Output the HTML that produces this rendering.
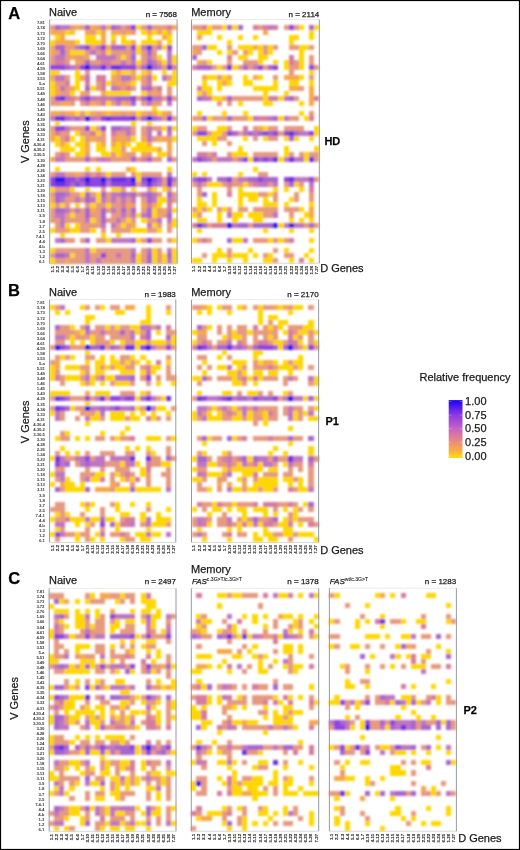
<!DOCTYPE html>
<html><head><meta charset="utf-8"><style>
html,body{margin:0;padding:0;background:#fff;}
body{width:520px;height:850px;overflow:hidden;}
svg{display:block;will-change:transform;}
text{font-family:"Liberation Sans",sans-serif;fill:#1a1a1a;stroke:#1a1a1a;stroke-width:0.25px;}
.vl{stroke-width:0px;}
.dl{stroke-width:0.12px;stroke:#2a2a2a;}
.sup{stroke-width:0.1px;}
.t{font-size:11px;}
.pl{font-size:16.5px;font-weight:bold;fill:#000;}
.bl{font-size:11px;font-weight:bold;fill:#000;}
.n{font-size:8px;}
.lg{font-size:11px;}
.vl{font-size:4.3px;font-weight:bold;text-anchor:end;fill:#3a3a3a;letter-spacing:-0.2px;}
.dl{font-size:4.3px;font-weight:bold;text-anchor:end;fill:#2a2a2a;}
.fas{font-size:8px;font-style:italic;}
.sup{font-size:5.1px;font-style:normal;}
</style></head><body>
<svg width="520" height="850" viewBox="0 0 520 850">
<defs><filter id="bl" x="-5%" y="-5%" width="110%" height="110%"><feGaussianBlur stdDeviation="0.8"/></filter></defs>
<rect x="0.5" y="0.5" width="519" height="849" fill="#fff" stroke="#000" stroke-width="1.2"/>
<g filter="url(#bl)" shape-rendering="crispEdges">
<rect x="49.70" y="24.68" width="5.10" height="5.08" fill="#E69A80"/>
<rect x="54.80" y="24.68" width="5.10" height="5.08" fill="#A666CE"/>
<rect x="59.89" y="24.68" width="5.10" height="5.08" fill="#BE76C2"/>
<rect x="64.99" y="24.68" width="5.10" height="5.08" fill="#BE76C2"/>
<rect x="70.08" y="24.68" width="5.10" height="5.08" fill="#E69A80"/>
<rect x="75.18" y="24.68" width="5.10" height="5.08" fill="#F6A84C"/>
<rect x="80.28" y="24.68" width="5.10" height="5.08" fill="#E69A80"/>
<rect x="85.37" y="24.68" width="5.10" height="5.08" fill="#A666CE"/>
<rect x="90.47" y="24.68" width="5.10" height="5.08" fill="#F6A84C"/>
<rect x="95.56" y="24.68" width="5.10" height="5.08" fill="#E69A80"/>
<rect x="100.66" y="24.68" width="5.10" height="5.08" fill="#BE76C2"/>
<rect x="105.76" y="24.68" width="5.10" height="5.08" fill="#F6A84C"/>
<rect x="110.85" y="24.68" width="5.10" height="5.08" fill="#A666CE"/>
<rect x="115.95" y="24.68" width="5.10" height="5.08" fill="#BE76C2"/>
<rect x="121.04" y="24.68" width="5.10" height="5.08" fill="#E69A80"/>
<rect x="126.14" y="24.68" width="5.10" height="5.08" fill="#D67C9E"/>
<rect x="131.24" y="24.68" width="5.10" height="5.08" fill="#9044DE"/>
<rect x="136.33" y="24.68" width="5.10" height="5.08" fill="#FFD700"/>
<rect x="141.43" y="24.68" width="5.10" height="5.08" fill="#E69A80"/>
<rect x="146.52" y="24.68" width="5.10" height="5.08" fill="#A666CE"/>
<rect x="151.62" y="24.68" width="5.10" height="5.08" fill="#E69A80"/>
<rect x="156.72" y="24.68" width="5.10" height="5.08" fill="#E69A80"/>
<rect x="161.81" y="24.68" width="5.10" height="5.08" fill="#E69A80"/>
<rect x="166.91" y="24.68" width="5.10" height="5.08" fill="#D67C9E"/>
<rect x="172.00" y="24.68" width="5.10" height="5.08" fill="#F6A84C"/>
<rect x="49.70" y="29.76" width="5.10" height="5.08" fill="#F6A84C"/>
<rect x="54.80" y="29.76" width="5.10" height="5.08" fill="#F6A84C"/>
<rect x="59.89" y="29.76" width="5.10" height="5.08" fill="#F6A84C"/>
<rect x="64.99" y="29.76" width="5.10" height="5.08" fill="#FFD700"/>
<rect x="70.08" y="29.76" width="5.10" height="5.08" fill="#FFC21E"/>
<rect x="85.37" y="29.76" width="5.10" height="5.08" fill="#F6A84C"/>
<rect x="90.47" y="29.76" width="5.10" height="5.08" fill="#E69A80"/>
<rect x="95.56" y="29.76" width="5.10" height="5.08" fill="#FFD700"/>
<rect x="100.66" y="29.76" width="5.10" height="5.08" fill="#F6A84C"/>
<rect x="110.85" y="29.76" width="5.10" height="5.08" fill="#F6A84C"/>
<rect x="115.95" y="29.76" width="5.10" height="5.08" fill="#F6A84C"/>
<rect x="121.04" y="29.76" width="5.10" height="5.08" fill="#E69A80"/>
<rect x="126.14" y="29.76" width="5.10" height="5.08" fill="#F6A84C"/>
<rect x="131.24" y="29.76" width="5.10" height="5.08" fill="#E69A80"/>
<rect x="141.43" y="29.76" width="5.10" height="5.08" fill="#FFD700"/>
<rect x="146.52" y="29.76" width="5.10" height="5.08" fill="#F6A84C"/>
<rect x="151.62" y="29.76" width="5.10" height="5.08" fill="#FFD700"/>
<rect x="156.72" y="29.76" width="5.10" height="5.08" fill="#F6A84C"/>
<rect x="161.81" y="29.76" width="5.10" height="5.08" fill="#FFD700"/>
<rect x="166.91" y="29.76" width="5.10" height="5.08" fill="#F6A84C"/>
<rect x="54.80" y="34.84" width="5.10" height="5.08" fill="#FFD700"/>
<rect x="59.89" y="34.84" width="5.10" height="5.08" fill="#F6A84C"/>
<rect x="85.37" y="34.84" width="5.10" height="5.08" fill="#FFD700"/>
<rect x="90.47" y="34.84" width="5.10" height="5.08" fill="#FFD700"/>
<rect x="100.66" y="34.84" width="5.10" height="5.08" fill="#F6A84C"/>
<rect x="110.85" y="34.84" width="5.10" height="5.08" fill="#FFD700"/>
<rect x="121.04" y="34.84" width="5.10" height="5.08" fill="#FFD700"/>
<rect x="146.52" y="34.84" width="5.10" height="5.08" fill="#FFD700"/>
<rect x="161.81" y="34.84" width="5.10" height="5.08" fill="#F6A84C"/>
<rect x="166.91" y="34.84" width="5.10" height="5.08" fill="#FFD700"/>
<rect x="49.70" y="39.92" width="5.10" height="5.08" fill="#FFD700"/>
<rect x="54.80" y="39.92" width="5.10" height="5.08" fill="#F6A84C"/>
<rect x="59.89" y="39.92" width="5.10" height="5.08" fill="#F6A84C"/>
<rect x="64.99" y="39.92" width="5.10" height="5.08" fill="#F6A84C"/>
<rect x="70.08" y="39.92" width="5.10" height="5.08" fill="#F6A84C"/>
<rect x="75.18" y="39.92" width="5.10" height="5.08" fill="#FFD700"/>
<rect x="85.37" y="39.92" width="5.10" height="5.08" fill="#FFD700"/>
<rect x="90.47" y="39.92" width="5.10" height="5.08" fill="#FFD700"/>
<rect x="95.56" y="39.92" width="5.10" height="5.08" fill="#FFD700"/>
<rect x="100.66" y="39.92" width="5.10" height="5.08" fill="#F6A84C"/>
<rect x="110.85" y="39.92" width="5.10" height="5.08" fill="#F6A84C"/>
<rect x="121.04" y="39.92" width="5.10" height="5.08" fill="#FFD700"/>
<rect x="126.14" y="39.92" width="5.10" height="5.08" fill="#FFD700"/>
<rect x="131.24" y="39.92" width="5.10" height="5.08" fill="#F6A84C"/>
<rect x="141.43" y="39.92" width="5.10" height="5.08" fill="#FFD700"/>
<rect x="146.52" y="39.92" width="5.10" height="5.08" fill="#FFD700"/>
<rect x="151.62" y="39.92" width="5.10" height="5.08" fill="#FFD700"/>
<rect x="156.72" y="39.92" width="5.10" height="5.08" fill="#F6A84C"/>
<rect x="166.91" y="39.92" width="5.10" height="5.08" fill="#FFD700"/>
<rect x="49.70" y="45.01" width="5.10" height="5.08" fill="#F6A84C"/>
<rect x="54.80" y="45.01" width="5.10" height="5.08" fill="#A666CE"/>
<rect x="59.89" y="45.01" width="5.10" height="5.08" fill="#A666CE"/>
<rect x="64.99" y="45.01" width="5.10" height="5.08" fill="#E69A80"/>
<rect x="70.08" y="45.01" width="5.10" height="5.08" fill="#E69A80"/>
<rect x="75.18" y="45.01" width="5.10" height="5.08" fill="#BE76C2"/>
<rect x="80.28" y="45.01" width="5.10" height="5.08" fill="#A666CE"/>
<rect x="85.37" y="45.01" width="5.10" height="5.08" fill="#9044DE"/>
<rect x="90.47" y="45.01" width="5.10" height="5.08" fill="#E69A80"/>
<rect x="95.56" y="45.01" width="5.10" height="5.08" fill="#BE76C2"/>
<rect x="100.66" y="45.01" width="5.10" height="5.08" fill="#9044DE"/>
<rect x="105.76" y="45.01" width="5.10" height="5.08" fill="#F6A84C"/>
<rect x="110.85" y="45.01" width="5.10" height="5.08" fill="#A666CE"/>
<rect x="115.95" y="45.01" width="5.10" height="5.08" fill="#A666CE"/>
<rect x="121.04" y="45.01" width="5.10" height="5.08" fill="#A666CE"/>
<rect x="126.14" y="45.01" width="5.10" height="5.08" fill="#E69A80"/>
<rect x="131.24" y="45.01" width="5.10" height="5.08" fill="#9044DE"/>
<rect x="136.33" y="45.01" width="5.10" height="5.08" fill="#FFD700"/>
<rect x="141.43" y="45.01" width="5.10" height="5.08" fill="#BE76C2"/>
<rect x="146.52" y="45.01" width="5.10" height="5.08" fill="#6A30E6"/>
<rect x="151.62" y="45.01" width="5.10" height="5.08" fill="#E69A80"/>
<rect x="156.72" y="45.01" width="5.10" height="5.08" fill="#BE76C2"/>
<rect x="161.81" y="45.01" width="5.10" height="5.08" fill="#FFD700"/>
<rect x="166.91" y="45.01" width="5.10" height="5.08" fill="#9044DE"/>
<rect x="49.70" y="50.09" width="5.10" height="5.08" fill="#F6A84C"/>
<rect x="54.80" y="50.09" width="5.10" height="5.08" fill="#E69A80"/>
<rect x="59.89" y="50.09" width="5.10" height="5.08" fill="#A666CE"/>
<rect x="64.99" y="50.09" width="5.10" height="5.08" fill="#E69A80"/>
<rect x="70.08" y="50.09" width="5.10" height="5.08" fill="#FFD700"/>
<rect x="75.18" y="50.09" width="5.10" height="5.08" fill="#FFD700"/>
<rect x="80.28" y="50.09" width="5.10" height="5.08" fill="#FFD700"/>
<rect x="85.37" y="50.09" width="5.10" height="5.08" fill="#E69A80"/>
<rect x="90.47" y="50.09" width="5.10" height="5.08" fill="#BE76C2"/>
<rect x="95.56" y="50.09" width="5.10" height="5.08" fill="#E69A80"/>
<rect x="100.66" y="50.09" width="5.10" height="5.08" fill="#D67C9E"/>
<rect x="105.76" y="50.09" width="5.10" height="5.08" fill="#FFD700"/>
<rect x="110.85" y="50.09" width="5.10" height="5.08" fill="#E69A80"/>
<rect x="115.95" y="50.09" width="5.10" height="5.08" fill="#E69A80"/>
<rect x="121.04" y="50.09" width="5.10" height="5.08" fill="#E69A80"/>
<rect x="126.14" y="50.09" width="5.10" height="5.08" fill="#E69A80"/>
<rect x="131.24" y="50.09" width="5.10" height="5.08" fill="#BE76C2"/>
<rect x="136.33" y="50.09" width="5.10" height="5.08" fill="#FFD700"/>
<rect x="141.43" y="50.09" width="5.10" height="5.08" fill="#E69A80"/>
<rect x="146.52" y="50.09" width="5.10" height="5.08" fill="#A666CE"/>
<rect x="151.62" y="50.09" width="5.10" height="5.08" fill="#E69A80"/>
<rect x="166.91" y="50.09" width="5.10" height="5.08" fill="#BE76C2"/>
<rect x="49.70" y="55.17" width="5.10" height="5.08" fill="#E69A80"/>
<rect x="54.80" y="55.17" width="5.10" height="5.08" fill="#BE76C2"/>
<rect x="59.89" y="55.17" width="5.10" height="5.08" fill="#BE76C2"/>
<rect x="64.99" y="55.17" width="5.10" height="5.08" fill="#E69A80"/>
<rect x="70.08" y="55.17" width="5.10" height="5.08" fill="#F6A84C"/>
<rect x="75.18" y="55.17" width="5.10" height="5.08" fill="#E69A80"/>
<rect x="80.28" y="55.17" width="5.10" height="5.08" fill="#E69A80"/>
<rect x="85.37" y="55.17" width="5.10" height="5.08" fill="#F6A84C"/>
<rect x="95.56" y="55.17" width="5.10" height="5.08" fill="#BE76C2"/>
<rect x="100.66" y="55.17" width="5.10" height="5.08" fill="#BE76C2"/>
<rect x="105.76" y="55.17" width="5.10" height="5.08" fill="#BE76C2"/>
<rect x="110.85" y="55.17" width="5.10" height="5.08" fill="#BE76C2"/>
<rect x="115.95" y="55.17" width="5.10" height="5.08" fill="#E69A80"/>
<rect x="121.04" y="55.17" width="5.10" height="5.08" fill="#FFD700"/>
<rect x="126.14" y="55.17" width="5.10" height="5.08" fill="#E69A80"/>
<rect x="131.24" y="55.17" width="5.10" height="5.08" fill="#A666CE"/>
<rect x="141.43" y="55.17" width="5.10" height="5.08" fill="#E69A80"/>
<rect x="146.52" y="55.17" width="5.10" height="5.08" fill="#BE76C2"/>
<rect x="151.62" y="55.17" width="5.10" height="5.08" fill="#E69A80"/>
<rect x="156.72" y="55.17" width="5.10" height="5.08" fill="#FFD700"/>
<rect x="166.91" y="55.17" width="5.10" height="5.08" fill="#BE76C2"/>
<rect x="172.00" y="55.17" width="5.10" height="5.08" fill="#FFD700"/>
<rect x="49.70" y="60.25" width="5.10" height="5.08" fill="#E69A80"/>
<rect x="54.80" y="60.25" width="5.10" height="5.08" fill="#D67C9E"/>
<rect x="59.89" y="60.25" width="5.10" height="5.08" fill="#D67C9E"/>
<rect x="64.99" y="60.25" width="5.10" height="5.08" fill="#E69A80"/>
<rect x="75.18" y="60.25" width="5.10" height="5.08" fill="#F6A84C"/>
<rect x="80.28" y="60.25" width="5.10" height="5.08" fill="#E69A80"/>
<rect x="85.37" y="60.25" width="5.10" height="5.08" fill="#A666CE"/>
<rect x="90.47" y="60.25" width="5.10" height="5.08" fill="#E69A80"/>
<rect x="95.56" y="60.25" width="5.10" height="5.08" fill="#E69A80"/>
<rect x="100.66" y="60.25" width="5.10" height="5.08" fill="#D67C9E"/>
<rect x="105.76" y="60.25" width="5.10" height="5.08" fill="#D67C9E"/>
<rect x="110.85" y="60.25" width="5.10" height="5.08" fill="#E69A80"/>
<rect x="115.95" y="60.25" width="5.10" height="5.08" fill="#E69A80"/>
<rect x="121.04" y="60.25" width="5.10" height="5.08" fill="#BE76C2"/>
<rect x="126.14" y="60.25" width="5.10" height="5.08" fill="#E69A80"/>
<rect x="131.24" y="60.25" width="5.10" height="5.08" fill="#BE76C2"/>
<rect x="136.33" y="60.25" width="5.10" height="5.08" fill="#FFD700"/>
<rect x="141.43" y="60.25" width="5.10" height="5.08" fill="#E69A80"/>
<rect x="146.52" y="60.25" width="5.10" height="5.08" fill="#A666CE"/>
<rect x="151.62" y="60.25" width="5.10" height="5.08" fill="#BE76C2"/>
<rect x="156.72" y="60.25" width="5.10" height="5.08" fill="#E69A80"/>
<rect x="161.81" y="60.25" width="5.10" height="5.08" fill="#FFD700"/>
<rect x="166.91" y="60.25" width="5.10" height="5.08" fill="#BE76C2"/>
<rect x="172.00" y="60.25" width="5.10" height="5.08" fill="#FFD700"/>
<rect x="49.70" y="65.33" width="5.10" height="5.08" fill="#9044DE"/>
<rect x="54.80" y="65.33" width="5.10" height="5.08" fill="#9044DE"/>
<rect x="59.89" y="65.33" width="5.10" height="5.08" fill="#9044DE"/>
<rect x="64.99" y="65.33" width="5.10" height="5.08" fill="#A666CE"/>
<rect x="70.08" y="65.33" width="5.10" height="5.08" fill="#BE76C2"/>
<rect x="75.18" y="65.33" width="5.10" height="5.08" fill="#D67C9E"/>
<rect x="80.28" y="65.33" width="5.10" height="5.08" fill="#9044DE"/>
<rect x="85.37" y="65.33" width="5.10" height="5.08" fill="#2A12EE"/>
<rect x="90.47" y="65.33" width="5.10" height="5.08" fill="#A666CE"/>
<rect x="95.56" y="65.33" width="5.10" height="5.08" fill="#A666CE"/>
<rect x="100.66" y="65.33" width="5.10" height="5.08" fill="#6A30E6"/>
<rect x="105.76" y="65.33" width="5.10" height="5.08" fill="#BE76C2"/>
<rect x="110.85" y="65.33" width="5.10" height="5.08" fill="#6A30E6"/>
<rect x="115.95" y="65.33" width="5.10" height="5.08" fill="#6A30E6"/>
<rect x="121.04" y="65.33" width="5.10" height="5.08" fill="#9044DE"/>
<rect x="126.14" y="65.33" width="5.10" height="5.08" fill="#9044DE"/>
<rect x="131.24" y="65.33" width="5.10" height="5.08" fill="#9044DE"/>
<rect x="136.33" y="65.33" width="5.10" height="5.08" fill="#E69A80"/>
<rect x="141.43" y="65.33" width="5.10" height="5.08" fill="#A666CE"/>
<rect x="146.52" y="65.33" width="5.10" height="5.08" fill="#2A12EE"/>
<rect x="151.62" y="65.33" width="5.10" height="5.08" fill="#A666CE"/>
<rect x="156.72" y="65.33" width="5.10" height="5.08" fill="#BE76C2"/>
<rect x="161.81" y="65.33" width="5.10" height="5.08" fill="#E69A80"/>
<rect x="166.91" y="65.33" width="5.10" height="5.08" fill="#6A30E6"/>
<rect x="172.00" y="65.33" width="5.10" height="5.08" fill="#D67C9E"/>
<rect x="49.70" y="70.41" width="5.10" height="5.08" fill="#FFD700"/>
<rect x="54.80" y="70.41" width="5.10" height="5.08" fill="#FFD700"/>
<rect x="75.18" y="70.41" width="5.10" height="5.08" fill="#FFD700"/>
<rect x="85.37" y="70.41" width="5.10" height="5.08" fill="#E69A80"/>
<rect x="110.85" y="70.41" width="5.10" height="5.08" fill="#FFD700"/>
<rect x="115.95" y="70.41" width="5.10" height="5.08" fill="#F6A84C"/>
<rect x="121.04" y="70.41" width="5.10" height="5.08" fill="#FFD700"/>
<rect x="126.14" y="70.41" width="5.10" height="5.08" fill="#FFD700"/>
<rect x="131.24" y="70.41" width="5.10" height="5.08" fill="#F6A84C"/>
<rect x="141.43" y="70.41" width="5.10" height="5.08" fill="#FFD700"/>
<rect x="146.52" y="70.41" width="5.10" height="5.08" fill="#F6A84C"/>
<rect x="161.81" y="70.41" width="5.10" height="5.08" fill="#FFD700"/>
<rect x="172.00" y="70.41" width="5.10" height="5.08" fill="#FFD700"/>
<rect x="49.70" y="75.49" width="5.10" height="5.08" fill="#F6A84C"/>
<rect x="54.80" y="75.49" width="5.10" height="5.08" fill="#BE76C2"/>
<rect x="59.89" y="75.49" width="5.10" height="5.08" fill="#BE76C2"/>
<rect x="64.99" y="75.49" width="5.10" height="5.08" fill="#E69A80"/>
<rect x="75.18" y="75.49" width="5.10" height="5.08" fill="#FFD700"/>
<rect x="80.28" y="75.49" width="5.10" height="5.08" fill="#F6A84C"/>
<rect x="85.37" y="75.49" width="5.10" height="5.08" fill="#BE76C2"/>
<rect x="95.56" y="75.49" width="5.10" height="5.08" fill="#D67C9E"/>
<rect x="100.66" y="75.49" width="5.10" height="5.08" fill="#D67C9E"/>
<rect x="110.85" y="75.49" width="5.10" height="5.08" fill="#F6A84C"/>
<rect x="115.95" y="75.49" width="5.10" height="5.08" fill="#E69A80"/>
<rect x="121.04" y="75.49" width="5.10" height="5.08" fill="#BE76C2"/>
<rect x="126.14" y="75.49" width="5.10" height="5.08" fill="#BE76C2"/>
<rect x="131.24" y="75.49" width="5.10" height="5.08" fill="#E69A80"/>
<rect x="136.33" y="75.49" width="5.10" height="5.08" fill="#FFD700"/>
<rect x="141.43" y="75.49" width="5.10" height="5.08" fill="#E69A80"/>
<rect x="146.52" y="75.49" width="5.10" height="5.08" fill="#BE76C2"/>
<rect x="151.62" y="75.49" width="5.10" height="5.08" fill="#FFD700"/>
<rect x="161.81" y="75.49" width="5.10" height="5.08" fill="#BE76C2"/>
<rect x="166.91" y="75.49" width="5.10" height="5.08" fill="#E69A80"/>
<rect x="172.00" y="75.49" width="5.10" height="5.08" fill="#FFD700"/>
<rect x="49.70" y="80.57" width="5.10" height="5.08" fill="#FFD700"/>
<rect x="54.80" y="80.57" width="5.10" height="5.08" fill="#E69A80"/>
<rect x="59.89" y="80.57" width="5.10" height="5.08" fill="#E69A80"/>
<rect x="64.99" y="80.57" width="5.10" height="5.08" fill="#D67C9E"/>
<rect x="75.18" y="80.57" width="5.10" height="5.08" fill="#FFD700"/>
<rect x="85.37" y="80.57" width="5.10" height="5.08" fill="#D67C9E"/>
<rect x="95.56" y="80.57" width="5.10" height="5.08" fill="#E69A80"/>
<rect x="100.66" y="80.57" width="5.10" height="5.08" fill="#D67C9E"/>
<rect x="105.76" y="80.57" width="5.10" height="5.08" fill="#FFD700"/>
<rect x="110.85" y="80.57" width="5.10" height="5.08" fill="#E69A80"/>
<rect x="115.95" y="80.57" width="5.10" height="5.08" fill="#F6A84C"/>
<rect x="121.04" y="80.57" width="5.10" height="5.08" fill="#E69A80"/>
<rect x="126.14" y="80.57" width="5.10" height="5.08" fill="#F6A84C"/>
<rect x="131.24" y="80.57" width="5.10" height="5.08" fill="#FFD700"/>
<rect x="141.43" y="80.57" width="5.10" height="5.08" fill="#E69A80"/>
<rect x="146.52" y="80.57" width="5.10" height="5.08" fill="#D67C9E"/>
<rect x="166.91" y="80.57" width="5.10" height="5.08" fill="#FFD700"/>
<rect x="172.00" y="80.57" width="5.10" height="5.08" fill="#FFD700"/>
<rect x="49.70" y="85.66" width="5.10" height="5.08" fill="#FFD700"/>
<rect x="54.80" y="85.66" width="5.10" height="5.08" fill="#F6A84C"/>
<rect x="59.89" y="85.66" width="5.10" height="5.08" fill="#BE76C2"/>
<rect x="64.99" y="85.66" width="5.10" height="5.08" fill="#E69A80"/>
<rect x="70.08" y="85.66" width="5.10" height="5.08" fill="#F6A84C"/>
<rect x="75.18" y="85.66" width="5.10" height="5.08" fill="#FFD700"/>
<rect x="85.37" y="85.66" width="5.10" height="5.08" fill="#A666CE"/>
<rect x="90.47" y="85.66" width="5.10" height="5.08" fill="#FFD700"/>
<rect x="95.56" y="85.66" width="5.10" height="5.08" fill="#E69A80"/>
<rect x="100.66" y="85.66" width="5.10" height="5.08" fill="#D67C9E"/>
<rect x="110.85" y="85.66" width="5.10" height="5.08" fill="#BE76C2"/>
<rect x="115.95" y="85.66" width="5.10" height="5.08" fill="#D67C9E"/>
<rect x="121.04" y="85.66" width="5.10" height="5.08" fill="#E69A80"/>
<rect x="126.14" y="85.66" width="5.10" height="5.08" fill="#D67C9E"/>
<rect x="131.24" y="85.66" width="5.10" height="5.08" fill="#E69A80"/>
<rect x="141.43" y="85.66" width="5.10" height="5.08" fill="#BE76C2"/>
<rect x="146.52" y="85.66" width="5.10" height="5.08" fill="#A666CE"/>
<rect x="151.62" y="85.66" width="5.10" height="5.08" fill="#E69A80"/>
<rect x="156.72" y="85.66" width="5.10" height="5.08" fill="#D67C9E"/>
<rect x="166.91" y="85.66" width="5.10" height="5.08" fill="#E69A80"/>
<rect x="49.70" y="90.74" width="5.10" height="5.08" fill="#FFD700"/>
<rect x="54.80" y="90.74" width="5.10" height="5.08" fill="#F6A84C"/>
<rect x="59.89" y="90.74" width="5.10" height="5.08" fill="#E69A80"/>
<rect x="64.99" y="90.74" width="5.10" height="5.08" fill="#E69A80"/>
<rect x="70.08" y="90.74" width="5.10" height="5.08" fill="#FFD700"/>
<rect x="80.28" y="90.74" width="5.10" height="5.08" fill="#F6A84C"/>
<rect x="85.37" y="90.74" width="5.10" height="5.08" fill="#E69A80"/>
<rect x="100.66" y="90.74" width="5.10" height="5.08" fill="#F6A84C"/>
<rect x="105.76" y="90.74" width="5.10" height="5.08" fill="#FFD700"/>
<rect x="110.85" y="90.74" width="5.10" height="5.08" fill="#FFD700"/>
<rect x="115.95" y="90.74" width="5.10" height="5.08" fill="#FFD700"/>
<rect x="121.04" y="90.74" width="5.10" height="5.08" fill="#FFD700"/>
<rect x="126.14" y="90.74" width="5.10" height="5.08" fill="#FFD700"/>
<rect x="141.43" y="90.74" width="5.10" height="5.08" fill="#FFD700"/>
<rect x="146.52" y="90.74" width="5.10" height="5.08" fill="#E69A80"/>
<rect x="151.62" y="90.74" width="5.10" height="5.08" fill="#F6A84C"/>
<rect x="156.72" y="90.74" width="5.10" height="5.08" fill="#E69A80"/>
<rect x="166.91" y="90.74" width="5.10" height="5.08" fill="#E69A80"/>
<rect x="49.70" y="95.82" width="5.10" height="5.08" fill="#E69A80"/>
<rect x="54.80" y="95.82" width="5.10" height="5.08" fill="#9044DE"/>
<rect x="59.89" y="95.82" width="5.10" height="5.08" fill="#6A30E6"/>
<rect x="64.99" y="95.82" width="5.10" height="5.08" fill="#BE76C2"/>
<rect x="70.08" y="95.82" width="5.10" height="5.08" fill="#D67C9E"/>
<rect x="75.18" y="95.82" width="5.10" height="5.08" fill="#E69A80"/>
<rect x="80.28" y="95.82" width="5.10" height="5.08" fill="#A666CE"/>
<rect x="85.37" y="95.82" width="5.10" height="5.08" fill="#9044DE"/>
<rect x="90.47" y="95.82" width="5.10" height="5.08" fill="#BE76C2"/>
<rect x="95.56" y="95.82" width="5.10" height="5.08" fill="#D67C9E"/>
<rect x="100.66" y="95.82" width="5.10" height="5.08" fill="#BE76C2"/>
<rect x="105.76" y="95.82" width="5.10" height="5.08" fill="#D67C9E"/>
<rect x="110.85" y="95.82" width="5.10" height="5.08" fill="#BE76C2"/>
<rect x="115.95" y="95.82" width="5.10" height="5.08" fill="#A666CE"/>
<rect x="121.04" y="95.82" width="5.10" height="5.08" fill="#A666CE"/>
<rect x="126.14" y="95.82" width="5.10" height="5.08" fill="#A666CE"/>
<rect x="131.24" y="95.82" width="5.10" height="5.08" fill="#9044DE"/>
<rect x="136.33" y="95.82" width="5.10" height="5.08" fill="#E69A80"/>
<rect x="141.43" y="95.82" width="5.10" height="5.08" fill="#A666CE"/>
<rect x="146.52" y="95.82" width="5.10" height="5.08" fill="#6A30E6"/>
<rect x="151.62" y="95.82" width="5.10" height="5.08" fill="#BE76C2"/>
<rect x="156.72" y="95.82" width="5.10" height="5.08" fill="#BE76C2"/>
<rect x="161.81" y="95.82" width="5.10" height="5.08" fill="#E69A80"/>
<rect x="166.91" y="95.82" width="5.10" height="5.08" fill="#9044DE"/>
<rect x="172.00" y="95.82" width="5.10" height="5.08" fill="#E69A80"/>
<rect x="49.70" y="100.90" width="5.10" height="5.08" fill="#E69A80"/>
<rect x="54.80" y="100.90" width="5.10" height="5.08" fill="#E69A80"/>
<rect x="59.89" y="100.90" width="5.10" height="5.08" fill="#F6A84C"/>
<rect x="64.99" y="100.90" width="5.10" height="5.08" fill="#F6A84C"/>
<rect x="70.08" y="100.90" width="5.10" height="5.08" fill="#E69A80"/>
<rect x="80.28" y="100.90" width="5.10" height="5.08" fill="#E69A80"/>
<rect x="85.37" y="100.90" width="5.10" height="5.08" fill="#D67C9E"/>
<rect x="90.47" y="100.90" width="5.10" height="5.08" fill="#F6A84C"/>
<rect x="95.56" y="100.90" width="5.10" height="5.08" fill="#E69A80"/>
<rect x="100.66" y="100.90" width="5.10" height="5.08" fill="#D67C9E"/>
<rect x="105.76" y="100.90" width="5.10" height="5.08" fill="#FFD700"/>
<rect x="110.85" y="100.90" width="5.10" height="5.08" fill="#E69A80"/>
<rect x="115.95" y="100.90" width="5.10" height="5.08" fill="#BE76C2"/>
<rect x="121.04" y="100.90" width="5.10" height="5.08" fill="#F6A84C"/>
<rect x="126.14" y="100.90" width="5.10" height="5.08" fill="#E69A80"/>
<rect x="131.24" y="100.90" width="5.10" height="5.08" fill="#A666CE"/>
<rect x="141.43" y="100.90" width="5.10" height="5.08" fill="#E69A80"/>
<rect x="146.52" y="100.90" width="5.10" height="5.08" fill="#BE76C2"/>
<rect x="151.62" y="100.90" width="5.10" height="5.08" fill="#E69A80"/>
<rect x="156.72" y="100.90" width="5.10" height="5.08" fill="#E69A80"/>
<rect x="166.91" y="100.90" width="5.10" height="5.08" fill="#BE76C2"/>
<rect x="151.62" y="105.98" width="5.10" height="5.08" fill="#FFD700"/>
<rect x="49.70" y="111.06" width="5.10" height="5.08" fill="#F6A84C"/>
<rect x="54.80" y="111.06" width="5.10" height="5.08" fill="#F6A84C"/>
<rect x="59.89" y="111.06" width="5.10" height="5.08" fill="#E69A80"/>
<rect x="64.99" y="111.06" width="5.10" height="5.08" fill="#F6A84C"/>
<rect x="70.08" y="111.06" width="5.10" height="5.08" fill="#F6A84C"/>
<rect x="75.18" y="111.06" width="5.10" height="5.08" fill="#FFD700"/>
<rect x="80.28" y="111.06" width="5.10" height="5.08" fill="#E69A80"/>
<rect x="85.37" y="111.06" width="5.10" height="5.08" fill="#FFD700"/>
<rect x="90.47" y="111.06" width="5.10" height="5.08" fill="#F6A84C"/>
<rect x="95.56" y="111.06" width="5.10" height="5.08" fill="#E69A80"/>
<rect x="100.66" y="111.06" width="5.10" height="5.08" fill="#F6A84C"/>
<rect x="105.76" y="111.06" width="5.10" height="5.08" fill="#FFC21E"/>
<rect x="110.85" y="111.06" width="5.10" height="5.08" fill="#F6A84C"/>
<rect x="115.95" y="111.06" width="5.10" height="5.08" fill="#F6A84C"/>
<rect x="121.04" y="111.06" width="5.10" height="5.08" fill="#E69A80"/>
<rect x="126.14" y="111.06" width="5.10" height="5.08" fill="#F6A84C"/>
<rect x="131.24" y="111.06" width="5.10" height="5.08" fill="#E69A80"/>
<rect x="136.33" y="111.06" width="5.10" height="5.08" fill="#FFD700"/>
<rect x="141.43" y="111.06" width="5.10" height="5.08" fill="#F6A84C"/>
<rect x="146.52" y="111.06" width="5.10" height="5.08" fill="#E69A80"/>
<rect x="151.62" y="111.06" width="5.10" height="5.08" fill="#F6A84C"/>
<rect x="156.72" y="111.06" width="5.10" height="5.08" fill="#FFD700"/>
<rect x="161.81" y="111.06" width="5.10" height="5.08" fill="#F6A84C"/>
<rect x="166.91" y="111.06" width="5.10" height="5.08" fill="#E69A80"/>
<rect x="49.70" y="116.14" width="5.10" height="5.08" fill="#BE76C2"/>
<rect x="54.80" y="116.14" width="5.10" height="5.08" fill="#6A30E6"/>
<rect x="59.89" y="116.14" width="5.10" height="5.08" fill="#6A30E6"/>
<rect x="64.99" y="116.14" width="5.10" height="5.08" fill="#A666CE"/>
<rect x="70.08" y="116.14" width="5.10" height="5.08" fill="#BE76C2"/>
<rect x="75.18" y="116.14" width="5.10" height="5.08" fill="#A666CE"/>
<rect x="80.28" y="116.14" width="5.10" height="5.08" fill="#D67C9E"/>
<rect x="85.37" y="116.14" width="5.10" height="5.08" fill="#2A12EE"/>
<rect x="90.47" y="116.14" width="5.10" height="5.08" fill="#BE76C2"/>
<rect x="95.56" y="116.14" width="5.10" height="5.08" fill="#D67C9E"/>
<rect x="100.66" y="116.14" width="5.10" height="5.08" fill="#9044DE"/>
<rect x="105.76" y="116.14" width="5.10" height="5.08" fill="#6A30E6"/>
<rect x="110.85" y="116.14" width="5.10" height="5.08" fill="#9044DE"/>
<rect x="115.95" y="116.14" width="5.10" height="5.08" fill="#9044DE"/>
<rect x="121.04" y="116.14" width="5.10" height="5.08" fill="#9044DE"/>
<rect x="126.14" y="116.14" width="5.10" height="5.08" fill="#9044DE"/>
<rect x="131.24" y="116.14" width="5.10" height="5.08" fill="#6A30E6"/>
<rect x="136.33" y="116.14" width="5.10" height="5.08" fill="#E69A80"/>
<rect x="141.43" y="116.14" width="5.10" height="5.08" fill="#A666CE"/>
<rect x="146.52" y="116.14" width="5.10" height="5.08" fill="#2A12EE"/>
<rect x="151.62" y="116.14" width="5.10" height="5.08" fill="#A666CE"/>
<rect x="156.72" y="116.14" width="5.10" height="5.08" fill="#BE76C2"/>
<rect x="161.81" y="116.14" width="5.10" height="5.08" fill="#E69A80"/>
<rect x="166.91" y="116.14" width="5.10" height="5.08" fill="#6A30E6"/>
<rect x="172.00" y="116.14" width="5.10" height="5.08" fill="#E69A80"/>
<rect x="54.80" y="121.22" width="5.10" height="5.08" fill="#FFD700"/>
<rect x="131.24" y="121.22" width="5.10" height="5.08" fill="#FFD700"/>
<rect x="146.52" y="121.22" width="5.10" height="5.08" fill="#FFD700"/>
<rect x="49.70" y="126.31" width="5.10" height="5.08" fill="#E69A80"/>
<rect x="54.80" y="126.31" width="5.10" height="5.08" fill="#9044DE"/>
<rect x="59.89" y="126.31" width="5.10" height="5.08" fill="#9044DE"/>
<rect x="64.99" y="126.31" width="5.10" height="5.08" fill="#BE76C2"/>
<rect x="70.08" y="126.31" width="5.10" height="5.08" fill="#E69A80"/>
<rect x="75.18" y="126.31" width="5.10" height="5.08" fill="#E69A80"/>
<rect x="80.28" y="126.31" width="5.10" height="5.08" fill="#E69A80"/>
<rect x="85.37" y="126.31" width="5.10" height="5.08" fill="#9044DE"/>
<rect x="90.47" y="126.31" width="5.10" height="5.08" fill="#FFD700"/>
<rect x="95.56" y="126.31" width="5.10" height="5.08" fill="#E69A80"/>
<rect x="100.66" y="126.31" width="5.10" height="5.08" fill="#9044DE"/>
<rect x="110.85" y="126.31" width="5.10" height="5.08" fill="#A666CE"/>
<rect x="115.95" y="126.31" width="5.10" height="5.08" fill="#A666CE"/>
<rect x="121.04" y="126.31" width="5.10" height="5.08" fill="#BE76C2"/>
<rect x="126.14" y="126.31" width="5.10" height="5.08" fill="#BE76C2"/>
<rect x="131.24" y="126.31" width="5.10" height="5.08" fill="#E69A80"/>
<rect x="141.43" y="126.31" width="5.10" height="5.08" fill="#E69A80"/>
<rect x="146.52" y="126.31" width="5.10" height="5.08" fill="#BE76C2"/>
<rect x="151.62" y="126.31" width="5.10" height="5.08" fill="#E69A80"/>
<rect x="156.72" y="126.31" width="5.10" height="5.08" fill="#E69A80"/>
<rect x="161.81" y="126.31" width="5.10" height="5.08" fill="#FFD700"/>
<rect x="166.91" y="126.31" width="5.10" height="5.08" fill="#A666CE"/>
<rect x="172.00" y="126.31" width="5.10" height="5.08" fill="#FFD700"/>
<rect x="49.70" y="131.39" width="5.10" height="5.08" fill="#F6A84C"/>
<rect x="54.80" y="131.39" width="5.10" height="5.08" fill="#D67C9E"/>
<rect x="59.89" y="131.39" width="5.10" height="5.08" fill="#E69A80"/>
<rect x="64.99" y="131.39" width="5.10" height="5.08" fill="#E69A80"/>
<rect x="75.18" y="131.39" width="5.10" height="5.08" fill="#FFD700"/>
<rect x="80.28" y="131.39" width="5.10" height="5.08" fill="#E69A80"/>
<rect x="85.37" y="131.39" width="5.10" height="5.08" fill="#E69A80"/>
<rect x="90.47" y="131.39" width="5.10" height="5.08" fill="#D67C9E"/>
<rect x="95.56" y="131.39" width="5.10" height="5.08" fill="#FFD700"/>
<rect x="100.66" y="131.39" width="5.10" height="5.08" fill="#E69A80"/>
<rect x="110.85" y="131.39" width="5.10" height="5.08" fill="#D67C9E"/>
<rect x="115.95" y="131.39" width="5.10" height="5.08" fill="#E69A80"/>
<rect x="121.04" y="131.39" width="5.10" height="5.08" fill="#E69A80"/>
<rect x="126.14" y="131.39" width="5.10" height="5.08" fill="#BE76C2"/>
<rect x="131.24" y="131.39" width="5.10" height="5.08" fill="#E69A80"/>
<rect x="141.43" y="131.39" width="5.10" height="5.08" fill="#E69A80"/>
<rect x="146.52" y="131.39" width="5.10" height="5.08" fill="#BE76C2"/>
<rect x="156.72" y="131.39" width="5.10" height="5.08" fill="#BE76C2"/>
<rect x="166.91" y="131.39" width="5.10" height="5.08" fill="#BE76C2"/>
<rect x="49.70" y="136.47" width="5.10" height="5.08" fill="#F6A84C"/>
<rect x="54.80" y="136.47" width="5.10" height="5.08" fill="#FFD700"/>
<rect x="59.89" y="136.47" width="5.10" height="5.08" fill="#E69A80"/>
<rect x="64.99" y="136.47" width="5.10" height="5.08" fill="#D67C9E"/>
<rect x="70.08" y="136.47" width="5.10" height="5.08" fill="#FFD700"/>
<rect x="80.28" y="136.47" width="5.10" height="5.08" fill="#FFD700"/>
<rect x="85.37" y="136.47" width="5.10" height="5.08" fill="#E69A80"/>
<rect x="90.47" y="136.47" width="5.10" height="5.08" fill="#F6A84C"/>
<rect x="95.56" y="136.47" width="5.10" height="5.08" fill="#E69A80"/>
<rect x="100.66" y="136.47" width="5.10" height="5.08" fill="#E69A80"/>
<rect x="110.85" y="136.47" width="5.10" height="5.08" fill="#E69A80"/>
<rect x="115.95" y="136.47" width="5.10" height="5.08" fill="#F6A84C"/>
<rect x="121.04" y="136.47" width="5.10" height="5.08" fill="#F6A84C"/>
<rect x="126.14" y="136.47" width="5.10" height="5.08" fill="#E69A80"/>
<rect x="131.24" y="136.47" width="5.10" height="5.08" fill="#FFD700"/>
<rect x="141.43" y="136.47" width="5.10" height="5.08" fill="#F6A84C"/>
<rect x="146.52" y="136.47" width="5.10" height="5.08" fill="#BE76C2"/>
<rect x="151.62" y="136.47" width="5.10" height="5.08" fill="#E69A80"/>
<rect x="156.72" y="136.47" width="5.10" height="5.08" fill="#F6A84C"/>
<rect x="161.81" y="136.47" width="5.10" height="5.08" fill="#F6A84C"/>
<rect x="166.91" y="136.47" width="5.10" height="5.08" fill="#E69A80"/>
<rect x="172.00" y="136.47" width="5.10" height="5.08" fill="#FFD700"/>
<rect x="54.80" y="141.55" width="5.10" height="5.08" fill="#FFD700"/>
<rect x="59.89" y="141.55" width="5.10" height="5.08" fill="#F6A84C"/>
<rect x="64.99" y="141.55" width="5.10" height="5.08" fill="#FFD700"/>
<rect x="75.18" y="141.55" width="5.10" height="5.08" fill="#FFD700"/>
<rect x="80.28" y="141.55" width="5.10" height="5.08" fill="#FFD700"/>
<rect x="85.37" y="141.55" width="5.10" height="5.08" fill="#F6A84C"/>
<rect x="95.56" y="141.55" width="5.10" height="5.08" fill="#FFD700"/>
<rect x="100.66" y="141.55" width="5.10" height="5.08" fill="#F6A84C"/>
<rect x="110.85" y="141.55" width="5.10" height="5.08" fill="#F6A84C"/>
<rect x="115.95" y="141.55" width="5.10" height="5.08" fill="#FFD700"/>
<rect x="121.04" y="141.55" width="5.10" height="5.08" fill="#F6A84C"/>
<rect x="126.14" y="141.55" width="5.10" height="5.08" fill="#FFD700"/>
<rect x="136.33" y="141.55" width="5.10" height="5.08" fill="#FFD700"/>
<rect x="141.43" y="141.55" width="5.10" height="5.08" fill="#FFD700"/>
<rect x="146.52" y="141.55" width="5.10" height="5.08" fill="#F6A84C"/>
<rect x="166.91" y="141.55" width="5.10" height="5.08" fill="#F6A84C"/>
<rect x="59.89" y="146.63" width="5.10" height="5.08" fill="#FFD700"/>
<rect x="64.99" y="146.63" width="5.10" height="5.08" fill="#FFD700"/>
<rect x="70.08" y="146.63" width="5.10" height="5.08" fill="#FFD700"/>
<rect x="80.28" y="146.63" width="5.10" height="5.08" fill="#FFD700"/>
<rect x="85.37" y="146.63" width="5.10" height="5.08" fill="#F6A84C"/>
<rect x="95.56" y="146.63" width="5.10" height="5.08" fill="#FFD700"/>
<rect x="100.66" y="146.63" width="5.10" height="5.08" fill="#FFD700"/>
<rect x="110.85" y="146.63" width="5.10" height="5.08" fill="#FFD700"/>
<rect x="115.95" y="146.63" width="5.10" height="5.08" fill="#FFD700"/>
<rect x="121.04" y="146.63" width="5.10" height="5.08" fill="#E69A80"/>
<rect x="131.24" y="146.63" width="5.10" height="5.08" fill="#FFD700"/>
<rect x="136.33" y="146.63" width="5.10" height="5.08" fill="#FFD700"/>
<rect x="141.43" y="146.63" width="5.10" height="5.08" fill="#FFD700"/>
<rect x="146.52" y="146.63" width="5.10" height="5.08" fill="#FFD700"/>
<rect x="151.62" y="146.63" width="5.10" height="5.08" fill="#FFD700"/>
<rect x="156.72" y="146.63" width="5.10" height="5.08" fill="#F6A84C"/>
<rect x="166.91" y="146.63" width="5.10" height="5.08" fill="#F6A84C"/>
<rect x="54.80" y="151.71" width="5.10" height="5.08" fill="#E69A80"/>
<rect x="59.89" y="151.71" width="5.10" height="5.08" fill="#D67C9E"/>
<rect x="64.99" y="151.71" width="5.10" height="5.08" fill="#E69A80"/>
<rect x="75.18" y="151.71" width="5.10" height="5.08" fill="#FFD700"/>
<rect x="80.28" y="151.71" width="5.10" height="5.08" fill="#FFD700"/>
<rect x="85.37" y="151.71" width="5.10" height="5.08" fill="#E69A80"/>
<rect x="100.66" y="151.71" width="5.10" height="5.08" fill="#FFD700"/>
<rect x="105.76" y="151.71" width="5.10" height="5.08" fill="#FFD700"/>
<rect x="110.85" y="151.71" width="5.10" height="5.08" fill="#E69A80"/>
<rect x="115.95" y="151.71" width="5.10" height="5.08" fill="#FFD700"/>
<rect x="121.04" y="151.71" width="5.10" height="5.08" fill="#F6A84C"/>
<rect x="126.14" y="151.71" width="5.10" height="5.08" fill="#E69A80"/>
<rect x="131.24" y="151.71" width="5.10" height="5.08" fill="#E69A80"/>
<rect x="141.43" y="151.71" width="5.10" height="5.08" fill="#F6A84C"/>
<rect x="146.52" y="151.71" width="5.10" height="5.08" fill="#E69A80"/>
<rect x="156.72" y="151.71" width="5.10" height="5.08" fill="#FFD700"/>
<rect x="161.81" y="151.71" width="5.10" height="5.08" fill="#FFD700"/>
<rect x="166.91" y="151.71" width="5.10" height="5.08" fill="#E69A80"/>
<rect x="49.70" y="156.79" width="5.10" height="5.08" fill="#F6A84C"/>
<rect x="54.80" y="156.79" width="5.10" height="5.08" fill="#BE76C2"/>
<rect x="59.89" y="156.79" width="5.10" height="5.08" fill="#BE76C2"/>
<rect x="64.99" y="156.79" width="5.10" height="5.08" fill="#E69A80"/>
<rect x="70.08" y="156.79" width="5.10" height="5.08" fill="#E69A80"/>
<rect x="75.18" y="156.79" width="5.10" height="5.08" fill="#E69A80"/>
<rect x="80.28" y="156.79" width="5.10" height="5.08" fill="#E69A80"/>
<rect x="85.37" y="156.79" width="5.10" height="5.08" fill="#A666CE"/>
<rect x="90.47" y="156.79" width="5.10" height="5.08" fill="#E69A80"/>
<rect x="95.56" y="156.79" width="5.10" height="5.08" fill="#D67C9E"/>
<rect x="100.66" y="156.79" width="5.10" height="5.08" fill="#BE76C2"/>
<rect x="105.76" y="156.79" width="5.10" height="5.08" fill="#D67C9E"/>
<rect x="110.85" y="156.79" width="5.10" height="5.08" fill="#E69A80"/>
<rect x="115.95" y="156.79" width="5.10" height="5.08" fill="#E69A80"/>
<rect x="121.04" y="156.79" width="5.10" height="5.08" fill="#E69A80"/>
<rect x="126.14" y="156.79" width="5.10" height="5.08" fill="#E69A80"/>
<rect x="131.24" y="156.79" width="5.10" height="5.08" fill="#A666CE"/>
<rect x="136.33" y="156.79" width="5.10" height="5.08" fill="#E69A80"/>
<rect x="141.43" y="156.79" width="5.10" height="5.08" fill="#D67C9E"/>
<rect x="146.52" y="156.79" width="5.10" height="5.08" fill="#A666CE"/>
<rect x="151.62" y="156.79" width="5.10" height="5.08" fill="#E69A80"/>
<rect x="156.72" y="156.79" width="5.10" height="5.08" fill="#E69A80"/>
<rect x="166.91" y="156.79" width="5.10" height="5.08" fill="#A666CE"/>
<rect x="172.00" y="156.79" width="5.10" height="5.08" fill="#E69A80"/>
<rect x="54.80" y="166.96" width="5.10" height="5.08" fill="#FFD700"/>
<rect x="85.37" y="166.96" width="5.10" height="5.08" fill="#FFD700"/>
<rect x="95.56" y="166.96" width="5.10" height="5.08" fill="#FFD700"/>
<rect x="126.14" y="166.96" width="5.10" height="5.08" fill="#F6A84C"/>
<rect x="131.24" y="166.96" width="5.10" height="5.08" fill="#FFD700"/>
<rect x="166.91" y="166.96" width="5.10" height="5.08" fill="#FFD700"/>
<rect x="49.70" y="172.04" width="5.10" height="5.08" fill="#E69A80"/>
<rect x="54.80" y="172.04" width="5.10" height="5.08" fill="#BE76C2"/>
<rect x="59.89" y="172.04" width="5.10" height="5.08" fill="#BE76C2"/>
<rect x="64.99" y="172.04" width="5.10" height="5.08" fill="#E69A80"/>
<rect x="70.08" y="172.04" width="5.10" height="5.08" fill="#E69A80"/>
<rect x="75.18" y="172.04" width="5.10" height="5.08" fill="#F6A84C"/>
<rect x="80.28" y="172.04" width="5.10" height="5.08" fill="#E69A80"/>
<rect x="85.37" y="172.04" width="5.10" height="5.08" fill="#BE76C2"/>
<rect x="90.47" y="172.04" width="5.10" height="5.08" fill="#E69A80"/>
<rect x="95.56" y="172.04" width="5.10" height="5.08" fill="#D67C9E"/>
<rect x="100.66" y="172.04" width="5.10" height="5.08" fill="#E69A80"/>
<rect x="105.76" y="172.04" width="5.10" height="5.08" fill="#FFD700"/>
<rect x="110.85" y="172.04" width="5.10" height="5.08" fill="#E69A80"/>
<rect x="115.95" y="172.04" width="5.10" height="5.08" fill="#E69A80"/>
<rect x="121.04" y="172.04" width="5.10" height="5.08" fill="#E69A80"/>
<rect x="131.24" y="172.04" width="5.10" height="5.08" fill="#E69A80"/>
<rect x="136.33" y="172.04" width="5.10" height="5.08" fill="#FFD700"/>
<rect x="141.43" y="172.04" width="5.10" height="5.08" fill="#E69A80"/>
<rect x="146.52" y="172.04" width="5.10" height="5.08" fill="#E69A80"/>
<rect x="151.62" y="172.04" width="5.10" height="5.08" fill="#E69A80"/>
<rect x="156.72" y="172.04" width="5.10" height="5.08" fill="#E69A80"/>
<rect x="166.91" y="172.04" width="5.10" height="5.08" fill="#BE76C2"/>
<rect x="49.70" y="177.12" width="5.10" height="5.08" fill="#9044DE"/>
<rect x="54.80" y="177.12" width="5.10" height="5.08" fill="#2A12EE"/>
<rect x="59.89" y="177.12" width="5.10" height="5.08" fill="#2A12EE"/>
<rect x="64.99" y="177.12" width="5.10" height="5.08" fill="#9044DE"/>
<rect x="70.08" y="177.12" width="5.10" height="5.08" fill="#9044DE"/>
<rect x="75.18" y="177.12" width="5.10" height="5.08" fill="#A666CE"/>
<rect x="80.28" y="177.12" width="5.10" height="5.08" fill="#9044DE"/>
<rect x="85.37" y="177.12" width="5.10" height="5.08" fill="#2A12EE"/>
<rect x="90.47" y="177.12" width="5.10" height="5.08" fill="#9044DE"/>
<rect x="95.56" y="177.12" width="5.10" height="5.08" fill="#9044DE"/>
<rect x="100.66" y="177.12" width="5.10" height="5.08" fill="#2A12EE"/>
<rect x="105.76" y="177.12" width="5.10" height="5.08" fill="#A666CE"/>
<rect x="110.85" y="177.12" width="5.10" height="5.08" fill="#6A30E6"/>
<rect x="115.95" y="177.12" width="5.10" height="5.08" fill="#6A30E6"/>
<rect x="121.04" y="177.12" width="5.10" height="5.08" fill="#6A30E6"/>
<rect x="126.14" y="177.12" width="5.10" height="5.08" fill="#9044DE"/>
<rect x="131.24" y="177.12" width="5.10" height="5.08" fill="#2A12EE"/>
<rect x="136.33" y="177.12" width="5.10" height="5.08" fill="#FFD700"/>
<rect x="141.43" y="177.12" width="5.10" height="5.08" fill="#9044DE"/>
<rect x="146.52" y="177.12" width="5.10" height="5.08" fill="#2A12EE"/>
<rect x="151.62" y="177.12" width="5.10" height="5.08" fill="#9044DE"/>
<rect x="156.72" y="177.12" width="5.10" height="5.08" fill="#A666CE"/>
<rect x="161.81" y="177.12" width="5.10" height="5.08" fill="#E69A80"/>
<rect x="166.91" y="177.12" width="5.10" height="5.08" fill="#6A30E6"/>
<rect x="172.00" y="177.12" width="5.10" height="5.08" fill="#BE76C2"/>
<rect x="49.70" y="182.20" width="5.10" height="5.08" fill="#9044DE"/>
<rect x="54.80" y="182.20" width="5.10" height="5.08" fill="#6A30E6"/>
<rect x="59.89" y="182.20" width="5.10" height="5.08" fill="#6A30E6"/>
<rect x="64.99" y="182.20" width="5.10" height="5.08" fill="#9044DE"/>
<rect x="70.08" y="182.20" width="5.10" height="5.08" fill="#A666CE"/>
<rect x="75.18" y="182.20" width="5.10" height="5.08" fill="#9044DE"/>
<rect x="80.28" y="182.20" width="5.10" height="5.08" fill="#A666CE"/>
<rect x="85.37" y="182.20" width="5.10" height="5.08" fill="#6A30E6"/>
<rect x="90.47" y="182.20" width="5.10" height="5.08" fill="#9044DE"/>
<rect x="95.56" y="182.20" width="5.10" height="5.08" fill="#9044DE"/>
<rect x="100.66" y="182.20" width="5.10" height="5.08" fill="#6A30E6"/>
<rect x="105.76" y="182.20" width="5.10" height="5.08" fill="#BE76C2"/>
<rect x="110.85" y="182.20" width="5.10" height="5.08" fill="#9044DE"/>
<rect x="115.95" y="182.20" width="5.10" height="5.08" fill="#9044DE"/>
<rect x="121.04" y="182.20" width="5.10" height="5.08" fill="#9044DE"/>
<rect x="126.14" y="182.20" width="5.10" height="5.08" fill="#9044DE"/>
<rect x="131.24" y="182.20" width="5.10" height="5.08" fill="#6A30E6"/>
<rect x="136.33" y="182.20" width="5.10" height="5.08" fill="#E69A80"/>
<rect x="141.43" y="182.20" width="5.10" height="5.08" fill="#A666CE"/>
<rect x="146.52" y="182.20" width="5.10" height="5.08" fill="#6A30E6"/>
<rect x="151.62" y="182.20" width="5.10" height="5.08" fill="#A666CE"/>
<rect x="156.72" y="182.20" width="5.10" height="5.08" fill="#BE76C2"/>
<rect x="161.81" y="182.20" width="5.10" height="5.08" fill="#E69A80"/>
<rect x="166.91" y="182.20" width="5.10" height="5.08" fill="#6A30E6"/>
<rect x="172.00" y="182.20" width="5.10" height="5.08" fill="#E69A80"/>
<rect x="49.70" y="187.28" width="5.10" height="5.08" fill="#FFD700"/>
<rect x="54.80" y="187.28" width="5.10" height="5.08" fill="#E69A80"/>
<rect x="59.89" y="187.28" width="5.10" height="5.08" fill="#E69A80"/>
<rect x="64.99" y="187.28" width="5.10" height="5.08" fill="#E69A80"/>
<rect x="70.08" y="187.28" width="5.10" height="5.08" fill="#FFD700"/>
<rect x="85.37" y="187.28" width="5.10" height="5.08" fill="#FFD700"/>
<rect x="100.66" y="187.28" width="5.10" height="5.08" fill="#E69A80"/>
<rect x="110.85" y="187.28" width="5.10" height="5.08" fill="#FFD700"/>
<rect x="115.95" y="187.28" width="5.10" height="5.08" fill="#FFD700"/>
<rect x="121.04" y="187.28" width="5.10" height="5.08" fill="#E69A80"/>
<rect x="131.24" y="187.28" width="5.10" height="5.08" fill="#FFD700"/>
<rect x="146.52" y="187.28" width="5.10" height="5.08" fill="#E69A80"/>
<rect x="151.62" y="187.28" width="5.10" height="5.08" fill="#FFD700"/>
<rect x="161.81" y="187.28" width="5.10" height="5.08" fill="#FFD700"/>
<rect x="166.91" y="187.28" width="5.10" height="5.08" fill="#E69A80"/>
<rect x="49.70" y="192.36" width="5.10" height="5.08" fill="#E69A80"/>
<rect x="54.80" y="192.36" width="5.10" height="5.08" fill="#A666CE"/>
<rect x="59.89" y="192.36" width="5.10" height="5.08" fill="#A666CE"/>
<rect x="64.99" y="192.36" width="5.10" height="5.08" fill="#BE76C2"/>
<rect x="70.08" y="192.36" width="5.10" height="5.08" fill="#E69A80"/>
<rect x="75.18" y="192.36" width="5.10" height="5.08" fill="#E69A80"/>
<rect x="80.28" y="192.36" width="5.10" height="5.08" fill="#FFD700"/>
<rect x="85.37" y="192.36" width="5.10" height="5.08" fill="#A666CE"/>
<rect x="90.47" y="192.36" width="5.10" height="5.08" fill="#E69A80"/>
<rect x="95.56" y="192.36" width="5.10" height="5.08" fill="#FFD700"/>
<rect x="100.66" y="192.36" width="5.10" height="5.08" fill="#A666CE"/>
<rect x="105.76" y="192.36" width="5.10" height="5.08" fill="#E69A80"/>
<rect x="110.85" y="192.36" width="5.10" height="5.08" fill="#BE76C2"/>
<rect x="115.95" y="192.36" width="5.10" height="5.08" fill="#BE76C2"/>
<rect x="121.04" y="192.36" width="5.10" height="5.08" fill="#A666CE"/>
<rect x="126.14" y="192.36" width="5.10" height="5.08" fill="#BE76C2"/>
<rect x="131.24" y="192.36" width="5.10" height="5.08" fill="#A666CE"/>
<rect x="136.33" y="192.36" width="5.10" height="5.08" fill="#E69A80"/>
<rect x="141.43" y="192.36" width="5.10" height="5.08" fill="#BE76C2"/>
<rect x="146.52" y="192.36" width="5.10" height="5.08" fill="#A666CE"/>
<rect x="151.62" y="192.36" width="5.10" height="5.08" fill="#BE76C2"/>
<rect x="156.72" y="192.36" width="5.10" height="5.08" fill="#E69A80"/>
<rect x="166.91" y="192.36" width="5.10" height="5.08" fill="#A666CE"/>
<rect x="172.00" y="192.36" width="5.10" height="5.08" fill="#E69A80"/>
<rect x="49.70" y="197.44" width="5.10" height="5.08" fill="#F6A84C"/>
<rect x="54.80" y="197.44" width="5.10" height="5.08" fill="#A666CE"/>
<rect x="59.89" y="197.44" width="5.10" height="5.08" fill="#BE76C2"/>
<rect x="64.99" y="197.44" width="5.10" height="5.08" fill="#E69A80"/>
<rect x="70.08" y="197.44" width="5.10" height="5.08" fill="#E69A80"/>
<rect x="75.18" y="197.44" width="5.10" height="5.08" fill="#BE76C2"/>
<rect x="80.28" y="197.44" width="5.10" height="5.08" fill="#E69A80"/>
<rect x="85.37" y="197.44" width="5.10" height="5.08" fill="#A666CE"/>
<rect x="90.47" y="197.44" width="5.10" height="5.08" fill="#BE76C2"/>
<rect x="95.56" y="197.44" width="5.10" height="5.08" fill="#FFD700"/>
<rect x="100.66" y="197.44" width="5.10" height="5.08" fill="#BE76C2"/>
<rect x="105.76" y="197.44" width="5.10" height="5.08" fill="#E69A80"/>
<rect x="110.85" y="197.44" width="5.10" height="5.08" fill="#BE76C2"/>
<rect x="115.95" y="197.44" width="5.10" height="5.08" fill="#E69A80"/>
<rect x="121.04" y="197.44" width="5.10" height="5.08" fill="#BE76C2"/>
<rect x="126.14" y="197.44" width="5.10" height="5.08" fill="#E69A80"/>
<rect x="131.24" y="197.44" width="5.10" height="5.08" fill="#BE76C2"/>
<rect x="141.43" y="197.44" width="5.10" height="5.08" fill="#E69A80"/>
<rect x="146.52" y="197.44" width="5.10" height="5.08" fill="#A666CE"/>
<rect x="151.62" y="197.44" width="5.10" height="5.08" fill="#BE76C2"/>
<rect x="156.72" y="197.44" width="5.10" height="5.08" fill="#FFD700"/>
<rect x="161.81" y="197.44" width="5.10" height="5.08" fill="#FFD700"/>
<rect x="166.91" y="197.44" width="5.10" height="5.08" fill="#BE76C2"/>
<rect x="172.00" y="197.44" width="5.10" height="5.08" fill="#E69A80"/>
<rect x="49.70" y="202.52" width="5.10" height="5.08" fill="#FFD700"/>
<rect x="54.80" y="202.52" width="5.10" height="5.08" fill="#E69A80"/>
<rect x="59.89" y="202.52" width="5.10" height="5.08" fill="#FFD700"/>
<rect x="64.99" y="202.52" width="5.10" height="5.08" fill="#E69A80"/>
<rect x="75.18" y="202.52" width="5.10" height="5.08" fill="#FFD700"/>
<rect x="85.37" y="202.52" width="5.10" height="5.08" fill="#E69A80"/>
<rect x="90.47" y="202.52" width="5.10" height="5.08" fill="#FFD700"/>
<rect x="95.56" y="202.52" width="5.10" height="5.08" fill="#E69A80"/>
<rect x="100.66" y="202.52" width="5.10" height="5.08" fill="#E69A80"/>
<rect x="105.76" y="202.52" width="5.10" height="5.08" fill="#FFD700"/>
<rect x="110.85" y="202.52" width="5.10" height="5.08" fill="#E69A80"/>
<rect x="115.95" y="202.52" width="5.10" height="5.08" fill="#E69A80"/>
<rect x="121.04" y="202.52" width="5.10" height="5.08" fill="#D67C9E"/>
<rect x="126.14" y="202.52" width="5.10" height="5.08" fill="#F6A84C"/>
<rect x="131.24" y="202.52" width="5.10" height="5.08" fill="#E69A80"/>
<rect x="141.43" y="202.52" width="5.10" height="5.08" fill="#F6A84C"/>
<rect x="146.52" y="202.52" width="5.10" height="5.08" fill="#D67C9E"/>
<rect x="151.62" y="202.52" width="5.10" height="5.08" fill="#F6A84C"/>
<rect x="156.72" y="202.52" width="5.10" height="5.08" fill="#FFD700"/>
<rect x="166.91" y="202.52" width="5.10" height="5.08" fill="#D67C9E"/>
<rect x="49.70" y="207.61" width="5.10" height="5.08" fill="#E69A80"/>
<rect x="54.80" y="207.61" width="5.10" height="5.08" fill="#A666CE"/>
<rect x="59.89" y="207.61" width="5.10" height="5.08" fill="#A666CE"/>
<rect x="64.99" y="207.61" width="5.10" height="5.08" fill="#BE76C2"/>
<rect x="70.08" y="207.61" width="5.10" height="5.08" fill="#E69A80"/>
<rect x="75.18" y="207.61" width="5.10" height="5.08" fill="#BE76C2"/>
<rect x="80.28" y="207.61" width="5.10" height="5.08" fill="#E69A80"/>
<rect x="85.37" y="207.61" width="5.10" height="5.08" fill="#A666CE"/>
<rect x="90.47" y="207.61" width="5.10" height="5.08" fill="#F6A84C"/>
<rect x="95.56" y="207.61" width="5.10" height="5.08" fill="#E69A80"/>
<rect x="100.66" y="207.61" width="5.10" height="5.08" fill="#A666CE"/>
<rect x="105.76" y="207.61" width="5.10" height="5.08" fill="#E69A80"/>
<rect x="110.85" y="207.61" width="5.10" height="5.08" fill="#BE76C2"/>
<rect x="115.95" y="207.61" width="5.10" height="5.08" fill="#E69A80"/>
<rect x="121.04" y="207.61" width="5.10" height="5.08" fill="#A666CE"/>
<rect x="126.14" y="207.61" width="5.10" height="5.08" fill="#E69A80"/>
<rect x="131.24" y="207.61" width="5.10" height="5.08" fill="#A666CE"/>
<rect x="141.43" y="207.61" width="5.10" height="5.08" fill="#E69A80"/>
<rect x="146.52" y="207.61" width="5.10" height="5.08" fill="#A666CE"/>
<rect x="151.62" y="207.61" width="5.10" height="5.08" fill="#FFD700"/>
<rect x="156.72" y="207.61" width="5.10" height="5.08" fill="#E69A80"/>
<rect x="161.81" y="207.61" width="5.10" height="5.08" fill="#F6A84C"/>
<rect x="166.91" y="207.61" width="5.10" height="5.08" fill="#BE76C2"/>
<rect x="172.00" y="207.61" width="5.10" height="5.08" fill="#FFD700"/>
<rect x="49.70" y="212.69" width="5.10" height="5.08" fill="#E69A80"/>
<rect x="54.80" y="212.69" width="5.10" height="5.08" fill="#BE76C2"/>
<rect x="59.89" y="212.69" width="5.10" height="5.08" fill="#BE76C2"/>
<rect x="64.99" y="212.69" width="5.10" height="5.08" fill="#E69A80"/>
<rect x="70.08" y="212.69" width="5.10" height="5.08" fill="#FFD700"/>
<rect x="75.18" y="212.69" width="5.10" height="5.08" fill="#E69A80"/>
<rect x="80.28" y="212.69" width="5.10" height="5.08" fill="#E69A80"/>
<rect x="85.37" y="212.69" width="5.10" height="5.08" fill="#A666CE"/>
<rect x="90.47" y="212.69" width="5.10" height="5.08" fill="#E69A80"/>
<rect x="95.56" y="212.69" width="5.10" height="5.08" fill="#E69A80"/>
<rect x="100.66" y="212.69" width="5.10" height="5.08" fill="#A666CE"/>
<rect x="110.85" y="212.69" width="5.10" height="5.08" fill="#E69A80"/>
<rect x="115.95" y="212.69" width="5.10" height="5.08" fill="#E69A80"/>
<rect x="121.04" y="212.69" width="5.10" height="5.08" fill="#BE76C2"/>
<rect x="126.14" y="212.69" width="5.10" height="5.08" fill="#E69A80"/>
<rect x="131.24" y="212.69" width="5.10" height="5.08" fill="#BE76C2"/>
<rect x="136.33" y="212.69" width="5.10" height="5.08" fill="#FFD700"/>
<rect x="141.43" y="212.69" width="5.10" height="5.08" fill="#BE76C2"/>
<rect x="146.52" y="212.69" width="5.10" height="5.08" fill="#A666CE"/>
<rect x="151.62" y="212.69" width="5.10" height="5.08" fill="#FFD700"/>
<rect x="156.72" y="212.69" width="5.10" height="5.08" fill="#F6A84C"/>
<rect x="161.81" y="212.69" width="5.10" height="5.08" fill="#E69A80"/>
<rect x="166.91" y="212.69" width="5.10" height="5.08" fill="#A666CE"/>
<rect x="49.70" y="217.77" width="5.10" height="5.08" fill="#E69A80"/>
<rect x="54.80" y="217.77" width="5.10" height="5.08" fill="#E69A80"/>
<rect x="59.89" y="217.77" width="5.10" height="5.08" fill="#BE76C2"/>
<rect x="64.99" y="217.77" width="5.10" height="5.08" fill="#E69A80"/>
<rect x="70.08" y="217.77" width="5.10" height="5.08" fill="#E69A80"/>
<rect x="75.18" y="217.77" width="5.10" height="5.08" fill="#E69A80"/>
<rect x="80.28" y="217.77" width="5.10" height="5.08" fill="#E69A80"/>
<rect x="85.37" y="217.77" width="5.10" height="5.08" fill="#BE76C2"/>
<rect x="90.47" y="217.77" width="5.10" height="5.08" fill="#FFD700"/>
<rect x="95.56" y="217.77" width="5.10" height="5.08" fill="#E69A80"/>
<rect x="100.66" y="217.77" width="5.10" height="5.08" fill="#A666CE"/>
<rect x="105.76" y="217.77" width="5.10" height="5.08" fill="#E69A80"/>
<rect x="110.85" y="217.77" width="5.10" height="5.08" fill="#E69A80"/>
<rect x="115.95" y="217.77" width="5.10" height="5.08" fill="#BE76C2"/>
<rect x="121.04" y="217.77" width="5.10" height="5.08" fill="#E69A80"/>
<rect x="126.14" y="217.77" width="5.10" height="5.08" fill="#FFD700"/>
<rect x="131.24" y="217.77" width="5.10" height="5.08" fill="#E69A80"/>
<rect x="141.43" y="217.77" width="5.10" height="5.08" fill="#FFD700"/>
<rect x="146.52" y="217.77" width="5.10" height="5.08" fill="#E69A80"/>
<rect x="151.62" y="217.77" width="5.10" height="5.08" fill="#E69A80"/>
<rect x="156.72" y="217.77" width="5.10" height="5.08" fill="#BE76C2"/>
<rect x="166.91" y="217.77" width="5.10" height="5.08" fill="#BE76C2"/>
<rect x="172.00" y="217.77" width="5.10" height="5.08" fill="#FFD700"/>
<rect x="54.80" y="222.85" width="5.10" height="5.08" fill="#E69A80"/>
<rect x="59.89" y="222.85" width="5.10" height="5.08" fill="#BE76C2"/>
<rect x="64.99" y="222.85" width="5.10" height="5.08" fill="#FFD700"/>
<rect x="75.18" y="222.85" width="5.10" height="5.08" fill="#FFD700"/>
<rect x="80.28" y="222.85" width="5.10" height="5.08" fill="#E69A80"/>
<rect x="85.37" y="222.85" width="5.10" height="5.08" fill="#E69A80"/>
<rect x="90.47" y="222.85" width="5.10" height="5.08" fill="#E69A80"/>
<rect x="95.56" y="222.85" width="5.10" height="5.08" fill="#E69A80"/>
<rect x="100.66" y="222.85" width="5.10" height="5.08" fill="#BE76C2"/>
<rect x="110.85" y="222.85" width="5.10" height="5.08" fill="#BE76C2"/>
<rect x="115.95" y="222.85" width="5.10" height="5.08" fill="#E69A80"/>
<rect x="121.04" y="222.85" width="5.10" height="5.08" fill="#FFD700"/>
<rect x="126.14" y="222.85" width="5.10" height="5.08" fill="#E69A80"/>
<rect x="131.24" y="222.85" width="5.10" height="5.08" fill="#F6A84C"/>
<rect x="146.52" y="222.85" width="5.10" height="5.08" fill="#BE76C2"/>
<rect x="151.62" y="222.85" width="5.10" height="5.08" fill="#FFD700"/>
<rect x="156.72" y="222.85" width="5.10" height="5.08" fill="#E69A80"/>
<rect x="166.91" y="222.85" width="5.10" height="5.08" fill="#E69A80"/>
<rect x="172.00" y="222.85" width="5.10" height="5.08" fill="#FFD700"/>
<rect x="49.70" y="227.93" width="5.10" height="5.08" fill="#FFD700"/>
<rect x="54.80" y="227.93" width="5.10" height="5.08" fill="#E69A80"/>
<rect x="59.89" y="227.93" width="5.10" height="5.08" fill="#E69A80"/>
<rect x="64.99" y="227.93" width="5.10" height="5.08" fill="#F6A84C"/>
<rect x="70.08" y="227.93" width="5.10" height="5.08" fill="#FFD700"/>
<rect x="75.18" y="227.93" width="5.10" height="5.08" fill="#FFD700"/>
<rect x="80.28" y="227.93" width="5.10" height="5.08" fill="#E69A80"/>
<rect x="85.37" y="227.93" width="5.10" height="5.08" fill="#E69A80"/>
<rect x="90.47" y="227.93" width="5.10" height="5.08" fill="#FFD700"/>
<rect x="100.66" y="227.93" width="5.10" height="5.08" fill="#E69A80"/>
<rect x="110.85" y="227.93" width="5.10" height="5.08" fill="#E69A80"/>
<rect x="115.95" y="227.93" width="5.10" height="5.08" fill="#E69A80"/>
<rect x="121.04" y="227.93" width="5.10" height="5.08" fill="#E69A80"/>
<rect x="126.14" y="227.93" width="5.10" height="5.08" fill="#E69A80"/>
<rect x="131.24" y="227.93" width="5.10" height="5.08" fill="#FFD700"/>
<rect x="136.33" y="227.93" width="5.10" height="5.08" fill="#FFD700"/>
<rect x="141.43" y="227.93" width="5.10" height="5.08" fill="#FFD700"/>
<rect x="146.52" y="227.93" width="5.10" height="5.08" fill="#E69A80"/>
<rect x="151.62" y="227.93" width="5.10" height="5.08" fill="#E69A80"/>
<rect x="156.72" y="227.93" width="5.10" height="5.08" fill="#FFD700"/>
<rect x="166.91" y="227.93" width="5.10" height="5.08" fill="#E69A80"/>
<rect x="59.89" y="233.01" width="5.10" height="5.08" fill="#FFD700"/>
<rect x="100.66" y="233.01" width="5.10" height="5.08" fill="#FFD700"/>
<rect x="115.95" y="233.01" width="5.10" height="5.08" fill="#FFD700"/>
<rect x="54.80" y="238.09" width="5.10" height="5.08" fill="#BE76C2"/>
<rect x="59.89" y="238.09" width="5.10" height="5.08" fill="#A666CE"/>
<rect x="64.99" y="238.09" width="5.10" height="5.08" fill="#E69A80"/>
<rect x="70.08" y="238.09" width="5.10" height="5.08" fill="#E69A80"/>
<rect x="80.28" y="238.09" width="5.10" height="5.08" fill="#E69A80"/>
<rect x="85.37" y="238.09" width="5.10" height="5.08" fill="#A666CE"/>
<rect x="95.56" y="238.09" width="5.10" height="5.08" fill="#E69A80"/>
<rect x="100.66" y="238.09" width="5.10" height="5.08" fill="#E69A80"/>
<rect x="105.76" y="238.09" width="5.10" height="5.08" fill="#FFD700"/>
<rect x="110.85" y="238.09" width="5.10" height="5.08" fill="#BE76C2"/>
<rect x="115.95" y="238.09" width="5.10" height="5.08" fill="#BE76C2"/>
<rect x="121.04" y="238.09" width="5.10" height="5.08" fill="#BE76C2"/>
<rect x="126.14" y="238.09" width="5.10" height="5.08" fill="#BE76C2"/>
<rect x="131.24" y="238.09" width="5.10" height="5.08" fill="#A666CE"/>
<rect x="136.33" y="238.09" width="5.10" height="5.08" fill="#FFD700"/>
<rect x="141.43" y="238.09" width="5.10" height="5.08" fill="#E69A80"/>
<rect x="146.52" y="238.09" width="5.10" height="5.08" fill="#9044DE"/>
<rect x="151.62" y="238.09" width="5.10" height="5.08" fill="#E69A80"/>
<rect x="156.72" y="238.09" width="5.10" height="5.08" fill="#E69A80"/>
<rect x="166.91" y="238.09" width="5.10" height="5.08" fill="#E69A80"/>
<rect x="172.00" y="238.09" width="5.10" height="5.08" fill="#FFD700"/>
<rect x="49.70" y="248.26" width="5.10" height="5.08" fill="#FFD700"/>
<rect x="54.80" y="248.26" width="5.10" height="5.08" fill="#E69A80"/>
<rect x="59.89" y="248.26" width="5.10" height="5.08" fill="#E69A80"/>
<rect x="64.99" y="248.26" width="5.10" height="5.08" fill="#E69A80"/>
<rect x="70.08" y="248.26" width="5.10" height="5.08" fill="#E69A80"/>
<rect x="75.18" y="248.26" width="5.10" height="5.08" fill="#E69A80"/>
<rect x="80.28" y="248.26" width="5.10" height="5.08" fill="#E69A80"/>
<rect x="85.37" y="248.26" width="5.10" height="5.08" fill="#BE76C2"/>
<rect x="90.47" y="248.26" width="5.10" height="5.08" fill="#FFD700"/>
<rect x="95.56" y="248.26" width="5.10" height="5.08" fill="#E69A80"/>
<rect x="100.66" y="248.26" width="5.10" height="5.08" fill="#E69A80"/>
<rect x="105.76" y="248.26" width="5.10" height="5.08" fill="#E69A80"/>
<rect x="110.85" y="248.26" width="5.10" height="5.08" fill="#E69A80"/>
<rect x="115.95" y="248.26" width="5.10" height="5.08" fill="#E69A80"/>
<rect x="121.04" y="248.26" width="5.10" height="5.08" fill="#E69A80"/>
<rect x="126.14" y="248.26" width="5.10" height="5.08" fill="#E69A80"/>
<rect x="131.24" y="248.26" width="5.10" height="5.08" fill="#BE76C2"/>
<rect x="141.43" y="248.26" width="5.10" height="5.08" fill="#E69A80"/>
<rect x="146.52" y="248.26" width="5.10" height="5.08" fill="#BE76C2"/>
<rect x="151.62" y="248.26" width="5.10" height="5.08" fill="#FFD700"/>
<rect x="156.72" y="248.26" width="5.10" height="5.08" fill="#E69A80"/>
<rect x="166.91" y="248.26" width="5.10" height="5.08" fill="#BE76C2"/>
<rect x="172.00" y="248.26" width="5.10" height="5.08" fill="#FFD700"/>
<rect x="49.70" y="253.34" width="5.10" height="5.08" fill="#E69A80"/>
<rect x="54.80" y="253.34" width="5.10" height="5.08" fill="#A666CE"/>
<rect x="59.89" y="253.34" width="5.10" height="5.08" fill="#A666CE"/>
<rect x="64.99" y="253.34" width="5.10" height="5.08" fill="#BE76C2"/>
<rect x="70.08" y="253.34" width="5.10" height="5.08" fill="#FFD700"/>
<rect x="75.18" y="253.34" width="5.10" height="5.08" fill="#E69A80"/>
<rect x="80.28" y="253.34" width="5.10" height="5.08" fill="#E69A80"/>
<rect x="85.37" y="253.34" width="5.10" height="5.08" fill="#BE76C2"/>
<rect x="90.47" y="253.34" width="5.10" height="5.08" fill="#E69A80"/>
<rect x="95.56" y="253.34" width="5.10" height="5.08" fill="#E69A80"/>
<rect x="100.66" y="253.34" width="5.10" height="5.08" fill="#9044DE"/>
<rect x="105.76" y="253.34" width="5.10" height="5.08" fill="#E69A80"/>
<rect x="110.85" y="253.34" width="5.10" height="5.08" fill="#E69A80"/>
<rect x="115.95" y="253.34" width="5.10" height="5.08" fill="#BE76C2"/>
<rect x="121.04" y="253.34" width="5.10" height="5.08" fill="#E69A80"/>
<rect x="126.14" y="253.34" width="5.10" height="5.08" fill="#E69A80"/>
<rect x="131.24" y="253.34" width="5.10" height="5.08" fill="#A666CE"/>
<rect x="136.33" y="253.34" width="5.10" height="5.08" fill="#FFD700"/>
<rect x="141.43" y="253.34" width="5.10" height="5.08" fill="#E69A80"/>
<rect x="146.52" y="253.34" width="5.10" height="5.08" fill="#A666CE"/>
<rect x="151.62" y="253.34" width="5.10" height="5.08" fill="#FFD700"/>
<rect x="156.72" y="253.34" width="5.10" height="5.08" fill="#E69A80"/>
<rect x="161.81" y="253.34" width="5.10" height="5.08" fill="#FFD700"/>
<rect x="166.91" y="253.34" width="5.10" height="5.08" fill="#A666CE"/>
<rect x="172.00" y="253.34" width="5.10" height="5.08" fill="#FFD700"/>
<rect x="49.70" y="258.42" width="5.10" height="5.08" fill="#FFD700"/>
<rect x="54.80" y="258.42" width="5.10" height="5.08" fill="#E69A80"/>
<rect x="59.89" y="258.42" width="5.10" height="5.08" fill="#E69A80"/>
<rect x="64.99" y="258.42" width="5.10" height="5.08" fill="#F6A84C"/>
<rect x="70.08" y="258.42" width="5.10" height="5.08" fill="#E69A80"/>
<rect x="75.18" y="258.42" width="5.10" height="5.08" fill="#E69A80"/>
<rect x="80.28" y="258.42" width="5.10" height="5.08" fill="#E69A80"/>
<rect x="85.37" y="258.42" width="5.10" height="5.08" fill="#BE76C2"/>
<rect x="90.47" y="258.42" width="5.10" height="5.08" fill="#E69A80"/>
<rect x="95.56" y="258.42" width="5.10" height="5.08" fill="#BE76C2"/>
<rect x="100.66" y="258.42" width="5.10" height="5.08" fill="#E69A80"/>
<rect x="105.76" y="258.42" width="5.10" height="5.08" fill="#E69A80"/>
<rect x="110.85" y="258.42" width="5.10" height="5.08" fill="#E69A80"/>
<rect x="115.95" y="258.42" width="5.10" height="5.08" fill="#E69A80"/>
<rect x="121.04" y="258.42" width="5.10" height="5.08" fill="#E69A80"/>
<rect x="126.14" y="258.42" width="5.10" height="5.08" fill="#E69A80"/>
<rect x="131.24" y="258.42" width="5.10" height="5.08" fill="#BE76C2"/>
<rect x="136.33" y="258.42" width="5.10" height="5.08" fill="#FFD700"/>
<rect x="141.43" y="258.42" width="5.10" height="5.08" fill="#E69A80"/>
<rect x="146.52" y="258.42" width="5.10" height="5.08" fill="#A666CE"/>
<rect x="151.62" y="258.42" width="5.10" height="5.08" fill="#FFD700"/>
<rect x="156.72" y="258.42" width="5.10" height="5.08" fill="#E69A80"/>
<rect x="161.81" y="258.42" width="5.10" height="5.08" fill="#FFD700"/>
<rect x="166.91" y="258.42" width="5.10" height="5.08" fill="#BE76C2"/>
<rect x="172.00" y="258.42" width="5.10" height="5.08" fill="#FFD700"/>
</g>
<line x1="49.70" x2="177.10" y1="19.60" y2="19.60" stroke="#dcdde2" stroke-width="0.6"/>
<line x1="49.70" x2="177.10" y1="263.50" y2="263.50" stroke="#bfc0c6" stroke-width="0.6"/>
<line x1="49.70" x2="49.70" y1="19.60" y2="263.50" stroke="#8a8e9a" stroke-width="0.9"/>
<line x1="177.10" x2="177.10" y1="19.60" y2="263.50" stroke="#8a8e9a" stroke-width="0.9"/>
<text x="44.70" y="24.34" class="vl">7-81</text>
<text x="44.70" y="29.42" class="vl">3-74</text>
<text x="44.70" y="34.50" class="vl">3-73</text>
<text x="44.70" y="39.58" class="vl">3-72</text>
<text x="44.70" y="44.67" class="vl">2-70</text>
<text x="44.70" y="49.75" class="vl">1-69</text>
<text x="44.70" y="54.83" class="vl">3-66</text>
<text x="44.70" y="59.91" class="vl">3-64</text>
<text x="44.70" y="64.99" class="vl">4-61</text>
<text x="44.70" y="70.07" class="vl">4-59</text>
<text x="44.70" y="75.15" class="vl">1-58</text>
<text x="44.70" y="80.23" class="vl">3-53</text>
<text x="44.70" y="85.32" class="vl">5-a</text>
<text x="44.70" y="90.40" class="vl">5-51</text>
<text x="44.70" y="95.48" class="vl">3-49</text>
<text x="44.70" y="100.56" class="vl">3-48</text>
<text x="44.70" y="105.64" class="vl">1-46</text>
<text x="44.70" y="110.72" class="vl">1-45</text>
<text x="44.70" y="115.80" class="vl">3-43</text>
<text x="44.70" y="120.88" class="vl">4-39</text>
<text x="44.70" y="125.97" class="vl">3-35</text>
<text x="44.70" y="131.05" class="vl">4-34</text>
<text x="44.70" y="136.13" class="vl">3-33</text>
<text x="44.70" y="141.21" class="vl">4-31</text>
<text x="44.70" y="146.29" class="vl">4-30-4</text>
<text x="44.70" y="151.37" class="vl">4-30-2</text>
<text x="44.70" y="156.45" class="vl">3-30-5</text>
<text x="44.70" y="161.53" class="vl">3-30</text>
<text x="44.70" y="166.62" class="vl">4-28</text>
<text x="44.70" y="171.70" class="vl">2-26</text>
<text x="44.70" y="176.78" class="vl">1-24</text>
<text x="44.70" y="181.86" class="vl">3-23</text>
<text x="44.70" y="186.94" class="vl">3-21</text>
<text x="44.70" y="192.02" class="vl">3-20</text>
<text x="44.70" y="197.10" class="vl">1-18</text>
<text x="44.70" y="202.18" class="vl">3-15</text>
<text x="44.70" y="207.27" class="vl">3-13</text>
<text x="44.70" y="212.35" class="vl">3-11</text>
<text x="44.70" y="217.43" class="vl">3-9</text>
<text x="44.70" y="222.51" class="vl">1-8</text>
<text x="44.70" y="227.59" class="vl">3-7</text>
<text x="44.70" y="232.67" class="vl">2-5</text>
<text x="44.70" y="237.75" class="vl">7-4-1</text>
<text x="44.70" y="242.83" class="vl">4-4</text>
<text x="44.70" y="247.92" class="vl">4-b</text>
<text x="44.70" y="253.00" class="vl">1-3</text>
<text x="44.70" y="258.08" class="vl">1-2</text>
<text x="44.70" y="263.16" class="vl">6-1</text>
<text transform="translate(53.65,266.20) rotate(-90)" class="dl">1-1</text>
<text transform="translate(58.74,266.20) rotate(-90)" class="dl">2-2</text>
<text transform="translate(63.84,266.20) rotate(-90)" class="dl">3-3</text>
<text transform="translate(68.94,266.20) rotate(-90)" class="dl">4-4</text>
<text transform="translate(74.03,266.20) rotate(-90)" class="dl">5-5</text>
<text transform="translate(79.13,266.20) rotate(-90)" class="dl">6-6</text>
<text transform="translate(84.22,266.20) rotate(-90)" class="dl">1-7</text>
<text transform="translate(89.32,266.20) rotate(-90)" class="dl">3-10</text>
<text transform="translate(94.42,266.20) rotate(-90)" class="dl">4-11</text>
<text transform="translate(99.51,266.20) rotate(-90)" class="dl">5-12</text>
<text transform="translate(104.61,266.20) rotate(-90)" class="dl">6-13</text>
<text transform="translate(109.70,266.20) rotate(-90)" class="dl">1-14</text>
<text transform="translate(114.80,266.20) rotate(-90)" class="dl">2-15</text>
<text transform="translate(119.90,266.20) rotate(-90)" class="dl">3-16</text>
<text transform="translate(124.99,266.20) rotate(-90)" class="dl">4-17</text>
<text transform="translate(130.09,266.20) rotate(-90)" class="dl">5-18</text>
<text transform="translate(135.18,266.20) rotate(-90)" class="dl">6-19</text>
<text transform="translate(140.28,266.20) rotate(-90)" class="dl">1-20</text>
<text transform="translate(145.38,266.20) rotate(-90)" class="dl">2-21</text>
<text transform="translate(150.47,266.20) rotate(-90)" class="dl">3-22</text>
<text transform="translate(155.57,266.20) rotate(-90)" class="dl">4-23</text>
<text transform="translate(160.66,266.20) rotate(-90)" class="dl">5-24</text>
<text transform="translate(165.76,266.20) rotate(-90)" class="dl">6-25</text>
<text transform="translate(170.86,266.20) rotate(-90)" class="dl">1-26</text>
<text transform="translate(175.95,266.20) rotate(-90)" class="dl">7-27</text>
<g filter="url(#bl)" shape-rendering="crispEdges">
<rect x="191.50" y="24.58" width="5.11" height="5.08" fill="#E69A80"/>
<rect x="196.61" y="24.58" width="5.11" height="5.08" fill="#E69A80"/>
<rect x="201.72" y="24.58" width="5.11" height="5.08" fill="#D67C9E"/>
<rect x="206.84" y="24.58" width="5.11" height="5.08" fill="#FFD700"/>
<rect x="211.95" y="24.58" width="5.11" height="5.08" fill="#E69A80"/>
<rect x="217.06" y="24.58" width="5.11" height="5.08" fill="#E69A80"/>
<rect x="222.17" y="24.58" width="5.11" height="5.08" fill="#FFD700"/>
<rect x="227.28" y="24.58" width="5.11" height="5.08" fill="#A666CE"/>
<rect x="232.40" y="24.58" width="5.11" height="5.08" fill="#FFD700"/>
<rect x="237.51" y="24.58" width="5.11" height="5.08" fill="#A666CE"/>
<rect x="252.84" y="24.58" width="5.11" height="5.08" fill="#D67C9E"/>
<rect x="257.96" y="24.58" width="5.11" height="5.08" fill="#E69A80"/>
<rect x="263.07" y="24.58" width="5.11" height="5.08" fill="#D67C9E"/>
<rect x="268.18" y="24.58" width="5.11" height="5.08" fill="#BE76C2"/>
<rect x="273.29" y="24.58" width="5.11" height="5.08" fill="#D67C9E"/>
<rect x="283.52" y="24.58" width="5.11" height="5.08" fill="#E69A80"/>
<rect x="288.63" y="24.58" width="5.11" height="5.08" fill="#9044DE"/>
<rect x="293.74" y="24.58" width="5.11" height="5.08" fill="#E69A80"/>
<rect x="298.85" y="24.58" width="5.11" height="5.08" fill="#FFD700"/>
<rect x="309.08" y="24.58" width="5.11" height="5.08" fill="#A666CE"/>
<rect x="314.19" y="24.58" width="5.11" height="5.08" fill="#FFD700"/>
<rect x="196.61" y="29.65" width="5.11" height="5.08" fill="#FFD700"/>
<rect x="201.72" y="29.65" width="5.11" height="5.08" fill="#FFD700"/>
<rect x="206.84" y="29.65" width="5.11" height="5.08" fill="#FFD700"/>
<rect x="263.07" y="29.65" width="5.11" height="5.08" fill="#F6A84C"/>
<rect x="309.08" y="29.65" width="5.11" height="5.08" fill="#FFD700"/>
<rect x="196.61" y="34.73" width="5.11" height="5.08" fill="#F6A84C"/>
<rect x="217.06" y="34.73" width="5.11" height="5.08" fill="#FFD700"/>
<rect x="237.51" y="34.73" width="5.11" height="5.08" fill="#FFD700"/>
<rect x="252.84" y="34.73" width="5.11" height="5.08" fill="#FFD700"/>
<rect x="288.63" y="34.73" width="5.11" height="5.08" fill="#FFD700"/>
<rect x="293.74" y="34.73" width="5.11" height="5.08" fill="#FFD700"/>
<rect x="309.08" y="34.73" width="5.11" height="5.08" fill="#FFD700"/>
<rect x="227.28" y="39.81" width="5.11" height="5.08" fill="#FFD700"/>
<rect x="288.63" y="39.81" width="5.11" height="5.08" fill="#FFD700"/>
<rect x="191.50" y="44.89" width="5.11" height="5.08" fill="#E69A80"/>
<rect x="196.61" y="44.89" width="5.11" height="5.08" fill="#E69A80"/>
<rect x="201.72" y="44.89" width="5.11" height="5.08" fill="#A666CE"/>
<rect x="206.84" y="44.89" width="5.11" height="5.08" fill="#FFD700"/>
<rect x="211.95" y="44.89" width="5.11" height="5.08" fill="#FFD700"/>
<rect x="227.28" y="44.89" width="5.11" height="5.08" fill="#E69A80"/>
<rect x="237.51" y="44.89" width="5.11" height="5.08" fill="#FFD700"/>
<rect x="242.62" y="44.89" width="5.11" height="5.08" fill="#FFD700"/>
<rect x="247.73" y="44.89" width="5.11" height="5.08" fill="#FFD700"/>
<rect x="252.84" y="44.89" width="5.11" height="5.08" fill="#F6A84C"/>
<rect x="257.96" y="44.89" width="5.11" height="5.08" fill="#FFD700"/>
<rect x="263.07" y="44.89" width="5.11" height="5.08" fill="#E69A80"/>
<rect x="268.18" y="44.89" width="5.11" height="5.08" fill="#FFD700"/>
<rect x="273.29" y="44.89" width="5.11" height="5.08" fill="#E69A80"/>
<rect x="288.63" y="44.89" width="5.11" height="5.08" fill="#E69A80"/>
<rect x="293.74" y="44.89" width="5.11" height="5.08" fill="#E69A80"/>
<rect x="298.85" y="44.89" width="5.11" height="5.08" fill="#FFD700"/>
<rect x="303.96" y="44.89" width="5.11" height="5.08" fill="#FFD700"/>
<rect x="309.08" y="44.89" width="5.11" height="5.08" fill="#E69A80"/>
<rect x="191.50" y="49.96" width="5.11" height="5.08" fill="#F6A84C"/>
<rect x="196.61" y="49.96" width="5.11" height="5.08" fill="#E69A80"/>
<rect x="217.06" y="49.96" width="5.11" height="5.08" fill="#FFD700"/>
<rect x="227.28" y="49.96" width="5.11" height="5.08" fill="#FFD700"/>
<rect x="232.40" y="49.96" width="5.11" height="5.08" fill="#E69A80"/>
<rect x="242.62" y="49.96" width="5.11" height="5.08" fill="#E69A80"/>
<rect x="247.73" y="49.96" width="5.11" height="5.08" fill="#FFD700"/>
<rect x="257.96" y="49.96" width="5.11" height="5.08" fill="#FFD700"/>
<rect x="263.07" y="49.96" width="5.11" height="5.08" fill="#E69A80"/>
<rect x="268.18" y="49.96" width="5.11" height="5.08" fill="#FFD700"/>
<rect x="298.85" y="49.96" width="5.11" height="5.08" fill="#FFD700"/>
<rect x="191.50" y="55.04" width="5.11" height="5.08" fill="#A666CE"/>
<rect x="227.28" y="55.04" width="5.11" height="5.08" fill="#D67C9E"/>
<rect x="237.51" y="55.04" width="5.11" height="5.08" fill="#FFD700"/>
<rect x="242.62" y="55.04" width="5.11" height="5.08" fill="#FFD700"/>
<rect x="257.96" y="55.04" width="5.11" height="5.08" fill="#FFD700"/>
<rect x="263.07" y="55.04" width="5.11" height="5.08" fill="#FFD700"/>
<rect x="288.63" y="55.04" width="5.11" height="5.08" fill="#D67C9E"/>
<rect x="298.85" y="55.04" width="5.11" height="5.08" fill="#FFD700"/>
<rect x="309.08" y="55.04" width="5.11" height="5.08" fill="#E69A80"/>
<rect x="196.61" y="60.12" width="5.11" height="5.08" fill="#F6A84C"/>
<rect x="201.72" y="60.12" width="5.11" height="5.08" fill="#E69A80"/>
<rect x="206.84" y="60.12" width="5.11" height="5.08" fill="#FFD700"/>
<rect x="227.28" y="60.12" width="5.11" height="5.08" fill="#E69A80"/>
<rect x="242.62" y="60.12" width="5.11" height="5.08" fill="#E69A80"/>
<rect x="247.73" y="60.12" width="5.11" height="5.08" fill="#E69A80"/>
<rect x="252.84" y="60.12" width="5.11" height="5.08" fill="#E69A80"/>
<rect x="257.96" y="60.12" width="5.11" height="5.08" fill="#FFD700"/>
<rect x="273.29" y="60.12" width="5.11" height="5.08" fill="#FFD700"/>
<rect x="283.52" y="60.12" width="5.11" height="5.08" fill="#FFD700"/>
<rect x="288.63" y="60.12" width="5.11" height="5.08" fill="#D67C9E"/>
<rect x="293.74" y="60.12" width="5.11" height="5.08" fill="#E69A80"/>
<rect x="298.85" y="60.12" width="5.11" height="5.08" fill="#FFD700"/>
<rect x="309.08" y="60.12" width="5.11" height="5.08" fill="#E69A80"/>
<rect x="191.50" y="65.19" width="5.11" height="5.08" fill="#D67C9E"/>
<rect x="196.61" y="65.19" width="5.11" height="5.08" fill="#A666CE"/>
<rect x="201.72" y="65.19" width="5.11" height="5.08" fill="#A666CE"/>
<rect x="206.84" y="65.19" width="5.11" height="5.08" fill="#A666CE"/>
<rect x="211.95" y="65.19" width="5.11" height="5.08" fill="#E69A80"/>
<rect x="217.06" y="65.19" width="5.11" height="5.08" fill="#FFD700"/>
<rect x="222.17" y="65.19" width="5.11" height="5.08" fill="#E69A80"/>
<rect x="227.28" y="65.19" width="5.11" height="5.08" fill="#6A30E6"/>
<rect x="232.40" y="65.19" width="5.11" height="5.08" fill="#FFD700"/>
<rect x="237.51" y="65.19" width="5.11" height="5.08" fill="#E69A80"/>
<rect x="242.62" y="65.19" width="5.11" height="5.08" fill="#A666CE"/>
<rect x="247.73" y="65.19" width="5.11" height="5.08" fill="#E69A80"/>
<rect x="252.84" y="65.19" width="5.11" height="5.08" fill="#BE76C2"/>
<rect x="257.96" y="65.19" width="5.11" height="5.08" fill="#9044DE"/>
<rect x="263.07" y="65.19" width="5.11" height="5.08" fill="#E69A80"/>
<rect x="268.18" y="65.19" width="5.11" height="5.08" fill="#A666CE"/>
<rect x="273.29" y="65.19" width="5.11" height="5.08" fill="#9044DE"/>
<rect x="283.52" y="65.19" width="5.11" height="5.08" fill="#FFD700"/>
<rect x="288.63" y="65.19" width="5.11" height="5.08" fill="#E69A80"/>
<rect x="293.74" y="65.19" width="5.11" height="5.08" fill="#E69A80"/>
<rect x="298.85" y="65.19" width="5.11" height="5.08" fill="#FFD700"/>
<rect x="309.08" y="65.19" width="5.11" height="5.08" fill="#9044DE"/>
<rect x="314.19" y="65.19" width="5.11" height="5.08" fill="#E69A80"/>
<rect x="288.63" y="70.27" width="5.11" height="5.08" fill="#E69A80"/>
<rect x="309.08" y="70.27" width="5.11" height="5.08" fill="#FFD700"/>
<rect x="201.72" y="75.35" width="5.11" height="5.08" fill="#F6A84C"/>
<rect x="206.84" y="75.35" width="5.11" height="5.08" fill="#FFD700"/>
<rect x="211.95" y="75.35" width="5.11" height="5.08" fill="#FFD700"/>
<rect x="217.06" y="75.35" width="5.11" height="5.08" fill="#E69A80"/>
<rect x="222.17" y="75.35" width="5.11" height="5.08" fill="#FFD700"/>
<rect x="227.28" y="75.35" width="5.11" height="5.08" fill="#F6A84C"/>
<rect x="242.62" y="75.35" width="5.11" height="5.08" fill="#FFD700"/>
<rect x="252.84" y="75.35" width="5.11" height="5.08" fill="#F6A84C"/>
<rect x="257.96" y="75.35" width="5.11" height="5.08" fill="#FFD700"/>
<rect x="273.29" y="75.35" width="5.11" height="5.08" fill="#E69A80"/>
<rect x="283.52" y="75.35" width="5.11" height="5.08" fill="#F6A84C"/>
<rect x="288.63" y="75.35" width="5.11" height="5.08" fill="#F6A84C"/>
<rect x="293.74" y="75.35" width="5.11" height="5.08" fill="#F6A84C"/>
<rect x="298.85" y="75.35" width="5.11" height="5.08" fill="#FFD700"/>
<rect x="309.08" y="75.35" width="5.11" height="5.08" fill="#E69A80"/>
<rect x="201.72" y="80.42" width="5.11" height="5.08" fill="#FFD700"/>
<rect x="217.06" y="80.42" width="5.11" height="5.08" fill="#FFD700"/>
<rect x="222.17" y="80.42" width="5.11" height="5.08" fill="#F6A84C"/>
<rect x="227.28" y="80.42" width="5.11" height="5.08" fill="#FFD700"/>
<rect x="242.62" y="80.42" width="5.11" height="5.08" fill="#FFD700"/>
<rect x="247.73" y="80.42" width="5.11" height="5.08" fill="#FFD700"/>
<rect x="273.29" y="80.42" width="5.11" height="5.08" fill="#FFD700"/>
<rect x="288.63" y="80.42" width="5.11" height="5.08" fill="#FFD700"/>
<rect x="293.74" y="80.42" width="5.11" height="5.08" fill="#FFD700"/>
<rect x="309.08" y="80.42" width="5.11" height="5.08" fill="#FFD700"/>
<rect x="196.61" y="85.50" width="5.11" height="5.08" fill="#D67C9E"/>
<rect x="201.72" y="85.50" width="5.11" height="5.08" fill="#FFD700"/>
<rect x="206.84" y="85.50" width="5.11" height="5.08" fill="#FFD700"/>
<rect x="217.06" y="85.50" width="5.11" height="5.08" fill="#FFD700"/>
<rect x="252.84" y="85.50" width="5.11" height="5.08" fill="#FFD700"/>
<rect x="257.96" y="85.50" width="5.11" height="5.08" fill="#FFD700"/>
<rect x="263.07" y="85.50" width="5.11" height="5.08" fill="#FFD700"/>
<rect x="268.18" y="85.50" width="5.11" height="5.08" fill="#FFD700"/>
<rect x="273.29" y="85.50" width="5.11" height="5.08" fill="#FFD700"/>
<rect x="288.63" y="85.50" width="5.11" height="5.08" fill="#F6A84C"/>
<rect x="293.74" y="85.50" width="5.11" height="5.08" fill="#F6A84C"/>
<rect x="298.85" y="85.50" width="5.11" height="5.08" fill="#E69A80"/>
<rect x="309.08" y="85.50" width="5.11" height="5.08" fill="#F6A84C"/>
<rect x="196.61" y="90.58" width="5.11" height="5.08" fill="#FFD700"/>
<rect x="201.72" y="90.58" width="5.11" height="5.08" fill="#E69A80"/>
<rect x="206.84" y="90.58" width="5.11" height="5.08" fill="#FFD700"/>
<rect x="263.07" y="90.58" width="5.11" height="5.08" fill="#FFD700"/>
<rect x="283.52" y="90.58" width="5.11" height="5.08" fill="#FFD700"/>
<rect x="309.08" y="90.58" width="5.11" height="5.08" fill="#F6A84C"/>
<rect x="196.61" y="95.66" width="5.11" height="5.08" fill="#A666CE"/>
<rect x="201.72" y="95.66" width="5.11" height="5.08" fill="#BE76C2"/>
<rect x="206.84" y="95.66" width="5.11" height="5.08" fill="#D67C9E"/>
<rect x="211.95" y="95.66" width="5.11" height="5.08" fill="#FFD700"/>
<rect x="217.06" y="95.66" width="5.11" height="5.08" fill="#FFD700"/>
<rect x="222.17" y="95.66" width="5.11" height="5.08" fill="#F6A84C"/>
<rect x="227.28" y="95.66" width="5.11" height="5.08" fill="#A666CE"/>
<rect x="232.40" y="95.66" width="5.11" height="5.08" fill="#E69A80"/>
<rect x="237.51" y="95.66" width="5.11" height="5.08" fill="#E69A80"/>
<rect x="242.62" y="95.66" width="5.11" height="5.08" fill="#E69A80"/>
<rect x="247.73" y="95.66" width="5.11" height="5.08" fill="#E69A80"/>
<rect x="252.84" y="95.66" width="5.11" height="5.08" fill="#E69A80"/>
<rect x="257.96" y="95.66" width="5.11" height="5.08" fill="#E69A80"/>
<rect x="263.07" y="95.66" width="5.11" height="5.08" fill="#FFD700"/>
<rect x="268.18" y="95.66" width="5.11" height="5.08" fill="#D67C9E"/>
<rect x="273.29" y="95.66" width="5.11" height="5.08" fill="#D67C9E"/>
<rect x="278.40" y="95.66" width="5.11" height="5.08" fill="#FFD700"/>
<rect x="283.52" y="95.66" width="5.11" height="5.08" fill="#BE76C2"/>
<rect x="288.63" y="95.66" width="5.11" height="5.08" fill="#A666CE"/>
<rect x="293.74" y="95.66" width="5.11" height="5.08" fill="#E69A80"/>
<rect x="309.08" y="95.66" width="5.11" height="5.08" fill="#F6A84C"/>
<rect x="314.19" y="95.66" width="5.11" height="5.08" fill="#D67C9E"/>
<rect x="217.06" y="100.73" width="5.11" height="5.08" fill="#E69A80"/>
<rect x="227.28" y="100.73" width="5.11" height="5.08" fill="#E69A80"/>
<rect x="237.51" y="100.73" width="5.11" height="5.08" fill="#FFD700"/>
<rect x="263.07" y="100.73" width="5.11" height="5.08" fill="#FFD700"/>
<rect x="268.18" y="100.73" width="5.11" height="5.08" fill="#FFD700"/>
<rect x="298.85" y="100.73" width="5.11" height="5.08" fill="#FFD700"/>
<rect x="309.08" y="100.73" width="5.11" height="5.08" fill="#F6A84C"/>
<rect x="196.61" y="110.89" width="5.11" height="5.08" fill="#FFD700"/>
<rect x="222.17" y="110.89" width="5.11" height="5.08" fill="#FFD700"/>
<rect x="242.62" y="110.89" width="5.11" height="5.08" fill="#FFD700"/>
<rect x="298.85" y="110.89" width="5.11" height="5.08" fill="#FFD700"/>
<rect x="309.08" y="110.89" width="5.11" height="5.08" fill="#E69A80"/>
<rect x="191.50" y="115.96" width="5.11" height="5.08" fill="#E69A80"/>
<rect x="196.61" y="115.96" width="5.11" height="5.08" fill="#E69A80"/>
<rect x="201.72" y="115.96" width="5.11" height="5.08" fill="#A666CE"/>
<rect x="206.84" y="115.96" width="5.11" height="5.08" fill="#FFD700"/>
<rect x="211.95" y="115.96" width="5.11" height="5.08" fill="#E69A80"/>
<rect x="217.06" y="115.96" width="5.11" height="5.08" fill="#E69A80"/>
<rect x="222.17" y="115.96" width="5.11" height="5.08" fill="#E69A80"/>
<rect x="227.28" y="115.96" width="5.11" height="5.08" fill="#A666CE"/>
<rect x="232.40" y="115.96" width="5.11" height="5.08" fill="#E69A80"/>
<rect x="237.51" y="115.96" width="5.11" height="5.08" fill="#E69A80"/>
<rect x="242.62" y="115.96" width="5.11" height="5.08" fill="#E69A80"/>
<rect x="247.73" y="115.96" width="5.11" height="5.08" fill="#FFD700"/>
<rect x="252.84" y="115.96" width="5.11" height="5.08" fill="#BE76C2"/>
<rect x="257.96" y="115.96" width="5.11" height="5.08" fill="#D67C9E"/>
<rect x="263.07" y="115.96" width="5.11" height="5.08" fill="#D67C9E"/>
<rect x="268.18" y="115.96" width="5.11" height="5.08" fill="#BE76C2"/>
<rect x="273.29" y="115.96" width="5.11" height="5.08" fill="#A666CE"/>
<rect x="278.40" y="115.96" width="5.11" height="5.08" fill="#FFD700"/>
<rect x="283.52" y="115.96" width="5.11" height="5.08" fill="#BE76C2"/>
<rect x="288.63" y="115.96" width="5.11" height="5.08" fill="#E69A80"/>
<rect x="293.74" y="115.96" width="5.11" height="5.08" fill="#E69A80"/>
<rect x="303.96" y="115.96" width="5.11" height="5.08" fill="#FFD700"/>
<rect x="309.08" y="115.96" width="5.11" height="5.08" fill="#D67C9E"/>
<rect x="191.50" y="126.12" width="5.11" height="5.08" fill="#FFD700"/>
<rect x="196.61" y="126.12" width="5.11" height="5.08" fill="#E69A80"/>
<rect x="201.72" y="126.12" width="5.11" height="5.08" fill="#E69A80"/>
<rect x="217.06" y="126.12" width="5.11" height="5.08" fill="#FFD700"/>
<rect x="222.17" y="126.12" width="5.11" height="5.08" fill="#FFD700"/>
<rect x="227.28" y="126.12" width="5.11" height="5.08" fill="#E69A80"/>
<rect x="242.62" y="126.12" width="5.11" height="5.08" fill="#D67C9E"/>
<rect x="252.84" y="126.12" width="5.11" height="5.08" fill="#E69A80"/>
<rect x="257.96" y="126.12" width="5.11" height="5.08" fill="#F6A84C"/>
<rect x="263.07" y="126.12" width="5.11" height="5.08" fill="#FFD700"/>
<rect x="268.18" y="126.12" width="5.11" height="5.08" fill="#E69A80"/>
<rect x="273.29" y="126.12" width="5.11" height="5.08" fill="#E69A80"/>
<rect x="283.52" y="126.12" width="5.11" height="5.08" fill="#E69A80"/>
<rect x="288.63" y="126.12" width="5.11" height="5.08" fill="#E69A80"/>
<rect x="293.74" y="126.12" width="5.11" height="5.08" fill="#E69A80"/>
<rect x="298.85" y="126.12" width="5.11" height="5.08" fill="#E69A80"/>
<rect x="314.19" y="126.12" width="5.11" height="5.08" fill="#FFD700"/>
<rect x="191.50" y="131.20" width="5.11" height="5.08" fill="#E69A80"/>
<rect x="196.61" y="131.20" width="5.11" height="5.08" fill="#9044DE"/>
<rect x="201.72" y="131.20" width="5.11" height="5.08" fill="#9044DE"/>
<rect x="206.84" y="131.20" width="5.11" height="5.08" fill="#E69A80"/>
<rect x="211.95" y="131.20" width="5.11" height="5.08" fill="#FFD700"/>
<rect x="217.06" y="131.20" width="5.11" height="5.08" fill="#FFD700"/>
<rect x="222.17" y="131.20" width="5.11" height="5.08" fill="#E69A80"/>
<rect x="227.28" y="131.20" width="5.11" height="5.08" fill="#9044DE"/>
<rect x="232.40" y="131.20" width="5.11" height="5.08" fill="#A666CE"/>
<rect x="237.51" y="131.20" width="5.11" height="5.08" fill="#E69A80"/>
<rect x="242.62" y="131.20" width="5.11" height="5.08" fill="#BE76C2"/>
<rect x="247.73" y="131.20" width="5.11" height="5.08" fill="#A666CE"/>
<rect x="252.84" y="131.20" width="5.11" height="5.08" fill="#BE76C2"/>
<rect x="257.96" y="131.20" width="5.11" height="5.08" fill="#A666CE"/>
<rect x="263.07" y="131.20" width="5.11" height="5.08" fill="#9044DE"/>
<rect x="268.18" y="131.20" width="5.11" height="5.08" fill="#A666CE"/>
<rect x="273.29" y="131.20" width="5.11" height="5.08" fill="#9044DE"/>
<rect x="278.40" y="131.20" width="5.11" height="5.08" fill="#E69A80"/>
<rect x="283.52" y="131.20" width="5.11" height="5.08" fill="#9044DE"/>
<rect x="288.63" y="131.20" width="5.11" height="5.08" fill="#6A30E6"/>
<rect x="293.74" y="131.20" width="5.11" height="5.08" fill="#A666CE"/>
<rect x="298.85" y="131.20" width="5.11" height="5.08" fill="#BE76C2"/>
<rect x="303.96" y="131.20" width="5.11" height="5.08" fill="#BE76C2"/>
<rect x="309.08" y="131.20" width="5.11" height="5.08" fill="#9044DE"/>
<rect x="314.19" y="131.20" width="5.11" height="5.08" fill="#FFD700"/>
<rect x="196.61" y="136.27" width="5.11" height="5.08" fill="#FFD700"/>
<rect x="201.72" y="136.27" width="5.11" height="5.08" fill="#FFD700"/>
<rect x="206.84" y="136.27" width="5.11" height="5.08" fill="#FFD700"/>
<rect x="211.95" y="136.27" width="5.11" height="5.08" fill="#FFD700"/>
<rect x="217.06" y="136.27" width="5.11" height="5.08" fill="#E69A80"/>
<rect x="222.17" y="136.27" width="5.11" height="5.08" fill="#E69A80"/>
<rect x="242.62" y="136.27" width="5.11" height="5.08" fill="#FFD700"/>
<rect x="252.84" y="136.27" width="5.11" height="5.08" fill="#E69A80"/>
<rect x="263.07" y="136.27" width="5.11" height="5.08" fill="#FFD700"/>
<rect x="268.18" y="136.27" width="5.11" height="5.08" fill="#E69A80"/>
<rect x="273.29" y="136.27" width="5.11" height="5.08" fill="#E69A80"/>
<rect x="283.52" y="136.27" width="5.11" height="5.08" fill="#FFD700"/>
<rect x="288.63" y="136.27" width="5.11" height="5.08" fill="#A666CE"/>
<rect x="293.74" y="136.27" width="5.11" height="5.08" fill="#FFD700"/>
<rect x="309.08" y="136.27" width="5.11" height="5.08" fill="#FFD700"/>
<rect x="201.72" y="141.35" width="5.11" height="5.08" fill="#E69A80"/>
<rect x="211.95" y="141.35" width="5.11" height="5.08" fill="#FFD700"/>
<rect x="227.28" y="141.35" width="5.11" height="5.08" fill="#E69A80"/>
<rect x="237.51" y="146.43" width="5.11" height="5.08" fill="#FFD700"/>
<rect x="283.52" y="146.43" width="5.11" height="5.08" fill="#FFD700"/>
<rect x="314.19" y="146.43" width="5.11" height="5.08" fill="#FFD700"/>
<rect x="196.61" y="151.50" width="5.11" height="5.08" fill="#D67C9E"/>
<rect x="201.72" y="151.50" width="5.11" height="5.08" fill="#D67C9E"/>
<rect x="206.84" y="151.50" width="5.11" height="5.08" fill="#E69A80"/>
<rect x="211.95" y="151.50" width="5.11" height="5.08" fill="#D67C9E"/>
<rect x="227.28" y="151.50" width="5.11" height="5.08" fill="#E69A80"/>
<rect x="232.40" y="151.50" width="5.11" height="5.08" fill="#FFD700"/>
<rect x="237.51" y="151.50" width="5.11" height="5.08" fill="#FFD700"/>
<rect x="242.62" y="151.50" width="5.11" height="5.08" fill="#FFD700"/>
<rect x="252.84" y="151.50" width="5.11" height="5.08" fill="#E69A80"/>
<rect x="257.96" y="151.50" width="5.11" height="5.08" fill="#E69A80"/>
<rect x="263.07" y="151.50" width="5.11" height="5.08" fill="#E69A80"/>
<rect x="268.18" y="151.50" width="5.11" height="5.08" fill="#E69A80"/>
<rect x="273.29" y="151.50" width="5.11" height="5.08" fill="#E69A80"/>
<rect x="283.52" y="151.50" width="5.11" height="5.08" fill="#FFD700"/>
<rect x="288.63" y="151.50" width="5.11" height="5.08" fill="#E69A80"/>
<rect x="298.85" y="151.50" width="5.11" height="5.08" fill="#E69A80"/>
<rect x="303.96" y="151.50" width="5.11" height="5.08" fill="#FFD700"/>
<rect x="309.08" y="151.50" width="5.11" height="5.08" fill="#E69A80"/>
<rect x="314.19" y="151.50" width="5.11" height="5.08" fill="#E69A80"/>
<rect x="191.50" y="156.58" width="5.11" height="5.08" fill="#BE76C2"/>
<rect x="196.61" y="156.58" width="5.11" height="5.08" fill="#9044DE"/>
<rect x="201.72" y="156.58" width="5.11" height="5.08" fill="#A666CE"/>
<rect x="206.84" y="156.58" width="5.11" height="5.08" fill="#BE76C2"/>
<rect x="211.95" y="156.58" width="5.11" height="5.08" fill="#E69A80"/>
<rect x="217.06" y="156.58" width="5.11" height="5.08" fill="#BE76C2"/>
<rect x="222.17" y="156.58" width="5.11" height="5.08" fill="#BE76C2"/>
<rect x="227.28" y="156.58" width="5.11" height="5.08" fill="#BE76C2"/>
<rect x="232.40" y="156.58" width="5.11" height="5.08" fill="#E69A80"/>
<rect x="237.51" y="156.58" width="5.11" height="5.08" fill="#BE76C2"/>
<rect x="242.62" y="156.58" width="5.11" height="5.08" fill="#9044DE"/>
<rect x="247.73" y="156.58" width="5.11" height="5.08" fill="#FFD700"/>
<rect x="252.84" y="156.58" width="5.11" height="5.08" fill="#9044DE"/>
<rect x="257.96" y="156.58" width="5.11" height="5.08" fill="#A666CE"/>
<rect x="263.07" y="156.58" width="5.11" height="5.08" fill="#9044DE"/>
<rect x="268.18" y="156.58" width="5.11" height="5.08" fill="#A666CE"/>
<rect x="273.29" y="156.58" width="5.11" height="5.08" fill="#6A30E6"/>
<rect x="278.40" y="156.58" width="5.11" height="5.08" fill="#FFD700"/>
<rect x="283.52" y="156.58" width="5.11" height="5.08" fill="#BE76C2"/>
<rect x="288.63" y="156.58" width="5.11" height="5.08" fill="#6A30E6"/>
<rect x="293.74" y="156.58" width="5.11" height="5.08" fill="#BE76C2"/>
<rect x="298.85" y="156.58" width="5.11" height="5.08" fill="#BE76C2"/>
<rect x="303.96" y="156.58" width="5.11" height="5.08" fill="#FFD700"/>
<rect x="309.08" y="156.58" width="5.11" height="5.08" fill="#6A30E6"/>
<rect x="314.19" y="156.58" width="5.11" height="5.08" fill="#E69A80"/>
<rect x="252.84" y="166.74" width="5.11" height="5.08" fill="#FFD700"/>
<rect x="191.50" y="171.81" width="5.11" height="5.08" fill="#FFD700"/>
<rect x="201.72" y="171.81" width="5.11" height="5.08" fill="#FFD700"/>
<rect x="237.51" y="171.81" width="5.11" height="5.08" fill="#FFD700"/>
<rect x="257.96" y="171.81" width="5.11" height="5.08" fill="#E69A80"/>
<rect x="263.07" y="171.81" width="5.11" height="5.08" fill="#E69A80"/>
<rect x="191.50" y="176.89" width="5.11" height="5.08" fill="#A666CE"/>
<rect x="196.61" y="176.89" width="5.11" height="5.08" fill="#9044DE"/>
<rect x="201.72" y="176.89" width="5.11" height="5.08" fill="#9044DE"/>
<rect x="206.84" y="176.89" width="5.11" height="5.08" fill="#BE76C2"/>
<rect x="217.06" y="176.89" width="5.11" height="5.08" fill="#A666CE"/>
<rect x="222.17" y="176.89" width="5.11" height="5.08" fill="#A666CE"/>
<rect x="227.28" y="176.89" width="5.11" height="5.08" fill="#9044DE"/>
<rect x="232.40" y="176.89" width="5.11" height="5.08" fill="#E69A80"/>
<rect x="237.51" y="176.89" width="5.11" height="5.08" fill="#BE76C2"/>
<rect x="242.62" y="176.89" width="5.11" height="5.08" fill="#BE76C2"/>
<rect x="247.73" y="176.89" width="5.11" height="5.08" fill="#A666CE"/>
<rect x="252.84" y="176.89" width="5.11" height="5.08" fill="#A666CE"/>
<rect x="257.96" y="176.89" width="5.11" height="5.08" fill="#9044DE"/>
<rect x="263.07" y="176.89" width="5.11" height="5.08" fill="#A666CE"/>
<rect x="268.18" y="176.89" width="5.11" height="5.08" fill="#A666CE"/>
<rect x="273.29" y="176.89" width="5.11" height="5.08" fill="#A666CE"/>
<rect x="283.52" y="176.89" width="5.11" height="5.08" fill="#9044DE"/>
<rect x="288.63" y="176.89" width="5.11" height="5.08" fill="#6A30E6"/>
<rect x="293.74" y="176.89" width="5.11" height="5.08" fill="#BE76C2"/>
<rect x="298.85" y="176.89" width="5.11" height="5.08" fill="#BE76C2"/>
<rect x="303.96" y="176.89" width="5.11" height="5.08" fill="#BE76C2"/>
<rect x="309.08" y="176.89" width="5.11" height="5.08" fill="#9044DE"/>
<rect x="314.19" y="176.89" width="5.11" height="5.08" fill="#E69A80"/>
<rect x="191.50" y="181.97" width="5.11" height="5.08" fill="#E69A80"/>
<rect x="196.61" y="181.97" width="5.11" height="5.08" fill="#BE76C2"/>
<rect x="201.72" y="181.97" width="5.11" height="5.08" fill="#E69A80"/>
<rect x="206.84" y="181.97" width="5.11" height="5.08" fill="#FFD700"/>
<rect x="211.95" y="181.97" width="5.11" height="5.08" fill="#FFD700"/>
<rect x="217.06" y="181.97" width="5.11" height="5.08" fill="#FFD700"/>
<rect x="222.17" y="181.97" width="5.11" height="5.08" fill="#E69A80"/>
<rect x="227.28" y="181.97" width="5.11" height="5.08" fill="#D67C9E"/>
<rect x="232.40" y="181.97" width="5.11" height="5.08" fill="#E69A80"/>
<rect x="237.51" y="181.97" width="5.11" height="5.08" fill="#E69A80"/>
<rect x="242.62" y="181.97" width="5.11" height="5.08" fill="#FFD700"/>
<rect x="247.73" y="181.97" width="5.11" height="5.08" fill="#E69A80"/>
<rect x="252.84" y="181.97" width="5.11" height="5.08" fill="#D67C9E"/>
<rect x="257.96" y="181.97" width="5.11" height="5.08" fill="#BE76C2"/>
<rect x="263.07" y="181.97" width="5.11" height="5.08" fill="#BE76C2"/>
<rect x="268.18" y="181.97" width="5.11" height="5.08" fill="#E69A80"/>
<rect x="273.29" y="181.97" width="5.11" height="5.08" fill="#BE76C2"/>
<rect x="283.52" y="181.97" width="5.11" height="5.08" fill="#E69A80"/>
<rect x="288.63" y="181.97" width="5.11" height="5.08" fill="#A666CE"/>
<rect x="293.74" y="181.97" width="5.11" height="5.08" fill="#FFD700"/>
<rect x="298.85" y="181.97" width="5.11" height="5.08" fill="#E69A80"/>
<rect x="309.08" y="181.97" width="5.11" height="5.08" fill="#BE76C2"/>
<rect x="196.61" y="187.04" width="5.11" height="5.08" fill="#E69A80"/>
<rect x="227.28" y="187.04" width="5.11" height="5.08" fill="#E69A80"/>
<rect x="237.51" y="187.04" width="5.11" height="5.08" fill="#FFD700"/>
<rect x="273.29" y="187.04" width="5.11" height="5.08" fill="#FFD700"/>
<rect x="283.52" y="187.04" width="5.11" height="5.08" fill="#FFD700"/>
<rect x="298.85" y="187.04" width="5.11" height="5.08" fill="#FFD700"/>
<rect x="309.08" y="187.04" width="5.11" height="5.08" fill="#D67C9E"/>
<rect x="196.61" y="192.12" width="5.11" height="5.08" fill="#E69A80"/>
<rect x="201.72" y="192.12" width="5.11" height="5.08" fill="#A666CE"/>
<rect x="211.95" y="192.12" width="5.11" height="5.08" fill="#FFD700"/>
<rect x="227.28" y="192.12" width="5.11" height="5.08" fill="#D67C9E"/>
<rect x="237.51" y="192.12" width="5.11" height="5.08" fill="#FFD700"/>
<rect x="242.62" y="192.12" width="5.11" height="5.08" fill="#FFD700"/>
<rect x="247.73" y="192.12" width="5.11" height="5.08" fill="#FFD700"/>
<rect x="252.84" y="192.12" width="5.11" height="5.08" fill="#FFD700"/>
<rect x="257.96" y="192.12" width="5.11" height="5.08" fill="#E69A80"/>
<rect x="263.07" y="192.12" width="5.11" height="5.08" fill="#E69A80"/>
<rect x="268.18" y="192.12" width="5.11" height="5.08" fill="#FFD700"/>
<rect x="273.29" y="192.12" width="5.11" height="5.08" fill="#E69A80"/>
<rect x="293.74" y="192.12" width="5.11" height="5.08" fill="#E69A80"/>
<rect x="309.08" y="192.12" width="5.11" height="5.08" fill="#E69A80"/>
<rect x="196.61" y="197.20" width="5.11" height="5.08" fill="#FFD700"/>
<rect x="211.95" y="197.20" width="5.11" height="5.08" fill="#FFD700"/>
<rect x="237.51" y="197.20" width="5.11" height="5.08" fill="#FFD700"/>
<rect x="247.73" y="197.20" width="5.11" height="5.08" fill="#FFD700"/>
<rect x="252.84" y="197.20" width="5.11" height="5.08" fill="#FFD700"/>
<rect x="263.07" y="197.20" width="5.11" height="5.08" fill="#FFD700"/>
<rect x="273.29" y="197.20" width="5.11" height="5.08" fill="#E69A80"/>
<rect x="288.63" y="197.20" width="5.11" height="5.08" fill="#FFD700"/>
<rect x="293.74" y="197.20" width="5.11" height="5.08" fill="#E69A80"/>
<rect x="309.08" y="197.20" width="5.11" height="5.08" fill="#E69A80"/>
<rect x="196.61" y="202.28" width="5.11" height="5.08" fill="#FFD700"/>
<rect x="201.72" y="202.28" width="5.11" height="5.08" fill="#FFD700"/>
<rect x="211.95" y="202.28" width="5.11" height="5.08" fill="#FFD700"/>
<rect x="237.51" y="202.28" width="5.11" height="5.08" fill="#FFD700"/>
<rect x="263.07" y="202.28" width="5.11" height="5.08" fill="#FFD700"/>
<rect x="268.18" y="202.28" width="5.11" height="5.08" fill="#FFD700"/>
<rect x="273.29" y="202.28" width="5.11" height="5.08" fill="#FFD700"/>
<rect x="283.52" y="202.28" width="5.11" height="5.08" fill="#FFD700"/>
<rect x="309.08" y="202.28" width="5.11" height="5.08" fill="#FFD700"/>
<rect x="191.50" y="207.35" width="5.11" height="5.08" fill="#E69A80"/>
<rect x="196.61" y="207.35" width="5.11" height="5.08" fill="#FFD700"/>
<rect x="201.72" y="207.35" width="5.11" height="5.08" fill="#E69A80"/>
<rect x="206.84" y="207.35" width="5.11" height="5.08" fill="#FFD700"/>
<rect x="217.06" y="207.35" width="5.11" height="5.08" fill="#E69A80"/>
<rect x="222.17" y="207.35" width="5.11" height="5.08" fill="#FFD700"/>
<rect x="227.28" y="207.35" width="5.11" height="5.08" fill="#E69A80"/>
<rect x="237.51" y="207.35" width="5.11" height="5.08" fill="#E69A80"/>
<rect x="242.62" y="207.35" width="5.11" height="5.08" fill="#E69A80"/>
<rect x="252.84" y="207.35" width="5.11" height="5.08" fill="#E69A80"/>
<rect x="257.96" y="207.35" width="5.11" height="5.08" fill="#E69A80"/>
<rect x="263.07" y="207.35" width="5.11" height="5.08" fill="#E69A80"/>
<rect x="268.18" y="207.35" width="5.11" height="5.08" fill="#E69A80"/>
<rect x="273.29" y="207.35" width="5.11" height="5.08" fill="#E69A80"/>
<rect x="283.52" y="207.35" width="5.11" height="5.08" fill="#E69A80"/>
<rect x="288.63" y="207.35" width="5.11" height="5.08" fill="#E69A80"/>
<rect x="293.74" y="207.35" width="5.11" height="5.08" fill="#E69A80"/>
<rect x="298.85" y="207.35" width="5.11" height="5.08" fill="#FFD700"/>
<rect x="309.08" y="207.35" width="5.11" height="5.08" fill="#F6A84C"/>
<rect x="191.50" y="212.43" width="5.11" height="5.08" fill="#FFD700"/>
<rect x="196.61" y="212.43" width="5.11" height="5.08" fill="#E69A80"/>
<rect x="217.06" y="212.43" width="5.11" height="5.08" fill="#FFD700"/>
<rect x="227.28" y="212.43" width="5.11" height="5.08" fill="#BE76C2"/>
<rect x="232.40" y="212.43" width="5.11" height="5.08" fill="#FFD700"/>
<rect x="237.51" y="212.43" width="5.11" height="5.08" fill="#FFD700"/>
<rect x="247.73" y="212.43" width="5.11" height="5.08" fill="#FFD700"/>
<rect x="252.84" y="212.43" width="5.11" height="5.08" fill="#FFD700"/>
<rect x="257.96" y="212.43" width="5.11" height="5.08" fill="#FFD700"/>
<rect x="263.07" y="212.43" width="5.11" height="5.08" fill="#E69A80"/>
<rect x="268.18" y="212.43" width="5.11" height="5.08" fill="#E69A80"/>
<rect x="273.29" y="212.43" width="5.11" height="5.08" fill="#BE76C2"/>
<rect x="288.63" y="212.43" width="5.11" height="5.08" fill="#E69A80"/>
<rect x="303.96" y="212.43" width="5.11" height="5.08" fill="#FFD700"/>
<rect x="309.08" y="212.43" width="5.11" height="5.08" fill="#F6A84C"/>
<rect x="196.61" y="217.51" width="5.11" height="5.08" fill="#FFD700"/>
<rect x="201.72" y="217.51" width="5.11" height="5.08" fill="#FFD700"/>
<rect x="217.06" y="217.51" width="5.11" height="5.08" fill="#FFD700"/>
<rect x="232.40" y="217.51" width="5.11" height="5.08" fill="#FFD700"/>
<rect x="252.84" y="217.51" width="5.11" height="5.08" fill="#FFD700"/>
<rect x="257.96" y="217.51" width="5.11" height="5.08" fill="#FFD700"/>
<rect x="288.63" y="217.51" width="5.11" height="5.08" fill="#FFD700"/>
<rect x="298.85" y="217.51" width="5.11" height="5.08" fill="#FFD700"/>
<rect x="309.08" y="217.51" width="5.11" height="5.08" fill="#FFD700"/>
<rect x="191.50" y="222.58" width="5.11" height="5.08" fill="#D67C9E"/>
<rect x="196.61" y="222.58" width="5.11" height="5.08" fill="#6A30E6"/>
<rect x="201.72" y="222.58" width="5.11" height="5.08" fill="#A666CE"/>
<rect x="206.84" y="222.58" width="5.11" height="5.08" fill="#E69A80"/>
<rect x="211.95" y="222.58" width="5.11" height="5.08" fill="#D67C9E"/>
<rect x="217.06" y="222.58" width="5.11" height="5.08" fill="#D67C9E"/>
<rect x="222.17" y="222.58" width="5.11" height="5.08" fill="#D67C9E"/>
<rect x="227.28" y="222.58" width="5.11" height="5.08" fill="#2A12EE"/>
<rect x="232.40" y="222.58" width="5.11" height="5.08" fill="#BE76C2"/>
<rect x="237.51" y="222.58" width="5.11" height="5.08" fill="#A666CE"/>
<rect x="242.62" y="222.58" width="5.11" height="5.08" fill="#A666CE"/>
<rect x="247.73" y="222.58" width="5.11" height="5.08" fill="#E69A80"/>
<rect x="252.84" y="222.58" width="5.11" height="5.08" fill="#A666CE"/>
<rect x="257.96" y="222.58" width="5.11" height="5.08" fill="#A666CE"/>
<rect x="263.07" y="222.58" width="5.11" height="5.08" fill="#A666CE"/>
<rect x="268.18" y="222.58" width="5.11" height="5.08" fill="#A666CE"/>
<rect x="273.29" y="222.58" width="5.11" height="5.08" fill="#2A12EE"/>
<rect x="278.40" y="222.58" width="5.11" height="5.08" fill="#FFD700"/>
<rect x="283.52" y="222.58" width="5.11" height="5.08" fill="#BE76C2"/>
<rect x="288.63" y="222.58" width="5.11" height="5.08" fill="#2A12EE"/>
<rect x="293.74" y="222.58" width="5.11" height="5.08" fill="#BE76C2"/>
<rect x="298.85" y="222.58" width="5.11" height="5.08" fill="#BE76C2"/>
<rect x="303.96" y="222.58" width="5.11" height="5.08" fill="#E69A80"/>
<rect x="309.08" y="222.58" width="5.11" height="5.08" fill="#A666CE"/>
<rect x="314.19" y="222.58" width="5.11" height="5.08" fill="#E69A80"/>
<rect x="196.61" y="227.66" width="5.11" height="5.08" fill="#FFD700"/>
<rect x="263.07" y="227.66" width="5.11" height="5.08" fill="#FFD700"/>
<rect x="288.63" y="227.66" width="5.11" height="5.08" fill="#FFD700"/>
<rect x="309.08" y="227.66" width="5.11" height="5.08" fill="#FFD700"/>
<rect x="191.50" y="237.81" width="5.11" height="5.08" fill="#FFD700"/>
<rect x="196.61" y="237.81" width="5.11" height="5.08" fill="#E69A80"/>
<rect x="201.72" y="237.81" width="5.11" height="5.08" fill="#D67C9E"/>
<rect x="206.84" y="237.81" width="5.11" height="5.08" fill="#E69A80"/>
<rect x="227.28" y="237.81" width="5.11" height="5.08" fill="#A666CE"/>
<rect x="232.40" y="237.81" width="5.11" height="5.08" fill="#FFD700"/>
<rect x="237.51" y="237.81" width="5.11" height="5.08" fill="#FFD700"/>
<rect x="242.62" y="237.81" width="5.11" height="5.08" fill="#BE76C2"/>
<rect x="252.84" y="237.81" width="5.11" height="5.08" fill="#E69A80"/>
<rect x="257.96" y="237.81" width="5.11" height="5.08" fill="#E69A80"/>
<rect x="263.07" y="237.81" width="5.11" height="5.08" fill="#E69A80"/>
<rect x="268.18" y="237.81" width="5.11" height="5.08" fill="#FFD700"/>
<rect x="273.29" y="237.81" width="5.11" height="5.08" fill="#E69A80"/>
<rect x="278.40" y="237.81" width="5.11" height="5.08" fill="#FFD700"/>
<rect x="283.52" y="237.81" width="5.11" height="5.08" fill="#E69A80"/>
<rect x="288.63" y="237.81" width="5.11" height="5.08" fill="#D67C9E"/>
<rect x="309.08" y="237.81" width="5.11" height="5.08" fill="#FFD700"/>
<rect x="217.06" y="247.97" width="5.11" height="5.08" fill="#FFD700"/>
<rect x="227.28" y="247.97" width="5.11" height="5.08" fill="#E69A80"/>
<rect x="247.73" y="247.97" width="5.11" height="5.08" fill="#FFD700"/>
<rect x="273.29" y="247.97" width="5.11" height="5.08" fill="#E69A80"/>
<rect x="283.52" y="247.97" width="5.11" height="5.08" fill="#FFD700"/>
<rect x="309.08" y="247.97" width="5.11" height="5.08" fill="#FFD700"/>
<rect x="201.72" y="253.05" width="5.11" height="5.08" fill="#E69A80"/>
<rect x="211.95" y="253.05" width="5.11" height="5.08" fill="#FFD700"/>
<rect x="217.06" y="253.05" width="5.11" height="5.08" fill="#FFD700"/>
<rect x="222.17" y="253.05" width="5.11" height="5.08" fill="#FFD700"/>
<rect x="227.28" y="253.05" width="5.11" height="5.08" fill="#E69A80"/>
<rect x="232.40" y="253.05" width="5.11" height="5.08" fill="#FFD700"/>
<rect x="237.51" y="253.05" width="5.11" height="5.08" fill="#FFD700"/>
<rect x="242.62" y="253.05" width="5.11" height="5.08" fill="#FFD700"/>
<rect x="252.84" y="253.05" width="5.11" height="5.08" fill="#FFD700"/>
<rect x="263.07" y="253.05" width="5.11" height="5.08" fill="#E69A80"/>
<rect x="268.18" y="253.05" width="5.11" height="5.08" fill="#FFD700"/>
<rect x="283.52" y="253.05" width="5.11" height="5.08" fill="#E69A80"/>
<rect x="288.63" y="253.05" width="5.11" height="5.08" fill="#E69A80"/>
<rect x="303.96" y="253.05" width="5.11" height="5.08" fill="#FFD700"/>
<rect x="191.50" y="258.12" width="5.11" height="5.08" fill="#FFD700"/>
<rect x="196.61" y="258.12" width="5.11" height="5.08" fill="#FFD700"/>
<rect x="211.95" y="258.12" width="5.11" height="5.08" fill="#FFD700"/>
<rect x="227.28" y="258.12" width="5.11" height="5.08" fill="#FFD700"/>
<rect x="242.62" y="258.12" width="5.11" height="5.08" fill="#FFD700"/>
<rect x="263.07" y="258.12" width="5.11" height="5.08" fill="#FFD700"/>
<rect x="268.18" y="258.12" width="5.11" height="5.08" fill="#FFD700"/>
<rect x="273.29" y="258.12" width="5.11" height="5.08" fill="#E69A80"/>
<rect x="288.63" y="258.12" width="5.11" height="5.08" fill="#FFD700"/>
<rect x="298.85" y="258.12" width="5.11" height="5.08" fill="#D67C9E"/>
<rect x="309.08" y="258.12" width="5.11" height="5.08" fill="#FFD700"/>
</g>
<line x1="191.50" x2="319.30" y1="19.50" y2="19.50" stroke="#dcdde2" stroke-width="0.6"/>
<line x1="191.50" x2="319.30" y1="263.20" y2="263.20" stroke="#bfc0c6" stroke-width="0.6"/>
<line x1="191.50" x2="191.50" y1="19.50" y2="263.20" stroke="#8a8e9a" stroke-width="0.9"/>
<line x1="319.30" x2="319.30" y1="19.50" y2="263.20" stroke="#8a8e9a" stroke-width="0.9"/>
<text transform="translate(195.46,265.90) rotate(-90)" class="dl">1-1</text>
<text transform="translate(200.57,265.90) rotate(-90)" class="dl">2-2</text>
<text transform="translate(205.68,265.90) rotate(-90)" class="dl">3-3</text>
<text transform="translate(210.79,265.90) rotate(-90)" class="dl">4-4</text>
<text transform="translate(215.90,265.90) rotate(-90)" class="dl">5-5</text>
<text transform="translate(221.02,265.90) rotate(-90)" class="dl">6-6</text>
<text transform="translate(226.13,265.90) rotate(-90)" class="dl">1-7</text>
<text transform="translate(231.24,265.90) rotate(-90)" class="dl">3-10</text>
<text transform="translate(236.35,265.90) rotate(-90)" class="dl">4-11</text>
<text transform="translate(241.46,265.90) rotate(-90)" class="dl">5-12</text>
<text transform="translate(246.58,265.90) rotate(-90)" class="dl">6-13</text>
<text transform="translate(251.69,265.90) rotate(-90)" class="dl">1-14</text>
<text transform="translate(256.80,265.90) rotate(-90)" class="dl">2-15</text>
<text transform="translate(261.91,265.90) rotate(-90)" class="dl">3-16</text>
<text transform="translate(267.02,265.90) rotate(-90)" class="dl">4-17</text>
<text transform="translate(272.14,265.90) rotate(-90)" class="dl">5-18</text>
<text transform="translate(277.25,265.90) rotate(-90)" class="dl">6-19</text>
<text transform="translate(282.36,265.90) rotate(-90)" class="dl">1-20</text>
<text transform="translate(287.47,265.90) rotate(-90)" class="dl">2-21</text>
<text transform="translate(292.58,265.90) rotate(-90)" class="dl">3-22</text>
<text transform="translate(297.70,265.90) rotate(-90)" class="dl">4-23</text>
<text transform="translate(302.81,265.90) rotate(-90)" class="dl">5-24</text>
<text transform="translate(307.92,265.90) rotate(-90)" class="dl">6-25</text>
<text transform="translate(313.03,265.90) rotate(-90)" class="dl">1-26</text>
<text transform="translate(318.14,265.90) rotate(-90)" class="dl">7-27</text>
<g filter="url(#bl)" shape-rendering="crispEdges">
<rect x="49.60" y="304.66" width="5.05" height="5.06" fill="#FFD700"/>
<rect x="54.65" y="304.66" width="5.05" height="5.06" fill="#E69A80"/>
<rect x="59.70" y="304.66" width="5.05" height="5.06" fill="#BE76C2"/>
<rect x="79.89" y="304.66" width="5.05" height="5.06" fill="#FFD700"/>
<rect x="84.94" y="304.66" width="5.05" height="5.06" fill="#E69A80"/>
<rect x="95.03" y="304.66" width="5.05" height="5.06" fill="#E69A80"/>
<rect x="100.08" y="304.66" width="5.05" height="5.06" fill="#FFD700"/>
<rect x="110.18" y="304.66" width="5.05" height="5.06" fill="#E69A80"/>
<rect x="115.22" y="304.66" width="5.05" height="5.06" fill="#E69A80"/>
<rect x="125.32" y="304.66" width="5.05" height="5.06" fill="#F6A84C"/>
<rect x="130.37" y="304.66" width="5.05" height="5.06" fill="#F6A84C"/>
<rect x="145.51" y="304.66" width="5.05" height="5.06" fill="#FFD700"/>
<rect x="165.70" y="304.66" width="5.05" height="5.06" fill="#E69A80"/>
<rect x="54.65" y="309.72" width="5.05" height="5.06" fill="#FFD700"/>
<rect x="64.74" y="309.72" width="5.05" height="5.06" fill="#FFD700"/>
<rect x="115.22" y="309.72" width="5.05" height="5.06" fill="#FFD700"/>
<rect x="120.27" y="309.72" width="5.05" height="5.06" fill="#FFD700"/>
<rect x="145.51" y="309.72" width="5.05" height="5.06" fill="#FFD700"/>
<rect x="165.70" y="309.72" width="5.05" height="5.06" fill="#FFD700"/>
<rect x="84.94" y="314.78" width="5.05" height="5.06" fill="#FFD700"/>
<rect x="89.98" y="314.78" width="5.05" height="5.06" fill="#FFD700"/>
<rect x="145.51" y="314.78" width="5.05" height="5.06" fill="#FFD700"/>
<rect x="84.94" y="319.83" width="5.05" height="5.06" fill="#FFD700"/>
<rect x="140.46" y="319.83" width="5.05" height="5.06" fill="#FFD700"/>
<rect x="145.51" y="319.83" width="5.05" height="5.06" fill="#FFD700"/>
<rect x="54.65" y="324.89" width="5.05" height="5.06" fill="#A666CE"/>
<rect x="59.70" y="324.89" width="5.05" height="5.06" fill="#E69A80"/>
<rect x="64.74" y="324.89" width="5.05" height="5.06" fill="#E69A80"/>
<rect x="69.79" y="324.89" width="5.05" height="5.06" fill="#FFD700"/>
<rect x="79.89" y="324.89" width="5.05" height="5.06" fill="#E69A80"/>
<rect x="84.94" y="324.89" width="5.05" height="5.06" fill="#A666CE"/>
<rect x="95.03" y="324.89" width="5.05" height="5.06" fill="#E69A80"/>
<rect x="100.08" y="324.89" width="5.05" height="5.06" fill="#E69A80"/>
<rect x="105.13" y="324.89" width="5.05" height="5.06" fill="#FFD700"/>
<rect x="110.18" y="324.89" width="5.05" height="5.06" fill="#E69A80"/>
<rect x="115.22" y="324.89" width="5.05" height="5.06" fill="#FFD700"/>
<rect x="120.27" y="324.89" width="5.05" height="5.06" fill="#E69A80"/>
<rect x="125.32" y="324.89" width="5.05" height="5.06" fill="#E69A80"/>
<rect x="130.37" y="324.89" width="5.05" height="5.06" fill="#FFD700"/>
<rect x="135.42" y="324.89" width="5.05" height="5.06" fill="#FFD700"/>
<rect x="140.46" y="324.89" width="5.05" height="5.06" fill="#BE76C2"/>
<rect x="145.51" y="324.89" width="5.05" height="5.06" fill="#BE76C2"/>
<rect x="150.56" y="324.89" width="5.05" height="5.06" fill="#E69A80"/>
<rect x="155.61" y="324.89" width="5.05" height="5.06" fill="#BE76C2"/>
<rect x="165.70" y="324.89" width="5.05" height="5.06" fill="#D67C9E"/>
<rect x="54.65" y="329.95" width="5.05" height="5.06" fill="#E69A80"/>
<rect x="59.70" y="329.95" width="5.05" height="5.06" fill="#E69A80"/>
<rect x="64.74" y="329.95" width="5.05" height="5.06" fill="#E69A80"/>
<rect x="69.79" y="329.95" width="5.05" height="5.06" fill="#E69A80"/>
<rect x="74.84" y="329.95" width="5.05" height="5.06" fill="#F6A84C"/>
<rect x="79.89" y="329.95" width="5.05" height="5.06" fill="#FFD700"/>
<rect x="84.94" y="329.95" width="5.05" height="5.06" fill="#BE76C2"/>
<rect x="89.98" y="329.95" width="5.05" height="5.06" fill="#E69A80"/>
<rect x="95.03" y="329.95" width="5.05" height="5.06" fill="#E69A80"/>
<rect x="100.08" y="329.95" width="5.05" height="5.06" fill="#BE76C2"/>
<rect x="105.13" y="329.95" width="5.05" height="5.06" fill="#E69A80"/>
<rect x="110.18" y="329.95" width="5.05" height="5.06" fill="#E69A80"/>
<rect x="115.22" y="329.95" width="5.05" height="5.06" fill="#E69A80"/>
<rect x="120.27" y="329.95" width="5.05" height="5.06" fill="#A666CE"/>
<rect x="125.32" y="329.95" width="5.05" height="5.06" fill="#E69A80"/>
<rect x="130.37" y="329.95" width="5.05" height="5.06" fill="#BE76C2"/>
<rect x="135.42" y="329.95" width="5.05" height="5.06" fill="#FFD700"/>
<rect x="140.46" y="329.95" width="5.05" height="5.06" fill="#E69A80"/>
<rect x="145.51" y="329.95" width="5.05" height="5.06" fill="#A666CE"/>
<rect x="155.61" y="329.95" width="5.05" height="5.06" fill="#FFD700"/>
<rect x="165.70" y="329.95" width="5.05" height="5.06" fill="#E69A80"/>
<rect x="170.75" y="329.95" width="5.05" height="5.06" fill="#E69A80"/>
<rect x="54.65" y="335.01" width="5.05" height="5.06" fill="#BE76C2"/>
<rect x="59.70" y="335.01" width="5.05" height="5.06" fill="#BE76C2"/>
<rect x="64.74" y="335.01" width="5.05" height="5.06" fill="#E69A80"/>
<rect x="69.79" y="335.01" width="5.05" height="5.06" fill="#FFD700"/>
<rect x="74.84" y="335.01" width="5.05" height="5.06" fill="#E69A80"/>
<rect x="79.89" y="335.01" width="5.05" height="5.06" fill="#E69A80"/>
<rect x="84.94" y="335.01" width="5.05" height="5.06" fill="#E69A80"/>
<rect x="89.98" y="335.01" width="5.05" height="5.06" fill="#FFD700"/>
<rect x="95.03" y="335.01" width="5.05" height="5.06" fill="#E69A80"/>
<rect x="100.08" y="335.01" width="5.05" height="5.06" fill="#E69A80"/>
<rect x="110.18" y="335.01" width="5.05" height="5.06" fill="#E69A80"/>
<rect x="115.22" y="335.01" width="5.05" height="5.06" fill="#E69A80"/>
<rect x="120.27" y="335.01" width="5.05" height="5.06" fill="#E69A80"/>
<rect x="125.32" y="335.01" width="5.05" height="5.06" fill="#E69A80"/>
<rect x="130.37" y="335.01" width="5.05" height="5.06" fill="#BE76C2"/>
<rect x="140.46" y="335.01" width="5.05" height="5.06" fill="#D67C9E"/>
<rect x="145.51" y="335.01" width="5.05" height="5.06" fill="#A666CE"/>
<rect x="165.70" y="335.01" width="5.05" height="5.06" fill="#A666CE"/>
<rect x="170.75" y="335.01" width="5.05" height="5.06" fill="#FFD700"/>
<rect x="54.65" y="340.07" width="5.05" height="5.06" fill="#E69A80"/>
<rect x="59.70" y="340.07" width="5.05" height="5.06" fill="#E69A80"/>
<rect x="69.79" y="340.07" width="5.05" height="5.06" fill="#FFD700"/>
<rect x="79.89" y="340.07" width="5.05" height="5.06" fill="#FFD700"/>
<rect x="89.98" y="340.07" width="5.05" height="5.06" fill="#FFD700"/>
<rect x="95.03" y="340.07" width="5.05" height="5.06" fill="#E69A80"/>
<rect x="100.08" y="340.07" width="5.05" height="5.06" fill="#E69A80"/>
<rect x="105.13" y="340.07" width="5.05" height="5.06" fill="#E69A80"/>
<rect x="110.18" y="340.07" width="5.05" height="5.06" fill="#FFD700"/>
<rect x="120.27" y="340.07" width="5.05" height="5.06" fill="#FFD700"/>
<rect x="125.32" y="340.07" width="5.05" height="5.06" fill="#E69A80"/>
<rect x="130.37" y="340.07" width="5.05" height="5.06" fill="#E69A80"/>
<rect x="135.42" y="340.07" width="5.05" height="5.06" fill="#FFD700"/>
<rect x="140.46" y="340.07" width="5.05" height="5.06" fill="#FFD700"/>
<rect x="145.51" y="340.07" width="5.05" height="5.06" fill="#E69A80"/>
<rect x="150.56" y="340.07" width="5.05" height="5.06" fill="#FFD700"/>
<rect x="155.61" y="340.07" width="5.05" height="5.06" fill="#FFD700"/>
<rect x="160.66" y="340.07" width="5.05" height="5.06" fill="#FFD700"/>
<rect x="165.70" y="340.07" width="5.05" height="5.06" fill="#E69A80"/>
<rect x="170.75" y="340.07" width="5.05" height="5.06" fill="#FFD700"/>
<rect x="49.60" y="345.12" width="5.05" height="5.06" fill="#E69A80"/>
<rect x="54.65" y="345.12" width="5.05" height="5.06" fill="#2A12EE"/>
<rect x="59.70" y="345.12" width="5.05" height="5.06" fill="#9044DE"/>
<rect x="64.74" y="345.12" width="5.05" height="5.06" fill="#A666CE"/>
<rect x="69.79" y="345.12" width="5.05" height="5.06" fill="#E69A80"/>
<rect x="74.84" y="345.12" width="5.05" height="5.06" fill="#E69A80"/>
<rect x="79.89" y="345.12" width="5.05" height="5.06" fill="#E69A80"/>
<rect x="84.94" y="345.12" width="5.05" height="5.06" fill="#2A12EE"/>
<rect x="89.98" y="345.12" width="5.05" height="5.06" fill="#A666CE"/>
<rect x="95.03" y="345.12" width="5.05" height="5.06" fill="#A666CE"/>
<rect x="100.08" y="345.12" width="5.05" height="5.06" fill="#6A30E6"/>
<rect x="105.13" y="345.12" width="5.05" height="5.06" fill="#E69A80"/>
<rect x="110.18" y="345.12" width="5.05" height="5.06" fill="#A666CE"/>
<rect x="115.22" y="345.12" width="5.05" height="5.06" fill="#BE76C2"/>
<rect x="120.27" y="345.12" width="5.05" height="5.06" fill="#E69A80"/>
<rect x="125.32" y="345.12" width="5.05" height="5.06" fill="#6A30E6"/>
<rect x="130.37" y="345.12" width="5.05" height="5.06" fill="#6A30E6"/>
<rect x="135.42" y="345.12" width="5.05" height="5.06" fill="#FFD700"/>
<rect x="140.46" y="345.12" width="5.05" height="5.06" fill="#9044DE"/>
<rect x="145.51" y="345.12" width="5.05" height="5.06" fill="#2A12EE"/>
<rect x="150.56" y="345.12" width="5.05" height="5.06" fill="#BE76C2"/>
<rect x="155.61" y="345.12" width="5.05" height="5.06" fill="#E69A80"/>
<rect x="160.66" y="345.12" width="5.05" height="5.06" fill="#E69A80"/>
<rect x="165.70" y="345.12" width="5.05" height="5.06" fill="#9044DE"/>
<rect x="170.75" y="345.12" width="5.05" height="5.06" fill="#E69A80"/>
<rect x="84.94" y="350.18" width="5.05" height="5.06" fill="#FFD700"/>
<rect x="54.65" y="355.24" width="5.05" height="5.06" fill="#E69A80"/>
<rect x="59.70" y="355.24" width="5.05" height="5.06" fill="#FFD700"/>
<rect x="64.74" y="355.24" width="5.05" height="5.06" fill="#E69A80"/>
<rect x="69.79" y="355.24" width="5.05" height="5.06" fill="#FFD700"/>
<rect x="84.94" y="355.24" width="5.05" height="5.06" fill="#E69A80"/>
<rect x="89.98" y="355.24" width="5.05" height="5.06" fill="#E69A80"/>
<rect x="100.08" y="355.24" width="5.05" height="5.06" fill="#FFD700"/>
<rect x="110.18" y="355.24" width="5.05" height="5.06" fill="#FFD700"/>
<rect x="120.27" y="355.24" width="5.05" height="5.06" fill="#E69A80"/>
<rect x="125.32" y="355.24" width="5.05" height="5.06" fill="#E69A80"/>
<rect x="130.37" y="355.24" width="5.05" height="5.06" fill="#FFD700"/>
<rect x="140.46" y="355.24" width="5.05" height="5.06" fill="#FFD700"/>
<rect x="165.70" y="355.24" width="5.05" height="5.06" fill="#E69A80"/>
<rect x="49.60" y="360.30" width="5.05" height="5.06" fill="#E69A80"/>
<rect x="54.65" y="360.30" width="5.05" height="5.06" fill="#F6A84C"/>
<rect x="84.94" y="360.30" width="5.05" height="5.06" fill="#FFD700"/>
<rect x="95.03" y="360.30" width="5.05" height="5.06" fill="#FFD700"/>
<rect x="100.08" y="360.30" width="5.05" height="5.06" fill="#FFD700"/>
<rect x="110.18" y="360.30" width="5.05" height="5.06" fill="#FFD700"/>
<rect x="115.22" y="360.30" width="5.05" height="5.06" fill="#FFD700"/>
<rect x="120.27" y="360.30" width="5.05" height="5.06" fill="#E69A80"/>
<rect x="125.32" y="360.30" width="5.05" height="5.06" fill="#FFD700"/>
<rect x="130.37" y="360.30" width="5.05" height="5.06" fill="#E69A80"/>
<rect x="135.42" y="360.30" width="5.05" height="5.06" fill="#FFD700"/>
<rect x="145.51" y="360.30" width="5.05" height="5.06" fill="#FFD700"/>
<rect x="155.61" y="360.30" width="5.05" height="5.06" fill="#D67C9E"/>
<rect x="165.70" y="360.30" width="5.05" height="5.06" fill="#FFD700"/>
<rect x="49.60" y="365.36" width="5.05" height="5.06" fill="#FFD700"/>
<rect x="54.65" y="365.36" width="5.05" height="5.06" fill="#F6A84C"/>
<rect x="64.74" y="365.36" width="5.05" height="5.06" fill="#FFD700"/>
<rect x="69.79" y="365.36" width="5.05" height="5.06" fill="#FFD700"/>
<rect x="74.84" y="365.36" width="5.05" height="5.06" fill="#FFD700"/>
<rect x="79.89" y="365.36" width="5.05" height="5.06" fill="#E69A80"/>
<rect x="84.94" y="365.36" width="5.05" height="5.06" fill="#E69A80"/>
<rect x="95.03" y="365.36" width="5.05" height="5.06" fill="#FFD700"/>
<rect x="100.08" y="365.36" width="5.05" height="5.06" fill="#E69A80"/>
<rect x="105.13" y="365.36" width="5.05" height="5.06" fill="#FFD700"/>
<rect x="110.18" y="365.36" width="5.05" height="5.06" fill="#E69A80"/>
<rect x="115.22" y="365.36" width="5.05" height="5.06" fill="#FFD700"/>
<rect x="120.27" y="365.36" width="5.05" height="5.06" fill="#FFD700"/>
<rect x="125.32" y="365.36" width="5.05" height="5.06" fill="#E69A80"/>
<rect x="130.37" y="365.36" width="5.05" height="5.06" fill="#E69A80"/>
<rect x="140.46" y="365.36" width="5.05" height="5.06" fill="#E69A80"/>
<rect x="145.51" y="365.36" width="5.05" height="5.06" fill="#D67C9E"/>
<rect x="150.56" y="365.36" width="5.05" height="5.06" fill="#FFD700"/>
<rect x="155.61" y="365.36" width="5.05" height="5.06" fill="#FFD700"/>
<rect x="165.70" y="365.36" width="5.05" height="5.06" fill="#E69A80"/>
<rect x="49.60" y="370.42" width="5.05" height="5.06" fill="#FFD700"/>
<rect x="54.65" y="370.42" width="5.05" height="5.06" fill="#E69A80"/>
<rect x="79.89" y="370.42" width="5.05" height="5.06" fill="#FFD700"/>
<rect x="84.94" y="370.42" width="5.05" height="5.06" fill="#E69A80"/>
<rect x="95.03" y="370.42" width="5.05" height="5.06" fill="#FFD700"/>
<rect x="100.08" y="370.42" width="5.05" height="5.06" fill="#FFD700"/>
<rect x="120.27" y="370.42" width="5.05" height="5.06" fill="#FFD700"/>
<rect x="125.32" y="370.42" width="5.05" height="5.06" fill="#FFD700"/>
<rect x="130.37" y="370.42" width="5.05" height="5.06" fill="#FFD700"/>
<rect x="140.46" y="370.42" width="5.05" height="5.06" fill="#FFD700"/>
<rect x="145.51" y="370.42" width="5.05" height="5.06" fill="#D67C9E"/>
<rect x="150.56" y="370.42" width="5.05" height="5.06" fill="#FFD700"/>
<rect x="165.70" y="370.42" width="5.05" height="5.06" fill="#E69A80"/>
<rect x="49.60" y="375.48" width="5.05" height="5.06" fill="#FFD700"/>
<rect x="54.65" y="375.48" width="5.05" height="5.06" fill="#D67C9E"/>
<rect x="59.70" y="375.48" width="5.05" height="5.06" fill="#E69A80"/>
<rect x="64.74" y="375.48" width="5.05" height="5.06" fill="#FFD700"/>
<rect x="69.79" y="375.48" width="5.05" height="5.06" fill="#FFD700"/>
<rect x="74.84" y="375.48" width="5.05" height="5.06" fill="#FFD700"/>
<rect x="79.89" y="375.48" width="5.05" height="5.06" fill="#E69A80"/>
<rect x="84.94" y="375.48" width="5.05" height="5.06" fill="#BE76C2"/>
<rect x="89.98" y="375.48" width="5.05" height="5.06" fill="#FFD700"/>
<rect x="95.03" y="375.48" width="5.05" height="5.06" fill="#E69A80"/>
<rect x="100.08" y="375.48" width="5.05" height="5.06" fill="#BE76C2"/>
<rect x="105.13" y="375.48" width="5.05" height="5.06" fill="#FFD700"/>
<rect x="110.18" y="375.48" width="5.05" height="5.06" fill="#FFD700"/>
<rect x="115.22" y="375.48" width="5.05" height="5.06" fill="#BE76C2"/>
<rect x="120.27" y="375.48" width="5.05" height="5.06" fill="#BE76C2"/>
<rect x="125.32" y="375.48" width="5.05" height="5.06" fill="#BE76C2"/>
<rect x="130.37" y="375.48" width="5.05" height="5.06" fill="#A666CE"/>
<rect x="140.46" y="375.48" width="5.05" height="5.06" fill="#E69A80"/>
<rect x="145.51" y="375.48" width="5.05" height="5.06" fill="#9044DE"/>
<rect x="155.61" y="375.48" width="5.05" height="5.06" fill="#E69A80"/>
<rect x="165.70" y="375.48" width="5.05" height="5.06" fill="#E69A80"/>
<rect x="170.75" y="375.48" width="5.05" height="5.06" fill="#E69A80"/>
<rect x="59.70" y="380.53" width="5.05" height="5.06" fill="#E69A80"/>
<rect x="79.89" y="380.53" width="5.05" height="5.06" fill="#FFD700"/>
<rect x="84.94" y="380.53" width="5.05" height="5.06" fill="#E69A80"/>
<rect x="89.98" y="380.53" width="5.05" height="5.06" fill="#FFD700"/>
<rect x="100.08" y="380.53" width="5.05" height="5.06" fill="#FFD700"/>
<rect x="110.18" y="380.53" width="5.05" height="5.06" fill="#E69A80"/>
<rect x="115.22" y="380.53" width="5.05" height="5.06" fill="#FFD700"/>
<rect x="120.27" y="380.53" width="5.05" height="5.06" fill="#FFD700"/>
<rect x="125.32" y="380.53" width="5.05" height="5.06" fill="#FFD700"/>
<rect x="130.37" y="380.53" width="5.05" height="5.06" fill="#E69A80"/>
<rect x="145.51" y="380.53" width="5.05" height="5.06" fill="#E69A80"/>
<rect x="155.61" y="380.53" width="5.05" height="5.06" fill="#FFD700"/>
<rect x="170.75" y="380.53" width="5.05" height="5.06" fill="#FFD700"/>
<rect x="49.60" y="390.65" width="5.05" height="5.06" fill="#FFD700"/>
<rect x="54.65" y="390.65" width="5.05" height="5.06" fill="#FFD700"/>
<rect x="59.70" y="390.65" width="5.05" height="5.06" fill="#FFD700"/>
<rect x="64.74" y="390.65" width="5.05" height="5.06" fill="#FFD700"/>
<rect x="84.94" y="390.65" width="5.05" height="5.06" fill="#F6A84C"/>
<rect x="95.03" y="390.65" width="5.05" height="5.06" fill="#FFD700"/>
<rect x="100.08" y="390.65" width="5.05" height="5.06" fill="#FFD700"/>
<rect x="105.13" y="390.65" width="5.05" height="5.06" fill="#FFD700"/>
<rect x="120.27" y="390.65" width="5.05" height="5.06" fill="#E69A80"/>
<rect x="125.32" y="390.65" width="5.05" height="5.06" fill="#E69A80"/>
<rect x="130.37" y="390.65" width="5.05" height="5.06" fill="#E69A80"/>
<rect x="140.46" y="390.65" width="5.05" height="5.06" fill="#FFD700"/>
<rect x="145.51" y="390.65" width="5.05" height="5.06" fill="#E69A80"/>
<rect x="49.60" y="395.71" width="5.05" height="5.06" fill="#E69A80"/>
<rect x="54.65" y="395.71" width="5.05" height="5.06" fill="#6A30E6"/>
<rect x="59.70" y="395.71" width="5.05" height="5.06" fill="#9044DE"/>
<rect x="64.74" y="395.71" width="5.05" height="5.06" fill="#A666CE"/>
<rect x="69.79" y="395.71" width="5.05" height="5.06" fill="#E69A80"/>
<rect x="74.84" y="395.71" width="5.05" height="5.06" fill="#E69A80"/>
<rect x="79.89" y="395.71" width="5.05" height="5.06" fill="#E69A80"/>
<rect x="84.94" y="395.71" width="5.05" height="5.06" fill="#9044DE"/>
<rect x="89.98" y="395.71" width="5.05" height="5.06" fill="#E69A80"/>
<rect x="95.03" y="395.71" width="5.05" height="5.06" fill="#BE76C2"/>
<rect x="100.08" y="395.71" width="5.05" height="5.06" fill="#6A30E6"/>
<rect x="105.13" y="395.71" width="5.05" height="5.06" fill="#E69A80"/>
<rect x="110.18" y="395.71" width="5.05" height="5.06" fill="#9044DE"/>
<rect x="115.22" y="395.71" width="5.05" height="5.06" fill="#9044DE"/>
<rect x="120.27" y="395.71" width="5.05" height="5.06" fill="#A666CE"/>
<rect x="125.32" y="395.71" width="5.05" height="5.06" fill="#9044DE"/>
<rect x="130.37" y="395.71" width="5.05" height="5.06" fill="#9044DE"/>
<rect x="135.42" y="395.71" width="5.05" height="5.06" fill="#FFD700"/>
<rect x="140.46" y="395.71" width="5.05" height="5.06" fill="#A666CE"/>
<rect x="145.51" y="395.71" width="5.05" height="5.06" fill="#6A30E6"/>
<rect x="150.56" y="395.71" width="5.05" height="5.06" fill="#BE76C2"/>
<rect x="155.61" y="395.71" width="5.05" height="5.06" fill="#E69A80"/>
<rect x="160.66" y="395.71" width="5.05" height="5.06" fill="#FFD700"/>
<rect x="165.70" y="395.71" width="5.05" height="5.06" fill="#6A30E6"/>
<rect x="84.94" y="400.77" width="5.05" height="5.06" fill="#FFD700"/>
<rect x="49.60" y="405.82" width="5.05" height="5.06" fill="#E69A80"/>
<rect x="54.65" y="405.82" width="5.05" height="5.06" fill="#6A30E6"/>
<rect x="59.70" y="405.82" width="5.05" height="5.06" fill="#9044DE"/>
<rect x="64.74" y="405.82" width="5.05" height="5.06" fill="#A666CE"/>
<rect x="69.79" y="405.82" width="5.05" height="5.06" fill="#FFD700"/>
<rect x="74.84" y="405.82" width="5.05" height="5.06" fill="#E69A80"/>
<rect x="79.89" y="405.82" width="5.05" height="5.06" fill="#E69A80"/>
<rect x="84.94" y="405.82" width="5.05" height="5.06" fill="#2A12EE"/>
<rect x="89.98" y="405.82" width="5.05" height="5.06" fill="#BE76C2"/>
<rect x="95.03" y="405.82" width="5.05" height="5.06" fill="#BE76C2"/>
<rect x="100.08" y="405.82" width="5.05" height="5.06" fill="#A666CE"/>
<rect x="105.13" y="405.82" width="5.05" height="5.06" fill="#BE76C2"/>
<rect x="110.18" y="405.82" width="5.05" height="5.06" fill="#A666CE"/>
<rect x="115.22" y="405.82" width="5.05" height="5.06" fill="#9044DE"/>
<rect x="120.27" y="405.82" width="5.05" height="5.06" fill="#BE76C2"/>
<rect x="125.32" y="405.82" width="5.05" height="5.06" fill="#BE76C2"/>
<rect x="130.37" y="405.82" width="5.05" height="5.06" fill="#A666CE"/>
<rect x="135.42" y="405.82" width="5.05" height="5.06" fill="#FFD700"/>
<rect x="140.46" y="405.82" width="5.05" height="5.06" fill="#E69A80"/>
<rect x="145.51" y="405.82" width="5.05" height="5.06" fill="#2A12EE"/>
<rect x="150.56" y="405.82" width="5.05" height="5.06" fill="#BE76C2"/>
<rect x="155.61" y="405.82" width="5.05" height="5.06" fill="#FFD700"/>
<rect x="160.66" y="405.82" width="5.05" height="5.06" fill="#FFD700"/>
<rect x="170.75" y="405.82" width="5.05" height="5.06" fill="#E69A80"/>
<rect x="49.60" y="410.88" width="5.05" height="5.06" fill="#FFD700"/>
<rect x="54.65" y="410.88" width="5.05" height="5.06" fill="#BE76C2"/>
<rect x="59.70" y="410.88" width="5.05" height="5.06" fill="#E69A80"/>
<rect x="79.89" y="410.88" width="5.05" height="5.06" fill="#E69A80"/>
<rect x="84.94" y="410.88" width="5.05" height="5.06" fill="#F6A84C"/>
<rect x="89.98" y="410.88" width="5.05" height="5.06" fill="#E69A80"/>
<rect x="95.03" y="410.88" width="5.05" height="5.06" fill="#FFD700"/>
<rect x="100.08" y="410.88" width="5.05" height="5.06" fill="#BE76C2"/>
<rect x="110.18" y="410.88" width="5.05" height="5.06" fill="#FFD700"/>
<rect x="115.22" y="410.88" width="5.05" height="5.06" fill="#FFD700"/>
<rect x="120.27" y="410.88" width="5.05" height="5.06" fill="#FFD700"/>
<rect x="130.37" y="410.88" width="5.05" height="5.06" fill="#FFD700"/>
<rect x="140.46" y="410.88" width="5.05" height="5.06" fill="#FFD700"/>
<rect x="150.56" y="410.88" width="5.05" height="5.06" fill="#FFD700"/>
<rect x="165.70" y="410.88" width="5.05" height="5.06" fill="#FFD700"/>
<rect x="54.65" y="415.94" width="5.05" height="5.06" fill="#BE76C2"/>
<rect x="59.70" y="415.94" width="5.05" height="5.06" fill="#E69A80"/>
<rect x="74.84" y="415.94" width="5.05" height="5.06" fill="#E69A80"/>
<rect x="84.94" y="415.94" width="5.05" height="5.06" fill="#BE76C2"/>
<rect x="89.98" y="415.94" width="5.05" height="5.06" fill="#FFD700"/>
<rect x="95.03" y="415.94" width="5.05" height="5.06" fill="#FFD700"/>
<rect x="100.08" y="415.94" width="5.05" height="5.06" fill="#E69A80"/>
<rect x="110.18" y="415.94" width="5.05" height="5.06" fill="#FFD700"/>
<rect x="115.22" y="415.94" width="5.05" height="5.06" fill="#FFD700"/>
<rect x="120.27" y="415.94" width="5.05" height="5.06" fill="#FFD700"/>
<rect x="125.32" y="415.94" width="5.05" height="5.06" fill="#E69A80"/>
<rect x="130.37" y="415.94" width="5.05" height="5.06" fill="#FFD700"/>
<rect x="135.42" y="415.94" width="5.05" height="5.06" fill="#FFD700"/>
<rect x="145.51" y="415.94" width="5.05" height="5.06" fill="#D67C9E"/>
<rect x="150.56" y="415.94" width="5.05" height="5.06" fill="#FFD700"/>
<rect x="155.61" y="415.94" width="5.05" height="5.06" fill="#E69A80"/>
<rect x="165.70" y="415.94" width="5.05" height="5.06" fill="#E69A80"/>
<rect x="84.94" y="421.00" width="5.05" height="5.06" fill="#FFD700"/>
<rect x="125.32" y="426.06" width="5.05" height="5.06" fill="#FFD700"/>
<rect x="59.70" y="431.12" width="5.05" height="5.06" fill="#E69A80"/>
<rect x="64.74" y="431.12" width="5.05" height="5.06" fill="#FFD700"/>
<rect x="100.08" y="431.12" width="5.05" height="5.06" fill="#FFD700"/>
<rect x="120.27" y="431.12" width="5.05" height="5.06" fill="#FFD700"/>
<rect x="54.65" y="436.18" width="5.05" height="5.06" fill="#FFD700"/>
<rect x="59.70" y="436.18" width="5.05" height="5.06" fill="#E69A80"/>
<rect x="64.74" y="436.18" width="5.05" height="5.06" fill="#E69A80"/>
<rect x="74.84" y="436.18" width="5.05" height="5.06" fill="#FFD700"/>
<rect x="84.94" y="436.18" width="5.05" height="5.06" fill="#FFD700"/>
<rect x="95.03" y="436.18" width="5.05" height="5.06" fill="#E69A80"/>
<rect x="100.08" y="436.18" width="5.05" height="5.06" fill="#E69A80"/>
<rect x="110.18" y="436.18" width="5.05" height="5.06" fill="#E69A80"/>
<rect x="115.22" y="436.18" width="5.05" height="5.06" fill="#FFD700"/>
<rect x="120.27" y="436.18" width="5.05" height="5.06" fill="#E69A80"/>
<rect x="125.32" y="436.18" width="5.05" height="5.06" fill="#E69A80"/>
<rect x="130.37" y="436.18" width="5.05" height="5.06" fill="#D67C9E"/>
<rect x="145.51" y="436.18" width="5.05" height="5.06" fill="#FFD700"/>
<rect x="150.56" y="436.18" width="5.05" height="5.06" fill="#FFD700"/>
<rect x="155.61" y="436.18" width="5.05" height="5.06" fill="#FFD700"/>
<rect x="165.70" y="436.18" width="5.05" height="5.06" fill="#E69A80"/>
<rect x="170.75" y="436.18" width="5.05" height="5.06" fill="#FFD700"/>
<rect x="59.70" y="446.29" width="5.05" height="5.06" fill="#FFD700"/>
<rect x="125.32" y="446.29" width="5.05" height="5.06" fill="#FFD700"/>
<rect x="135.42" y="446.29" width="5.05" height="5.06" fill="#FFD700"/>
<rect x="145.51" y="446.29" width="5.05" height="5.06" fill="#FFD700"/>
<rect x="165.70" y="446.29" width="5.05" height="5.06" fill="#E69A80"/>
<rect x="54.65" y="451.35" width="5.05" height="5.06" fill="#E69A80"/>
<rect x="64.74" y="451.35" width="5.05" height="5.06" fill="#FFD700"/>
<rect x="74.84" y="451.35" width="5.05" height="5.06" fill="#FFD700"/>
<rect x="84.94" y="451.35" width="5.05" height="5.06" fill="#E69A80"/>
<rect x="100.08" y="451.35" width="5.05" height="5.06" fill="#E69A80"/>
<rect x="105.13" y="451.35" width="5.05" height="5.06" fill="#E69A80"/>
<rect x="110.18" y="451.35" width="5.05" height="5.06" fill="#E69A80"/>
<rect x="125.32" y="451.35" width="5.05" height="5.06" fill="#E69A80"/>
<rect x="130.37" y="451.35" width="5.05" height="5.06" fill="#E69A80"/>
<rect x="145.51" y="451.35" width="5.05" height="5.06" fill="#E69A80"/>
<rect x="150.56" y="451.35" width="5.05" height="5.06" fill="#FFD700"/>
<rect x="165.70" y="451.35" width="5.05" height="5.06" fill="#E69A80"/>
<rect x="49.60" y="456.41" width="5.05" height="5.06" fill="#FFD700"/>
<rect x="54.65" y="456.41" width="5.05" height="5.06" fill="#6A30E6"/>
<rect x="59.70" y="456.41" width="5.05" height="5.06" fill="#BE76C2"/>
<rect x="64.74" y="456.41" width="5.05" height="5.06" fill="#E69A80"/>
<rect x="69.79" y="456.41" width="5.05" height="5.06" fill="#E69A80"/>
<rect x="74.84" y="456.41" width="5.05" height="5.06" fill="#BE76C2"/>
<rect x="79.89" y="456.41" width="5.05" height="5.06" fill="#BE76C2"/>
<rect x="84.94" y="456.41" width="5.05" height="5.06" fill="#9044DE"/>
<rect x="89.98" y="456.41" width="5.05" height="5.06" fill="#E69A80"/>
<rect x="95.03" y="456.41" width="5.05" height="5.06" fill="#BE76C2"/>
<rect x="100.08" y="456.41" width="5.05" height="5.06" fill="#BE76C2"/>
<rect x="110.18" y="456.41" width="5.05" height="5.06" fill="#BE76C2"/>
<rect x="115.22" y="456.41" width="5.05" height="5.06" fill="#BE76C2"/>
<rect x="120.27" y="456.41" width="5.05" height="5.06" fill="#BE76C2"/>
<rect x="125.32" y="456.41" width="5.05" height="5.06" fill="#BE76C2"/>
<rect x="130.37" y="456.41" width="5.05" height="5.06" fill="#6A30E6"/>
<rect x="145.51" y="456.41" width="5.05" height="5.06" fill="#6A30E6"/>
<rect x="150.56" y="456.41" width="5.05" height="5.06" fill="#E69A80"/>
<rect x="155.61" y="456.41" width="5.05" height="5.06" fill="#E69A80"/>
<rect x="165.70" y="456.41" width="5.05" height="5.06" fill="#A666CE"/>
<rect x="170.75" y="456.41" width="5.05" height="5.06" fill="#E69A80"/>
<rect x="54.65" y="461.47" width="5.05" height="5.06" fill="#9044DE"/>
<rect x="59.70" y="461.47" width="5.05" height="5.06" fill="#BE76C2"/>
<rect x="64.74" y="461.47" width="5.05" height="5.06" fill="#A666CE"/>
<rect x="74.84" y="461.47" width="5.05" height="5.06" fill="#E69A80"/>
<rect x="79.89" y="461.47" width="5.05" height="5.06" fill="#BE76C2"/>
<rect x="84.94" y="461.47" width="5.05" height="5.06" fill="#A666CE"/>
<rect x="89.98" y="461.47" width="5.05" height="5.06" fill="#BE76C2"/>
<rect x="95.03" y="461.47" width="5.05" height="5.06" fill="#BE76C2"/>
<rect x="100.08" y="461.47" width="5.05" height="5.06" fill="#BE76C2"/>
<rect x="105.13" y="461.47" width="5.05" height="5.06" fill="#E69A80"/>
<rect x="110.18" y="461.47" width="5.05" height="5.06" fill="#E69A80"/>
<rect x="115.22" y="461.47" width="5.05" height="5.06" fill="#E69A80"/>
<rect x="120.27" y="461.47" width="5.05" height="5.06" fill="#FFD700"/>
<rect x="125.32" y="461.47" width="5.05" height="5.06" fill="#D67C9E"/>
<rect x="130.37" y="461.47" width="5.05" height="5.06" fill="#BE76C2"/>
<rect x="135.42" y="461.47" width="5.05" height="5.06" fill="#FFD700"/>
<rect x="145.51" y="461.47" width="5.05" height="5.06" fill="#D67C9E"/>
<rect x="150.56" y="461.47" width="5.05" height="5.06" fill="#E69A80"/>
<rect x="155.61" y="461.47" width="5.05" height="5.06" fill="#E69A80"/>
<rect x="160.66" y="461.47" width="5.05" height="5.06" fill="#FFD700"/>
<rect x="165.70" y="461.47" width="5.05" height="5.06" fill="#FFD700"/>
<rect x="54.65" y="466.52" width="5.05" height="5.06" fill="#E69A80"/>
<rect x="59.70" y="466.52" width="5.05" height="5.06" fill="#E69A80"/>
<rect x="84.94" y="466.52" width="5.05" height="5.06" fill="#E69A80"/>
<rect x="100.08" y="466.52" width="5.05" height="5.06" fill="#E69A80"/>
<rect x="115.22" y="466.52" width="5.05" height="5.06" fill="#E69A80"/>
<rect x="120.27" y="466.52" width="5.05" height="5.06" fill="#E69A80"/>
<rect x="125.32" y="466.52" width="5.05" height="5.06" fill="#E69A80"/>
<rect x="140.46" y="466.52" width="5.05" height="5.06" fill="#FFD700"/>
<rect x="145.51" y="466.52" width="5.05" height="5.06" fill="#D67C9E"/>
<rect x="165.70" y="466.52" width="5.05" height="5.06" fill="#E69A80"/>
<rect x="49.60" y="471.58" width="5.05" height="5.06" fill="#FFD700"/>
<rect x="54.65" y="471.58" width="5.05" height="5.06" fill="#BE76C2"/>
<rect x="59.70" y="471.58" width="5.05" height="5.06" fill="#BE76C2"/>
<rect x="79.89" y="471.58" width="5.05" height="5.06" fill="#E69A80"/>
<rect x="84.94" y="471.58" width="5.05" height="5.06" fill="#E69A80"/>
<rect x="89.98" y="471.58" width="5.05" height="5.06" fill="#E69A80"/>
<rect x="95.03" y="471.58" width="5.05" height="5.06" fill="#FFD700"/>
<rect x="100.08" y="471.58" width="5.05" height="5.06" fill="#FFD700"/>
<rect x="110.18" y="471.58" width="5.05" height="5.06" fill="#E69A80"/>
<rect x="115.22" y="471.58" width="5.05" height="5.06" fill="#FFD700"/>
<rect x="120.27" y="471.58" width="5.05" height="5.06" fill="#E69A80"/>
<rect x="125.32" y="471.58" width="5.05" height="5.06" fill="#D67C9E"/>
<rect x="130.37" y="471.58" width="5.05" height="5.06" fill="#E69A80"/>
<rect x="140.46" y="471.58" width="5.05" height="5.06" fill="#FFD700"/>
<rect x="145.51" y="471.58" width="5.05" height="5.06" fill="#E69A80"/>
<rect x="160.66" y="471.58" width="5.05" height="5.06" fill="#E69A80"/>
<rect x="165.70" y="471.58" width="5.05" height="5.06" fill="#E69A80"/>
<rect x="54.65" y="476.64" width="5.05" height="5.06" fill="#E69A80"/>
<rect x="59.70" y="476.64" width="5.05" height="5.06" fill="#BE76C2"/>
<rect x="64.74" y="476.64" width="5.05" height="5.06" fill="#FFD700"/>
<rect x="79.89" y="476.64" width="5.05" height="5.06" fill="#E69A80"/>
<rect x="84.94" y="476.64" width="5.05" height="5.06" fill="#BE76C2"/>
<rect x="89.98" y="476.64" width="5.05" height="5.06" fill="#FFD700"/>
<rect x="95.03" y="476.64" width="5.05" height="5.06" fill="#FFD700"/>
<rect x="100.08" y="476.64" width="5.05" height="5.06" fill="#D67C9E"/>
<rect x="110.18" y="476.64" width="5.05" height="5.06" fill="#E69A80"/>
<rect x="120.27" y="476.64" width="5.05" height="5.06" fill="#FFD700"/>
<rect x="125.32" y="476.64" width="5.05" height="5.06" fill="#E69A80"/>
<rect x="130.37" y="476.64" width="5.05" height="5.06" fill="#FFD700"/>
<rect x="135.42" y="476.64" width="5.05" height="5.06" fill="#D67C9E"/>
<rect x="145.51" y="476.64" width="5.05" height="5.06" fill="#E69A80"/>
<rect x="165.70" y="476.64" width="5.05" height="5.06" fill="#E69A80"/>
<rect x="49.60" y="481.70" width="5.05" height="5.06" fill="#FFD700"/>
<rect x="59.70" y="481.70" width="5.05" height="5.06" fill="#F6A84C"/>
<rect x="64.74" y="481.70" width="5.05" height="5.06" fill="#FFD700"/>
<rect x="69.79" y="481.70" width="5.05" height="5.06" fill="#FFD700"/>
<rect x="79.89" y="481.70" width="5.05" height="5.06" fill="#FFD700"/>
<rect x="110.18" y="481.70" width="5.05" height="5.06" fill="#F6A84C"/>
<rect x="115.22" y="481.70" width="5.05" height="5.06" fill="#E69A80"/>
<rect x="130.37" y="481.70" width="5.05" height="5.06" fill="#E69A80"/>
<rect x="145.51" y="481.70" width="5.05" height="5.06" fill="#E69A80"/>
<rect x="165.70" y="481.70" width="5.05" height="5.06" fill="#E69A80"/>
<rect x="54.65" y="486.76" width="5.05" height="5.06" fill="#A666CE"/>
<rect x="59.70" y="486.76" width="5.05" height="5.06" fill="#E69A80"/>
<rect x="64.74" y="486.76" width="5.05" height="5.06" fill="#FFD700"/>
<rect x="69.79" y="486.76" width="5.05" height="5.06" fill="#FFD700"/>
<rect x="74.84" y="486.76" width="5.05" height="5.06" fill="#FFD700"/>
<rect x="79.89" y="486.76" width="5.05" height="5.06" fill="#FFD700"/>
<rect x="84.94" y="486.76" width="5.05" height="5.06" fill="#A666CE"/>
<rect x="95.03" y="486.76" width="5.05" height="5.06" fill="#F6A84C"/>
<rect x="100.08" y="486.76" width="5.05" height="5.06" fill="#F6A84C"/>
<rect x="105.13" y="486.76" width="5.05" height="5.06" fill="#F6A84C"/>
<rect x="110.18" y="486.76" width="5.05" height="5.06" fill="#E69A80"/>
<rect x="115.22" y="486.76" width="5.05" height="5.06" fill="#FFD700"/>
<rect x="120.27" y="486.76" width="5.05" height="5.06" fill="#FFD700"/>
<rect x="125.32" y="486.76" width="5.05" height="5.06" fill="#FFD700"/>
<rect x="130.37" y="486.76" width="5.05" height="5.06" fill="#A666CE"/>
<rect x="135.42" y="486.76" width="5.05" height="5.06" fill="#FFD700"/>
<rect x="140.46" y="486.76" width="5.05" height="5.06" fill="#FFD700"/>
<rect x="145.51" y="486.76" width="5.05" height="5.06" fill="#FFD700"/>
<rect x="150.56" y="486.76" width="5.05" height="5.06" fill="#FFD700"/>
<rect x="155.61" y="486.76" width="5.05" height="5.06" fill="#FFD700"/>
<rect x="165.70" y="486.76" width="5.05" height="5.06" fill="#BE76C2"/>
<rect x="54.65" y="501.93" width="5.05" height="5.06" fill="#E69A80"/>
<rect x="59.70" y="501.93" width="5.05" height="5.06" fill="#E69A80"/>
<rect x="79.89" y="501.93" width="5.05" height="5.06" fill="#FFD700"/>
<rect x="84.94" y="501.93" width="5.05" height="5.06" fill="#E69A80"/>
<rect x="89.98" y="501.93" width="5.05" height="5.06" fill="#FFD700"/>
<rect x="110.18" y="501.93" width="5.05" height="5.06" fill="#E69A80"/>
<rect x="115.22" y="501.93" width="5.05" height="5.06" fill="#FFD700"/>
<rect x="130.37" y="501.93" width="5.05" height="5.06" fill="#FFD700"/>
<rect x="145.51" y="501.93" width="5.05" height="5.06" fill="#FFD700"/>
<rect x="49.60" y="506.99" width="5.05" height="5.06" fill="#E69A80"/>
<rect x="54.65" y="506.99" width="5.05" height="5.06" fill="#E69A80"/>
<rect x="59.70" y="506.99" width="5.05" height="5.06" fill="#E69A80"/>
<rect x="84.94" y="506.99" width="5.05" height="5.06" fill="#FFD700"/>
<rect x="100.08" y="506.99" width="5.05" height="5.06" fill="#E69A80"/>
<rect x="115.22" y="506.99" width="5.05" height="5.06" fill="#FFD700"/>
<rect x="145.51" y="506.99" width="5.05" height="5.06" fill="#E69A80"/>
<rect x="165.70" y="506.99" width="5.05" height="5.06" fill="#FFD700"/>
<rect x="54.65" y="512.05" width="5.05" height="5.06" fill="#FFD700"/>
<rect x="59.70" y="512.05" width="5.05" height="5.06" fill="#E69A80"/>
<rect x="64.74" y="512.05" width="5.05" height="5.06" fill="#FFD700"/>
<rect x="79.89" y="512.05" width="5.05" height="5.06" fill="#E69A80"/>
<rect x="100.08" y="512.05" width="5.05" height="5.06" fill="#E69A80"/>
<rect x="120.27" y="512.05" width="5.05" height="5.06" fill="#FFD700"/>
<rect x="125.32" y="512.05" width="5.05" height="5.06" fill="#FFD700"/>
<rect x="140.46" y="512.05" width="5.05" height="5.06" fill="#FFD700"/>
<rect x="155.61" y="512.05" width="5.05" height="5.06" fill="#FFD700"/>
<rect x="49.60" y="517.11" width="5.05" height="5.06" fill="#FFD700"/>
<rect x="54.65" y="517.11" width="5.05" height="5.06" fill="#E69A80"/>
<rect x="59.70" y="517.11" width="5.05" height="5.06" fill="#E69A80"/>
<rect x="64.74" y="517.11" width="5.05" height="5.06" fill="#D67C9E"/>
<rect x="69.79" y="517.11" width="5.05" height="5.06" fill="#FFD700"/>
<rect x="74.84" y="517.11" width="5.05" height="5.06" fill="#FFD700"/>
<rect x="79.89" y="517.11" width="5.05" height="5.06" fill="#FFD700"/>
<rect x="84.94" y="517.11" width="5.05" height="5.06" fill="#BE76C2"/>
<rect x="89.98" y="517.11" width="5.05" height="5.06" fill="#FFD700"/>
<rect x="95.03" y="517.11" width="5.05" height="5.06" fill="#FFD700"/>
<rect x="100.08" y="517.11" width="5.05" height="5.06" fill="#A666CE"/>
<rect x="105.13" y="517.11" width="5.05" height="5.06" fill="#FFD700"/>
<rect x="110.18" y="517.11" width="5.05" height="5.06" fill="#FFD700"/>
<rect x="120.27" y="517.11" width="5.05" height="5.06" fill="#E69A80"/>
<rect x="125.32" y="517.11" width="5.05" height="5.06" fill="#D67C9E"/>
<rect x="130.37" y="517.11" width="5.05" height="5.06" fill="#D67C9E"/>
<rect x="140.46" y="517.11" width="5.05" height="5.06" fill="#FFD700"/>
<rect x="145.51" y="517.11" width="5.05" height="5.06" fill="#BE76C2"/>
<rect x="155.61" y="517.11" width="5.05" height="5.06" fill="#FFD700"/>
<rect x="160.66" y="517.11" width="5.05" height="5.06" fill="#FFD700"/>
<rect x="165.70" y="517.11" width="5.05" height="5.06" fill="#FFD700"/>
<rect x="54.65" y="522.17" width="5.05" height="5.06" fill="#BE76C2"/>
<rect x="59.70" y="522.17" width="5.05" height="5.06" fill="#BE76C2"/>
<rect x="74.84" y="522.17" width="5.05" height="5.06" fill="#FFD700"/>
<rect x="84.94" y="522.17" width="5.05" height="5.06" fill="#FFD700"/>
<rect x="89.98" y="522.17" width="5.05" height="5.06" fill="#E69A80"/>
<rect x="100.08" y="522.17" width="5.05" height="5.06" fill="#9044DE"/>
<rect x="110.18" y="522.17" width="5.05" height="5.06" fill="#A666CE"/>
<rect x="115.22" y="522.17" width="5.05" height="5.06" fill="#FFD700"/>
<rect x="120.27" y="522.17" width="5.05" height="5.06" fill="#D67C9E"/>
<rect x="125.32" y="522.17" width="5.05" height="5.06" fill="#D67C9E"/>
<rect x="130.37" y="522.17" width="5.05" height="5.06" fill="#BE76C2"/>
<rect x="140.46" y="522.17" width="5.05" height="5.06" fill="#E69A80"/>
<rect x="145.51" y="522.17" width="5.05" height="5.06" fill="#BE76C2"/>
<rect x="150.56" y="522.17" width="5.05" height="5.06" fill="#FFD700"/>
<rect x="155.61" y="522.17" width="5.05" height="5.06" fill="#FFD700"/>
<rect x="160.66" y="522.17" width="5.05" height="5.06" fill="#FFD700"/>
<rect x="165.70" y="522.17" width="5.05" height="5.06" fill="#E69A80"/>
<rect x="54.65" y="527.23" width="5.05" height="5.06" fill="#FFD700"/>
<rect x="59.70" y="527.23" width="5.05" height="5.06" fill="#E69A80"/>
<rect x="84.94" y="527.23" width="5.05" height="5.06" fill="#E69A80"/>
<rect x="100.08" y="527.23" width="5.05" height="5.06" fill="#E69A80"/>
<rect x="115.22" y="527.23" width="5.05" height="5.06" fill="#FFD700"/>
<rect x="145.51" y="527.23" width="5.05" height="5.06" fill="#FFD700"/>
<rect x="49.60" y="532.28" width="5.05" height="5.06" fill="#FFD700"/>
<rect x="54.65" y="532.28" width="5.05" height="5.06" fill="#9044DE"/>
<rect x="59.70" y="532.28" width="5.05" height="5.06" fill="#BE76C2"/>
<rect x="64.74" y="532.28" width="5.05" height="5.06" fill="#E69A80"/>
<rect x="69.79" y="532.28" width="5.05" height="5.06" fill="#E69A80"/>
<rect x="74.84" y="532.28" width="5.05" height="5.06" fill="#FFD700"/>
<rect x="79.89" y="532.28" width="5.05" height="5.06" fill="#E69A80"/>
<rect x="84.94" y="532.28" width="5.05" height="5.06" fill="#E69A80"/>
<rect x="95.03" y="532.28" width="5.05" height="5.06" fill="#FFD700"/>
<rect x="100.08" y="532.28" width="5.05" height="5.06" fill="#BE76C2"/>
<rect x="110.18" y="532.28" width="5.05" height="5.06" fill="#E69A80"/>
<rect x="115.22" y="532.28" width="5.05" height="5.06" fill="#E69A80"/>
<rect x="120.27" y="532.28" width="5.05" height="5.06" fill="#D67C9E"/>
<rect x="125.32" y="532.28" width="5.05" height="5.06" fill="#E69A80"/>
<rect x="135.42" y="532.28" width="5.05" height="5.06" fill="#FFD700"/>
<rect x="140.46" y="532.28" width="5.05" height="5.06" fill="#FFD700"/>
<rect x="145.51" y="532.28" width="5.05" height="5.06" fill="#BE76C2"/>
<rect x="150.56" y="532.28" width="5.05" height="5.06" fill="#FFD700"/>
<rect x="155.61" y="532.28" width="5.05" height="5.06" fill="#FFD700"/>
<rect x="165.70" y="532.28" width="5.05" height="5.06" fill="#BE76C2"/>
<rect x="54.65" y="537.34" width="5.05" height="5.06" fill="#E69A80"/>
<rect x="74.84" y="537.34" width="5.05" height="5.06" fill="#FFD700"/>
<rect x="84.94" y="537.34" width="5.05" height="5.06" fill="#E69A80"/>
<rect x="89.98" y="537.34" width="5.05" height="5.06" fill="#FFD700"/>
<rect x="100.08" y="537.34" width="5.05" height="5.06" fill="#FFD700"/>
<rect x="120.27" y="537.34" width="5.05" height="5.06" fill="#FFD700"/>
<rect x="125.32" y="537.34" width="5.05" height="5.06" fill="#E69A80"/>
<rect x="130.37" y="537.34" width="5.05" height="5.06" fill="#E69A80"/>
<rect x="140.46" y="537.34" width="5.05" height="5.06" fill="#FFD700"/>
<rect x="145.51" y="537.34" width="5.05" height="5.06" fill="#FFD700"/>
</g>
<line x1="49.60" x2="175.80" y1="299.60" y2="299.60" stroke="#dcdde2" stroke-width="0.6"/>
<line x1="49.60" x2="175.80" y1="542.40" y2="542.40" stroke="#bfc0c6" stroke-width="0.6"/>
<line x1="49.60" x2="49.60" y1="299.60" y2="542.40" stroke="#8a8e9a" stroke-width="0.9"/>
<line x1="175.80" x2="175.80" y1="299.60" y2="542.40" stroke="#8a8e9a" stroke-width="0.9"/>
<text x="44.60" y="304.33" class="vl">7-81</text>
<text x="44.60" y="309.39" class="vl">3-74</text>
<text x="44.60" y="314.45" class="vl">3-73</text>
<text x="44.60" y="319.50" class="vl">3-72</text>
<text x="44.60" y="324.56" class="vl">2-70</text>
<text x="44.60" y="329.62" class="vl">1-69</text>
<text x="44.60" y="334.68" class="vl">3-66</text>
<text x="44.60" y="339.74" class="vl">3-64</text>
<text x="44.60" y="344.80" class="vl">4-61</text>
<text x="44.60" y="349.85" class="vl">4-59</text>
<text x="44.60" y="354.91" class="vl">1-58</text>
<text x="44.60" y="359.97" class="vl">3-53</text>
<text x="44.60" y="365.03" class="vl">5-a</text>
<text x="44.60" y="370.09" class="vl">5-51</text>
<text x="44.60" y="375.15" class="vl">3-49</text>
<text x="44.60" y="380.20" class="vl">3-48</text>
<text x="44.60" y="385.26" class="vl">1-46</text>
<text x="44.60" y="390.32" class="vl">1-45</text>
<text x="44.60" y="395.38" class="vl">3-43</text>
<text x="44.60" y="400.44" class="vl">4-39</text>
<text x="44.60" y="405.50" class="vl">3-35</text>
<text x="44.60" y="410.55" class="vl">4-34</text>
<text x="44.60" y="415.61" class="vl">3-33</text>
<text x="44.60" y="420.67" class="vl">4-31</text>
<text x="44.60" y="425.73" class="vl">4-30-4</text>
<text x="44.60" y="430.79" class="vl">4-30-2</text>
<text x="44.60" y="435.85" class="vl">3-30-5</text>
<text x="44.60" y="440.90" class="vl">3-30</text>
<text x="44.60" y="445.96" class="vl">4-28</text>
<text x="44.60" y="451.02" class="vl">2-26</text>
<text x="44.60" y="456.08" class="vl">1-24</text>
<text x="44.60" y="461.14" class="vl">3-23</text>
<text x="44.60" y="466.20" class="vl">3-21</text>
<text x="44.60" y="471.25" class="vl">3-20</text>
<text x="44.60" y="476.31" class="vl">1-18</text>
<text x="44.60" y="481.37" class="vl">3-15</text>
<text x="44.60" y="486.43" class="vl">3-13</text>
<text x="44.60" y="491.49" class="vl">3-11</text>
<text x="44.60" y="496.55" class="vl">3-9</text>
<text x="44.60" y="501.60" class="vl">1-8</text>
<text x="44.60" y="506.66" class="vl">3-7</text>
<text x="44.60" y="511.72" class="vl">2-5</text>
<text x="44.60" y="516.78" class="vl">7-4-1</text>
<text x="44.60" y="521.84" class="vl">4-4</text>
<text x="44.60" y="526.90" class="vl">4-b</text>
<text x="44.60" y="531.95" class="vl">1-3</text>
<text x="44.60" y="537.01" class="vl">1-2</text>
<text x="44.60" y="542.07" class="vl">6-1</text>
<text transform="translate(53.52,545.10) rotate(-90)" class="dl">1-1</text>
<text transform="translate(58.57,545.10) rotate(-90)" class="dl">2-2</text>
<text transform="translate(63.62,545.10) rotate(-90)" class="dl">3-3</text>
<text transform="translate(68.67,545.10) rotate(-90)" class="dl">4-4</text>
<text transform="translate(73.72,545.10) rotate(-90)" class="dl">5-5</text>
<text transform="translate(78.76,545.10) rotate(-90)" class="dl">6-6</text>
<text transform="translate(83.81,545.10) rotate(-90)" class="dl">1-7</text>
<text transform="translate(88.86,545.10) rotate(-90)" class="dl">3-10</text>
<text transform="translate(93.91,545.10) rotate(-90)" class="dl">4-11</text>
<text transform="translate(98.96,545.10) rotate(-90)" class="dl">5-12</text>
<text transform="translate(104.00,545.10) rotate(-90)" class="dl">6-13</text>
<text transform="translate(109.05,545.10) rotate(-90)" class="dl">1-14</text>
<text transform="translate(114.10,545.10) rotate(-90)" class="dl">2-15</text>
<text transform="translate(119.15,545.10) rotate(-90)" class="dl">3-16</text>
<text transform="translate(124.20,545.10) rotate(-90)" class="dl">4-17</text>
<text transform="translate(129.24,545.10) rotate(-90)" class="dl">5-18</text>
<text transform="translate(134.29,545.10) rotate(-90)" class="dl">6-19</text>
<text transform="translate(139.34,545.10) rotate(-90)" class="dl">1-20</text>
<text transform="translate(144.39,545.10) rotate(-90)" class="dl">2-21</text>
<text transform="translate(149.44,545.10) rotate(-90)" class="dl">3-22</text>
<text transform="translate(154.48,545.10) rotate(-90)" class="dl">4-23</text>
<text transform="translate(159.53,545.10) rotate(-90)" class="dl">5-24</text>
<text transform="translate(164.58,545.10) rotate(-90)" class="dl">6-25</text>
<text transform="translate(169.63,545.10) rotate(-90)" class="dl">1-26</text>
<text transform="translate(174.68,545.10) rotate(-90)" class="dl">7-27</text>
<g filter="url(#bl)" shape-rendering="crispEdges">
<rect x="191.50" y="304.76" width="5.08" height="5.06" fill="#E69A80"/>
<rect x="196.58" y="304.76" width="5.08" height="5.06" fill="#E69A80"/>
<rect x="201.67" y="304.76" width="5.08" height="5.06" fill="#F6A84C"/>
<rect x="206.75" y="304.76" width="5.08" height="5.06" fill="#FFD700"/>
<rect x="216.92" y="304.76" width="5.08" height="5.06" fill="#FFD700"/>
<rect x="222.00" y="304.76" width="5.08" height="5.06" fill="#E69A80"/>
<rect x="227.09" y="304.76" width="5.08" height="5.06" fill="#E69A80"/>
<rect x="237.26" y="304.76" width="5.08" height="5.06" fill="#FFD700"/>
<rect x="242.34" y="304.76" width="5.08" height="5.06" fill="#F6A84C"/>
<rect x="252.51" y="304.76" width="5.08" height="5.06" fill="#E69A80"/>
<rect x="257.59" y="304.76" width="5.08" height="5.06" fill="#FFD700"/>
<rect x="262.68" y="304.76" width="5.08" height="5.06" fill="#E69A80"/>
<rect x="267.76" y="304.76" width="5.08" height="5.06" fill="#E69A80"/>
<rect x="272.84" y="304.76" width="5.08" height="5.06" fill="#F6A84C"/>
<rect x="277.93" y="304.76" width="5.08" height="5.06" fill="#FFD700"/>
<rect x="283.01" y="304.76" width="5.08" height="5.06" fill="#F6A84C"/>
<rect x="288.10" y="304.76" width="5.08" height="5.06" fill="#E69A80"/>
<rect x="293.18" y="304.76" width="5.08" height="5.06" fill="#FFD700"/>
<rect x="298.26" y="304.76" width="5.08" height="5.06" fill="#FFD700"/>
<rect x="308.43" y="304.76" width="5.08" height="5.06" fill="#E69A80"/>
<rect x="196.58" y="309.81" width="5.08" height="5.06" fill="#FFD700"/>
<rect x="206.75" y="309.81" width="5.08" height="5.06" fill="#FFD700"/>
<rect x="227.09" y="309.81" width="5.08" height="5.06" fill="#FFD700"/>
<rect x="257.59" y="309.81" width="5.08" height="5.06" fill="#FFD700"/>
<rect x="288.10" y="309.81" width="5.08" height="5.06" fill="#FFD700"/>
<rect x="257.59" y="314.87" width="5.08" height="5.06" fill="#FFD700"/>
<rect x="267.76" y="314.87" width="5.08" height="5.06" fill="#FFD700"/>
<rect x="272.84" y="314.87" width="5.08" height="5.06" fill="#FFD700"/>
<rect x="257.59" y="319.93" width="5.08" height="5.06" fill="#FFD700"/>
<rect x="267.76" y="319.93" width="5.08" height="5.06" fill="#E69A80"/>
<rect x="277.93" y="319.93" width="5.08" height="5.06" fill="#FFD700"/>
<rect x="283.01" y="319.93" width="5.08" height="5.06" fill="#FFD700"/>
<rect x="308.43" y="319.93" width="5.08" height="5.06" fill="#FFD700"/>
<rect x="196.58" y="324.98" width="5.08" height="5.06" fill="#A666CE"/>
<rect x="201.67" y="324.98" width="5.08" height="5.06" fill="#E69A80"/>
<rect x="206.75" y="324.98" width="5.08" height="5.06" fill="#FFD700"/>
<rect x="216.92" y="324.98" width="5.08" height="5.06" fill="#E69A80"/>
<rect x="227.09" y="324.98" width="5.08" height="5.06" fill="#E69A80"/>
<rect x="237.26" y="324.98" width="5.08" height="5.06" fill="#E69A80"/>
<rect x="242.34" y="324.98" width="5.08" height="5.06" fill="#E69A80"/>
<rect x="252.51" y="324.98" width="5.08" height="5.06" fill="#D67C9E"/>
<rect x="262.68" y="324.98" width="5.08" height="5.06" fill="#E69A80"/>
<rect x="267.76" y="324.98" width="5.08" height="5.06" fill="#FFD700"/>
<rect x="272.84" y="324.98" width="5.08" height="5.06" fill="#E69A80"/>
<rect x="277.93" y="324.98" width="5.08" height="5.06" fill="#FFD700"/>
<rect x="288.10" y="324.98" width="5.08" height="5.06" fill="#E69A80"/>
<rect x="293.18" y="324.98" width="5.08" height="5.06" fill="#E69A80"/>
<rect x="298.26" y="324.98" width="5.08" height="5.06" fill="#E69A80"/>
<rect x="303.35" y="324.98" width="5.08" height="5.06" fill="#FFD700"/>
<rect x="308.43" y="324.98" width="5.08" height="5.06" fill="#FFD700"/>
<rect x="191.50" y="330.04" width="5.08" height="5.06" fill="#FFD700"/>
<rect x="196.58" y="330.04" width="5.08" height="5.06" fill="#F6A84C"/>
<rect x="201.67" y="330.04" width="5.08" height="5.06" fill="#F6A84C"/>
<rect x="216.92" y="330.04" width="5.08" height="5.06" fill="#E69A80"/>
<rect x="227.09" y="330.04" width="5.08" height="5.06" fill="#E69A80"/>
<rect x="232.17" y="330.04" width="5.08" height="5.06" fill="#FFD700"/>
<rect x="237.26" y="330.04" width="5.08" height="5.06" fill="#E69A80"/>
<rect x="242.34" y="330.04" width="5.08" height="5.06" fill="#E69A80"/>
<rect x="247.42" y="330.04" width="5.08" height="5.06" fill="#FFD700"/>
<rect x="252.51" y="330.04" width="5.08" height="5.06" fill="#E69A80"/>
<rect x="257.59" y="330.04" width="5.08" height="5.06" fill="#E69A80"/>
<rect x="262.68" y="330.04" width="5.08" height="5.06" fill="#E69A80"/>
<rect x="267.76" y="330.04" width="5.08" height="5.06" fill="#F6A84C"/>
<rect x="272.84" y="330.04" width="5.08" height="5.06" fill="#E69A80"/>
<rect x="283.01" y="330.04" width="5.08" height="5.06" fill="#FFD700"/>
<rect x="288.10" y="330.04" width="5.08" height="5.06" fill="#D67C9E"/>
<rect x="293.18" y="330.04" width="5.08" height="5.06" fill="#E69A80"/>
<rect x="298.26" y="330.04" width="5.08" height="5.06" fill="#FFD700"/>
<rect x="303.35" y="330.04" width="5.08" height="5.06" fill="#FFD700"/>
<rect x="308.43" y="330.04" width="5.08" height="5.06" fill="#E69A80"/>
<rect x="313.52" y="330.04" width="5.08" height="5.06" fill="#FFD700"/>
<rect x="196.58" y="335.09" width="5.08" height="5.06" fill="#E69A80"/>
<rect x="201.67" y="335.09" width="5.08" height="5.06" fill="#E69A80"/>
<rect x="222.00" y="335.09" width="5.08" height="5.06" fill="#FFD700"/>
<rect x="227.09" y="335.09" width="5.08" height="5.06" fill="#E69A80"/>
<rect x="232.17" y="335.09" width="5.08" height="5.06" fill="#FFD700"/>
<rect x="237.26" y="335.09" width="5.08" height="5.06" fill="#FFD700"/>
<rect x="242.34" y="335.09" width="5.08" height="5.06" fill="#E69A80"/>
<rect x="252.51" y="335.09" width="5.08" height="5.06" fill="#E69A80"/>
<rect x="262.68" y="335.09" width="5.08" height="5.06" fill="#E69A80"/>
<rect x="267.76" y="335.09" width="5.08" height="5.06" fill="#FFD700"/>
<rect x="272.84" y="335.09" width="5.08" height="5.06" fill="#E69A80"/>
<rect x="288.10" y="335.09" width="5.08" height="5.06" fill="#D67C9E"/>
<rect x="293.18" y="335.09" width="5.08" height="5.06" fill="#FFD700"/>
<rect x="298.26" y="335.09" width="5.08" height="5.06" fill="#E69A80"/>
<rect x="308.43" y="335.09" width="5.08" height="5.06" fill="#E69A80"/>
<rect x="191.50" y="340.15" width="5.08" height="5.06" fill="#FFD700"/>
<rect x="196.58" y="340.15" width="5.08" height="5.06" fill="#E69A80"/>
<rect x="201.67" y="340.15" width="5.08" height="5.06" fill="#D67C9E"/>
<rect x="206.75" y="340.15" width="5.08" height="5.06" fill="#E69A80"/>
<rect x="216.92" y="340.15" width="5.08" height="5.06" fill="#E69A80"/>
<rect x="222.00" y="340.15" width="5.08" height="5.06" fill="#E69A80"/>
<rect x="227.09" y="340.15" width="5.08" height="5.06" fill="#BE76C2"/>
<rect x="237.26" y="340.15" width="5.08" height="5.06" fill="#D67C9E"/>
<rect x="242.34" y="340.15" width="5.08" height="5.06" fill="#E69A80"/>
<rect x="252.51" y="340.15" width="5.08" height="5.06" fill="#E69A80"/>
<rect x="257.59" y="340.15" width="5.08" height="5.06" fill="#D67C9E"/>
<rect x="262.68" y="340.15" width="5.08" height="5.06" fill="#D67C9E"/>
<rect x="267.76" y="340.15" width="5.08" height="5.06" fill="#E69A80"/>
<rect x="272.84" y="340.15" width="5.08" height="5.06" fill="#FFD700"/>
<rect x="277.93" y="340.15" width="5.08" height="5.06" fill="#FFD700"/>
<rect x="283.01" y="340.15" width="5.08" height="5.06" fill="#E69A80"/>
<rect x="288.10" y="340.15" width="5.08" height="5.06" fill="#BE76C2"/>
<rect x="293.18" y="340.15" width="5.08" height="5.06" fill="#D67C9E"/>
<rect x="298.26" y="340.15" width="5.08" height="5.06" fill="#FFD700"/>
<rect x="308.43" y="340.15" width="5.08" height="5.06" fill="#E69A80"/>
<rect x="313.52" y="340.15" width="5.08" height="5.06" fill="#FFD700"/>
<rect x="191.50" y="345.21" width="5.08" height="5.06" fill="#D67C9E"/>
<rect x="196.58" y="345.21" width="5.08" height="5.06" fill="#6A30E6"/>
<rect x="201.67" y="345.21" width="5.08" height="5.06" fill="#9044DE"/>
<rect x="206.75" y="345.21" width="5.08" height="5.06" fill="#BE76C2"/>
<rect x="211.84" y="345.21" width="5.08" height="5.06" fill="#E69A80"/>
<rect x="216.92" y="345.21" width="5.08" height="5.06" fill="#A666CE"/>
<rect x="222.00" y="345.21" width="5.08" height="5.06" fill="#A666CE"/>
<rect x="227.09" y="345.21" width="5.08" height="5.06" fill="#6A30E6"/>
<rect x="232.17" y="345.21" width="5.08" height="5.06" fill="#BE76C2"/>
<rect x="237.26" y="345.21" width="5.08" height="5.06" fill="#A666CE"/>
<rect x="242.34" y="345.21" width="5.08" height="5.06" fill="#BE76C2"/>
<rect x="247.42" y="345.21" width="5.08" height="5.06" fill="#E69A80"/>
<rect x="252.51" y="345.21" width="5.08" height="5.06" fill="#A666CE"/>
<rect x="257.59" y="345.21" width="5.08" height="5.06" fill="#9044DE"/>
<rect x="262.68" y="345.21" width="5.08" height="5.06" fill="#9044DE"/>
<rect x="267.76" y="345.21" width="5.08" height="5.06" fill="#9044DE"/>
<rect x="272.84" y="345.21" width="5.08" height="5.06" fill="#A666CE"/>
<rect x="277.93" y="345.21" width="5.08" height="5.06" fill="#FFD700"/>
<rect x="283.01" y="345.21" width="5.08" height="5.06" fill="#A666CE"/>
<rect x="288.10" y="345.21" width="5.08" height="5.06" fill="#2A12EE"/>
<rect x="293.18" y="345.21" width="5.08" height="5.06" fill="#BE76C2"/>
<rect x="298.26" y="345.21" width="5.08" height="5.06" fill="#E69A80"/>
<rect x="303.35" y="345.21" width="5.08" height="5.06" fill="#FFD700"/>
<rect x="308.43" y="345.21" width="5.08" height="5.06" fill="#9044DE"/>
<rect x="313.52" y="345.21" width="5.08" height="5.06" fill="#E69A80"/>
<rect x="222.00" y="350.26" width="5.08" height="5.06" fill="#FFD700"/>
<rect x="252.51" y="350.26" width="5.08" height="5.06" fill="#FFD700"/>
<rect x="257.59" y="350.26" width="5.08" height="5.06" fill="#FFD700"/>
<rect x="196.58" y="355.32" width="5.08" height="5.06" fill="#E69A80"/>
<rect x="201.67" y="355.32" width="5.08" height="5.06" fill="#E69A80"/>
<rect x="216.92" y="355.32" width="5.08" height="5.06" fill="#FFD700"/>
<rect x="227.09" y="355.32" width="5.08" height="5.06" fill="#E69A80"/>
<rect x="252.51" y="355.32" width="5.08" height="5.06" fill="#FFD700"/>
<rect x="298.26" y="355.32" width="5.08" height="5.06" fill="#FFD700"/>
<rect x="201.67" y="360.38" width="5.08" height="5.06" fill="#FFD700"/>
<rect x="232.17" y="360.38" width="5.08" height="5.06" fill="#FFD700"/>
<rect x="237.26" y="360.38" width="5.08" height="5.06" fill="#FFD700"/>
<rect x="242.34" y="360.38" width="5.08" height="5.06" fill="#FFD700"/>
<rect x="252.51" y="360.38" width="5.08" height="5.06" fill="#E69A80"/>
<rect x="257.59" y="360.38" width="5.08" height="5.06" fill="#FFD700"/>
<rect x="262.68" y="360.38" width="5.08" height="5.06" fill="#F6A84C"/>
<rect x="267.76" y="360.38" width="5.08" height="5.06" fill="#F6A84C"/>
<rect x="272.84" y="360.38" width="5.08" height="5.06" fill="#FFD700"/>
<rect x="283.01" y="360.38" width="5.08" height="5.06" fill="#FFD700"/>
<rect x="288.10" y="360.38" width="5.08" height="5.06" fill="#E69A80"/>
<rect x="293.18" y="360.38" width="5.08" height="5.06" fill="#FFD700"/>
<rect x="298.26" y="360.38" width="5.08" height="5.06" fill="#FFD700"/>
<rect x="196.58" y="365.43" width="5.08" height="5.06" fill="#E69A80"/>
<rect x="206.75" y="365.43" width="5.08" height="5.06" fill="#E69A80"/>
<rect x="216.92" y="365.43" width="5.08" height="5.06" fill="#FFD700"/>
<rect x="222.00" y="365.43" width="5.08" height="5.06" fill="#FFD700"/>
<rect x="227.09" y="365.43" width="5.08" height="5.06" fill="#BE76C2"/>
<rect x="237.26" y="365.43" width="5.08" height="5.06" fill="#FFD700"/>
<rect x="242.34" y="365.43" width="5.08" height="5.06" fill="#E69A80"/>
<rect x="252.51" y="365.43" width="5.08" height="5.06" fill="#E69A80"/>
<rect x="257.59" y="365.43" width="5.08" height="5.06" fill="#E69A80"/>
<rect x="262.68" y="365.43" width="5.08" height="5.06" fill="#E69A80"/>
<rect x="267.76" y="365.43" width="5.08" height="5.06" fill="#D67C9E"/>
<rect x="272.84" y="365.43" width="5.08" height="5.06" fill="#E69A80"/>
<rect x="277.93" y="365.43" width="5.08" height="5.06" fill="#FFD700"/>
<rect x="283.01" y="365.43" width="5.08" height="5.06" fill="#FFD700"/>
<rect x="288.10" y="365.43" width="5.08" height="5.06" fill="#FFD700"/>
<rect x="293.18" y="365.43" width="5.08" height="5.06" fill="#E69A80"/>
<rect x="298.26" y="365.43" width="5.08" height="5.06" fill="#FFD700"/>
<rect x="308.43" y="365.43" width="5.08" height="5.06" fill="#E69A80"/>
<rect x="201.67" y="370.49" width="5.08" height="5.06" fill="#FFD700"/>
<rect x="227.09" y="370.49" width="5.08" height="5.06" fill="#FFD700"/>
<rect x="232.17" y="370.49" width="5.08" height="5.06" fill="#FFD700"/>
<rect x="237.26" y="370.49" width="5.08" height="5.06" fill="#E69A80"/>
<rect x="242.34" y="370.49" width="5.08" height="5.06" fill="#FFD700"/>
<rect x="252.51" y="370.49" width="5.08" height="5.06" fill="#FFD700"/>
<rect x="257.59" y="370.49" width="5.08" height="5.06" fill="#FFD700"/>
<rect x="267.76" y="370.49" width="5.08" height="5.06" fill="#FFD700"/>
<rect x="272.84" y="370.49" width="5.08" height="5.06" fill="#FFD700"/>
<rect x="288.10" y="370.49" width="5.08" height="5.06" fill="#FFD700"/>
<rect x="191.50" y="375.54" width="5.08" height="5.06" fill="#FFD700"/>
<rect x="196.58" y="375.54" width="5.08" height="5.06" fill="#FFD700"/>
<rect x="201.67" y="375.54" width="5.08" height="5.06" fill="#A666CE"/>
<rect x="206.75" y="375.54" width="5.08" height="5.06" fill="#E69A80"/>
<rect x="216.92" y="375.54" width="5.08" height="5.06" fill="#E69A80"/>
<rect x="222.00" y="375.54" width="5.08" height="5.06" fill="#E69A80"/>
<rect x="227.09" y="375.54" width="5.08" height="5.06" fill="#E69A80"/>
<rect x="232.17" y="375.54" width="5.08" height="5.06" fill="#FFD700"/>
<rect x="237.26" y="375.54" width="5.08" height="5.06" fill="#E69A80"/>
<rect x="242.34" y="375.54" width="5.08" height="5.06" fill="#D67C9E"/>
<rect x="247.42" y="375.54" width="5.08" height="5.06" fill="#FFD700"/>
<rect x="252.51" y="375.54" width="5.08" height="5.06" fill="#D67C9E"/>
<rect x="257.59" y="375.54" width="5.08" height="5.06" fill="#FFD700"/>
<rect x="262.68" y="375.54" width="5.08" height="5.06" fill="#E69A80"/>
<rect x="267.76" y="375.54" width="5.08" height="5.06" fill="#E69A80"/>
<rect x="272.84" y="375.54" width="5.08" height="5.06" fill="#E69A80"/>
<rect x="283.01" y="375.54" width="5.08" height="5.06" fill="#E69A80"/>
<rect x="288.10" y="375.54" width="5.08" height="5.06" fill="#BE76C2"/>
<rect x="293.18" y="375.54" width="5.08" height="5.06" fill="#E69A80"/>
<rect x="308.43" y="375.54" width="5.08" height="5.06" fill="#BE76C2"/>
<rect x="313.52" y="375.54" width="5.08" height="5.06" fill="#FFD700"/>
<rect x="196.58" y="380.60" width="5.08" height="5.06" fill="#E69A80"/>
<rect x="232.17" y="380.60" width="5.08" height="5.06" fill="#FFD700"/>
<rect x="237.26" y="380.60" width="5.08" height="5.06" fill="#FFD700"/>
<rect x="242.34" y="380.60" width="5.08" height="5.06" fill="#E69A80"/>
<rect x="252.51" y="380.60" width="5.08" height="5.06" fill="#FFD700"/>
<rect x="283.01" y="380.60" width="5.08" height="5.06" fill="#E69A80"/>
<rect x="308.43" y="380.60" width="5.08" height="5.06" fill="#E69A80"/>
<rect x="313.52" y="380.60" width="5.08" height="5.06" fill="#FFD700"/>
<rect x="196.58" y="390.71" width="5.08" height="5.06" fill="#FFD700"/>
<rect x="222.00" y="390.71" width="5.08" height="5.06" fill="#FFD700"/>
<rect x="227.09" y="390.71" width="5.08" height="5.06" fill="#FFD700"/>
<rect x="237.26" y="390.71" width="5.08" height="5.06" fill="#E69A80"/>
<rect x="247.42" y="390.71" width="5.08" height="5.06" fill="#FFD700"/>
<rect x="252.51" y="390.71" width="5.08" height="5.06" fill="#FFD700"/>
<rect x="257.59" y="390.71" width="5.08" height="5.06" fill="#E69A80"/>
<rect x="267.76" y="390.71" width="5.08" height="5.06" fill="#E69A80"/>
<rect x="283.01" y="390.71" width="5.08" height="5.06" fill="#FFD700"/>
<rect x="288.10" y="390.71" width="5.08" height="5.06" fill="#E69A80"/>
<rect x="191.50" y="395.77" width="5.08" height="5.06" fill="#E69A80"/>
<rect x="196.58" y="395.77" width="5.08" height="5.06" fill="#6A30E6"/>
<rect x="201.67" y="395.77" width="5.08" height="5.06" fill="#9044DE"/>
<rect x="206.75" y="395.77" width="5.08" height="5.06" fill="#BE76C2"/>
<rect x="211.84" y="395.77" width="5.08" height="5.06" fill="#BE76C2"/>
<rect x="216.92" y="395.77" width="5.08" height="5.06" fill="#A666CE"/>
<rect x="222.00" y="395.77" width="5.08" height="5.06" fill="#9044DE"/>
<rect x="227.09" y="395.77" width="5.08" height="5.06" fill="#6A30E6"/>
<rect x="232.17" y="395.77" width="5.08" height="5.06" fill="#BE76C2"/>
<rect x="237.26" y="395.77" width="5.08" height="5.06" fill="#A666CE"/>
<rect x="242.34" y="395.77" width="5.08" height="5.06" fill="#A666CE"/>
<rect x="247.42" y="395.77" width="5.08" height="5.06" fill="#BE76C2"/>
<rect x="252.51" y="395.77" width="5.08" height="5.06" fill="#9044DE"/>
<rect x="257.59" y="395.77" width="5.08" height="5.06" fill="#A666CE"/>
<rect x="262.68" y="395.77" width="5.08" height="5.06" fill="#A666CE"/>
<rect x="267.76" y="395.77" width="5.08" height="5.06" fill="#A666CE"/>
<rect x="272.84" y="395.77" width="5.08" height="5.06" fill="#9044DE"/>
<rect x="277.93" y="395.77" width="5.08" height="5.06" fill="#E69A80"/>
<rect x="283.01" y="395.77" width="5.08" height="5.06" fill="#BE76C2"/>
<rect x="288.10" y="395.77" width="5.08" height="5.06" fill="#2A12EE"/>
<rect x="293.18" y="395.77" width="5.08" height="5.06" fill="#BE76C2"/>
<rect x="298.26" y="395.77" width="5.08" height="5.06" fill="#BE76C2"/>
<rect x="303.35" y="395.77" width="5.08" height="5.06" fill="#FFD700"/>
<rect x="308.43" y="395.77" width="5.08" height="5.06" fill="#A666CE"/>
<rect x="313.52" y="395.77" width="5.08" height="5.06" fill="#FFD700"/>
<rect x="196.58" y="405.88" width="5.08" height="5.06" fill="#BE76C2"/>
<rect x="201.67" y="405.88" width="5.08" height="5.06" fill="#BE76C2"/>
<rect x="206.75" y="405.88" width="5.08" height="5.06" fill="#E69A80"/>
<rect x="211.84" y="405.88" width="5.08" height="5.06" fill="#FFD700"/>
<rect x="216.92" y="405.88" width="5.08" height="5.06" fill="#E69A80"/>
<rect x="222.00" y="405.88" width="5.08" height="5.06" fill="#BE76C2"/>
<rect x="227.09" y="405.88" width="5.08" height="5.06" fill="#E69A80"/>
<rect x="232.17" y="405.88" width="5.08" height="5.06" fill="#FFD700"/>
<rect x="237.26" y="405.88" width="5.08" height="5.06" fill="#E69A80"/>
<rect x="242.34" y="405.88" width="5.08" height="5.06" fill="#BE76C2"/>
<rect x="247.42" y="405.88" width="5.08" height="5.06" fill="#E69A80"/>
<rect x="252.51" y="405.88" width="5.08" height="5.06" fill="#BE76C2"/>
<rect x="257.59" y="405.88" width="5.08" height="5.06" fill="#E69A80"/>
<rect x="262.68" y="405.88" width="5.08" height="5.06" fill="#E69A80"/>
<rect x="267.76" y="405.88" width="5.08" height="5.06" fill="#E69A80"/>
<rect x="272.84" y="405.88" width="5.08" height="5.06" fill="#E69A80"/>
<rect x="283.01" y="405.88" width="5.08" height="5.06" fill="#E69A80"/>
<rect x="288.10" y="405.88" width="5.08" height="5.06" fill="#BE76C2"/>
<rect x="293.18" y="405.88" width="5.08" height="5.06" fill="#E69A80"/>
<rect x="298.26" y="405.88" width="5.08" height="5.06" fill="#E69A80"/>
<rect x="308.43" y="405.88" width="5.08" height="5.06" fill="#E69A80"/>
<rect x="313.52" y="405.88" width="5.08" height="5.06" fill="#FFD700"/>
<rect x="191.50" y="410.94" width="5.08" height="5.06" fill="#FFD700"/>
<rect x="196.58" y="410.94" width="5.08" height="5.06" fill="#BE76C2"/>
<rect x="201.67" y="410.94" width="5.08" height="5.06" fill="#E69A80"/>
<rect x="206.75" y="410.94" width="5.08" height="5.06" fill="#FFD700"/>
<rect x="216.92" y="410.94" width="5.08" height="5.06" fill="#FFD700"/>
<rect x="222.00" y="410.94" width="5.08" height="5.06" fill="#E69A80"/>
<rect x="227.09" y="410.94" width="5.08" height="5.06" fill="#D67C9E"/>
<rect x="232.17" y="410.94" width="5.08" height="5.06" fill="#E69A80"/>
<rect x="237.26" y="410.94" width="5.08" height="5.06" fill="#FFD700"/>
<rect x="242.34" y="410.94" width="5.08" height="5.06" fill="#BE76C2"/>
<rect x="247.42" y="410.94" width="5.08" height="5.06" fill="#FFD700"/>
<rect x="252.51" y="410.94" width="5.08" height="5.06" fill="#E69A80"/>
<rect x="257.59" y="410.94" width="5.08" height="5.06" fill="#F6A84C"/>
<rect x="262.68" y="410.94" width="5.08" height="5.06" fill="#FFD700"/>
<rect x="267.76" y="410.94" width="5.08" height="5.06" fill="#D67C9E"/>
<rect x="272.84" y="410.94" width="5.08" height="5.06" fill="#E69A80"/>
<rect x="283.01" y="410.94" width="5.08" height="5.06" fill="#E69A80"/>
<rect x="288.10" y="410.94" width="5.08" height="5.06" fill="#BE76C2"/>
<rect x="293.18" y="410.94" width="5.08" height="5.06" fill="#FFD700"/>
<rect x="298.26" y="410.94" width="5.08" height="5.06" fill="#E69A80"/>
<rect x="303.35" y="410.94" width="5.08" height="5.06" fill="#FFD700"/>
<rect x="308.43" y="410.94" width="5.08" height="5.06" fill="#BE76C2"/>
<rect x="191.50" y="415.99" width="5.08" height="5.06" fill="#FFD700"/>
<rect x="196.58" y="415.99" width="5.08" height="5.06" fill="#E69A80"/>
<rect x="201.67" y="415.99" width="5.08" height="5.06" fill="#BE76C2"/>
<rect x="206.75" y="415.99" width="5.08" height="5.06" fill="#FFD700"/>
<rect x="211.84" y="415.99" width="5.08" height="5.06" fill="#FFD700"/>
<rect x="216.92" y="415.99" width="5.08" height="5.06" fill="#FFD700"/>
<rect x="222.00" y="415.99" width="5.08" height="5.06" fill="#E69A80"/>
<rect x="227.09" y="415.99" width="5.08" height="5.06" fill="#E69A80"/>
<rect x="232.17" y="415.99" width="5.08" height="5.06" fill="#FFD700"/>
<rect x="237.26" y="415.99" width="5.08" height="5.06" fill="#FFD700"/>
<rect x="242.34" y="415.99" width="5.08" height="5.06" fill="#E69A80"/>
<rect x="247.42" y="415.99" width="5.08" height="5.06" fill="#FFD700"/>
<rect x="252.51" y="415.99" width="5.08" height="5.06" fill="#E69A80"/>
<rect x="257.59" y="415.99" width="5.08" height="5.06" fill="#E69A80"/>
<rect x="262.68" y="415.99" width="5.08" height="5.06" fill="#FFD700"/>
<rect x="267.76" y="415.99" width="5.08" height="5.06" fill="#E69A80"/>
<rect x="272.84" y="415.99" width="5.08" height="5.06" fill="#E69A80"/>
<rect x="288.10" y="415.99" width="5.08" height="5.06" fill="#BE76C2"/>
<rect x="293.18" y="415.99" width="5.08" height="5.06" fill="#FFD700"/>
<rect x="298.26" y="415.99" width="5.08" height="5.06" fill="#E69A80"/>
<rect x="308.43" y="415.99" width="5.08" height="5.06" fill="#FFD700"/>
<rect x="313.52" y="415.99" width="5.08" height="5.06" fill="#FFD700"/>
<rect x="252.51" y="421.05" width="5.08" height="5.06" fill="#E69A80"/>
<rect x="262.68" y="421.05" width="5.08" height="5.06" fill="#FFD700"/>
<rect x="288.10" y="426.11" width="5.08" height="5.06" fill="#FFD700"/>
<rect x="196.58" y="436.22" width="5.08" height="5.06" fill="#E69A80"/>
<rect x="201.67" y="436.22" width="5.08" height="5.06" fill="#A666CE"/>
<rect x="206.75" y="436.22" width="5.08" height="5.06" fill="#FFD700"/>
<rect x="211.84" y="436.22" width="5.08" height="5.06" fill="#E69A80"/>
<rect x="216.92" y="436.22" width="5.08" height="5.06" fill="#E69A80"/>
<rect x="227.09" y="436.22" width="5.08" height="5.06" fill="#A666CE"/>
<rect x="232.17" y="436.22" width="5.08" height="5.06" fill="#FFD700"/>
<rect x="237.26" y="436.22" width="5.08" height="5.06" fill="#E69A80"/>
<rect x="242.34" y="436.22" width="5.08" height="5.06" fill="#D67C9E"/>
<rect x="252.51" y="436.22" width="5.08" height="5.06" fill="#E69A80"/>
<rect x="257.59" y="436.22" width="5.08" height="5.06" fill="#E69A80"/>
<rect x="262.68" y="436.22" width="5.08" height="5.06" fill="#E69A80"/>
<rect x="267.76" y="436.22" width="5.08" height="5.06" fill="#D67C9E"/>
<rect x="272.84" y="436.22" width="5.08" height="5.06" fill="#E69A80"/>
<rect x="277.93" y="436.22" width="5.08" height="5.06" fill="#E69A80"/>
<rect x="283.01" y="436.22" width="5.08" height="5.06" fill="#E69A80"/>
<rect x="288.10" y="436.22" width="5.08" height="5.06" fill="#A666CE"/>
<rect x="293.18" y="436.22" width="5.08" height="5.06" fill="#E69A80"/>
<rect x="298.26" y="436.22" width="5.08" height="5.06" fill="#E69A80"/>
<rect x="308.43" y="436.22" width="5.08" height="5.06" fill="#A666CE"/>
<rect x="201.67" y="441.27" width="5.08" height="5.06" fill="#FFD700"/>
<rect x="288.10" y="441.27" width="5.08" height="5.06" fill="#FFD700"/>
<rect x="272.84" y="446.33" width="5.08" height="5.06" fill="#FFD700"/>
<rect x="308.43" y="446.33" width="5.08" height="5.06" fill="#FFD700"/>
<rect x="196.58" y="451.39" width="5.08" height="5.06" fill="#E69A80"/>
<rect x="201.67" y="451.39" width="5.08" height="5.06" fill="#FFD700"/>
<rect x="222.00" y="451.39" width="5.08" height="5.06" fill="#FFD700"/>
<rect x="227.09" y="451.39" width="5.08" height="5.06" fill="#E69A80"/>
<rect x="267.76" y="451.39" width="5.08" height="5.06" fill="#FFD700"/>
<rect x="283.01" y="451.39" width="5.08" height="5.06" fill="#FFD700"/>
<rect x="308.43" y="451.39" width="5.08" height="5.06" fill="#FFD700"/>
<rect x="191.50" y="456.44" width="5.08" height="5.06" fill="#FFD700"/>
<rect x="196.58" y="456.44" width="5.08" height="5.06" fill="#A666CE"/>
<rect x="201.67" y="456.44" width="5.08" height="5.06" fill="#A666CE"/>
<rect x="206.75" y="456.44" width="5.08" height="5.06" fill="#E69A80"/>
<rect x="216.92" y="456.44" width="5.08" height="5.06" fill="#E69A80"/>
<rect x="222.00" y="456.44" width="5.08" height="5.06" fill="#D67C9E"/>
<rect x="227.09" y="456.44" width="5.08" height="5.06" fill="#BE76C2"/>
<rect x="232.17" y="456.44" width="5.08" height="5.06" fill="#E69A80"/>
<rect x="237.26" y="456.44" width="5.08" height="5.06" fill="#D67C9E"/>
<rect x="242.34" y="456.44" width="5.08" height="5.06" fill="#A666CE"/>
<rect x="247.42" y="456.44" width="5.08" height="5.06" fill="#FFD700"/>
<rect x="252.51" y="456.44" width="5.08" height="5.06" fill="#A666CE"/>
<rect x="257.59" y="456.44" width="5.08" height="5.06" fill="#BE76C2"/>
<rect x="262.68" y="456.44" width="5.08" height="5.06" fill="#BE76C2"/>
<rect x="267.76" y="456.44" width="5.08" height="5.06" fill="#E69A80"/>
<rect x="272.84" y="456.44" width="5.08" height="5.06" fill="#A666CE"/>
<rect x="277.93" y="456.44" width="5.08" height="5.06" fill="#E69A80"/>
<rect x="283.01" y="456.44" width="5.08" height="5.06" fill="#E69A80"/>
<rect x="288.10" y="456.44" width="5.08" height="5.06" fill="#6A30E6"/>
<rect x="293.18" y="456.44" width="5.08" height="5.06" fill="#BE76C2"/>
<rect x="298.26" y="456.44" width="5.08" height="5.06" fill="#BE76C2"/>
<rect x="308.43" y="456.44" width="5.08" height="5.06" fill="#A666CE"/>
<rect x="313.52" y="456.44" width="5.08" height="5.06" fill="#E69A80"/>
<rect x="196.58" y="461.50" width="5.08" height="5.06" fill="#BE76C2"/>
<rect x="201.67" y="461.50" width="5.08" height="5.06" fill="#BE76C2"/>
<rect x="206.75" y="461.50" width="5.08" height="5.06" fill="#FFD700"/>
<rect x="211.84" y="461.50" width="5.08" height="5.06" fill="#FFD700"/>
<rect x="216.92" y="461.50" width="5.08" height="5.06" fill="#E69A80"/>
<rect x="222.00" y="461.50" width="5.08" height="5.06" fill="#E69A80"/>
<rect x="227.09" y="461.50" width="5.08" height="5.06" fill="#D67C9E"/>
<rect x="232.17" y="461.50" width="5.08" height="5.06" fill="#E69A80"/>
<rect x="237.26" y="461.50" width="5.08" height="5.06" fill="#FFD700"/>
<rect x="242.34" y="461.50" width="5.08" height="5.06" fill="#BE76C2"/>
<rect x="247.42" y="461.50" width="5.08" height="5.06" fill="#E69A80"/>
<rect x="252.51" y="461.50" width="5.08" height="5.06" fill="#D67C9E"/>
<rect x="257.59" y="461.50" width="5.08" height="5.06" fill="#FFD700"/>
<rect x="262.68" y="461.50" width="5.08" height="5.06" fill="#BE76C2"/>
<rect x="267.76" y="461.50" width="5.08" height="5.06" fill="#BE76C2"/>
<rect x="272.84" y="461.50" width="5.08" height="5.06" fill="#E69A80"/>
<rect x="283.01" y="461.50" width="5.08" height="5.06" fill="#FFD700"/>
<rect x="288.10" y="461.50" width="5.08" height="5.06" fill="#BE76C2"/>
<rect x="293.18" y="461.50" width="5.08" height="5.06" fill="#E69A80"/>
<rect x="298.26" y="461.50" width="5.08" height="5.06" fill="#E69A80"/>
<rect x="308.43" y="461.50" width="5.08" height="5.06" fill="#D67C9E"/>
<rect x="191.50" y="466.56" width="5.08" height="5.06" fill="#FFD700"/>
<rect x="196.58" y="466.56" width="5.08" height="5.06" fill="#E69A80"/>
<rect x="201.67" y="466.56" width="5.08" height="5.06" fill="#E69A80"/>
<rect x="222.00" y="466.56" width="5.08" height="5.06" fill="#FFD700"/>
<rect x="227.09" y="466.56" width="5.08" height="5.06" fill="#E69A80"/>
<rect x="232.17" y="466.56" width="5.08" height="5.06" fill="#FFD700"/>
<rect x="237.26" y="466.56" width="5.08" height="5.06" fill="#FFD700"/>
<rect x="242.34" y="466.56" width="5.08" height="5.06" fill="#FFD700"/>
<rect x="247.42" y="466.56" width="5.08" height="5.06" fill="#FFD700"/>
<rect x="252.51" y="466.56" width="5.08" height="5.06" fill="#FFD700"/>
<rect x="257.59" y="466.56" width="5.08" height="5.06" fill="#FFD700"/>
<rect x="267.76" y="466.56" width="5.08" height="5.06" fill="#FFD700"/>
<rect x="272.84" y="466.56" width="5.08" height="5.06" fill="#FFD700"/>
<rect x="288.10" y="466.56" width="5.08" height="5.06" fill="#E69A80"/>
<rect x="298.26" y="466.56" width="5.08" height="5.06" fill="#E69A80"/>
<rect x="308.43" y="466.56" width="5.08" height="5.06" fill="#E69A80"/>
<rect x="196.58" y="471.61" width="5.08" height="5.06" fill="#BE76C2"/>
<rect x="201.67" y="471.61" width="5.08" height="5.06" fill="#D67C9E"/>
<rect x="206.75" y="471.61" width="5.08" height="5.06" fill="#FFD700"/>
<rect x="211.84" y="471.61" width="5.08" height="5.06" fill="#FFD700"/>
<rect x="216.92" y="471.61" width="5.08" height="5.06" fill="#FFD700"/>
<rect x="222.00" y="471.61" width="5.08" height="5.06" fill="#E69A80"/>
<rect x="227.09" y="471.61" width="5.08" height="5.06" fill="#BE76C2"/>
<rect x="242.34" y="471.61" width="5.08" height="5.06" fill="#FFD700"/>
<rect x="247.42" y="471.61" width="5.08" height="5.06" fill="#FFD700"/>
<rect x="252.51" y="471.61" width="5.08" height="5.06" fill="#D67C9E"/>
<rect x="262.68" y="471.61" width="5.08" height="5.06" fill="#E69A80"/>
<rect x="267.76" y="471.61" width="5.08" height="5.06" fill="#E69A80"/>
<rect x="272.84" y="471.61" width="5.08" height="5.06" fill="#E69A80"/>
<rect x="283.01" y="471.61" width="5.08" height="5.06" fill="#E69A80"/>
<rect x="288.10" y="471.61" width="5.08" height="5.06" fill="#E69A80"/>
<rect x="308.43" y="471.61" width="5.08" height="5.06" fill="#E69A80"/>
<rect x="191.50" y="476.67" width="5.08" height="5.06" fill="#FFD700"/>
<rect x="196.58" y="476.67" width="5.08" height="5.06" fill="#FFD700"/>
<rect x="201.67" y="476.67" width="5.08" height="5.06" fill="#E69A80"/>
<rect x="216.92" y="476.67" width="5.08" height="5.06" fill="#E69A80"/>
<rect x="222.00" y="476.67" width="5.08" height="5.06" fill="#E69A80"/>
<rect x="237.26" y="476.67" width="5.08" height="5.06" fill="#FFD700"/>
<rect x="242.34" y="476.67" width="5.08" height="5.06" fill="#E69A80"/>
<rect x="252.51" y="476.67" width="5.08" height="5.06" fill="#E69A80"/>
<rect x="257.59" y="476.67" width="5.08" height="5.06" fill="#FFD700"/>
<rect x="262.68" y="476.67" width="5.08" height="5.06" fill="#FFD700"/>
<rect x="267.76" y="476.67" width="5.08" height="5.06" fill="#FFD700"/>
<rect x="272.84" y="476.67" width="5.08" height="5.06" fill="#FFD700"/>
<rect x="283.01" y="476.67" width="5.08" height="5.06" fill="#FFD700"/>
<rect x="288.10" y="476.67" width="5.08" height="5.06" fill="#FFD700"/>
<rect x="293.18" y="476.67" width="5.08" height="5.06" fill="#E69A80"/>
<rect x="298.26" y="476.67" width="5.08" height="5.06" fill="#FFD700"/>
<rect x="308.43" y="476.67" width="5.08" height="5.06" fill="#E69A80"/>
<rect x="196.58" y="481.72" width="5.08" height="5.06" fill="#E69A80"/>
<rect x="216.92" y="481.72" width="5.08" height="5.06" fill="#F6A84C"/>
<rect x="227.09" y="481.72" width="5.08" height="5.06" fill="#F6A84C"/>
<rect x="242.34" y="481.72" width="5.08" height="5.06" fill="#F6A84C"/>
<rect x="252.51" y="481.72" width="5.08" height="5.06" fill="#FFD700"/>
<rect x="257.59" y="481.72" width="5.08" height="5.06" fill="#FFD700"/>
<rect x="262.68" y="481.72" width="5.08" height="5.06" fill="#FFD700"/>
<rect x="267.76" y="481.72" width="5.08" height="5.06" fill="#FFD700"/>
<rect x="272.84" y="481.72" width="5.08" height="5.06" fill="#FFD700"/>
<rect x="288.10" y="481.72" width="5.08" height="5.06" fill="#FFD700"/>
<rect x="298.26" y="481.72" width="5.08" height="5.06" fill="#FFD700"/>
<rect x="308.43" y="481.72" width="5.08" height="5.06" fill="#E69A80"/>
<rect x="196.58" y="486.78" width="5.08" height="5.06" fill="#E69A80"/>
<rect x="201.67" y="486.78" width="5.08" height="5.06" fill="#E69A80"/>
<rect x="206.75" y="486.78" width="5.08" height="5.06" fill="#FFD700"/>
<rect x="216.92" y="486.78" width="5.08" height="5.06" fill="#E69A80"/>
<rect x="227.09" y="486.78" width="5.08" height="5.06" fill="#BE76C2"/>
<rect x="232.17" y="486.78" width="5.08" height="5.06" fill="#FFD700"/>
<rect x="237.26" y="486.78" width="5.08" height="5.06" fill="#FFD700"/>
<rect x="242.34" y="486.78" width="5.08" height="5.06" fill="#E69A80"/>
<rect x="247.42" y="486.78" width="5.08" height="5.06" fill="#FFD700"/>
<rect x="252.51" y="486.78" width="5.08" height="5.06" fill="#FFD700"/>
<rect x="257.59" y="486.78" width="5.08" height="5.06" fill="#E69A80"/>
<rect x="262.68" y="486.78" width="5.08" height="5.06" fill="#FFD700"/>
<rect x="267.76" y="486.78" width="5.08" height="5.06" fill="#FFD700"/>
<rect x="272.84" y="486.78" width="5.08" height="5.06" fill="#E69A80"/>
<rect x="288.10" y="486.78" width="5.08" height="5.06" fill="#D67C9E"/>
<rect x="293.18" y="486.78" width="5.08" height="5.06" fill="#E69A80"/>
<rect x="298.26" y="486.78" width="5.08" height="5.06" fill="#FFD700"/>
<rect x="303.35" y="486.78" width="5.08" height="5.06" fill="#FFD700"/>
<rect x="308.43" y="486.78" width="5.08" height="5.06" fill="#BE76C2"/>
<rect x="196.58" y="501.95" width="5.08" height="5.06" fill="#D67C9E"/>
<rect x="201.67" y="501.95" width="5.08" height="5.06" fill="#E69A80"/>
<rect x="206.75" y="501.95" width="5.08" height="5.06" fill="#E69A80"/>
<rect x="211.84" y="501.95" width="5.08" height="5.06" fill="#FFD700"/>
<rect x="216.92" y="501.95" width="5.08" height="5.06" fill="#D67C9E"/>
<rect x="222.00" y="501.95" width="5.08" height="5.06" fill="#E69A80"/>
<rect x="227.09" y="501.95" width="5.08" height="5.06" fill="#E69A80"/>
<rect x="232.17" y="501.95" width="5.08" height="5.06" fill="#FFD700"/>
<rect x="237.26" y="501.95" width="5.08" height="5.06" fill="#E69A80"/>
<rect x="242.34" y="501.95" width="5.08" height="5.06" fill="#E69A80"/>
<rect x="247.42" y="501.95" width="5.08" height="5.06" fill="#E69A80"/>
<rect x="252.51" y="501.95" width="5.08" height="5.06" fill="#D67C9E"/>
<rect x="262.68" y="501.95" width="5.08" height="5.06" fill="#D67C9E"/>
<rect x="267.76" y="501.95" width="5.08" height="5.06" fill="#D67C9E"/>
<rect x="272.84" y="501.95" width="5.08" height="5.06" fill="#D67C9E"/>
<rect x="277.93" y="501.95" width="5.08" height="5.06" fill="#E69A80"/>
<rect x="283.01" y="501.95" width="5.08" height="5.06" fill="#E69A80"/>
<rect x="288.10" y="501.95" width="5.08" height="5.06" fill="#D67C9E"/>
<rect x="293.18" y="501.95" width="5.08" height="5.06" fill="#E69A80"/>
<rect x="303.35" y="501.95" width="5.08" height="5.06" fill="#FFD700"/>
<rect x="308.43" y="501.95" width="5.08" height="5.06" fill="#A666CE"/>
<rect x="191.50" y="507.01" width="5.08" height="5.06" fill="#FFD700"/>
<rect x="201.67" y="507.01" width="5.08" height="5.06" fill="#E69A80"/>
<rect x="211.84" y="507.01" width="5.08" height="5.06" fill="#FFD700"/>
<rect x="216.92" y="507.01" width="5.08" height="5.06" fill="#FFD700"/>
<rect x="227.09" y="507.01" width="5.08" height="5.06" fill="#FFD700"/>
<rect x="237.26" y="507.01" width="5.08" height="5.06" fill="#FFD700"/>
<rect x="242.34" y="507.01" width="5.08" height="5.06" fill="#FFD700"/>
<rect x="252.51" y="507.01" width="5.08" height="5.06" fill="#FFD700"/>
<rect x="257.59" y="507.01" width="5.08" height="5.06" fill="#FFD700"/>
<rect x="262.68" y="507.01" width="5.08" height="5.06" fill="#FFD700"/>
<rect x="272.84" y="507.01" width="5.08" height="5.06" fill="#E69A80"/>
<rect x="283.01" y="507.01" width="5.08" height="5.06" fill="#FFD700"/>
<rect x="293.18" y="507.01" width="5.08" height="5.06" fill="#FFD700"/>
<rect x="298.26" y="507.01" width="5.08" height="5.06" fill="#E69A80"/>
<rect x="308.43" y="507.01" width="5.08" height="5.06" fill="#E69A80"/>
<rect x="206.75" y="512.06" width="5.08" height="5.06" fill="#FFD700"/>
<rect x="222.00" y="512.06" width="5.08" height="5.06" fill="#E69A80"/>
<rect x="242.34" y="512.06" width="5.08" height="5.06" fill="#FFD700"/>
<rect x="262.68" y="512.06" width="5.08" height="5.06" fill="#FFD700"/>
<rect x="272.84" y="512.06" width="5.08" height="5.06" fill="#FFD700"/>
<rect x="288.10" y="512.06" width="5.08" height="5.06" fill="#E69A80"/>
<rect x="293.18" y="512.06" width="5.08" height="5.06" fill="#FFD700"/>
<rect x="191.50" y="517.12" width="5.08" height="5.06" fill="#E69A80"/>
<rect x="196.58" y="517.12" width="5.08" height="5.06" fill="#BE76C2"/>
<rect x="201.67" y="517.12" width="5.08" height="5.06" fill="#D67C9E"/>
<rect x="206.75" y="517.12" width="5.08" height="5.06" fill="#E69A80"/>
<rect x="216.92" y="517.12" width="5.08" height="5.06" fill="#E69A80"/>
<rect x="222.00" y="517.12" width="5.08" height="5.06" fill="#E69A80"/>
<rect x="227.09" y="517.12" width="5.08" height="5.06" fill="#BE76C2"/>
<rect x="237.26" y="517.12" width="5.08" height="5.06" fill="#E69A80"/>
<rect x="242.34" y="517.12" width="5.08" height="5.06" fill="#FFD700"/>
<rect x="247.42" y="517.12" width="5.08" height="5.06" fill="#E69A80"/>
<rect x="252.51" y="517.12" width="5.08" height="5.06" fill="#A666CE"/>
<rect x="257.59" y="517.12" width="5.08" height="5.06" fill="#E69A80"/>
<rect x="262.68" y="517.12" width="5.08" height="5.06" fill="#E69A80"/>
<rect x="267.76" y="517.12" width="5.08" height="5.06" fill="#D67C9E"/>
<rect x="272.84" y="517.12" width="5.08" height="5.06" fill="#A666CE"/>
<rect x="283.01" y="517.12" width="5.08" height="5.06" fill="#FFD700"/>
<rect x="288.10" y="517.12" width="5.08" height="5.06" fill="#E69A80"/>
<rect x="293.18" y="517.12" width="5.08" height="5.06" fill="#FFD700"/>
<rect x="298.26" y="517.12" width="5.08" height="5.06" fill="#E69A80"/>
<rect x="303.35" y="517.12" width="5.08" height="5.06" fill="#E69A80"/>
<rect x="308.43" y="517.12" width="5.08" height="5.06" fill="#E69A80"/>
<rect x="191.50" y="522.17" width="5.08" height="5.06" fill="#E69A80"/>
<rect x="196.58" y="522.17" width="5.08" height="5.06" fill="#BE76C2"/>
<rect x="201.67" y="522.17" width="5.08" height="5.06" fill="#D67C9E"/>
<rect x="206.75" y="522.17" width="5.08" height="5.06" fill="#FFD700"/>
<rect x="216.92" y="522.17" width="5.08" height="5.06" fill="#E69A80"/>
<rect x="222.00" y="522.17" width="5.08" height="5.06" fill="#E69A80"/>
<rect x="227.09" y="522.17" width="5.08" height="5.06" fill="#D67C9E"/>
<rect x="232.17" y="522.17" width="5.08" height="5.06" fill="#E69A80"/>
<rect x="237.26" y="522.17" width="5.08" height="5.06" fill="#FFD700"/>
<rect x="242.34" y="522.17" width="5.08" height="5.06" fill="#D67C9E"/>
<rect x="247.42" y="522.17" width="5.08" height="5.06" fill="#FFD700"/>
<rect x="252.51" y="522.17" width="5.08" height="5.06" fill="#BE76C2"/>
<rect x="257.59" y="522.17" width="5.08" height="5.06" fill="#FFD700"/>
<rect x="262.68" y="522.17" width="5.08" height="5.06" fill="#D67C9E"/>
<rect x="267.76" y="522.17" width="5.08" height="5.06" fill="#D67C9E"/>
<rect x="272.84" y="522.17" width="5.08" height="5.06" fill="#E69A80"/>
<rect x="277.93" y="522.17" width="5.08" height="5.06" fill="#FFD700"/>
<rect x="283.01" y="522.17" width="5.08" height="5.06" fill="#FFD700"/>
<rect x="288.10" y="522.17" width="5.08" height="5.06" fill="#D67C9E"/>
<rect x="298.26" y="522.17" width="5.08" height="5.06" fill="#FFD700"/>
<rect x="308.43" y="522.17" width="5.08" height="5.06" fill="#D67C9E"/>
<rect x="313.52" y="522.17" width="5.08" height="5.06" fill="#E69A80"/>
<rect x="196.58" y="527.23" width="5.08" height="5.06" fill="#FFD700"/>
<rect x="227.09" y="527.23" width="5.08" height="5.06" fill="#FFD700"/>
<rect x="237.26" y="527.23" width="5.08" height="5.06" fill="#FFD700"/>
<rect x="262.68" y="527.23" width="5.08" height="5.06" fill="#FFD700"/>
<rect x="283.01" y="527.23" width="5.08" height="5.06" fill="#FFD700"/>
<rect x="288.10" y="527.23" width="5.08" height="5.06" fill="#FFD700"/>
<rect x="191.50" y="532.29" width="5.08" height="5.06" fill="#E69A80"/>
<rect x="196.58" y="532.29" width="5.08" height="5.06" fill="#BE76C2"/>
<rect x="201.67" y="532.29" width="5.08" height="5.06" fill="#E69A80"/>
<rect x="222.00" y="532.29" width="5.08" height="5.06" fill="#E69A80"/>
<rect x="227.09" y="532.29" width="5.08" height="5.06" fill="#D67C9E"/>
<rect x="237.26" y="532.29" width="5.08" height="5.06" fill="#E69A80"/>
<rect x="242.34" y="532.29" width="5.08" height="5.06" fill="#E69A80"/>
<rect x="252.51" y="532.29" width="5.08" height="5.06" fill="#FFD700"/>
<rect x="262.68" y="532.29" width="5.08" height="5.06" fill="#FFD700"/>
<rect x="267.76" y="532.29" width="5.08" height="5.06" fill="#FFD700"/>
<rect x="272.84" y="532.29" width="5.08" height="5.06" fill="#E69A80"/>
<rect x="277.93" y="532.29" width="5.08" height="5.06" fill="#E69A80"/>
<rect x="283.01" y="532.29" width="5.08" height="5.06" fill="#FFD700"/>
<rect x="288.10" y="532.29" width="5.08" height="5.06" fill="#FFD700"/>
<rect x="293.18" y="532.29" width="5.08" height="5.06" fill="#E69A80"/>
<rect x="298.26" y="532.29" width="5.08" height="5.06" fill="#FFD700"/>
<rect x="303.35" y="532.29" width="5.08" height="5.06" fill="#FFD700"/>
<rect x="308.43" y="532.29" width="5.08" height="5.06" fill="#FFD700"/>
<rect x="201.67" y="537.34" width="5.08" height="5.06" fill="#FFD700"/>
<rect x="227.09" y="537.34" width="5.08" height="5.06" fill="#FFD700"/>
<rect x="252.51" y="537.34" width="5.08" height="5.06" fill="#FFD700"/>
<rect x="257.59" y="537.34" width="5.08" height="5.06" fill="#FFD700"/>
<rect x="267.76" y="537.34" width="5.08" height="5.06" fill="#FFD700"/>
<rect x="272.84" y="537.34" width="5.08" height="5.06" fill="#FFD700"/>
<rect x="288.10" y="537.34" width="5.08" height="5.06" fill="#E69A80"/>
<rect x="313.52" y="537.34" width="5.08" height="5.06" fill="#FFD700"/>
</g>
<line x1="191.50" x2="318.60" y1="299.70" y2="299.70" stroke="#dcdde2" stroke-width="0.6"/>
<line x1="191.50" x2="318.60" y1="542.40" y2="542.40" stroke="#bfc0c6" stroke-width="0.6"/>
<line x1="191.50" x2="191.50" y1="299.70" y2="542.40" stroke="#8a8e9a" stroke-width="0.9"/>
<line x1="318.60" x2="318.60" y1="299.70" y2="542.40" stroke="#8a8e9a" stroke-width="0.9"/>
<text transform="translate(195.44,545.10) rotate(-90)" class="dl">1-1</text>
<text transform="translate(200.53,545.10) rotate(-90)" class="dl">2-2</text>
<text transform="translate(205.61,545.10) rotate(-90)" class="dl">3-3</text>
<text transform="translate(210.69,545.10) rotate(-90)" class="dl">4-4</text>
<text transform="translate(215.78,545.10) rotate(-90)" class="dl">5-5</text>
<text transform="translate(220.86,545.10) rotate(-90)" class="dl">6-6</text>
<text transform="translate(225.95,545.10) rotate(-90)" class="dl">1-7</text>
<text transform="translate(231.03,545.10) rotate(-90)" class="dl">3-10</text>
<text transform="translate(236.11,545.10) rotate(-90)" class="dl">4-11</text>
<text transform="translate(241.20,545.10) rotate(-90)" class="dl">5-12</text>
<text transform="translate(246.28,545.10) rotate(-90)" class="dl">6-13</text>
<text transform="translate(251.37,545.10) rotate(-90)" class="dl">1-14</text>
<text transform="translate(256.45,545.10) rotate(-90)" class="dl">2-15</text>
<text transform="translate(261.53,545.10) rotate(-90)" class="dl">3-16</text>
<text transform="translate(266.62,545.10) rotate(-90)" class="dl">4-17</text>
<text transform="translate(271.70,545.10) rotate(-90)" class="dl">5-18</text>
<text transform="translate(276.79,545.10) rotate(-90)" class="dl">6-19</text>
<text transform="translate(281.87,545.10) rotate(-90)" class="dl">1-20</text>
<text transform="translate(286.95,545.10) rotate(-90)" class="dl">2-21</text>
<text transform="translate(292.04,545.10) rotate(-90)" class="dl">3-22</text>
<text transform="translate(297.12,545.10) rotate(-90)" class="dl">4-23</text>
<text transform="translate(302.21,545.10) rotate(-90)" class="dl">5-24</text>
<text transform="translate(307.29,545.10) rotate(-90)" class="dl">6-25</text>
<text transform="translate(312.37,545.10) rotate(-90)" class="dl">1-26</text>
<text transform="translate(317.46,545.10) rotate(-90)" class="dl">7-27</text>
<g filter="url(#bl)" shape-rendering="crispEdges">
<rect x="49.20" y="593.46" width="5.07" height="5.06" fill="#E69A80"/>
<rect x="54.27" y="593.46" width="5.07" height="5.06" fill="#E69A80"/>
<rect x="59.34" y="593.46" width="5.07" height="5.06" fill="#E69A80"/>
<rect x="84.70" y="593.46" width="5.07" height="5.06" fill="#E69A80"/>
<rect x="89.78" y="593.46" width="5.07" height="5.06" fill="#FFD700"/>
<rect x="99.92" y="593.46" width="5.07" height="5.06" fill="#F6A84C"/>
<rect x="104.99" y="593.46" width="5.07" height="5.06" fill="#F6A84C"/>
<rect x="110.06" y="593.46" width="5.07" height="5.06" fill="#E69A80"/>
<rect x="115.14" y="593.46" width="5.07" height="5.06" fill="#E69A80"/>
<rect x="120.21" y="593.46" width="5.07" height="5.06" fill="#FFD700"/>
<rect x="125.28" y="593.46" width="5.07" height="5.06" fill="#E69A80"/>
<rect x="130.35" y="593.46" width="5.07" height="5.06" fill="#E69A80"/>
<rect x="140.50" y="593.46" width="5.07" height="5.06" fill="#FFD700"/>
<rect x="145.57" y="593.46" width="5.07" height="5.06" fill="#D67C9E"/>
<rect x="54.27" y="598.52" width="5.07" height="5.06" fill="#A666CE"/>
<rect x="59.34" y="598.52" width="5.07" height="5.06" fill="#FFD700"/>
<rect x="64.42" y="598.52" width="5.07" height="5.06" fill="#F6A84C"/>
<rect x="74.56" y="598.52" width="5.07" height="5.06" fill="#FFD700"/>
<rect x="84.70" y="598.52" width="5.07" height="5.06" fill="#FFD700"/>
<rect x="89.78" y="598.52" width="5.07" height="5.06" fill="#E69A80"/>
<rect x="94.85" y="598.52" width="5.07" height="5.06" fill="#E69A80"/>
<rect x="99.92" y="598.52" width="5.07" height="5.06" fill="#E69A80"/>
<rect x="115.14" y="598.52" width="5.07" height="5.06" fill="#FFD700"/>
<rect x="120.21" y="598.52" width="5.07" height="5.06" fill="#E69A80"/>
<rect x="130.35" y="598.52" width="5.07" height="5.06" fill="#E69A80"/>
<rect x="140.50" y="598.52" width="5.07" height="5.06" fill="#FFD700"/>
<rect x="145.57" y="598.52" width="5.07" height="5.06" fill="#FFD700"/>
<rect x="150.64" y="598.52" width="5.07" height="5.06" fill="#FFD700"/>
<rect x="49.20" y="603.58" width="5.07" height="5.06" fill="#FFD700"/>
<rect x="145.57" y="603.58" width="5.07" height="5.06" fill="#FFD700"/>
<rect x="150.64" y="603.58" width="5.07" height="5.06" fill="#FFD700"/>
<rect x="54.27" y="608.64" width="5.07" height="5.06" fill="#FFD700"/>
<rect x="59.34" y="608.64" width="5.07" height="5.06" fill="#FFD700"/>
<rect x="64.42" y="608.64" width="5.07" height="5.06" fill="#FFD700"/>
<rect x="74.56" y="608.64" width="5.07" height="5.06" fill="#FFD700"/>
<rect x="84.70" y="608.64" width="5.07" height="5.06" fill="#FFD700"/>
<rect x="94.85" y="608.64" width="5.07" height="5.06" fill="#FFD700"/>
<rect x="110.06" y="608.64" width="5.07" height="5.06" fill="#F6A84C"/>
<rect x="130.35" y="608.64" width="5.07" height="5.06" fill="#FFD700"/>
<rect x="140.50" y="608.64" width="5.07" height="5.06" fill="#FFD700"/>
<rect x="145.57" y="608.64" width="5.07" height="5.06" fill="#FFD700"/>
<rect x="155.71" y="608.64" width="5.07" height="5.06" fill="#FFD700"/>
<rect x="54.27" y="613.70" width="5.07" height="5.06" fill="#BE76C2"/>
<rect x="59.34" y="613.70" width="5.07" height="5.06" fill="#A666CE"/>
<rect x="64.42" y="613.70" width="5.07" height="5.06" fill="#E69A80"/>
<rect x="74.56" y="613.70" width="5.07" height="5.06" fill="#FFD700"/>
<rect x="79.63" y="613.70" width="5.07" height="5.06" fill="#FFD700"/>
<rect x="84.70" y="613.70" width="5.07" height="5.06" fill="#BE76C2"/>
<rect x="94.85" y="613.70" width="5.07" height="5.06" fill="#FFD700"/>
<rect x="99.92" y="613.70" width="5.07" height="5.06" fill="#E69A80"/>
<rect x="110.06" y="613.70" width="5.07" height="5.06" fill="#9044DE"/>
<rect x="115.14" y="613.70" width="5.07" height="5.06" fill="#BE76C2"/>
<rect x="120.21" y="613.70" width="5.07" height="5.06" fill="#BE76C2"/>
<rect x="125.28" y="613.70" width="5.07" height="5.06" fill="#BE76C2"/>
<rect x="130.35" y="613.70" width="5.07" height="5.06" fill="#BE76C2"/>
<rect x="140.50" y="613.70" width="5.07" height="5.06" fill="#E69A80"/>
<rect x="145.57" y="613.70" width="5.07" height="5.06" fill="#A666CE"/>
<rect x="150.64" y="613.70" width="5.07" height="5.06" fill="#FFD700"/>
<rect x="155.71" y="613.70" width="5.07" height="5.06" fill="#FFD700"/>
<rect x="165.86" y="613.70" width="5.07" height="5.06" fill="#BE76C2"/>
<rect x="170.93" y="613.70" width="5.07" height="5.06" fill="#E69A80"/>
<rect x="54.27" y="618.76" width="5.07" height="5.06" fill="#E69A80"/>
<rect x="59.34" y="618.76" width="5.07" height="5.06" fill="#FFD700"/>
<rect x="74.56" y="618.76" width="5.07" height="5.06" fill="#FFD700"/>
<rect x="79.63" y="618.76" width="5.07" height="5.06" fill="#FFD700"/>
<rect x="84.70" y="618.76" width="5.07" height="5.06" fill="#E69A80"/>
<rect x="94.85" y="618.76" width="5.07" height="5.06" fill="#E69A80"/>
<rect x="99.92" y="618.76" width="5.07" height="5.06" fill="#E69A80"/>
<rect x="110.06" y="618.76" width="5.07" height="5.06" fill="#E69A80"/>
<rect x="115.14" y="618.76" width="5.07" height="5.06" fill="#FFD700"/>
<rect x="125.28" y="618.76" width="5.07" height="5.06" fill="#FFD700"/>
<rect x="130.35" y="618.76" width="5.07" height="5.06" fill="#FFD700"/>
<rect x="140.50" y="618.76" width="5.07" height="5.06" fill="#FFD700"/>
<rect x="145.57" y="618.76" width="5.07" height="5.06" fill="#BE76C2"/>
<rect x="150.64" y="618.76" width="5.07" height="5.06" fill="#FFD700"/>
<rect x="165.86" y="618.76" width="5.07" height="5.06" fill="#E69A80"/>
<rect x="54.27" y="623.82" width="5.07" height="5.06" fill="#BE76C2"/>
<rect x="59.34" y="623.82" width="5.07" height="5.06" fill="#E69A80"/>
<rect x="64.42" y="623.82" width="5.07" height="5.06" fill="#FFD700"/>
<rect x="74.56" y="623.82" width="5.07" height="5.06" fill="#FFD700"/>
<rect x="79.63" y="623.82" width="5.07" height="5.06" fill="#FFD700"/>
<rect x="84.70" y="623.82" width="5.07" height="5.06" fill="#E69A80"/>
<rect x="89.78" y="623.82" width="5.07" height="5.06" fill="#FFD700"/>
<rect x="94.85" y="623.82" width="5.07" height="5.06" fill="#E69A80"/>
<rect x="99.92" y="623.82" width="5.07" height="5.06" fill="#E69A80"/>
<rect x="110.06" y="623.82" width="5.07" height="5.06" fill="#FFD700"/>
<rect x="115.14" y="623.82" width="5.07" height="5.06" fill="#FFD700"/>
<rect x="125.28" y="623.82" width="5.07" height="5.06" fill="#E69A80"/>
<rect x="130.35" y="623.82" width="5.07" height="5.06" fill="#E69A80"/>
<rect x="145.57" y="623.82" width="5.07" height="5.06" fill="#D67C9E"/>
<rect x="150.64" y="623.82" width="5.07" height="5.06" fill="#FFD700"/>
<rect x="165.86" y="623.82" width="5.07" height="5.06" fill="#D67C9E"/>
<rect x="49.20" y="628.88" width="5.07" height="5.06" fill="#FFD700"/>
<rect x="54.27" y="628.88" width="5.07" height="5.06" fill="#D67C9E"/>
<rect x="59.34" y="628.88" width="5.07" height="5.06" fill="#E69A80"/>
<rect x="79.63" y="628.88" width="5.07" height="5.06" fill="#E69A80"/>
<rect x="84.70" y="628.88" width="5.07" height="5.06" fill="#BE76C2"/>
<rect x="89.78" y="628.88" width="5.07" height="5.06" fill="#E69A80"/>
<rect x="94.85" y="628.88" width="5.07" height="5.06" fill="#E69A80"/>
<rect x="99.92" y="628.88" width="5.07" height="5.06" fill="#E69A80"/>
<rect x="110.06" y="628.88" width="5.07" height="5.06" fill="#FFD700"/>
<rect x="120.21" y="628.88" width="5.07" height="5.06" fill="#E69A80"/>
<rect x="125.28" y="628.88" width="5.07" height="5.06" fill="#E69A80"/>
<rect x="130.35" y="628.88" width="5.07" height="5.06" fill="#E69A80"/>
<rect x="145.57" y="628.88" width="5.07" height="5.06" fill="#D67C9E"/>
<rect x="150.64" y="628.88" width="5.07" height="5.06" fill="#E69A80"/>
<rect x="160.78" y="628.88" width="5.07" height="5.06" fill="#FFD700"/>
<rect x="165.86" y="628.88" width="5.07" height="5.06" fill="#BE76C2"/>
<rect x="49.20" y="633.94" width="5.07" height="5.06" fill="#FFD700"/>
<rect x="54.27" y="633.94" width="5.07" height="5.06" fill="#9044DE"/>
<rect x="59.34" y="633.94" width="5.07" height="5.06" fill="#9044DE"/>
<rect x="64.42" y="633.94" width="5.07" height="5.06" fill="#BE76C2"/>
<rect x="69.49" y="633.94" width="5.07" height="5.06" fill="#FFD700"/>
<rect x="74.56" y="633.94" width="5.07" height="5.06" fill="#E69A80"/>
<rect x="79.63" y="633.94" width="5.07" height="5.06" fill="#E69A80"/>
<rect x="84.70" y="633.94" width="5.07" height="5.06" fill="#9044DE"/>
<rect x="89.78" y="633.94" width="5.07" height="5.06" fill="#E69A80"/>
<rect x="94.85" y="633.94" width="5.07" height="5.06" fill="#BE76C2"/>
<rect x="99.92" y="633.94" width="5.07" height="5.06" fill="#BE76C2"/>
<rect x="110.06" y="633.94" width="5.07" height="5.06" fill="#A666CE"/>
<rect x="115.14" y="633.94" width="5.07" height="5.06" fill="#A666CE"/>
<rect x="120.21" y="633.94" width="5.07" height="5.06" fill="#A666CE"/>
<rect x="125.28" y="633.94" width="5.07" height="5.06" fill="#A666CE"/>
<rect x="130.35" y="633.94" width="5.07" height="5.06" fill="#9044DE"/>
<rect x="135.42" y="633.94" width="5.07" height="5.06" fill="#FFD700"/>
<rect x="140.50" y="633.94" width="5.07" height="5.06" fill="#E69A80"/>
<rect x="145.57" y="633.94" width="5.07" height="5.06" fill="#9044DE"/>
<rect x="150.64" y="633.94" width="5.07" height="5.06" fill="#E69A80"/>
<rect x="155.71" y="633.94" width="5.07" height="5.06" fill="#E69A80"/>
<rect x="160.78" y="633.94" width="5.07" height="5.06" fill="#E69A80"/>
<rect x="165.86" y="633.94" width="5.07" height="5.06" fill="#9044DE"/>
<rect x="54.27" y="639.00" width="5.07" height="5.06" fill="#E69A80"/>
<rect x="120.21" y="639.00" width="5.07" height="5.06" fill="#FFD700"/>
<rect x="130.35" y="639.00" width="5.07" height="5.06" fill="#FFD700"/>
<rect x="145.57" y="639.00" width="5.07" height="5.06" fill="#FFD700"/>
<rect x="150.64" y="639.00" width="5.07" height="5.06" fill="#FFD700"/>
<rect x="165.86" y="639.00" width="5.07" height="5.06" fill="#E69A80"/>
<rect x="54.27" y="644.06" width="5.07" height="5.06" fill="#E69A80"/>
<rect x="59.34" y="644.06" width="5.07" height="5.06" fill="#E69A80"/>
<rect x="74.56" y="644.06" width="5.07" height="5.06" fill="#FFD700"/>
<rect x="79.63" y="644.06" width="5.07" height="5.06" fill="#FFD700"/>
<rect x="84.70" y="644.06" width="5.07" height="5.06" fill="#FFD700"/>
<rect x="94.85" y="644.06" width="5.07" height="5.06" fill="#E69A80"/>
<rect x="99.92" y="644.06" width="5.07" height="5.06" fill="#E69A80"/>
<rect x="110.06" y="644.06" width="5.07" height="5.06" fill="#FFD700"/>
<rect x="120.21" y="644.06" width="5.07" height="5.06" fill="#E69A80"/>
<rect x="130.35" y="644.06" width="5.07" height="5.06" fill="#E69A80"/>
<rect x="140.50" y="644.06" width="5.07" height="5.06" fill="#FFD700"/>
<rect x="145.57" y="644.06" width="5.07" height="5.06" fill="#E69A80"/>
<rect x="150.64" y="644.06" width="5.07" height="5.06" fill="#E69A80"/>
<rect x="54.27" y="649.12" width="5.07" height="5.06" fill="#E69A80"/>
<rect x="64.42" y="649.12" width="5.07" height="5.06" fill="#E69A80"/>
<rect x="74.56" y="649.12" width="5.07" height="5.06" fill="#FFD700"/>
<rect x="94.85" y="649.12" width="5.07" height="5.06" fill="#E69A80"/>
<rect x="99.92" y="649.12" width="5.07" height="5.06" fill="#E69A80"/>
<rect x="110.06" y="649.12" width="5.07" height="5.06" fill="#E69A80"/>
<rect x="125.28" y="649.12" width="5.07" height="5.06" fill="#F6A84C"/>
<rect x="130.35" y="649.12" width="5.07" height="5.06" fill="#FFD700"/>
<rect x="145.57" y="649.12" width="5.07" height="5.06" fill="#FFD700"/>
<rect x="155.71" y="649.12" width="5.07" height="5.06" fill="#FFD700"/>
<rect x="49.20" y="654.19" width="5.07" height="5.06" fill="#FFD700"/>
<rect x="54.27" y="654.19" width="5.07" height="5.06" fill="#E69A80"/>
<rect x="59.34" y="654.19" width="5.07" height="5.06" fill="#E69A80"/>
<rect x="64.42" y="654.19" width="5.07" height="5.06" fill="#BE76C2"/>
<rect x="74.56" y="654.19" width="5.07" height="5.06" fill="#E69A80"/>
<rect x="79.63" y="654.19" width="5.07" height="5.06" fill="#F6A84C"/>
<rect x="84.70" y="654.19" width="5.07" height="5.06" fill="#E69A80"/>
<rect x="89.78" y="654.19" width="5.07" height="5.06" fill="#E69A80"/>
<rect x="99.92" y="654.19" width="5.07" height="5.06" fill="#BE76C2"/>
<rect x="110.06" y="654.19" width="5.07" height="5.06" fill="#E69A80"/>
<rect x="115.14" y="654.19" width="5.07" height="5.06" fill="#E69A80"/>
<rect x="120.21" y="654.19" width="5.07" height="5.06" fill="#E69A80"/>
<rect x="125.28" y="654.19" width="5.07" height="5.06" fill="#D67C9E"/>
<rect x="130.35" y="654.19" width="5.07" height="5.06" fill="#E69A80"/>
<rect x="145.57" y="654.19" width="5.07" height="5.06" fill="#D67C9E"/>
<rect x="155.71" y="654.19" width="5.07" height="5.06" fill="#FFD700"/>
<rect x="165.86" y="654.19" width="5.07" height="5.06" fill="#E69A80"/>
<rect x="49.20" y="659.25" width="5.07" height="5.06" fill="#FFD700"/>
<rect x="54.27" y="659.25" width="5.07" height="5.06" fill="#FFD700"/>
<rect x="79.63" y="659.25" width="5.07" height="5.06" fill="#FFD700"/>
<rect x="84.70" y="659.25" width="5.07" height="5.06" fill="#FFD700"/>
<rect x="89.78" y="659.25" width="5.07" height="5.06" fill="#FFD700"/>
<rect x="99.92" y="659.25" width="5.07" height="5.06" fill="#FFD700"/>
<rect x="110.06" y="659.25" width="5.07" height="5.06" fill="#FFD700"/>
<rect x="120.21" y="659.25" width="5.07" height="5.06" fill="#E69A80"/>
<rect x="140.50" y="659.25" width="5.07" height="5.06" fill="#D67C9E"/>
<rect x="150.64" y="659.25" width="5.07" height="5.06" fill="#FFD700"/>
<rect x="165.86" y="659.25" width="5.07" height="5.06" fill="#E69A80"/>
<rect x="49.20" y="664.31" width="5.07" height="5.06" fill="#E69A80"/>
<rect x="54.27" y="664.31" width="5.07" height="5.06" fill="#BE76C2"/>
<rect x="59.34" y="664.31" width="5.07" height="5.06" fill="#A666CE"/>
<rect x="64.42" y="664.31" width="5.07" height="5.06" fill="#BE76C2"/>
<rect x="69.49" y="664.31" width="5.07" height="5.06" fill="#FFD700"/>
<rect x="74.56" y="664.31" width="5.07" height="5.06" fill="#E69A80"/>
<rect x="79.63" y="664.31" width="5.07" height="5.06" fill="#FFD700"/>
<rect x="84.70" y="664.31" width="5.07" height="5.06" fill="#A666CE"/>
<rect x="89.78" y="664.31" width="5.07" height="5.06" fill="#FFD700"/>
<rect x="94.85" y="664.31" width="5.07" height="5.06" fill="#E69A80"/>
<rect x="99.92" y="664.31" width="5.07" height="5.06" fill="#9044DE"/>
<rect x="104.99" y="664.31" width="5.07" height="5.06" fill="#E69A80"/>
<rect x="110.06" y="664.31" width="5.07" height="5.06" fill="#BE76C2"/>
<rect x="115.14" y="664.31" width="5.07" height="5.06" fill="#BE76C2"/>
<rect x="120.21" y="664.31" width="5.07" height="5.06" fill="#BE76C2"/>
<rect x="125.28" y="664.31" width="5.07" height="5.06" fill="#E69A80"/>
<rect x="130.35" y="664.31" width="5.07" height="5.06" fill="#9044DE"/>
<rect x="140.50" y="664.31" width="5.07" height="5.06" fill="#E69A80"/>
<rect x="145.57" y="664.31" width="5.07" height="5.06" fill="#9044DE"/>
<rect x="150.64" y="664.31" width="5.07" height="5.06" fill="#E69A80"/>
<rect x="155.71" y="664.31" width="5.07" height="5.06" fill="#E69A80"/>
<rect x="160.78" y="664.31" width="5.07" height="5.06" fill="#F6A84C"/>
<rect x="165.86" y="664.31" width="5.07" height="5.06" fill="#A666CE"/>
<rect x="170.93" y="664.31" width="5.07" height="5.06" fill="#FFD700"/>
<rect x="54.27" y="669.37" width="5.07" height="5.06" fill="#E69A80"/>
<rect x="59.34" y="669.37" width="5.07" height="5.06" fill="#E69A80"/>
<rect x="64.42" y="669.37" width="5.07" height="5.06" fill="#FFD700"/>
<rect x="69.49" y="669.37" width="5.07" height="5.06" fill="#FFD700"/>
<rect x="74.56" y="669.37" width="5.07" height="5.06" fill="#FFD700"/>
<rect x="79.63" y="669.37" width="5.07" height="5.06" fill="#FFD700"/>
<rect x="84.70" y="669.37" width="5.07" height="5.06" fill="#FFD700"/>
<rect x="94.85" y="669.37" width="5.07" height="5.06" fill="#E69A80"/>
<rect x="99.92" y="669.37" width="5.07" height="5.06" fill="#E69A80"/>
<rect x="110.06" y="669.37" width="5.07" height="5.06" fill="#E69A80"/>
<rect x="115.14" y="669.37" width="5.07" height="5.06" fill="#FFD700"/>
<rect x="125.28" y="669.37" width="5.07" height="5.06" fill="#A666CE"/>
<rect x="130.35" y="669.37" width="5.07" height="5.06" fill="#FFD700"/>
<rect x="140.50" y="669.37" width="5.07" height="5.06" fill="#E69A80"/>
<rect x="145.57" y="669.37" width="5.07" height="5.06" fill="#BE76C2"/>
<rect x="150.64" y="669.37" width="5.07" height="5.06" fill="#FFD700"/>
<rect x="155.71" y="669.37" width="5.07" height="5.06" fill="#E69A80"/>
<rect x="165.86" y="669.37" width="5.07" height="5.06" fill="#E69A80"/>
<rect x="165.86" y="674.43" width="5.07" height="5.06" fill="#E69A80"/>
<rect x="64.42" y="679.49" width="5.07" height="5.06" fill="#E69A80"/>
<rect x="74.56" y="679.49" width="5.07" height="5.06" fill="#FFD700"/>
<rect x="84.70" y="679.49" width="5.07" height="5.06" fill="#E69A80"/>
<rect x="94.85" y="679.49" width="5.07" height="5.06" fill="#FFD700"/>
<rect x="99.92" y="679.49" width="5.07" height="5.06" fill="#E69A80"/>
<rect x="115.14" y="679.49" width="5.07" height="5.06" fill="#FFD700"/>
<rect x="120.21" y="679.49" width="5.07" height="5.06" fill="#FFD700"/>
<rect x="145.57" y="679.49" width="5.07" height="5.06" fill="#E69A80"/>
<rect x="155.71" y="679.49" width="5.07" height="5.06" fill="#FFD700"/>
<rect x="170.93" y="679.49" width="5.07" height="5.06" fill="#FFD700"/>
<rect x="49.20" y="684.55" width="5.07" height="5.06" fill="#FFD700"/>
<rect x="54.27" y="684.55" width="5.07" height="5.06" fill="#A666CE"/>
<rect x="59.34" y="684.55" width="5.07" height="5.06" fill="#A666CE"/>
<rect x="64.42" y="684.55" width="5.07" height="5.06" fill="#E69A80"/>
<rect x="69.49" y="684.55" width="5.07" height="5.06" fill="#FFD700"/>
<rect x="74.56" y="684.55" width="5.07" height="5.06" fill="#E69A80"/>
<rect x="84.70" y="684.55" width="5.07" height="5.06" fill="#9044DE"/>
<rect x="89.78" y="684.55" width="5.07" height="5.06" fill="#FFD700"/>
<rect x="94.85" y="684.55" width="5.07" height="5.06" fill="#A666CE"/>
<rect x="99.92" y="684.55" width="5.07" height="5.06" fill="#E69A80"/>
<rect x="104.99" y="684.55" width="5.07" height="5.06" fill="#FFD700"/>
<rect x="110.06" y="684.55" width="5.07" height="5.06" fill="#BE76C2"/>
<rect x="115.14" y="684.55" width="5.07" height="5.06" fill="#BE76C2"/>
<rect x="120.21" y="684.55" width="5.07" height="5.06" fill="#BE76C2"/>
<rect x="125.28" y="684.55" width="5.07" height="5.06" fill="#E69A80"/>
<rect x="130.35" y="684.55" width="5.07" height="5.06" fill="#BE76C2"/>
<rect x="145.57" y="684.55" width="5.07" height="5.06" fill="#A666CE"/>
<rect x="150.64" y="684.55" width="5.07" height="5.06" fill="#E69A80"/>
<rect x="155.71" y="684.55" width="5.07" height="5.06" fill="#E69A80"/>
<rect x="160.78" y="684.55" width="5.07" height="5.06" fill="#FFD700"/>
<rect x="165.86" y="684.55" width="5.07" height="5.06" fill="#F6A84C"/>
<rect x="170.93" y="684.55" width="5.07" height="5.06" fill="#FFD700"/>
<rect x="120.21" y="689.61" width="5.07" height="5.06" fill="#FFD700"/>
<rect x="125.28" y="689.61" width="5.07" height="5.06" fill="#FFD700"/>
<rect x="49.20" y="694.67" width="5.07" height="5.06" fill="#FFD700"/>
<rect x="54.27" y="694.67" width="5.07" height="5.06" fill="#9044DE"/>
<rect x="59.34" y="694.67" width="5.07" height="5.06" fill="#A666CE"/>
<rect x="64.42" y="694.67" width="5.07" height="5.06" fill="#BE76C2"/>
<rect x="69.49" y="694.67" width="5.07" height="5.06" fill="#FFD700"/>
<rect x="74.56" y="694.67" width="5.07" height="5.06" fill="#FFD700"/>
<rect x="79.63" y="694.67" width="5.07" height="5.06" fill="#FFD700"/>
<rect x="84.70" y="694.67" width="5.07" height="5.06" fill="#6A30E6"/>
<rect x="94.85" y="694.67" width="5.07" height="5.06" fill="#E69A80"/>
<rect x="99.92" y="694.67" width="5.07" height="5.06" fill="#BE76C2"/>
<rect x="110.06" y="694.67" width="5.07" height="5.06" fill="#A666CE"/>
<rect x="115.14" y="694.67" width="5.07" height="5.06" fill="#A666CE"/>
<rect x="120.21" y="694.67" width="5.07" height="5.06" fill="#BE76C2"/>
<rect x="125.28" y="694.67" width="5.07" height="5.06" fill="#BE76C2"/>
<rect x="130.35" y="694.67" width="5.07" height="5.06" fill="#E69A80"/>
<rect x="135.42" y="694.67" width="5.07" height="5.06" fill="#FFD700"/>
<rect x="140.50" y="694.67" width="5.07" height="5.06" fill="#E69A80"/>
<rect x="145.57" y="694.67" width="5.07" height="5.06" fill="#9044DE"/>
<rect x="150.64" y="694.67" width="5.07" height="5.06" fill="#BE76C2"/>
<rect x="155.71" y="694.67" width="5.07" height="5.06" fill="#E69A80"/>
<rect x="165.86" y="694.67" width="5.07" height="5.06" fill="#A666CE"/>
<rect x="54.27" y="699.73" width="5.07" height="5.06" fill="#E69A80"/>
<rect x="59.34" y="699.73" width="5.07" height="5.06" fill="#D67C9E"/>
<rect x="64.42" y="699.73" width="5.07" height="5.06" fill="#FFD700"/>
<rect x="69.49" y="699.73" width="5.07" height="5.06" fill="#FFD700"/>
<rect x="84.70" y="699.73" width="5.07" height="5.06" fill="#E69A80"/>
<rect x="99.92" y="699.73" width="5.07" height="5.06" fill="#E69A80"/>
<rect x="104.99" y="699.73" width="5.07" height="5.06" fill="#E69A80"/>
<rect x="120.21" y="699.73" width="5.07" height="5.06" fill="#FFD700"/>
<rect x="125.28" y="699.73" width="5.07" height="5.06" fill="#FFD700"/>
<rect x="130.35" y="699.73" width="5.07" height="5.06" fill="#E69A80"/>
<rect x="140.50" y="699.73" width="5.07" height="5.06" fill="#FFD700"/>
<rect x="145.57" y="699.73" width="5.07" height="5.06" fill="#E69A80"/>
<rect x="150.64" y="699.73" width="5.07" height="5.06" fill="#E69A80"/>
<rect x="155.71" y="699.73" width="5.07" height="5.06" fill="#FFD700"/>
<rect x="165.86" y="699.73" width="5.07" height="5.06" fill="#E69A80"/>
<rect x="170.93" y="699.73" width="5.07" height="5.06" fill="#FFD700"/>
<rect x="49.20" y="704.79" width="5.07" height="5.06" fill="#E69A80"/>
<rect x="54.27" y="704.79" width="5.07" height="5.06" fill="#BE76C2"/>
<rect x="59.34" y="704.79" width="5.07" height="5.06" fill="#E69A80"/>
<rect x="64.42" y="704.79" width="5.07" height="5.06" fill="#FFD700"/>
<rect x="69.49" y="704.79" width="5.07" height="5.06" fill="#FFD700"/>
<rect x="79.63" y="704.79" width="5.07" height="5.06" fill="#E69A80"/>
<rect x="84.70" y="704.79" width="5.07" height="5.06" fill="#FFD700"/>
<rect x="94.85" y="704.79" width="5.07" height="5.06" fill="#FFD700"/>
<rect x="99.92" y="704.79" width="5.07" height="5.06" fill="#FFD700"/>
<rect x="110.06" y="704.79" width="5.07" height="5.06" fill="#E69A80"/>
<rect x="115.14" y="704.79" width="5.07" height="5.06" fill="#E69A80"/>
<rect x="120.21" y="704.79" width="5.07" height="5.06" fill="#FFD700"/>
<rect x="125.28" y="704.79" width="5.07" height="5.06" fill="#E69A80"/>
<rect x="145.57" y="704.79" width="5.07" height="5.06" fill="#BE76C2"/>
<rect x="150.64" y="704.79" width="5.07" height="5.06" fill="#FFD700"/>
<rect x="165.86" y="704.79" width="5.07" height="5.06" fill="#E69A80"/>
<rect x="170.93" y="704.79" width="5.07" height="5.06" fill="#FFD700"/>
<rect x="54.27" y="709.85" width="5.07" height="5.06" fill="#E69A80"/>
<rect x="64.42" y="709.85" width="5.07" height="5.06" fill="#FFD700"/>
<rect x="74.56" y="709.85" width="5.07" height="5.06" fill="#FFD700"/>
<rect x="79.63" y="709.85" width="5.07" height="5.06" fill="#FFD700"/>
<rect x="84.70" y="709.85" width="5.07" height="5.06" fill="#FFD700"/>
<rect x="89.78" y="709.85" width="5.07" height="5.06" fill="#FFD700"/>
<rect x="99.92" y="709.85" width="5.07" height="5.06" fill="#FFD700"/>
<rect x="110.06" y="709.85" width="5.07" height="5.06" fill="#FFD700"/>
<rect x="120.21" y="709.85" width="5.07" height="5.06" fill="#E69A80"/>
<rect x="130.35" y="709.85" width="5.07" height="5.06" fill="#FFD700"/>
<rect x="135.42" y="709.85" width="5.07" height="5.06" fill="#FFD700"/>
<rect x="140.50" y="709.85" width="5.07" height="5.06" fill="#FFD700"/>
<rect x="145.57" y="709.85" width="5.07" height="5.06" fill="#E69A80"/>
<rect x="155.71" y="709.85" width="5.07" height="5.06" fill="#FFD700"/>
<rect x="165.86" y="709.85" width="5.07" height="5.06" fill="#E69A80"/>
<rect x="49.20" y="714.91" width="5.07" height="5.06" fill="#FFD700"/>
<rect x="54.27" y="714.91" width="5.07" height="5.06" fill="#A666CE"/>
<rect x="59.34" y="714.91" width="5.07" height="5.06" fill="#A666CE"/>
<rect x="64.42" y="714.91" width="5.07" height="5.06" fill="#E69A80"/>
<rect x="69.49" y="714.91" width="5.07" height="5.06" fill="#FFD700"/>
<rect x="74.56" y="714.91" width="5.07" height="5.06" fill="#FFD700"/>
<rect x="84.70" y="714.91" width="5.07" height="5.06" fill="#E69A80"/>
<rect x="89.78" y="714.91" width="5.07" height="5.06" fill="#FFD700"/>
<rect x="94.85" y="714.91" width="5.07" height="5.06" fill="#E69A80"/>
<rect x="99.92" y="714.91" width="5.07" height="5.06" fill="#FFD700"/>
<rect x="110.06" y="714.91" width="5.07" height="5.06" fill="#E69A80"/>
<rect x="115.14" y="714.91" width="5.07" height="5.06" fill="#FFD700"/>
<rect x="120.21" y="714.91" width="5.07" height="5.06" fill="#E69A80"/>
<rect x="125.28" y="714.91" width="5.07" height="5.06" fill="#FFD700"/>
<rect x="130.35" y="714.91" width="5.07" height="5.06" fill="#E69A80"/>
<rect x="145.57" y="714.91" width="5.07" height="5.06" fill="#D67C9E"/>
<rect x="150.64" y="714.91" width="5.07" height="5.06" fill="#E69A80"/>
<rect x="155.71" y="714.91" width="5.07" height="5.06" fill="#FFD700"/>
<rect x="165.86" y="714.91" width="5.07" height="5.06" fill="#E69A80"/>
<rect x="170.93" y="714.91" width="5.07" height="5.06" fill="#FFD700"/>
<rect x="49.20" y="719.97" width="5.07" height="5.06" fill="#FFD700"/>
<rect x="54.27" y="719.97" width="5.07" height="5.06" fill="#A666CE"/>
<rect x="59.34" y="719.97" width="5.07" height="5.06" fill="#BE76C2"/>
<rect x="64.42" y="719.97" width="5.07" height="5.06" fill="#E69A80"/>
<rect x="69.49" y="719.97" width="5.07" height="5.06" fill="#FFD700"/>
<rect x="74.56" y="719.97" width="5.07" height="5.06" fill="#E69A80"/>
<rect x="84.70" y="719.97" width="5.07" height="5.06" fill="#BE76C2"/>
<rect x="89.78" y="719.97" width="5.07" height="5.06" fill="#FFD700"/>
<rect x="94.85" y="719.97" width="5.07" height="5.06" fill="#FFD700"/>
<rect x="99.92" y="719.97" width="5.07" height="5.06" fill="#E69A80"/>
<rect x="110.06" y="719.97" width="5.07" height="5.06" fill="#BE76C2"/>
<rect x="115.14" y="719.97" width="5.07" height="5.06" fill="#E69A80"/>
<rect x="120.21" y="719.97" width="5.07" height="5.06" fill="#E69A80"/>
<rect x="125.28" y="719.97" width="5.07" height="5.06" fill="#FFD700"/>
<rect x="130.35" y="719.97" width="5.07" height="5.06" fill="#BE76C2"/>
<rect x="140.50" y="719.97" width="5.07" height="5.06" fill="#E69A80"/>
<rect x="145.57" y="719.97" width="5.07" height="5.06" fill="#D67C9E"/>
<rect x="150.64" y="719.97" width="5.07" height="5.06" fill="#D67C9E"/>
<rect x="155.71" y="719.97" width="5.07" height="5.06" fill="#FFD700"/>
<rect x="165.86" y="719.97" width="5.07" height="5.06" fill="#E69A80"/>
<rect x="54.27" y="725.03" width="5.07" height="5.06" fill="#A666CE"/>
<rect x="59.34" y="725.03" width="5.07" height="5.06" fill="#BE76C2"/>
<rect x="64.42" y="725.03" width="5.07" height="5.06" fill="#BE76C2"/>
<rect x="79.63" y="725.03" width="5.07" height="5.06" fill="#E69A80"/>
<rect x="84.70" y="725.03" width="5.07" height="5.06" fill="#BE76C2"/>
<rect x="94.85" y="725.03" width="5.07" height="5.06" fill="#FFD700"/>
<rect x="99.92" y="725.03" width="5.07" height="5.06" fill="#A666CE"/>
<rect x="104.99" y="725.03" width="5.07" height="5.06" fill="#E69A80"/>
<rect x="110.06" y="725.03" width="5.07" height="5.06" fill="#E69A80"/>
<rect x="115.14" y="725.03" width="5.07" height="5.06" fill="#D67C9E"/>
<rect x="120.21" y="725.03" width="5.07" height="5.06" fill="#D67C9E"/>
<rect x="125.28" y="725.03" width="5.07" height="5.06" fill="#E69A80"/>
<rect x="130.35" y="725.03" width="5.07" height="5.06" fill="#E69A80"/>
<rect x="135.42" y="725.03" width="5.07" height="5.06" fill="#FFD700"/>
<rect x="145.57" y="725.03" width="5.07" height="5.06" fill="#D67C9E"/>
<rect x="150.64" y="725.03" width="5.07" height="5.06" fill="#D67C9E"/>
<rect x="155.71" y="725.03" width="5.07" height="5.06" fill="#E69A80"/>
<rect x="165.86" y="725.03" width="5.07" height="5.06" fill="#D67C9E"/>
<rect x="49.20" y="735.15" width="5.07" height="5.06" fill="#FFD700"/>
<rect x="54.27" y="735.15" width="5.07" height="5.06" fill="#E69A80"/>
<rect x="59.34" y="735.15" width="5.07" height="5.06" fill="#E69A80"/>
<rect x="74.56" y="735.15" width="5.07" height="5.06" fill="#FFD700"/>
<rect x="84.70" y="735.15" width="5.07" height="5.06" fill="#FFD700"/>
<rect x="94.85" y="735.15" width="5.07" height="5.06" fill="#FFD700"/>
<rect x="104.99" y="735.15" width="5.07" height="5.06" fill="#FFD700"/>
<rect x="110.06" y="735.15" width="5.07" height="5.06" fill="#FFD700"/>
<rect x="115.14" y="735.15" width="5.07" height="5.06" fill="#FFD700"/>
<rect x="120.21" y="735.15" width="5.07" height="5.06" fill="#FFD700"/>
<rect x="130.35" y="735.15" width="5.07" height="5.06" fill="#E69A80"/>
<rect x="49.20" y="740.21" width="5.07" height="5.06" fill="#FFD700"/>
<rect x="54.27" y="740.21" width="5.07" height="5.06" fill="#E69A80"/>
<rect x="59.34" y="740.21" width="5.07" height="5.06" fill="#E69A80"/>
<rect x="64.42" y="740.21" width="5.07" height="5.06" fill="#E69A80"/>
<rect x="69.49" y="740.21" width="5.07" height="5.06" fill="#FFD700"/>
<rect x="79.63" y="740.21" width="5.07" height="5.06" fill="#E69A80"/>
<rect x="84.70" y="740.21" width="5.07" height="5.06" fill="#E69A80"/>
<rect x="94.85" y="740.21" width="5.07" height="5.06" fill="#E69A80"/>
<rect x="99.92" y="740.21" width="5.07" height="5.06" fill="#E69A80"/>
<rect x="110.06" y="740.21" width="5.07" height="5.06" fill="#E69A80"/>
<rect x="115.14" y="740.21" width="5.07" height="5.06" fill="#E69A80"/>
<rect x="120.21" y="740.21" width="5.07" height="5.06" fill="#FFD700"/>
<rect x="125.28" y="740.21" width="5.07" height="5.06" fill="#E69A80"/>
<rect x="145.57" y="740.21" width="5.07" height="5.06" fill="#D67C9E"/>
<rect x="155.71" y="740.21" width="5.07" height="5.06" fill="#E69A80"/>
<rect x="165.86" y="740.21" width="5.07" height="5.06" fill="#E69A80"/>
<rect x="49.20" y="745.27" width="5.07" height="5.06" fill="#E69A80"/>
<rect x="54.27" y="745.27" width="5.07" height="5.06" fill="#9044DE"/>
<rect x="59.34" y="745.27" width="5.07" height="5.06" fill="#6A30E6"/>
<rect x="64.42" y="745.27" width="5.07" height="5.06" fill="#A666CE"/>
<rect x="74.56" y="745.27" width="5.07" height="5.06" fill="#A666CE"/>
<rect x="79.63" y="745.27" width="5.07" height="5.06" fill="#E69A80"/>
<rect x="84.70" y="745.27" width="5.07" height="5.06" fill="#A666CE"/>
<rect x="89.78" y="745.27" width="5.07" height="5.06" fill="#E69A80"/>
<rect x="94.85" y="745.27" width="5.07" height="5.06" fill="#BE76C2"/>
<rect x="99.92" y="745.27" width="5.07" height="5.06" fill="#9044DE"/>
<rect x="104.99" y="745.27" width="5.07" height="5.06" fill="#BE76C2"/>
<rect x="110.06" y="745.27" width="5.07" height="5.06" fill="#BE76C2"/>
<rect x="115.14" y="745.27" width="5.07" height="5.06" fill="#A666CE"/>
<rect x="120.21" y="745.27" width="5.07" height="5.06" fill="#A666CE"/>
<rect x="125.28" y="745.27" width="5.07" height="5.06" fill="#A666CE"/>
<rect x="130.35" y="745.27" width="5.07" height="5.06" fill="#9044DE"/>
<rect x="135.42" y="745.27" width="5.07" height="5.06" fill="#FFD700"/>
<rect x="140.50" y="745.27" width="5.07" height="5.06" fill="#A666CE"/>
<rect x="145.57" y="745.27" width="5.07" height="5.06" fill="#2A12EE"/>
<rect x="150.64" y="745.27" width="5.07" height="5.06" fill="#BE76C2"/>
<rect x="155.71" y="745.27" width="5.07" height="5.06" fill="#E69A80"/>
<rect x="160.78" y="745.27" width="5.07" height="5.06" fill="#BE76C2"/>
<rect x="165.86" y="745.27" width="5.07" height="5.06" fill="#9044DE"/>
<rect x="49.20" y="750.33" width="5.07" height="5.06" fill="#FFD700"/>
<rect x="54.27" y="750.33" width="5.07" height="5.06" fill="#A666CE"/>
<rect x="59.34" y="750.33" width="5.07" height="5.06" fill="#A666CE"/>
<rect x="64.42" y="750.33" width="5.07" height="5.06" fill="#BE76C2"/>
<rect x="69.49" y="750.33" width="5.07" height="5.06" fill="#E69A80"/>
<rect x="74.56" y="750.33" width="5.07" height="5.06" fill="#E69A80"/>
<rect x="79.63" y="750.33" width="5.07" height="5.06" fill="#FFD700"/>
<rect x="84.70" y="750.33" width="5.07" height="5.06" fill="#A666CE"/>
<rect x="89.78" y="750.33" width="5.07" height="5.06" fill="#FFD700"/>
<rect x="94.85" y="750.33" width="5.07" height="5.06" fill="#FFD700"/>
<rect x="99.92" y="750.33" width="5.07" height="5.06" fill="#A666CE"/>
<rect x="104.99" y="750.33" width="5.07" height="5.06" fill="#FFD700"/>
<rect x="110.06" y="750.33" width="5.07" height="5.06" fill="#BE76C2"/>
<rect x="115.14" y="750.33" width="5.07" height="5.06" fill="#E69A80"/>
<rect x="120.21" y="750.33" width="5.07" height="5.06" fill="#A666CE"/>
<rect x="125.28" y="750.33" width="5.07" height="5.06" fill="#A666CE"/>
<rect x="130.35" y="750.33" width="5.07" height="5.06" fill="#A666CE"/>
<rect x="135.42" y="750.33" width="5.07" height="5.06" fill="#FFD700"/>
<rect x="140.50" y="750.33" width="5.07" height="5.06" fill="#E69A80"/>
<rect x="145.57" y="750.33" width="5.07" height="5.06" fill="#9044DE"/>
<rect x="150.64" y="750.33" width="5.07" height="5.06" fill="#E69A80"/>
<rect x="155.71" y="750.33" width="5.07" height="5.06" fill="#BE76C2"/>
<rect x="160.78" y="750.33" width="5.07" height="5.06" fill="#A666CE"/>
<rect x="165.86" y="750.33" width="5.07" height="5.06" fill="#E69A80"/>
<rect x="170.93" y="750.33" width="5.07" height="5.06" fill="#FFD700"/>
<rect x="99.92" y="755.39" width="5.07" height="5.06" fill="#FFD700"/>
<rect x="54.27" y="760.45" width="5.07" height="5.06" fill="#BE76C2"/>
<rect x="59.34" y="760.45" width="5.07" height="5.06" fill="#E69A80"/>
<rect x="64.42" y="760.45" width="5.07" height="5.06" fill="#E69A80"/>
<rect x="69.49" y="760.45" width="5.07" height="5.06" fill="#FFD700"/>
<rect x="74.56" y="760.45" width="5.07" height="5.06" fill="#FFD700"/>
<rect x="79.63" y="760.45" width="5.07" height="5.06" fill="#E69A80"/>
<rect x="84.70" y="760.45" width="5.07" height="5.06" fill="#BE76C2"/>
<rect x="99.92" y="760.45" width="5.07" height="5.06" fill="#E69A80"/>
<rect x="104.99" y="760.45" width="5.07" height="5.06" fill="#FFD700"/>
<rect x="110.06" y="760.45" width="5.07" height="5.06" fill="#E69A80"/>
<rect x="115.14" y="760.45" width="5.07" height="5.06" fill="#E69A80"/>
<rect x="120.21" y="760.45" width="5.07" height="5.06" fill="#FFD700"/>
<rect x="125.28" y="760.45" width="5.07" height="5.06" fill="#FFD700"/>
<rect x="130.35" y="760.45" width="5.07" height="5.06" fill="#D67C9E"/>
<rect x="140.50" y="760.45" width="5.07" height="5.06" fill="#FFD700"/>
<rect x="145.57" y="760.45" width="5.07" height="5.06" fill="#D67C9E"/>
<rect x="150.64" y="760.45" width="5.07" height="5.06" fill="#E69A80"/>
<rect x="155.71" y="760.45" width="5.07" height="5.06" fill="#E69A80"/>
<rect x="165.86" y="760.45" width="5.07" height="5.06" fill="#BE76C2"/>
<rect x="54.27" y="765.51" width="5.07" height="5.06" fill="#E69A80"/>
<rect x="59.34" y="765.51" width="5.07" height="5.06" fill="#E69A80"/>
<rect x="64.42" y="765.51" width="5.07" height="5.06" fill="#FFD700"/>
<rect x="74.56" y="765.51" width="5.07" height="5.06" fill="#FFD700"/>
<rect x="84.70" y="765.51" width="5.07" height="5.06" fill="#E69A80"/>
<rect x="89.78" y="765.51" width="5.07" height="5.06" fill="#FFD700"/>
<rect x="99.92" y="765.51" width="5.07" height="5.06" fill="#E69A80"/>
<rect x="104.99" y="765.51" width="5.07" height="5.06" fill="#FFD700"/>
<rect x="115.14" y="765.51" width="5.07" height="5.06" fill="#E69A80"/>
<rect x="120.21" y="765.51" width="5.07" height="5.06" fill="#FFD700"/>
<rect x="125.28" y="765.51" width="5.07" height="5.06" fill="#E69A80"/>
<rect x="130.35" y="765.51" width="5.07" height="5.06" fill="#D67C9E"/>
<rect x="140.50" y="765.51" width="5.07" height="5.06" fill="#FFD700"/>
<rect x="150.64" y="765.51" width="5.07" height="5.06" fill="#E69A80"/>
<rect x="165.86" y="765.51" width="5.07" height="5.06" fill="#E69A80"/>
<rect x="49.20" y="770.57" width="5.07" height="5.06" fill="#FFD700"/>
<rect x="59.34" y="770.57" width="5.07" height="5.06" fill="#E69A80"/>
<rect x="79.63" y="770.57" width="5.07" height="5.06" fill="#FFD700"/>
<rect x="84.70" y="770.57" width="5.07" height="5.06" fill="#E69A80"/>
<rect x="89.78" y="770.57" width="5.07" height="5.06" fill="#E69A80"/>
<rect x="99.92" y="770.57" width="5.07" height="5.06" fill="#FFD700"/>
<rect x="104.99" y="770.57" width="5.07" height="5.06" fill="#FFD700"/>
<rect x="115.14" y="770.57" width="5.07" height="5.06" fill="#E69A80"/>
<rect x="130.35" y="770.57" width="5.07" height="5.06" fill="#E69A80"/>
<rect x="145.57" y="770.57" width="5.07" height="5.06" fill="#E69A80"/>
<rect x="150.64" y="770.57" width="5.07" height="5.06" fill="#FFD700"/>
<rect x="155.71" y="770.57" width="5.07" height="5.06" fill="#FFD700"/>
<rect x="165.86" y="770.57" width="5.07" height="5.06" fill="#FFD700"/>
<rect x="170.93" y="770.57" width="5.07" height="5.06" fill="#FFD700"/>
<rect x="49.20" y="775.64" width="5.07" height="5.06" fill="#FFD700"/>
<rect x="54.27" y="775.64" width="5.07" height="5.06" fill="#FFD700"/>
<rect x="59.34" y="775.64" width="5.07" height="5.06" fill="#E69A80"/>
<rect x="64.42" y="775.64" width="5.07" height="5.06" fill="#E69A80"/>
<rect x="69.49" y="775.64" width="5.07" height="5.06" fill="#E69A80"/>
<rect x="74.56" y="775.64" width="5.07" height="5.06" fill="#E69A80"/>
<rect x="84.70" y="775.64" width="5.07" height="5.06" fill="#A666CE"/>
<rect x="94.85" y="775.64" width="5.07" height="5.06" fill="#E69A80"/>
<rect x="99.92" y="775.64" width="5.07" height="5.06" fill="#E69A80"/>
<rect x="110.06" y="775.64" width="5.07" height="5.06" fill="#FFD700"/>
<rect x="115.14" y="775.64" width="5.07" height="5.06" fill="#FFD700"/>
<rect x="120.21" y="775.64" width="5.07" height="5.06" fill="#BE76C2"/>
<rect x="125.28" y="775.64" width="5.07" height="5.06" fill="#FFD700"/>
<rect x="130.35" y="775.64" width="5.07" height="5.06" fill="#E69A80"/>
<rect x="135.42" y="775.64" width="5.07" height="5.06" fill="#FFD700"/>
<rect x="140.50" y="775.64" width="5.07" height="5.06" fill="#E69A80"/>
<rect x="145.57" y="775.64" width="5.07" height="5.06" fill="#BE76C2"/>
<rect x="150.64" y="775.64" width="5.07" height="5.06" fill="#E69A80"/>
<rect x="155.71" y="775.64" width="5.07" height="5.06" fill="#E69A80"/>
<rect x="160.78" y="775.64" width="5.07" height="5.06" fill="#FFD700"/>
<rect x="165.86" y="775.64" width="5.07" height="5.06" fill="#E69A80"/>
<rect x="54.27" y="780.70" width="5.07" height="5.06" fill="#BE76C2"/>
<rect x="59.34" y="780.70" width="5.07" height="5.06" fill="#E69A80"/>
<rect x="69.49" y="780.70" width="5.07" height="5.06" fill="#E69A80"/>
<rect x="74.56" y="780.70" width="5.07" height="5.06" fill="#FFD700"/>
<rect x="84.70" y="780.70" width="5.07" height="5.06" fill="#BE76C2"/>
<rect x="89.78" y="780.70" width="5.07" height="5.06" fill="#FFD700"/>
<rect x="94.85" y="780.70" width="5.07" height="5.06" fill="#FFD700"/>
<rect x="99.92" y="780.70" width="5.07" height="5.06" fill="#A666CE"/>
<rect x="110.06" y="780.70" width="5.07" height="5.06" fill="#E69A80"/>
<rect x="115.14" y="780.70" width="5.07" height="5.06" fill="#FFD700"/>
<rect x="120.21" y="780.70" width="5.07" height="5.06" fill="#E69A80"/>
<rect x="125.28" y="780.70" width="5.07" height="5.06" fill="#FFD700"/>
<rect x="130.35" y="780.70" width="5.07" height="5.06" fill="#E69A80"/>
<rect x="135.42" y="780.70" width="5.07" height="5.06" fill="#FFD700"/>
<rect x="145.57" y="780.70" width="5.07" height="5.06" fill="#E69A80"/>
<rect x="155.71" y="780.70" width="5.07" height="5.06" fill="#E69A80"/>
<rect x="160.78" y="780.70" width="5.07" height="5.06" fill="#FFD700"/>
<rect x="165.86" y="780.70" width="5.07" height="5.06" fill="#E69A80"/>
<rect x="54.27" y="785.76" width="5.07" height="5.06" fill="#FFD700"/>
<rect x="59.34" y="785.76" width="5.07" height="5.06" fill="#BE76C2"/>
<rect x="69.49" y="785.76" width="5.07" height="5.06" fill="#FFD700"/>
<rect x="99.92" y="785.76" width="5.07" height="5.06" fill="#FFD700"/>
<rect x="110.06" y="785.76" width="5.07" height="5.06" fill="#E69A80"/>
<rect x="115.14" y="785.76" width="5.07" height="5.06" fill="#FFD700"/>
<rect x="125.28" y="785.76" width="5.07" height="5.06" fill="#FFD700"/>
<rect x="145.57" y="785.76" width="5.07" height="5.06" fill="#FFD700"/>
<rect x="150.64" y="785.76" width="5.07" height="5.06" fill="#FFD700"/>
<rect x="155.71" y="785.76" width="5.07" height="5.06" fill="#BE76C2"/>
<rect x="165.86" y="785.76" width="5.07" height="5.06" fill="#E69A80"/>
<rect x="49.20" y="790.82" width="5.07" height="5.06" fill="#FFD700"/>
<rect x="54.27" y="790.82" width="5.07" height="5.06" fill="#E69A80"/>
<rect x="59.34" y="790.82" width="5.07" height="5.06" fill="#BE76C2"/>
<rect x="64.42" y="790.82" width="5.07" height="5.06" fill="#FFD700"/>
<rect x="84.70" y="790.82" width="5.07" height="5.06" fill="#E69A80"/>
<rect x="94.85" y="790.82" width="5.07" height="5.06" fill="#E69A80"/>
<rect x="99.92" y="790.82" width="5.07" height="5.06" fill="#E69A80"/>
<rect x="110.06" y="790.82" width="5.07" height="5.06" fill="#FFD700"/>
<rect x="115.14" y="790.82" width="5.07" height="5.06" fill="#FFD700"/>
<rect x="120.21" y="790.82" width="5.07" height="5.06" fill="#E69A80"/>
<rect x="125.28" y="790.82" width="5.07" height="5.06" fill="#E69A80"/>
<rect x="130.35" y="790.82" width="5.07" height="5.06" fill="#E69A80"/>
<rect x="145.57" y="790.82" width="5.07" height="5.06" fill="#E69A80"/>
<rect x="155.71" y="790.82" width="5.07" height="5.06" fill="#FFD700"/>
<rect x="165.86" y="790.82" width="5.07" height="5.06" fill="#E69A80"/>
<rect x="69.49" y="795.88" width="5.07" height="5.06" fill="#E69A80"/>
<rect x="84.70" y="795.88" width="5.07" height="5.06" fill="#E69A80"/>
<rect x="94.85" y="795.88" width="5.07" height="5.06" fill="#FFD700"/>
<rect x="99.92" y="795.88" width="5.07" height="5.06" fill="#FFD700"/>
<rect x="115.14" y="795.88" width="5.07" height="5.06" fill="#FFD700"/>
<rect x="120.21" y="795.88" width="5.07" height="5.06" fill="#E69A80"/>
<rect x="145.57" y="795.88" width="5.07" height="5.06" fill="#E69A80"/>
<rect x="155.71" y="795.88" width="5.07" height="5.06" fill="#FFD700"/>
<rect x="165.86" y="795.88" width="5.07" height="5.06" fill="#E69A80"/>
<rect x="54.27" y="806.00" width="5.07" height="5.06" fill="#A666CE"/>
<rect x="59.34" y="806.00" width="5.07" height="5.06" fill="#BE76C2"/>
<rect x="64.42" y="806.00" width="5.07" height="5.06" fill="#E69A80"/>
<rect x="69.49" y="806.00" width="5.07" height="5.06" fill="#FFD700"/>
<rect x="74.56" y="806.00" width="5.07" height="5.06" fill="#FFD700"/>
<rect x="79.63" y="806.00" width="5.07" height="5.06" fill="#E69A80"/>
<rect x="84.70" y="806.00" width="5.07" height="5.06" fill="#A666CE"/>
<rect x="89.78" y="806.00" width="5.07" height="5.06" fill="#FFD700"/>
<rect x="94.85" y="806.00" width="5.07" height="5.06" fill="#BE76C2"/>
<rect x="99.92" y="806.00" width="5.07" height="5.06" fill="#E69A80"/>
<rect x="104.99" y="806.00" width="5.07" height="5.06" fill="#FFD700"/>
<rect x="110.06" y="806.00" width="5.07" height="5.06" fill="#BE76C2"/>
<rect x="115.14" y="806.00" width="5.07" height="5.06" fill="#D67C9E"/>
<rect x="120.21" y="806.00" width="5.07" height="5.06" fill="#BE76C2"/>
<rect x="125.28" y="806.00" width="5.07" height="5.06" fill="#BE76C2"/>
<rect x="130.35" y="806.00" width="5.07" height="5.06" fill="#BE76C2"/>
<rect x="135.42" y="806.00" width="5.07" height="5.06" fill="#FFD700"/>
<rect x="145.57" y="806.00" width="5.07" height="5.06" fill="#A666CE"/>
<rect x="150.64" y="806.00" width="5.07" height="5.06" fill="#E69A80"/>
<rect x="155.71" y="806.00" width="5.07" height="5.06" fill="#FFD700"/>
<rect x="165.86" y="806.00" width="5.07" height="5.06" fill="#E69A80"/>
<rect x="170.93" y="806.00" width="5.07" height="5.06" fill="#FFD700"/>
<rect x="49.20" y="811.06" width="5.07" height="5.06" fill="#E69A80"/>
<rect x="54.27" y="811.06" width="5.07" height="5.06" fill="#BE76C2"/>
<rect x="59.34" y="811.06" width="5.07" height="5.06" fill="#E69A80"/>
<rect x="64.42" y="811.06" width="5.07" height="5.06" fill="#E69A80"/>
<rect x="69.49" y="811.06" width="5.07" height="5.06" fill="#FFD700"/>
<rect x="74.56" y="811.06" width="5.07" height="5.06" fill="#FFD700"/>
<rect x="84.70" y="811.06" width="5.07" height="5.06" fill="#E69A80"/>
<rect x="94.85" y="811.06" width="5.07" height="5.06" fill="#BE76C2"/>
<rect x="99.92" y="811.06" width="5.07" height="5.06" fill="#E69A80"/>
<rect x="104.99" y="811.06" width="5.07" height="5.06" fill="#FFD700"/>
<rect x="110.06" y="811.06" width="5.07" height="5.06" fill="#BE76C2"/>
<rect x="115.14" y="811.06" width="5.07" height="5.06" fill="#FFD700"/>
<rect x="120.21" y="811.06" width="5.07" height="5.06" fill="#FFD700"/>
<rect x="125.28" y="811.06" width="5.07" height="5.06" fill="#E69A80"/>
<rect x="130.35" y="811.06" width="5.07" height="5.06" fill="#E69A80"/>
<rect x="140.50" y="811.06" width="5.07" height="5.06" fill="#FFD700"/>
<rect x="145.57" y="811.06" width="5.07" height="5.06" fill="#A666CE"/>
<rect x="150.64" y="811.06" width="5.07" height="5.06" fill="#FFD700"/>
<rect x="155.71" y="811.06" width="5.07" height="5.06" fill="#FFD700"/>
<rect x="165.86" y="811.06" width="5.07" height="5.06" fill="#E69A80"/>
<rect x="54.27" y="816.12" width="5.07" height="5.06" fill="#E69A80"/>
<rect x="59.34" y="816.12" width="5.07" height="5.06" fill="#E69A80"/>
<rect x="64.42" y="816.12" width="5.07" height="5.06" fill="#FFD700"/>
<rect x="79.63" y="816.12" width="5.07" height="5.06" fill="#FFD700"/>
<rect x="84.70" y="816.12" width="5.07" height="5.06" fill="#E69A80"/>
<rect x="99.92" y="816.12" width="5.07" height="5.06" fill="#D67C9E"/>
<rect x="110.06" y="816.12" width="5.07" height="5.06" fill="#E69A80"/>
<rect x="115.14" y="816.12" width="5.07" height="5.06" fill="#E69A80"/>
<rect x="120.21" y="816.12" width="5.07" height="5.06" fill="#E69A80"/>
<rect x="130.35" y="816.12" width="5.07" height="5.06" fill="#E69A80"/>
<rect x="145.57" y="816.12" width="5.07" height="5.06" fill="#E69A80"/>
<rect x="155.71" y="816.12" width="5.07" height="5.06" fill="#E69A80"/>
<rect x="165.86" y="816.12" width="5.07" height="5.06" fill="#E69A80"/>
<rect x="49.20" y="821.18" width="5.07" height="5.06" fill="#E69A80"/>
<rect x="54.27" y="821.18" width="5.07" height="5.06" fill="#BE76C2"/>
<rect x="59.34" y="821.18" width="5.07" height="5.06" fill="#BE76C2"/>
<rect x="79.63" y="821.18" width="5.07" height="5.06" fill="#FFD700"/>
<rect x="84.70" y="821.18" width="5.07" height="5.06" fill="#A666CE"/>
<rect x="94.85" y="821.18" width="5.07" height="5.06" fill="#E69A80"/>
<rect x="99.92" y="821.18" width="5.07" height="5.06" fill="#E69A80"/>
<rect x="104.99" y="821.18" width="5.07" height="5.06" fill="#FFD700"/>
<rect x="110.06" y="821.18" width="5.07" height="5.06" fill="#BE76C2"/>
<rect x="115.14" y="821.18" width="5.07" height="5.06" fill="#BE76C2"/>
<rect x="120.21" y="821.18" width="5.07" height="5.06" fill="#FFD700"/>
<rect x="125.28" y="821.18" width="5.07" height="5.06" fill="#E69A80"/>
<rect x="130.35" y="821.18" width="5.07" height="5.06" fill="#BE76C2"/>
<rect x="135.42" y="821.18" width="5.07" height="5.06" fill="#FFD700"/>
<rect x="140.50" y="821.18" width="5.07" height="5.06" fill="#FFD700"/>
<rect x="145.57" y="821.18" width="5.07" height="5.06" fill="#BE76C2"/>
<rect x="155.71" y="821.18" width="5.07" height="5.06" fill="#E69A80"/>
<rect x="165.86" y="821.18" width="5.07" height="5.06" fill="#BE76C2"/>
<rect x="170.93" y="821.18" width="5.07" height="5.06" fill="#FFD700"/>
<rect x="54.27" y="826.24" width="5.07" height="5.06" fill="#FFD700"/>
<rect x="64.42" y="826.24" width="5.07" height="5.06" fill="#FFD700"/>
<rect x="69.49" y="826.24" width="5.07" height="5.06" fill="#E69A80"/>
<rect x="94.85" y="826.24" width="5.07" height="5.06" fill="#E69A80"/>
<rect x="99.92" y="826.24" width="5.07" height="5.06" fill="#FFD700"/>
<rect x="110.06" y="826.24" width="5.07" height="5.06" fill="#FFD700"/>
<rect x="115.14" y="826.24" width="5.07" height="5.06" fill="#FFD700"/>
<rect x="125.28" y="826.24" width="5.07" height="5.06" fill="#FFD700"/>
<rect x="130.35" y="826.24" width="5.07" height="5.06" fill="#FFD700"/>
<rect x="145.57" y="826.24" width="5.07" height="5.06" fill="#FFD700"/>
</g>
<line x1="49.20" x2="176.00" y1="588.40" y2="588.40" stroke="#dcdde2" stroke-width="0.6"/>
<line x1="49.20" x2="176.00" y1="831.30" y2="831.30" stroke="#bfc0c6" stroke-width="0.6"/>
<line x1="49.20" x2="49.20" y1="588.40" y2="831.30" stroke="#8a8e9a" stroke-width="0.9"/>
<line x1="176.00" x2="176.00" y1="588.40" y2="831.30" stroke="#8a8e9a" stroke-width="0.9"/>
<text x="44.20" y="593.13" class="vl">7-81</text>
<text x="44.20" y="598.19" class="vl">3-74</text>
<text x="44.20" y="603.25" class="vl">3-73</text>
<text x="44.20" y="608.31" class="vl">3-72</text>
<text x="44.20" y="613.37" class="vl">2-70</text>
<text x="44.20" y="618.43" class="vl">1-69</text>
<text x="44.20" y="623.49" class="vl">3-66</text>
<text x="44.20" y="628.55" class="vl">3-64</text>
<text x="44.20" y="633.61" class="vl">4-61</text>
<text x="44.20" y="638.67" class="vl">4-59</text>
<text x="44.20" y="643.73" class="vl">1-58</text>
<text x="44.20" y="648.79" class="vl">3-53</text>
<text x="44.20" y="653.86" class="vl">5-a</text>
<text x="44.20" y="658.92" class="vl">5-51</text>
<text x="44.20" y="663.98" class="vl">3-49</text>
<text x="44.20" y="669.04" class="vl">3-48</text>
<text x="44.20" y="674.10" class="vl">1-46</text>
<text x="44.20" y="679.16" class="vl">1-45</text>
<text x="44.20" y="684.22" class="vl">3-43</text>
<text x="44.20" y="689.28" class="vl">4-39</text>
<text x="44.20" y="694.34" class="vl">3-35</text>
<text x="44.20" y="699.40" class="vl">4-34</text>
<text x="44.20" y="704.46" class="vl">3-33</text>
<text x="44.20" y="709.52" class="vl">4-31</text>
<text x="44.20" y="714.58" class="vl">4-30-4</text>
<text x="44.20" y="719.64" class="vl">4-30-2</text>
<text x="44.20" y="724.70" class="vl">3-30-5</text>
<text x="44.20" y="729.76" class="vl">3-30</text>
<text x="44.20" y="734.82" class="vl">4-28</text>
<text x="44.20" y="739.88" class="vl">2-26</text>
<text x="44.20" y="744.94" class="vl">1-24</text>
<text x="44.20" y="750.00" class="vl">3-23</text>
<text x="44.20" y="755.06" class="vl">3-21</text>
<text x="44.20" y="760.12" class="vl">3-20</text>
<text x="44.20" y="765.18" class="vl">1-18</text>
<text x="44.20" y="770.24" class="vl">3-15</text>
<text x="44.20" y="775.31" class="vl">3-13</text>
<text x="44.20" y="780.37" class="vl">3-11</text>
<text x="44.20" y="785.43" class="vl">3-9</text>
<text x="44.20" y="790.49" class="vl">1-8</text>
<text x="44.20" y="795.55" class="vl">3-7</text>
<text x="44.20" y="800.61" class="vl">2-5</text>
<text x="44.20" y="805.67" class="vl">7-4-1</text>
<text x="44.20" y="810.73" class="vl">4-4</text>
<text x="44.20" y="815.79" class="vl">4-b</text>
<text x="44.20" y="820.85" class="vl">1-3</text>
<text x="44.20" y="825.91" class="vl">1-2</text>
<text x="44.20" y="830.97" class="vl">6-1</text>
<text transform="translate(53.14,834.00) rotate(-90)" class="dl">1-1</text>
<text transform="translate(58.21,834.00) rotate(-90)" class="dl">2-2</text>
<text transform="translate(63.28,834.00) rotate(-90)" class="dl">3-3</text>
<text transform="translate(68.35,834.00) rotate(-90)" class="dl">4-4</text>
<text transform="translate(73.42,834.00) rotate(-90)" class="dl">5-5</text>
<text transform="translate(78.50,834.00) rotate(-90)" class="dl">6-6</text>
<text transform="translate(83.57,834.00) rotate(-90)" class="dl">1-7</text>
<text transform="translate(88.64,834.00) rotate(-90)" class="dl">3-10</text>
<text transform="translate(93.71,834.00) rotate(-90)" class="dl">4-11</text>
<text transform="translate(98.78,834.00) rotate(-90)" class="dl">5-12</text>
<text transform="translate(103.86,834.00) rotate(-90)" class="dl">6-13</text>
<text transform="translate(108.93,834.00) rotate(-90)" class="dl">1-14</text>
<text transform="translate(114.00,834.00) rotate(-90)" class="dl">2-15</text>
<text transform="translate(119.07,834.00) rotate(-90)" class="dl">3-16</text>
<text transform="translate(124.14,834.00) rotate(-90)" class="dl">4-17</text>
<text transform="translate(129.22,834.00) rotate(-90)" class="dl">5-18</text>
<text transform="translate(134.29,834.00) rotate(-90)" class="dl">6-19</text>
<text transform="translate(139.36,834.00) rotate(-90)" class="dl">1-20</text>
<text transform="translate(144.43,834.00) rotate(-90)" class="dl">2-21</text>
<text transform="translate(149.50,834.00) rotate(-90)" class="dl">3-22</text>
<text transform="translate(154.58,834.00) rotate(-90)" class="dl">4-23</text>
<text transform="translate(159.65,834.00) rotate(-90)" class="dl">5-24</text>
<text transform="translate(164.72,834.00) rotate(-90)" class="dl">6-25</text>
<text transform="translate(169.79,834.00) rotate(-90)" class="dl">1-26</text>
<text transform="translate(174.86,834.00) rotate(-90)" class="dl">7-27</text>
<g filter="url(#bl)" shape-rendering="crispEdges">
<rect x="196.40" y="593.36" width="5.10" height="5.06" fill="#D67C9E"/>
<rect x="216.78" y="593.36" width="5.10" height="5.06" fill="#FFD700"/>
<rect x="221.88" y="593.36" width="5.10" height="5.06" fill="#FFD700"/>
<rect x="226.97" y="593.36" width="5.10" height="5.06" fill="#E69A80"/>
<rect x="232.07" y="593.36" width="5.10" height="5.06" fill="#FFD700"/>
<rect x="237.16" y="593.36" width="5.10" height="5.06" fill="#FFD700"/>
<rect x="242.26" y="593.36" width="5.10" height="5.06" fill="#E69A80"/>
<rect x="247.36" y="593.36" width="5.10" height="5.06" fill="#E69A80"/>
<rect x="252.45" y="593.36" width="5.10" height="5.06" fill="#E69A80"/>
<rect x="262.64" y="593.36" width="5.10" height="5.06" fill="#D67C9E"/>
<rect x="272.84" y="593.36" width="5.10" height="5.06" fill="#BE76C2"/>
<rect x="277.93" y="593.36" width="5.10" height="5.06" fill="#FFD700"/>
<rect x="283.03" y="593.36" width="5.10" height="5.06" fill="#FFD700"/>
<rect x="288.12" y="593.36" width="5.10" height="5.06" fill="#D67C9E"/>
<rect x="298.32" y="593.36" width="5.10" height="5.06" fill="#FFD700"/>
<rect x="308.51" y="593.36" width="5.10" height="5.06" fill="#BE76C2"/>
<rect x="313.60" y="593.36" width="5.10" height="5.06" fill="#FFD700"/>
<rect x="216.78" y="603.48" width="5.10" height="5.06" fill="#FFD700"/>
<rect x="257.55" y="603.48" width="5.10" height="5.06" fill="#E69A80"/>
<rect x="196.40" y="613.60" width="5.10" height="5.06" fill="#FFD700"/>
<rect x="201.49" y="613.60" width="5.10" height="5.06" fill="#E69A80"/>
<rect x="226.97" y="613.60" width="5.10" height="5.06" fill="#BE76C2"/>
<rect x="242.26" y="613.60" width="5.10" height="5.06" fill="#FFD700"/>
<rect x="252.45" y="613.60" width="5.10" height="5.06" fill="#FFD700"/>
<rect x="262.64" y="613.60" width="5.10" height="5.06" fill="#FFD700"/>
<rect x="277.93" y="613.60" width="5.10" height="5.06" fill="#F6A84C"/>
<rect x="283.03" y="613.60" width="5.10" height="5.06" fill="#FFD700"/>
<rect x="288.12" y="613.60" width="5.10" height="5.06" fill="#FFD700"/>
<rect x="298.32" y="613.60" width="5.10" height="5.06" fill="#FFD700"/>
<rect x="313.60" y="613.60" width="5.10" height="5.06" fill="#FFD700"/>
<rect x="196.40" y="618.66" width="5.10" height="5.06" fill="#D67C9E"/>
<rect x="201.49" y="618.66" width="5.10" height="5.06" fill="#FFD700"/>
<rect x="206.59" y="618.66" width="5.10" height="5.06" fill="#FFD700"/>
<rect x="221.88" y="618.66" width="5.10" height="5.06" fill="#E69A80"/>
<rect x="237.16" y="618.66" width="5.10" height="5.06" fill="#D67C9E"/>
<rect x="252.45" y="618.66" width="5.10" height="5.06" fill="#FFD700"/>
<rect x="272.84" y="618.66" width="5.10" height="5.06" fill="#E69A80"/>
<rect x="293.22" y="618.66" width="5.10" height="5.06" fill="#FFD700"/>
<rect x="298.32" y="618.66" width="5.10" height="5.06" fill="#E69A80"/>
<rect x="308.51" y="618.66" width="5.10" height="5.06" fill="#FFD700"/>
<rect x="196.40" y="623.72" width="5.10" height="5.06" fill="#FFD700"/>
<rect x="201.49" y="623.72" width="5.10" height="5.06" fill="#E69A80"/>
<rect x="226.97" y="623.72" width="5.10" height="5.06" fill="#D67C9E"/>
<rect x="232.07" y="623.72" width="5.10" height="5.06" fill="#FFD700"/>
<rect x="262.64" y="623.72" width="5.10" height="5.06" fill="#FFD700"/>
<rect x="272.84" y="623.72" width="5.10" height="5.06" fill="#E69A80"/>
<rect x="288.12" y="623.72" width="5.10" height="5.06" fill="#E69A80"/>
<rect x="293.22" y="623.72" width="5.10" height="5.06" fill="#FFD700"/>
<rect x="298.32" y="623.72" width="5.10" height="5.06" fill="#E69A80"/>
<rect x="313.60" y="623.72" width="5.10" height="5.06" fill="#FFD700"/>
<rect x="191.30" y="628.78" width="5.10" height="5.06" fill="#E69A80"/>
<rect x="196.40" y="628.78" width="5.10" height="5.06" fill="#F6A84C"/>
<rect x="201.49" y="628.78" width="5.10" height="5.06" fill="#FFD700"/>
<rect x="216.78" y="628.78" width="5.10" height="5.06" fill="#FFD700"/>
<rect x="221.88" y="628.78" width="5.10" height="5.06" fill="#E69A80"/>
<rect x="226.97" y="628.78" width="5.10" height="5.06" fill="#E69A80"/>
<rect x="232.07" y="628.78" width="5.10" height="5.06" fill="#FFD700"/>
<rect x="242.26" y="628.78" width="5.10" height="5.06" fill="#E69A80"/>
<rect x="262.64" y="628.78" width="5.10" height="5.06" fill="#E69A80"/>
<rect x="283.03" y="628.78" width="5.10" height="5.06" fill="#BE76C2"/>
<rect x="288.12" y="628.78" width="5.10" height="5.06" fill="#FFD700"/>
<rect x="298.32" y="628.78" width="5.10" height="5.06" fill="#FFD700"/>
<rect x="308.51" y="628.78" width="5.10" height="5.06" fill="#D67C9E"/>
<rect x="191.30" y="633.84" width="5.10" height="5.06" fill="#A666CE"/>
<rect x="196.40" y="633.84" width="5.10" height="5.06" fill="#BE76C2"/>
<rect x="201.49" y="633.84" width="5.10" height="5.06" fill="#E69A80"/>
<rect x="206.59" y="633.84" width="5.10" height="5.06" fill="#E69A80"/>
<rect x="216.78" y="633.84" width="5.10" height="5.06" fill="#A666CE"/>
<rect x="221.88" y="633.84" width="5.10" height="5.06" fill="#BE76C2"/>
<rect x="226.97" y="633.84" width="5.10" height="5.06" fill="#6A30E6"/>
<rect x="232.07" y="633.84" width="5.10" height="5.06" fill="#E69A80"/>
<rect x="237.16" y="633.84" width="5.10" height="5.06" fill="#FFD700"/>
<rect x="242.26" y="633.84" width="5.10" height="5.06" fill="#6A30E6"/>
<rect x="247.36" y="633.84" width="5.10" height="5.06" fill="#FFD700"/>
<rect x="252.45" y="633.84" width="5.10" height="5.06" fill="#BE76C2"/>
<rect x="257.55" y="633.84" width="5.10" height="5.06" fill="#D67C9E"/>
<rect x="262.64" y="633.84" width="5.10" height="5.06" fill="#E69A80"/>
<rect x="267.74" y="633.84" width="5.10" height="5.06" fill="#E69A80"/>
<rect x="272.84" y="633.84" width="5.10" height="5.06" fill="#D67C9E"/>
<rect x="277.93" y="633.84" width="5.10" height="5.06" fill="#FFD700"/>
<rect x="283.03" y="633.84" width="5.10" height="5.06" fill="#A666CE"/>
<rect x="288.12" y="633.84" width="5.10" height="5.06" fill="#BE76C2"/>
<rect x="293.22" y="633.84" width="5.10" height="5.06" fill="#D67C9E"/>
<rect x="298.32" y="633.84" width="5.10" height="5.06" fill="#E69A80"/>
<rect x="308.51" y="633.84" width="5.10" height="5.06" fill="#E69A80"/>
<rect x="313.60" y="633.84" width="5.10" height="5.06" fill="#FFD700"/>
<rect x="226.97" y="638.90" width="5.10" height="5.06" fill="#E69A80"/>
<rect x="272.84" y="638.90" width="5.10" height="5.06" fill="#D67C9E"/>
<rect x="196.40" y="643.96" width="5.10" height="5.06" fill="#E69A80"/>
<rect x="242.26" y="643.96" width="5.10" height="5.06" fill="#E69A80"/>
<rect x="252.45" y="643.96" width="5.10" height="5.06" fill="#FFD700"/>
<rect x="283.03" y="643.96" width="5.10" height="5.06" fill="#FFD700"/>
<rect x="288.12" y="643.96" width="5.10" height="5.06" fill="#FFD700"/>
<rect x="298.32" y="643.96" width="5.10" height="5.06" fill="#FFD700"/>
<rect x="216.78" y="649.02" width="5.10" height="5.06" fill="#F6A84C"/>
<rect x="221.88" y="649.02" width="5.10" height="5.06" fill="#F6A84C"/>
<rect x="226.97" y="649.02" width="5.10" height="5.06" fill="#F6A84C"/>
<rect x="237.16" y="649.02" width="5.10" height="5.06" fill="#E69A80"/>
<rect x="247.36" y="649.02" width="5.10" height="5.06" fill="#FFD700"/>
<rect x="272.84" y="649.02" width="5.10" height="5.06" fill="#E69A80"/>
<rect x="283.03" y="649.02" width="5.10" height="5.06" fill="#FFD700"/>
<rect x="288.12" y="649.02" width="5.10" height="5.06" fill="#FFD700"/>
<rect x="298.32" y="649.02" width="5.10" height="5.06" fill="#FFD700"/>
<rect x="196.40" y="654.09" width="5.10" height="5.06" fill="#FFD700"/>
<rect x="201.49" y="654.09" width="5.10" height="5.06" fill="#FFD700"/>
<rect x="206.59" y="654.09" width="5.10" height="5.06" fill="#FFD700"/>
<rect x="232.07" y="654.09" width="5.10" height="5.06" fill="#FFD700"/>
<rect x="237.16" y="654.09" width="5.10" height="5.06" fill="#FFD700"/>
<rect x="252.45" y="654.09" width="5.10" height="5.06" fill="#FFD700"/>
<rect x="257.55" y="654.09" width="5.10" height="5.06" fill="#E69A80"/>
<rect x="262.64" y="654.09" width="5.10" height="5.06" fill="#FFD700"/>
<rect x="288.12" y="654.09" width="5.10" height="5.06" fill="#E69A80"/>
<rect x="308.51" y="654.09" width="5.10" height="5.06" fill="#E69A80"/>
<rect x="221.88" y="659.15" width="5.10" height="5.06" fill="#FFD700"/>
<rect x="257.55" y="659.15" width="5.10" height="5.06" fill="#FFD700"/>
<rect x="272.84" y="659.15" width="5.10" height="5.06" fill="#FFD700"/>
<rect x="283.03" y="659.15" width="5.10" height="5.06" fill="#BE76C2"/>
<rect x="288.12" y="659.15" width="5.10" height="5.06" fill="#E69A80"/>
<rect x="196.40" y="664.21" width="5.10" height="5.06" fill="#F6A84C"/>
<rect x="201.49" y="664.21" width="5.10" height="5.06" fill="#F6A84C"/>
<rect x="206.59" y="664.21" width="5.10" height="5.06" fill="#FFD700"/>
<rect x="216.78" y="664.21" width="5.10" height="5.06" fill="#FFD700"/>
<rect x="226.97" y="664.21" width="5.10" height="5.06" fill="#D67C9E"/>
<rect x="237.16" y="664.21" width="5.10" height="5.06" fill="#BE76C2"/>
<rect x="247.36" y="664.21" width="5.10" height="5.06" fill="#E69A80"/>
<rect x="257.55" y="664.21" width="5.10" height="5.06" fill="#FFD700"/>
<rect x="267.74" y="664.21" width="5.10" height="5.06" fill="#E69A80"/>
<rect x="283.03" y="664.21" width="5.10" height="5.06" fill="#FFD700"/>
<rect x="288.12" y="664.21" width="5.10" height="5.06" fill="#E69A80"/>
<rect x="293.22" y="664.21" width="5.10" height="5.06" fill="#FFD700"/>
<rect x="298.32" y="664.21" width="5.10" height="5.06" fill="#FFD700"/>
<rect x="308.51" y="664.21" width="5.10" height="5.06" fill="#D67C9E"/>
<rect x="191.30" y="669.27" width="5.10" height="5.06" fill="#FFD700"/>
<rect x="196.40" y="669.27" width="5.10" height="5.06" fill="#FFD700"/>
<rect x="226.97" y="669.27" width="5.10" height="5.06" fill="#FFD700"/>
<rect x="242.26" y="669.27" width="5.10" height="5.06" fill="#E69A80"/>
<rect x="257.55" y="669.27" width="5.10" height="5.06" fill="#FFD700"/>
<rect x="262.64" y="669.27" width="5.10" height="5.06" fill="#FFD700"/>
<rect x="288.12" y="669.27" width="5.10" height="5.06" fill="#E69A80"/>
<rect x="293.22" y="669.27" width="5.10" height="5.06" fill="#FFD700"/>
<rect x="196.40" y="679.39" width="5.10" height="5.06" fill="#FFD700"/>
<rect x="272.84" y="679.39" width="5.10" height="5.06" fill="#E69A80"/>
<rect x="191.30" y="684.45" width="5.10" height="5.06" fill="#E69A80"/>
<rect x="196.40" y="684.45" width="5.10" height="5.06" fill="#D67C9E"/>
<rect x="201.49" y="684.45" width="5.10" height="5.06" fill="#FFD700"/>
<rect x="206.59" y="684.45" width="5.10" height="5.06" fill="#A666CE"/>
<rect x="216.78" y="684.45" width="5.10" height="5.06" fill="#E69A80"/>
<rect x="221.88" y="684.45" width="5.10" height="5.06" fill="#BE76C2"/>
<rect x="226.97" y="684.45" width="5.10" height="5.06" fill="#D67C9E"/>
<rect x="232.07" y="684.45" width="5.10" height="5.06" fill="#E69A80"/>
<rect x="242.26" y="684.45" width="5.10" height="5.06" fill="#E69A80"/>
<rect x="252.45" y="684.45" width="5.10" height="5.06" fill="#D67C9E"/>
<rect x="257.55" y="684.45" width="5.10" height="5.06" fill="#E69A80"/>
<rect x="262.64" y="684.45" width="5.10" height="5.06" fill="#E69A80"/>
<rect x="272.84" y="684.45" width="5.10" height="5.06" fill="#A666CE"/>
<rect x="283.03" y="684.45" width="5.10" height="5.06" fill="#E69A80"/>
<rect x="288.12" y="684.45" width="5.10" height="5.06" fill="#E69A80"/>
<rect x="308.51" y="684.45" width="5.10" height="5.06" fill="#FFD700"/>
<rect x="191.30" y="694.57" width="5.10" height="5.06" fill="#E69A80"/>
<rect x="196.40" y="694.57" width="5.10" height="5.06" fill="#D67C9E"/>
<rect x="201.49" y="694.57" width="5.10" height="5.06" fill="#D67C9E"/>
<rect x="206.59" y="694.57" width="5.10" height="5.06" fill="#FFD700"/>
<rect x="216.78" y="694.57" width="5.10" height="5.06" fill="#FFD700"/>
<rect x="221.88" y="694.57" width="5.10" height="5.06" fill="#BE76C2"/>
<rect x="226.97" y="694.57" width="5.10" height="5.06" fill="#D67C9E"/>
<rect x="237.16" y="694.57" width="5.10" height="5.06" fill="#FFD700"/>
<rect x="242.26" y="694.57" width="5.10" height="5.06" fill="#E69A80"/>
<rect x="252.45" y="694.57" width="5.10" height="5.06" fill="#E69A80"/>
<rect x="257.55" y="694.57" width="5.10" height="5.06" fill="#E69A80"/>
<rect x="262.64" y="694.57" width="5.10" height="5.06" fill="#E69A80"/>
<rect x="267.74" y="694.57" width="5.10" height="5.06" fill="#E69A80"/>
<rect x="272.84" y="694.57" width="5.10" height="5.06" fill="#FFD700"/>
<rect x="283.03" y="694.57" width="5.10" height="5.06" fill="#D67C9E"/>
<rect x="288.12" y="694.57" width="5.10" height="5.06" fill="#FFD700"/>
<rect x="298.32" y="694.57" width="5.10" height="5.06" fill="#FFD700"/>
<rect x="308.51" y="694.57" width="5.10" height="5.06" fill="#E69A80"/>
<rect x="196.40" y="699.63" width="5.10" height="5.06" fill="#D67C9E"/>
<rect x="201.49" y="699.63" width="5.10" height="5.06" fill="#D67C9E"/>
<rect x="206.59" y="699.63" width="5.10" height="5.06" fill="#FFD700"/>
<rect x="216.78" y="699.63" width="5.10" height="5.06" fill="#FFD700"/>
<rect x="226.97" y="699.63" width="5.10" height="5.06" fill="#E69A80"/>
<rect x="232.07" y="699.63" width="5.10" height="5.06" fill="#E69A80"/>
<rect x="237.16" y="699.63" width="5.10" height="5.06" fill="#E69A80"/>
<rect x="242.26" y="699.63" width="5.10" height="5.06" fill="#E69A80"/>
<rect x="252.45" y="699.63" width="5.10" height="5.06" fill="#E69A80"/>
<rect x="257.55" y="699.63" width="5.10" height="5.06" fill="#E69A80"/>
<rect x="262.64" y="699.63" width="5.10" height="5.06" fill="#D67C9E"/>
<rect x="272.84" y="699.63" width="5.10" height="5.06" fill="#D67C9E"/>
<rect x="277.93" y="699.63" width="5.10" height="5.06" fill="#FFD700"/>
<rect x="288.12" y="699.63" width="5.10" height="5.06" fill="#D67C9E"/>
<rect x="308.51" y="699.63" width="5.10" height="5.06" fill="#D67C9E"/>
<rect x="313.60" y="699.63" width="5.10" height="5.06" fill="#FFD700"/>
<rect x="191.30" y="704.69" width="5.10" height="5.06" fill="#FFD700"/>
<rect x="201.49" y="704.69" width="5.10" height="5.06" fill="#FFD700"/>
<rect x="221.88" y="704.69" width="5.10" height="5.06" fill="#E69A80"/>
<rect x="226.97" y="704.69" width="5.10" height="5.06" fill="#F6A84C"/>
<rect x="232.07" y="704.69" width="5.10" height="5.06" fill="#FFD700"/>
<rect x="242.26" y="704.69" width="5.10" height="5.06" fill="#FFD700"/>
<rect x="262.64" y="704.69" width="5.10" height="5.06" fill="#FFD700"/>
<rect x="283.03" y="704.69" width="5.10" height="5.06" fill="#FFD700"/>
<rect x="288.12" y="704.69" width="5.10" height="5.06" fill="#FFD700"/>
<rect x="308.51" y="704.69" width="5.10" height="5.06" fill="#E69A80"/>
<rect x="191.30" y="709.75" width="5.10" height="5.06" fill="#FFD700"/>
<rect x="196.40" y="709.75" width="5.10" height="5.06" fill="#FFD700"/>
<rect x="201.49" y="709.75" width="5.10" height="5.06" fill="#D67C9E"/>
<rect x="221.88" y="709.75" width="5.10" height="5.06" fill="#E69A80"/>
<rect x="257.55" y="709.75" width="5.10" height="5.06" fill="#E69A80"/>
<rect x="262.64" y="709.75" width="5.10" height="5.06" fill="#E69A80"/>
<rect x="272.84" y="709.75" width="5.10" height="5.06" fill="#FFD700"/>
<rect x="283.03" y="709.75" width="5.10" height="5.06" fill="#FFD700"/>
<rect x="288.12" y="709.75" width="5.10" height="5.06" fill="#E69A80"/>
<rect x="293.22" y="709.75" width="5.10" height="5.06" fill="#FFD700"/>
<rect x="298.32" y="709.75" width="5.10" height="5.06" fill="#FFD700"/>
<rect x="191.30" y="714.81" width="5.10" height="5.06" fill="#FFD700"/>
<rect x="196.40" y="714.81" width="5.10" height="5.06" fill="#FFD700"/>
<rect x="201.49" y="714.81" width="5.10" height="5.06" fill="#D67C9E"/>
<rect x="226.97" y="714.81" width="5.10" height="5.06" fill="#E69A80"/>
<rect x="262.64" y="714.81" width="5.10" height="5.06" fill="#FFD700"/>
<rect x="272.84" y="714.81" width="5.10" height="5.06" fill="#FFD700"/>
<rect x="277.93" y="714.81" width="5.10" height="5.06" fill="#FFD700"/>
<rect x="283.03" y="714.81" width="5.10" height="5.06" fill="#E69A80"/>
<rect x="288.12" y="714.81" width="5.10" height="5.06" fill="#FFD700"/>
<rect x="201.49" y="719.87" width="5.10" height="5.06" fill="#FFD700"/>
<rect x="206.59" y="719.87" width="5.10" height="5.06" fill="#FFD700"/>
<rect x="221.88" y="719.87" width="5.10" height="5.06" fill="#E69A80"/>
<rect x="226.97" y="719.87" width="5.10" height="5.06" fill="#D67C9E"/>
<rect x="232.07" y="719.87" width="5.10" height="5.06" fill="#FFD700"/>
<rect x="237.16" y="719.87" width="5.10" height="5.06" fill="#FFD700"/>
<rect x="242.26" y="719.87" width="5.10" height="5.06" fill="#F6A84C"/>
<rect x="247.36" y="719.87" width="5.10" height="5.06" fill="#FFD700"/>
<rect x="252.45" y="719.87" width="5.10" height="5.06" fill="#FFD700"/>
<rect x="272.84" y="719.87" width="5.10" height="5.06" fill="#FFD700"/>
<rect x="277.93" y="719.87" width="5.10" height="5.06" fill="#FFD700"/>
<rect x="283.03" y="719.87" width="5.10" height="5.06" fill="#FFD700"/>
<rect x="288.12" y="719.87" width="5.10" height="5.06" fill="#FFD700"/>
<rect x="308.51" y="719.87" width="5.10" height="5.06" fill="#F6A84C"/>
<rect x="313.60" y="719.87" width="5.10" height="5.06" fill="#F6A84C"/>
<rect x="196.40" y="724.93" width="5.10" height="5.06" fill="#A666CE"/>
<rect x="201.49" y="724.93" width="5.10" height="5.06" fill="#FFD700"/>
<rect x="216.78" y="724.93" width="5.10" height="5.06" fill="#D67C9E"/>
<rect x="221.88" y="724.93" width="5.10" height="5.06" fill="#E69A80"/>
<rect x="226.97" y="724.93" width="5.10" height="5.06" fill="#BE76C2"/>
<rect x="232.07" y="724.93" width="5.10" height="5.06" fill="#D67C9E"/>
<rect x="242.26" y="724.93" width="5.10" height="5.06" fill="#E69A80"/>
<rect x="247.36" y="724.93" width="5.10" height="5.06" fill="#E69A80"/>
<rect x="252.45" y="724.93" width="5.10" height="5.06" fill="#E69A80"/>
<rect x="257.55" y="724.93" width="5.10" height="5.06" fill="#E69A80"/>
<rect x="262.64" y="724.93" width="5.10" height="5.06" fill="#E69A80"/>
<rect x="267.74" y="724.93" width="5.10" height="5.06" fill="#BE76C2"/>
<rect x="272.84" y="724.93" width="5.10" height="5.06" fill="#E69A80"/>
<rect x="277.93" y="724.93" width="5.10" height="5.06" fill="#E69A80"/>
<rect x="283.03" y="724.93" width="5.10" height="5.06" fill="#BE76C2"/>
<rect x="288.12" y="724.93" width="5.10" height="5.06" fill="#E69A80"/>
<rect x="293.22" y="724.93" width="5.10" height="5.06" fill="#FFD700"/>
<rect x="308.51" y="724.93" width="5.10" height="5.06" fill="#D67C9E"/>
<rect x="216.78" y="729.99" width="5.10" height="5.06" fill="#FFD700"/>
<rect x="262.64" y="729.99" width="5.10" height="5.06" fill="#FFD700"/>
<rect x="196.40" y="740.11" width="5.10" height="5.06" fill="#FFD700"/>
<rect x="211.68" y="740.11" width="5.10" height="5.06" fill="#FFD700"/>
<rect x="226.97" y="740.11" width="5.10" height="5.06" fill="#E69A80"/>
<rect x="298.32" y="740.11" width="5.10" height="5.06" fill="#FFD700"/>
<rect x="191.30" y="745.17" width="5.10" height="5.06" fill="#E69A80"/>
<rect x="196.40" y="745.17" width="5.10" height="5.06" fill="#6A30E6"/>
<rect x="201.49" y="745.17" width="5.10" height="5.06" fill="#BE76C2"/>
<rect x="206.59" y="745.17" width="5.10" height="5.06" fill="#E69A80"/>
<rect x="216.78" y="745.17" width="5.10" height="5.06" fill="#E69A80"/>
<rect x="221.88" y="745.17" width="5.10" height="5.06" fill="#E69A80"/>
<rect x="226.97" y="745.17" width="5.10" height="5.06" fill="#BE76C2"/>
<rect x="232.07" y="745.17" width="5.10" height="5.06" fill="#E69A80"/>
<rect x="237.16" y="745.17" width="5.10" height="5.06" fill="#E69A80"/>
<rect x="242.26" y="745.17" width="5.10" height="5.06" fill="#BE76C2"/>
<rect x="247.36" y="745.17" width="5.10" height="5.06" fill="#A666CE"/>
<rect x="252.45" y="745.17" width="5.10" height="5.06" fill="#A666CE"/>
<rect x="257.55" y="745.17" width="5.10" height="5.06" fill="#A666CE"/>
<rect x="262.64" y="745.17" width="5.10" height="5.06" fill="#E69A80"/>
<rect x="267.74" y="745.17" width="5.10" height="5.06" fill="#E69A80"/>
<rect x="272.84" y="745.17" width="5.10" height="5.06" fill="#BE76C2"/>
<rect x="277.93" y="745.17" width="5.10" height="5.06" fill="#E69A80"/>
<rect x="283.03" y="745.17" width="5.10" height="5.06" fill="#A666CE"/>
<rect x="288.12" y="745.17" width="5.10" height="5.06" fill="#A666CE"/>
<rect x="293.22" y="745.17" width="5.10" height="5.06" fill="#E69A80"/>
<rect x="298.32" y="745.17" width="5.10" height="5.06" fill="#E69A80"/>
<rect x="308.51" y="745.17" width="5.10" height="5.06" fill="#D67C9E"/>
<rect x="196.40" y="750.23" width="5.10" height="5.06" fill="#BE76C2"/>
<rect x="201.49" y="750.23" width="5.10" height="5.06" fill="#E69A80"/>
<rect x="206.59" y="750.23" width="5.10" height="5.06" fill="#FFD700"/>
<rect x="216.78" y="750.23" width="5.10" height="5.06" fill="#FFD700"/>
<rect x="221.88" y="750.23" width="5.10" height="5.06" fill="#E69A80"/>
<rect x="226.97" y="750.23" width="5.10" height="5.06" fill="#E69A80"/>
<rect x="242.26" y="750.23" width="5.10" height="5.06" fill="#6A30E6"/>
<rect x="247.36" y="750.23" width="5.10" height="5.06" fill="#E69A80"/>
<rect x="252.45" y="750.23" width="5.10" height="5.06" fill="#E69A80"/>
<rect x="257.55" y="750.23" width="5.10" height="5.06" fill="#FFD700"/>
<rect x="283.03" y="750.23" width="5.10" height="5.06" fill="#E69A80"/>
<rect x="293.22" y="750.23" width="5.10" height="5.06" fill="#D67C9E"/>
<rect x="308.51" y="750.23" width="5.10" height="5.06" fill="#D67C9E"/>
<rect x="196.40" y="755.29" width="5.10" height="5.06" fill="#E69A80"/>
<rect x="226.97" y="755.29" width="5.10" height="5.06" fill="#E69A80"/>
<rect x="191.30" y="760.35" width="5.10" height="5.06" fill="#FFD700"/>
<rect x="196.40" y="760.35" width="5.10" height="5.06" fill="#BE76C2"/>
<rect x="201.49" y="760.35" width="5.10" height="5.06" fill="#D67C9E"/>
<rect x="216.78" y="760.35" width="5.10" height="5.06" fill="#FFD700"/>
<rect x="221.88" y="760.35" width="5.10" height="5.06" fill="#FFD700"/>
<rect x="226.97" y="760.35" width="5.10" height="5.06" fill="#BE76C2"/>
<rect x="232.07" y="760.35" width="5.10" height="5.06" fill="#FFD700"/>
<rect x="242.26" y="760.35" width="5.10" height="5.06" fill="#E69A80"/>
<rect x="257.55" y="760.35" width="5.10" height="5.06" fill="#FFD700"/>
<rect x="262.64" y="760.35" width="5.10" height="5.06" fill="#FFD700"/>
<rect x="272.84" y="760.35" width="5.10" height="5.06" fill="#6A30E6"/>
<rect x="283.03" y="760.35" width="5.10" height="5.06" fill="#E69A80"/>
<rect x="298.32" y="760.35" width="5.10" height="5.06" fill="#FFD700"/>
<rect x="201.49" y="765.41" width="5.10" height="5.06" fill="#E69A80"/>
<rect x="226.97" y="765.41" width="5.10" height="5.06" fill="#FFD700"/>
<rect x="252.45" y="765.41" width="5.10" height="5.06" fill="#FFD700"/>
<rect x="257.55" y="765.41" width="5.10" height="5.06" fill="#E69A80"/>
<rect x="262.64" y="765.41" width="5.10" height="5.06" fill="#E69A80"/>
<rect x="283.03" y="765.41" width="5.10" height="5.06" fill="#FFD700"/>
<rect x="308.51" y="765.41" width="5.10" height="5.06" fill="#FFD700"/>
<rect x="232.07" y="770.48" width="5.10" height="5.06" fill="#FFD700"/>
<rect x="272.84" y="770.48" width="5.10" height="5.06" fill="#FFD700"/>
<rect x="196.40" y="775.54" width="5.10" height="5.06" fill="#E69A80"/>
<rect x="201.49" y="775.54" width="5.10" height="5.06" fill="#E69A80"/>
<rect x="216.78" y="775.54" width="5.10" height="5.06" fill="#FFD700"/>
<rect x="226.97" y="775.54" width="5.10" height="5.06" fill="#D67C9E"/>
<rect x="232.07" y="775.54" width="5.10" height="5.06" fill="#FFD700"/>
<rect x="242.26" y="775.54" width="5.10" height="5.06" fill="#E69A80"/>
<rect x="247.36" y="775.54" width="5.10" height="5.06" fill="#E69A80"/>
<rect x="252.45" y="775.54" width="5.10" height="5.06" fill="#FFD700"/>
<rect x="257.55" y="775.54" width="5.10" height="5.06" fill="#FFD700"/>
<rect x="272.84" y="775.54" width="5.10" height="5.06" fill="#FFD700"/>
<rect x="283.03" y="775.54" width="5.10" height="5.06" fill="#E69A80"/>
<rect x="288.12" y="775.54" width="5.10" height="5.06" fill="#FFD700"/>
<rect x="308.51" y="775.54" width="5.10" height="5.06" fill="#E69A80"/>
<rect x="191.30" y="780.60" width="5.10" height="5.06" fill="#FFD700"/>
<rect x="196.40" y="780.60" width="5.10" height="5.06" fill="#2A12EE"/>
<rect x="201.49" y="780.60" width="5.10" height="5.06" fill="#E69A80"/>
<rect x="221.88" y="780.60" width="5.10" height="5.06" fill="#FFD700"/>
<rect x="226.97" y="780.60" width="5.10" height="5.06" fill="#D67C9E"/>
<rect x="232.07" y="780.60" width="5.10" height="5.06" fill="#FFD700"/>
<rect x="237.16" y="780.60" width="5.10" height="5.06" fill="#E69A80"/>
<rect x="242.26" y="780.60" width="5.10" height="5.06" fill="#FFD700"/>
<rect x="247.36" y="780.60" width="5.10" height="5.06" fill="#FFD700"/>
<rect x="252.45" y="780.60" width="5.10" height="5.06" fill="#FFD700"/>
<rect x="257.55" y="780.60" width="5.10" height="5.06" fill="#FFD700"/>
<rect x="267.74" y="780.60" width="5.10" height="5.06" fill="#FFD700"/>
<rect x="272.84" y="780.60" width="5.10" height="5.06" fill="#FFD700"/>
<rect x="283.03" y="780.60" width="5.10" height="5.06" fill="#FFD700"/>
<rect x="288.12" y="780.60" width="5.10" height="5.06" fill="#FFD700"/>
<rect x="308.51" y="780.60" width="5.10" height="5.06" fill="#FFD700"/>
<rect x="191.30" y="785.66" width="5.10" height="5.06" fill="#FFD700"/>
<rect x="201.49" y="785.66" width="5.10" height="5.06" fill="#E69A80"/>
<rect x="226.97" y="785.66" width="5.10" height="5.06" fill="#E69A80"/>
<rect x="232.07" y="785.66" width="5.10" height="5.06" fill="#FFD700"/>
<rect x="237.16" y="785.66" width="5.10" height="5.06" fill="#FFD700"/>
<rect x="247.36" y="785.66" width="5.10" height="5.06" fill="#FFD700"/>
<rect x="252.45" y="785.66" width="5.10" height="5.06" fill="#FFD700"/>
<rect x="262.64" y="785.66" width="5.10" height="5.06" fill="#E69A80"/>
<rect x="272.84" y="785.66" width="5.10" height="5.06" fill="#E69A80"/>
<rect x="283.03" y="785.66" width="5.10" height="5.06" fill="#FFD700"/>
<rect x="298.32" y="785.66" width="5.10" height="5.06" fill="#FFD700"/>
<rect x="196.40" y="790.72" width="5.10" height="5.06" fill="#E69A80"/>
<rect x="201.49" y="790.72" width="5.10" height="5.06" fill="#E69A80"/>
<rect x="216.78" y="790.72" width="5.10" height="5.06" fill="#D67C9E"/>
<rect x="226.97" y="790.72" width="5.10" height="5.06" fill="#D67C9E"/>
<rect x="232.07" y="790.72" width="5.10" height="5.06" fill="#FFD700"/>
<rect x="237.16" y="790.72" width="5.10" height="5.06" fill="#FFD700"/>
<rect x="242.26" y="790.72" width="5.10" height="5.06" fill="#F6A84C"/>
<rect x="247.36" y="790.72" width="5.10" height="5.06" fill="#F6A84C"/>
<rect x="252.45" y="790.72" width="5.10" height="5.06" fill="#FFD700"/>
<rect x="257.55" y="790.72" width="5.10" height="5.06" fill="#FFD700"/>
<rect x="262.64" y="790.72" width="5.10" height="5.06" fill="#FFD700"/>
<rect x="272.84" y="790.72" width="5.10" height="5.06" fill="#E69A80"/>
<rect x="283.03" y="790.72" width="5.10" height="5.06" fill="#FFD700"/>
<rect x="288.12" y="790.72" width="5.10" height="5.06" fill="#FFD700"/>
<rect x="293.22" y="790.72" width="5.10" height="5.06" fill="#FFD700"/>
<rect x="303.41" y="790.72" width="5.10" height="5.06" fill="#FFD700"/>
<rect x="308.51" y="790.72" width="5.10" height="5.06" fill="#FFD700"/>
<rect x="313.60" y="790.72" width="5.10" height="5.06" fill="#FFD700"/>
<rect x="252.45" y="795.78" width="5.10" height="5.06" fill="#FFD700"/>
<rect x="196.40" y="805.90" width="5.10" height="5.06" fill="#D67C9E"/>
<rect x="221.88" y="805.90" width="5.10" height="5.06" fill="#FFD700"/>
<rect x="226.97" y="805.90" width="5.10" height="5.06" fill="#E69A80"/>
<rect x="237.16" y="805.90" width="5.10" height="5.06" fill="#FFD700"/>
<rect x="242.26" y="805.90" width="5.10" height="5.06" fill="#E69A80"/>
<rect x="257.55" y="805.90" width="5.10" height="5.06" fill="#E69A80"/>
<rect x="262.64" y="805.90" width="5.10" height="5.06" fill="#FFD700"/>
<rect x="283.03" y="805.90" width="5.10" height="5.06" fill="#FFD700"/>
<rect x="293.22" y="805.90" width="5.10" height="5.06" fill="#E69A80"/>
<rect x="191.30" y="810.96" width="5.10" height="5.06" fill="#D67C9E"/>
<rect x="196.40" y="810.96" width="5.10" height="5.06" fill="#E69A80"/>
<rect x="206.59" y="810.96" width="5.10" height="5.06" fill="#FFD700"/>
<rect x="211.68" y="810.96" width="5.10" height="5.06" fill="#FFD700"/>
<rect x="216.78" y="810.96" width="5.10" height="5.06" fill="#FFD700"/>
<rect x="221.88" y="810.96" width="5.10" height="5.06" fill="#E69A80"/>
<rect x="226.97" y="810.96" width="5.10" height="5.06" fill="#D67C9E"/>
<rect x="242.26" y="810.96" width="5.10" height="5.06" fill="#E69A80"/>
<rect x="257.55" y="810.96" width="5.10" height="5.06" fill="#FFD700"/>
<rect x="262.64" y="810.96" width="5.10" height="5.06" fill="#FFD700"/>
<rect x="272.84" y="810.96" width="5.10" height="5.06" fill="#FFD700"/>
<rect x="283.03" y="810.96" width="5.10" height="5.06" fill="#FFD700"/>
<rect x="288.12" y="810.96" width="5.10" height="5.06" fill="#BE76C2"/>
<rect x="293.22" y="810.96" width="5.10" height="5.06" fill="#E69A80"/>
<rect x="308.51" y="810.96" width="5.10" height="5.06" fill="#FFD700"/>
<rect x="196.40" y="816.02" width="5.10" height="5.06" fill="#FFD700"/>
<rect x="201.49" y="816.02" width="5.10" height="5.06" fill="#F6A84C"/>
<rect x="206.59" y="816.02" width="5.10" height="5.06" fill="#F6A84C"/>
<rect x="221.88" y="816.02" width="5.10" height="5.06" fill="#E69A80"/>
<rect x="237.16" y="816.02" width="5.10" height="5.06" fill="#E69A80"/>
<rect x="242.26" y="816.02" width="5.10" height="5.06" fill="#FFD700"/>
<rect x="267.74" y="816.02" width="5.10" height="5.06" fill="#FFD700"/>
<rect x="298.32" y="816.02" width="5.10" height="5.06" fill="#E69A80"/>
<rect x="308.51" y="816.02" width="5.10" height="5.06" fill="#FFD700"/>
<rect x="221.88" y="821.08" width="5.10" height="5.06" fill="#FFD700"/>
<rect x="226.97" y="821.08" width="5.10" height="5.06" fill="#A666CE"/>
<rect x="237.16" y="821.08" width="5.10" height="5.06" fill="#E69A80"/>
<rect x="242.26" y="821.08" width="5.10" height="5.06" fill="#FFD700"/>
<rect x="252.45" y="821.08" width="5.10" height="5.06" fill="#FFD700"/>
<rect x="262.64" y="821.08" width="5.10" height="5.06" fill="#FFD700"/>
<rect x="272.84" y="821.08" width="5.10" height="5.06" fill="#E69A80"/>
<rect x="283.03" y="821.08" width="5.10" height="5.06" fill="#E69A80"/>
<rect x="288.12" y="821.08" width="5.10" height="5.06" fill="#E69A80"/>
<rect x="308.51" y="821.08" width="5.10" height="5.06" fill="#FFD700"/>
<rect x="191.30" y="826.14" width="5.10" height="5.06" fill="#E69A80"/>
<rect x="226.97" y="826.14" width="5.10" height="5.06" fill="#FFD700"/>
<rect x="242.26" y="826.14" width="5.10" height="5.06" fill="#FFD700"/>
</g>
<line x1="191.30" x2="318.70" y1="588.30" y2="588.30" stroke="#dcdde2" stroke-width="0.6"/>
<line x1="191.30" x2="318.70" y1="831.20" y2="831.20" stroke="#bfc0c6" stroke-width="0.6"/>
<line x1="191.30" x2="191.30" y1="588.30" y2="831.20" stroke="#8a8e9a" stroke-width="0.9"/>
<line x1="318.70" x2="318.70" y1="588.30" y2="831.20" stroke="#8a8e9a" stroke-width="0.9"/>
<text transform="translate(195.25,833.90) rotate(-90)" class="dl">1-1</text>
<text transform="translate(200.34,833.90) rotate(-90)" class="dl">2-2</text>
<text transform="translate(205.44,833.90) rotate(-90)" class="dl">3-3</text>
<text transform="translate(210.54,833.90) rotate(-90)" class="dl">4-4</text>
<text transform="translate(215.63,833.90) rotate(-90)" class="dl">5-5</text>
<text transform="translate(220.73,833.90) rotate(-90)" class="dl">6-6</text>
<text transform="translate(225.82,833.90) rotate(-90)" class="dl">1-7</text>
<text transform="translate(230.92,833.90) rotate(-90)" class="dl">3-10</text>
<text transform="translate(236.02,833.90) rotate(-90)" class="dl">4-11</text>
<text transform="translate(241.11,833.90) rotate(-90)" class="dl">5-12</text>
<text transform="translate(246.21,833.90) rotate(-90)" class="dl">6-13</text>
<text transform="translate(251.30,833.90) rotate(-90)" class="dl">1-14</text>
<text transform="translate(256.40,833.90) rotate(-90)" class="dl">2-15</text>
<text transform="translate(261.50,833.90) rotate(-90)" class="dl">3-16</text>
<text transform="translate(266.59,833.90) rotate(-90)" class="dl">4-17</text>
<text transform="translate(271.69,833.90) rotate(-90)" class="dl">5-18</text>
<text transform="translate(276.78,833.90) rotate(-90)" class="dl">6-19</text>
<text transform="translate(281.88,833.90) rotate(-90)" class="dl">1-20</text>
<text transform="translate(286.98,833.90) rotate(-90)" class="dl">2-21</text>
<text transform="translate(292.07,833.90) rotate(-90)" class="dl">3-22</text>
<text transform="translate(297.17,833.90) rotate(-90)" class="dl">4-23</text>
<text transform="translate(302.26,833.90) rotate(-90)" class="dl">5-24</text>
<text transform="translate(307.36,833.90) rotate(-90)" class="dl">6-25</text>
<text transform="translate(312.46,833.90) rotate(-90)" class="dl">1-26</text>
<text transform="translate(317.55,833.90) rotate(-90)" class="dl">7-27</text>
<g filter="url(#bl)" shape-rendering="crispEdges">
<rect x="329.40" y="593.26" width="5.08" height="5.06" fill="#E69A80"/>
<rect x="334.48" y="593.26" width="5.08" height="5.06" fill="#FFD700"/>
<rect x="375.12" y="593.26" width="5.08" height="5.06" fill="#FFD700"/>
<rect x="380.20" y="593.26" width="5.08" height="5.06" fill="#F6A84C"/>
<rect x="390.36" y="593.26" width="5.08" height="5.06" fill="#FFD700"/>
<rect x="400.52" y="593.26" width="5.08" height="5.06" fill="#D67C9E"/>
<rect x="425.92" y="593.26" width="5.08" height="5.06" fill="#FFD700"/>
<rect x="431.00" y="593.26" width="5.08" height="5.06" fill="#FFD700"/>
<rect x="344.64" y="603.39" width="5.08" height="5.06" fill="#E69A80"/>
<rect x="364.96" y="603.39" width="5.08" height="5.06" fill="#FFD700"/>
<rect x="446.24" y="603.39" width="5.08" height="5.06" fill="#FFD700"/>
<rect x="359.88" y="613.51" width="5.08" height="5.06" fill="#E69A80"/>
<rect x="380.20" y="613.51" width="5.08" height="5.06" fill="#FFD700"/>
<rect x="420.84" y="613.51" width="5.08" height="5.06" fill="#E69A80"/>
<rect x="446.24" y="613.51" width="5.08" height="5.06" fill="#E69A80"/>
<rect x="329.40" y="618.58" width="5.08" height="5.06" fill="#FFD700"/>
<rect x="334.48" y="618.58" width="5.08" height="5.06" fill="#E69A80"/>
<rect x="354.80" y="618.58" width="5.08" height="5.06" fill="#FFD700"/>
<rect x="364.96" y="618.58" width="5.08" height="5.06" fill="#FFD700"/>
<rect x="375.12" y="618.58" width="5.08" height="5.06" fill="#D67C9E"/>
<rect x="380.20" y="618.58" width="5.08" height="5.06" fill="#6A30E6"/>
<rect x="390.36" y="618.58" width="5.08" height="5.06" fill="#E69A80"/>
<rect x="395.44" y="618.58" width="5.08" height="5.06" fill="#E69A80"/>
<rect x="400.52" y="618.58" width="5.08" height="5.06" fill="#FFD700"/>
<rect x="415.76" y="618.58" width="5.08" height="5.06" fill="#FFD700"/>
<rect x="420.84" y="618.58" width="5.08" height="5.06" fill="#FFD700"/>
<rect x="446.24" y="618.58" width="5.08" height="5.06" fill="#FFD700"/>
<rect x="451.32" y="618.58" width="5.08" height="5.06" fill="#E69A80"/>
<rect x="354.80" y="623.64" width="5.08" height="5.06" fill="#FFD700"/>
<rect x="380.20" y="623.64" width="5.08" height="5.06" fill="#FFD700"/>
<rect x="420.84" y="623.64" width="5.08" height="5.06" fill="#D67C9E"/>
<rect x="329.40" y="633.76" width="5.08" height="5.06" fill="#E69A80"/>
<rect x="334.48" y="633.76" width="5.08" height="5.06" fill="#E69A80"/>
<rect x="364.96" y="633.76" width="5.08" height="5.06" fill="#FFD700"/>
<rect x="370.04" y="633.76" width="5.08" height="5.06" fill="#FFD700"/>
<rect x="375.12" y="633.76" width="5.08" height="5.06" fill="#FFD700"/>
<rect x="385.28" y="633.76" width="5.08" height="5.06" fill="#FFD700"/>
<rect x="400.52" y="633.76" width="5.08" height="5.06" fill="#FFD700"/>
<rect x="405.60" y="633.76" width="5.08" height="5.06" fill="#FFD700"/>
<rect x="410.68" y="633.76" width="5.08" height="5.06" fill="#BE76C2"/>
<rect x="420.84" y="633.76" width="5.08" height="5.06" fill="#E69A80"/>
<rect x="425.92" y="633.76" width="5.08" height="5.06" fill="#E69A80"/>
<rect x="436.08" y="633.76" width="5.08" height="5.06" fill="#A666CE"/>
<rect x="446.24" y="633.76" width="5.08" height="5.06" fill="#E69A80"/>
<rect x="329.40" y="643.89" width="5.08" height="5.06" fill="#FFD700"/>
<rect x="334.48" y="643.89" width="5.08" height="5.06" fill="#E69A80"/>
<rect x="349.72" y="643.89" width="5.08" height="5.06" fill="#FFD700"/>
<rect x="354.80" y="643.89" width="5.08" height="5.06" fill="#FFD700"/>
<rect x="364.96" y="643.89" width="5.08" height="5.06" fill="#E69A80"/>
<rect x="380.20" y="643.89" width="5.08" height="5.06" fill="#E69A80"/>
<rect x="395.44" y="643.89" width="5.08" height="5.06" fill="#FFD700"/>
<rect x="400.52" y="643.89" width="5.08" height="5.06" fill="#A666CE"/>
<rect x="405.60" y="643.89" width="5.08" height="5.06" fill="#F6A84C"/>
<rect x="410.68" y="643.89" width="5.08" height="5.06" fill="#E69A80"/>
<rect x="436.08" y="643.89" width="5.08" height="5.06" fill="#FFD700"/>
<rect x="425.92" y="648.95" width="5.08" height="5.06" fill="#E69A80"/>
<rect x="446.24" y="648.95" width="5.08" height="5.06" fill="#FFD700"/>
<rect x="359.88" y="654.01" width="5.08" height="5.06" fill="#A666CE"/>
<rect x="370.04" y="654.01" width="5.08" height="5.06" fill="#FFD700"/>
<rect x="390.36" y="654.01" width="5.08" height="5.06" fill="#BE76C2"/>
<rect x="395.44" y="654.01" width="5.08" height="5.06" fill="#FFD700"/>
<rect x="405.60" y="654.01" width="5.08" height="5.06" fill="#FFD700"/>
<rect x="410.68" y="654.01" width="5.08" height="5.06" fill="#D67C9E"/>
<rect x="420.84" y="654.01" width="5.08" height="5.06" fill="#FFD700"/>
<rect x="425.92" y="654.01" width="5.08" height="5.06" fill="#FFD700"/>
<rect x="446.24" y="654.01" width="5.08" height="5.06" fill="#A666CE"/>
<rect x="410.68" y="659.08" width="5.08" height="5.06" fill="#D67C9E"/>
<rect x="420.84" y="659.08" width="5.08" height="5.06" fill="#E69A80"/>
<rect x="339.56" y="664.14" width="5.08" height="5.06" fill="#FFD700"/>
<rect x="344.64" y="664.14" width="5.08" height="5.06" fill="#E69A80"/>
<rect x="364.96" y="664.14" width="5.08" height="5.06" fill="#E69A80"/>
<rect x="380.20" y="664.14" width="5.08" height="5.06" fill="#E69A80"/>
<rect x="390.36" y="664.14" width="5.08" height="5.06" fill="#FFD700"/>
<rect x="400.52" y="664.14" width="5.08" height="5.06" fill="#E69A80"/>
<rect x="410.68" y="664.14" width="5.08" height="5.06" fill="#FFD700"/>
<rect x="415.76" y="664.14" width="5.08" height="5.06" fill="#FFD700"/>
<rect x="420.84" y="664.14" width="5.08" height="5.06" fill="#FFD700"/>
<rect x="431.00" y="664.14" width="5.08" height="5.06" fill="#E69A80"/>
<rect x="436.08" y="664.14" width="5.08" height="5.06" fill="#E69A80"/>
<rect x="446.24" y="664.14" width="5.08" height="5.06" fill="#D67C9E"/>
<rect x="344.64" y="669.20" width="5.08" height="5.06" fill="#E69A80"/>
<rect x="364.96" y="669.20" width="5.08" height="5.06" fill="#FFD700"/>
<rect x="420.84" y="669.20" width="5.08" height="5.06" fill="#BE76C2"/>
<rect x="344.64" y="679.33" width="5.08" height="5.06" fill="#FFD700"/>
<rect x="359.88" y="679.33" width="5.08" height="5.06" fill="#E69A80"/>
<rect x="364.96" y="679.33" width="5.08" height="5.06" fill="#E69A80"/>
<rect x="446.24" y="679.33" width="5.08" height="5.06" fill="#FFD700"/>
<rect x="344.64" y="684.39" width="5.08" height="5.06" fill="#FFD700"/>
<rect x="349.72" y="684.39" width="5.08" height="5.06" fill="#FFD700"/>
<rect x="364.96" y="684.39" width="5.08" height="5.06" fill="#FFD700"/>
<rect x="400.52" y="684.39" width="5.08" height="5.06" fill="#D67C9E"/>
<rect x="410.68" y="684.39" width="5.08" height="5.06" fill="#FFD700"/>
<rect x="431.00" y="684.39" width="5.08" height="5.06" fill="#FFD700"/>
<rect x="334.48" y="694.51" width="5.08" height="5.06" fill="#FFD700"/>
<rect x="364.96" y="694.51" width="5.08" height="5.06" fill="#E69A80"/>
<rect x="375.12" y="694.51" width="5.08" height="5.06" fill="#E69A80"/>
<rect x="380.20" y="694.51" width="5.08" height="5.06" fill="#A666CE"/>
<rect x="385.28" y="694.51" width="5.08" height="5.06" fill="#BE76C2"/>
<rect x="390.36" y="694.51" width="5.08" height="5.06" fill="#BE76C2"/>
<rect x="400.52" y="694.51" width="5.08" height="5.06" fill="#FFD700"/>
<rect x="405.60" y="694.51" width="5.08" height="5.06" fill="#FFD700"/>
<rect x="410.68" y="694.51" width="5.08" height="5.06" fill="#E69A80"/>
<rect x="425.92" y="694.51" width="5.08" height="5.06" fill="#E69A80"/>
<rect x="431.00" y="694.51" width="5.08" height="5.06" fill="#D67C9E"/>
<rect x="436.08" y="694.51" width="5.08" height="5.06" fill="#FFD700"/>
<rect x="446.24" y="694.51" width="5.08" height="5.06" fill="#E69A80"/>
<rect x="329.40" y="699.58" width="5.08" height="5.06" fill="#FFD700"/>
<rect x="334.48" y="699.58" width="5.08" height="5.06" fill="#FFD700"/>
<rect x="339.56" y="699.58" width="5.08" height="5.06" fill="#9044DE"/>
<rect x="344.64" y="699.58" width="5.08" height="5.06" fill="#E69A80"/>
<rect x="349.72" y="699.58" width="5.08" height="5.06" fill="#BE76C2"/>
<rect x="354.80" y="699.58" width="5.08" height="5.06" fill="#FFD700"/>
<rect x="359.88" y="699.58" width="5.08" height="5.06" fill="#E69A80"/>
<rect x="364.96" y="699.58" width="5.08" height="5.06" fill="#9044DE"/>
<rect x="375.12" y="699.58" width="5.08" height="5.06" fill="#E69A80"/>
<rect x="380.20" y="699.58" width="5.08" height="5.06" fill="#E69A80"/>
<rect x="385.28" y="699.58" width="5.08" height="5.06" fill="#D67C9E"/>
<rect x="390.36" y="699.58" width="5.08" height="5.06" fill="#FFD700"/>
<rect x="395.44" y="699.58" width="5.08" height="5.06" fill="#A666CE"/>
<rect x="400.52" y="699.58" width="5.08" height="5.06" fill="#BE76C2"/>
<rect x="405.60" y="699.58" width="5.08" height="5.06" fill="#FFD700"/>
<rect x="410.68" y="699.58" width="5.08" height="5.06" fill="#A666CE"/>
<rect x="415.76" y="699.58" width="5.08" height="5.06" fill="#FFD700"/>
<rect x="420.84" y="699.58" width="5.08" height="5.06" fill="#E69A80"/>
<rect x="425.92" y="699.58" width="5.08" height="5.06" fill="#BE76C2"/>
<rect x="436.08" y="699.58" width="5.08" height="5.06" fill="#FFD700"/>
<rect x="446.24" y="699.58" width="5.08" height="5.06" fill="#E69A80"/>
<rect x="451.32" y="699.58" width="5.08" height="5.06" fill="#E69A80"/>
<rect x="344.64" y="704.64" width="5.08" height="5.06" fill="#E69A80"/>
<rect x="354.80" y="704.64" width="5.08" height="5.06" fill="#FFD700"/>
<rect x="400.52" y="704.64" width="5.08" height="5.06" fill="#FFD700"/>
<rect x="410.68" y="709.70" width="5.08" height="5.06" fill="#FFD700"/>
<rect x="344.64" y="714.76" width="5.08" height="5.06" fill="#FFD700"/>
<rect x="354.80" y="714.76" width="5.08" height="5.06" fill="#E69A80"/>
<rect x="395.44" y="714.76" width="5.08" height="5.06" fill="#FFD700"/>
<rect x="415.76" y="714.76" width="5.08" height="5.06" fill="#FFD700"/>
<rect x="431.00" y="714.76" width="5.08" height="5.06" fill="#FFD700"/>
<rect x="329.40" y="719.83" width="5.08" height="5.06" fill="#BE76C2"/>
<rect x="334.48" y="719.83" width="5.08" height="5.06" fill="#9044DE"/>
<rect x="339.56" y="719.83" width="5.08" height="5.06" fill="#A666CE"/>
<rect x="344.64" y="719.83" width="5.08" height="5.06" fill="#BE76C2"/>
<rect x="349.72" y="719.83" width="5.08" height="5.06" fill="#E69A80"/>
<rect x="359.88" y="719.83" width="5.08" height="5.06" fill="#FFD700"/>
<rect x="364.96" y="719.83" width="5.08" height="5.06" fill="#9044DE"/>
<rect x="370.04" y="719.83" width="5.08" height="5.06" fill="#E69A80"/>
<rect x="375.12" y="719.83" width="5.08" height="5.06" fill="#E69A80"/>
<rect x="380.20" y="719.83" width="5.08" height="5.06" fill="#A666CE"/>
<rect x="385.28" y="719.83" width="5.08" height="5.06" fill="#E69A80"/>
<rect x="390.36" y="719.83" width="5.08" height="5.06" fill="#9044DE"/>
<rect x="395.44" y="719.83" width="5.08" height="5.06" fill="#BE76C2"/>
<rect x="400.52" y="719.83" width="5.08" height="5.06" fill="#BE76C2"/>
<rect x="405.60" y="719.83" width="5.08" height="5.06" fill="#BE76C2"/>
<rect x="410.68" y="719.83" width="5.08" height="5.06" fill="#A666CE"/>
<rect x="415.76" y="719.83" width="5.08" height="5.06" fill="#E69A80"/>
<rect x="420.84" y="719.83" width="5.08" height="5.06" fill="#BE76C2"/>
<rect x="425.92" y="719.83" width="5.08" height="5.06" fill="#E69A80"/>
<rect x="431.00" y="719.83" width="5.08" height="5.06" fill="#E69A80"/>
<rect x="436.08" y="719.83" width="5.08" height="5.06" fill="#A666CE"/>
<rect x="441.16" y="719.83" width="5.08" height="5.06" fill="#FFD700"/>
<rect x="446.24" y="719.83" width="5.08" height="5.06" fill="#A666CE"/>
<rect x="451.32" y="719.83" width="5.08" height="5.06" fill="#E69A80"/>
<rect x="329.40" y="724.89" width="5.08" height="5.06" fill="#E69A80"/>
<rect x="334.48" y="724.89" width="5.08" height="5.06" fill="#9044DE"/>
<rect x="339.56" y="724.89" width="5.08" height="5.06" fill="#9044DE"/>
<rect x="344.64" y="724.89" width="5.08" height="5.06" fill="#BE76C2"/>
<rect x="349.72" y="724.89" width="5.08" height="5.06" fill="#FFD700"/>
<rect x="359.88" y="724.89" width="5.08" height="5.06" fill="#FFD700"/>
<rect x="364.96" y="724.89" width="5.08" height="5.06" fill="#2A12EE"/>
<rect x="370.04" y="724.89" width="5.08" height="5.06" fill="#E69A80"/>
<rect x="375.12" y="724.89" width="5.08" height="5.06" fill="#E69A80"/>
<rect x="380.20" y="724.89" width="5.08" height="5.06" fill="#BE76C2"/>
<rect x="385.28" y="724.89" width="5.08" height="5.06" fill="#FFD700"/>
<rect x="390.36" y="724.89" width="5.08" height="5.06" fill="#A666CE"/>
<rect x="395.44" y="724.89" width="5.08" height="5.06" fill="#BE76C2"/>
<rect x="400.52" y="724.89" width="5.08" height="5.06" fill="#6A30E6"/>
<rect x="405.60" y="724.89" width="5.08" height="5.06" fill="#BE76C2"/>
<rect x="410.68" y="724.89" width="5.08" height="5.06" fill="#A666CE"/>
<rect x="415.76" y="724.89" width="5.08" height="5.06" fill="#E69A80"/>
<rect x="420.84" y="724.89" width="5.08" height="5.06" fill="#A666CE"/>
<rect x="425.92" y="724.89" width="5.08" height="5.06" fill="#A666CE"/>
<rect x="436.08" y="724.89" width="5.08" height="5.06" fill="#A666CE"/>
<rect x="446.24" y="724.89" width="5.08" height="5.06" fill="#A666CE"/>
<rect x="451.32" y="724.89" width="5.08" height="5.06" fill="#E69A80"/>
<rect x="359.88" y="735.01" width="5.08" height="5.06" fill="#FFD700"/>
<rect x="436.08" y="735.01" width="5.08" height="5.06" fill="#FFD700"/>
<rect x="329.40" y="745.14" width="5.08" height="5.06" fill="#FFD700"/>
<rect x="334.48" y="745.14" width="5.08" height="5.06" fill="#E69A80"/>
<rect x="339.56" y="745.14" width="5.08" height="5.06" fill="#9044DE"/>
<rect x="344.64" y="745.14" width="5.08" height="5.06" fill="#FFD700"/>
<rect x="349.72" y="745.14" width="5.08" height="5.06" fill="#E69A80"/>
<rect x="354.80" y="745.14" width="5.08" height="5.06" fill="#6A30E6"/>
<rect x="359.88" y="745.14" width="5.08" height="5.06" fill="#E69A80"/>
<rect x="364.96" y="745.14" width="5.08" height="5.06" fill="#BE76C2"/>
<rect x="375.12" y="745.14" width="5.08" height="5.06" fill="#E69A80"/>
<rect x="380.20" y="745.14" width="5.08" height="5.06" fill="#FFD700"/>
<rect x="385.28" y="745.14" width="5.08" height="5.06" fill="#FFD700"/>
<rect x="390.36" y="745.14" width="5.08" height="5.06" fill="#E69A80"/>
<rect x="395.44" y="745.14" width="5.08" height="5.06" fill="#9044DE"/>
<rect x="400.52" y="745.14" width="5.08" height="5.06" fill="#BE76C2"/>
<rect x="405.60" y="745.14" width="5.08" height="5.06" fill="#BE76C2"/>
<rect x="410.68" y="745.14" width="5.08" height="5.06" fill="#A666CE"/>
<rect x="420.84" y="745.14" width="5.08" height="5.06" fill="#E69A80"/>
<rect x="425.92" y="745.14" width="5.08" height="5.06" fill="#A666CE"/>
<rect x="436.08" y="745.14" width="5.08" height="5.06" fill="#FFD700"/>
<rect x="446.24" y="745.14" width="5.08" height="5.06" fill="#BE76C2"/>
<rect x="339.56" y="750.20" width="5.08" height="5.06" fill="#A666CE"/>
<rect x="344.64" y="750.20" width="5.08" height="5.06" fill="#E69A80"/>
<rect x="349.72" y="750.20" width="5.08" height="5.06" fill="#E69A80"/>
<rect x="359.88" y="750.20" width="5.08" height="5.06" fill="#E69A80"/>
<rect x="364.96" y="750.20" width="5.08" height="5.06" fill="#9044DE"/>
<rect x="380.20" y="750.20" width="5.08" height="5.06" fill="#BE76C2"/>
<rect x="390.36" y="750.20" width="5.08" height="5.06" fill="#E69A80"/>
<rect x="395.44" y="750.20" width="5.08" height="5.06" fill="#FFD700"/>
<rect x="400.52" y="750.20" width="5.08" height="5.06" fill="#FFD700"/>
<rect x="410.68" y="750.20" width="5.08" height="5.06" fill="#FFD700"/>
<rect x="425.92" y="750.20" width="5.08" height="5.06" fill="#FFD700"/>
<rect x="446.24" y="750.20" width="5.08" height="5.06" fill="#FFD700"/>
<rect x="334.48" y="760.33" width="5.08" height="5.06" fill="#E69A80"/>
<rect x="344.64" y="760.33" width="5.08" height="5.06" fill="#FFD700"/>
<rect x="359.88" y="760.33" width="5.08" height="5.06" fill="#FFD700"/>
<rect x="364.96" y="760.33" width="5.08" height="5.06" fill="#FFD700"/>
<rect x="400.52" y="760.33" width="5.08" height="5.06" fill="#E69A80"/>
<rect x="410.68" y="760.33" width="5.08" height="5.06" fill="#E69A80"/>
<rect x="420.84" y="760.33" width="5.08" height="5.06" fill="#FFD700"/>
<rect x="425.92" y="760.33" width="5.08" height="5.06" fill="#FFD700"/>
<rect x="446.24" y="760.33" width="5.08" height="5.06" fill="#A666CE"/>
<rect x="451.32" y="760.33" width="5.08" height="5.06" fill="#FFD700"/>
<rect x="339.56" y="765.39" width="5.08" height="5.06" fill="#FFD700"/>
<rect x="390.36" y="765.39" width="5.08" height="5.06" fill="#FFD700"/>
<rect x="395.44" y="765.39" width="5.08" height="5.06" fill="#FFD700"/>
<rect x="425.92" y="765.39" width="5.08" height="5.06" fill="#D67C9E"/>
<rect x="339.56" y="770.45" width="5.08" height="5.06" fill="#E69A80"/>
<rect x="390.36" y="770.45" width="5.08" height="5.06" fill="#FFD700"/>
<rect x="395.44" y="770.45" width="5.08" height="5.06" fill="#FFD700"/>
<rect x="400.52" y="770.45" width="5.08" height="5.06" fill="#FFD700"/>
<rect x="410.68" y="770.45" width="5.08" height="5.06" fill="#E69A80"/>
<rect x="334.48" y="775.51" width="5.08" height="5.06" fill="#F6A84C"/>
<rect x="339.56" y="775.51" width="5.08" height="5.06" fill="#F6A84C"/>
<rect x="344.64" y="775.51" width="5.08" height="5.06" fill="#FFD700"/>
<rect x="349.72" y="775.51" width="5.08" height="5.06" fill="#FFD700"/>
<rect x="364.96" y="775.51" width="5.08" height="5.06" fill="#FFD700"/>
<rect x="380.20" y="775.51" width="5.08" height="5.06" fill="#FFD700"/>
<rect x="364.96" y="780.58" width="5.08" height="5.06" fill="#FFD700"/>
<rect x="370.04" y="780.58" width="5.08" height="5.06" fill="#E69A80"/>
<rect x="410.68" y="780.58" width="5.08" height="5.06" fill="#E69A80"/>
<rect x="441.16" y="780.58" width="5.08" height="5.06" fill="#E69A80"/>
<rect x="420.84" y="785.64" width="5.08" height="5.06" fill="#F6A84C"/>
<rect x="431.00" y="785.64" width="5.08" height="5.06" fill="#FFD700"/>
<rect x="329.40" y="790.70" width="5.08" height="5.06" fill="#E69A80"/>
<rect x="334.48" y="790.70" width="5.08" height="5.06" fill="#E69A80"/>
<rect x="339.56" y="790.70" width="5.08" height="5.06" fill="#6A30E6"/>
<rect x="344.64" y="790.70" width="5.08" height="5.06" fill="#FFD700"/>
<rect x="364.96" y="790.70" width="5.08" height="5.06" fill="#A666CE"/>
<rect x="375.12" y="790.70" width="5.08" height="5.06" fill="#FFD700"/>
<rect x="380.20" y="790.70" width="5.08" height="5.06" fill="#A666CE"/>
<rect x="390.36" y="790.70" width="5.08" height="5.06" fill="#BE76C2"/>
<rect x="395.44" y="790.70" width="5.08" height="5.06" fill="#A666CE"/>
<rect x="400.52" y="790.70" width="5.08" height="5.06" fill="#A666CE"/>
<rect x="405.60" y="790.70" width="5.08" height="5.06" fill="#E69A80"/>
<rect x="410.68" y="790.70" width="5.08" height="5.06" fill="#A666CE"/>
<rect x="420.84" y="790.70" width="5.08" height="5.06" fill="#E69A80"/>
<rect x="425.92" y="790.70" width="5.08" height="5.06" fill="#E69A80"/>
<rect x="431.00" y="790.70" width="5.08" height="5.06" fill="#FFD700"/>
<rect x="436.08" y="790.70" width="5.08" height="5.06" fill="#E69A80"/>
<rect x="446.24" y="790.70" width="5.08" height="5.06" fill="#BE76C2"/>
<rect x="451.32" y="790.70" width="5.08" height="5.06" fill="#E69A80"/>
<rect x="334.48" y="795.76" width="5.08" height="5.06" fill="#FFD700"/>
<rect x="359.88" y="795.76" width="5.08" height="5.06" fill="#F6A84C"/>
<rect x="390.36" y="795.76" width="5.08" height="5.06" fill="#FFD700"/>
<rect x="334.48" y="805.89" width="5.08" height="5.06" fill="#FFD700"/>
<rect x="339.56" y="805.89" width="5.08" height="5.06" fill="#E69A80"/>
<rect x="395.44" y="805.89" width="5.08" height="5.06" fill="#FFD700"/>
<rect x="425.92" y="805.89" width="5.08" height="5.06" fill="#FFD700"/>
<rect x="446.24" y="805.89" width="5.08" height="5.06" fill="#FFD700"/>
<rect x="339.56" y="810.95" width="5.08" height="5.06" fill="#E69A80"/>
<rect x="359.88" y="810.95" width="5.08" height="5.06" fill="#E69A80"/>
<rect x="390.36" y="810.95" width="5.08" height="5.06" fill="#FFD700"/>
<rect x="395.44" y="810.95" width="5.08" height="5.06" fill="#FFD700"/>
<rect x="410.68" y="810.95" width="5.08" height="5.06" fill="#E69A80"/>
<rect x="446.24" y="810.95" width="5.08" height="5.06" fill="#FFD700"/>
<rect x="334.48" y="816.01" width="5.08" height="5.06" fill="#FFD700"/>
<rect x="364.96" y="816.01" width="5.08" height="5.06" fill="#E69A80"/>
<rect x="400.52" y="816.01" width="5.08" height="5.06" fill="#FFD700"/>
<rect x="410.68" y="816.01" width="5.08" height="5.06" fill="#FFD700"/>
<rect x="334.48" y="821.08" width="5.08" height="5.06" fill="#FFD700"/>
<rect x="344.64" y="821.08" width="5.08" height="5.06" fill="#FFD700"/>
<rect x="364.96" y="821.08" width="5.08" height="5.06" fill="#FFD700"/>
<rect x="405.60" y="821.08" width="5.08" height="5.06" fill="#E69A80"/>
<rect x="420.84" y="821.08" width="5.08" height="5.06" fill="#FFD700"/>
<rect x="431.00" y="821.08" width="5.08" height="5.06" fill="#FFD700"/>
<rect x="436.08" y="821.08" width="5.08" height="5.06" fill="#FFD700"/>
<rect x="344.64" y="826.14" width="5.08" height="5.06" fill="#FFD700"/>
<rect x="380.20" y="826.14" width="5.08" height="5.06" fill="#FFD700"/>
</g>
<line x1="329.40" x2="456.40" y1="588.20" y2="588.20" stroke="#dcdde2" stroke-width="0.6"/>
<line x1="329.40" x2="456.40" y1="831.20" y2="831.20" stroke="#bfc0c6" stroke-width="0.6"/>
<line x1="329.40" x2="329.40" y1="588.20" y2="831.20" stroke="#8a8e9a" stroke-width="0.9"/>
<line x1="456.40" x2="456.40" y1="588.20" y2="831.20" stroke="#8a8e9a" stroke-width="0.9"/>
<text transform="translate(333.34,833.90) rotate(-90)" class="dl">1-1</text>
<text transform="translate(338.42,833.90) rotate(-90)" class="dl">2-2</text>
<text transform="translate(343.50,833.90) rotate(-90)" class="dl">3-3</text>
<text transform="translate(348.58,833.90) rotate(-90)" class="dl">4-4</text>
<text transform="translate(353.66,833.90) rotate(-90)" class="dl">5-5</text>
<text transform="translate(358.74,833.90) rotate(-90)" class="dl">6-6</text>
<text transform="translate(363.82,833.90) rotate(-90)" class="dl">1-7</text>
<text transform="translate(368.90,833.90) rotate(-90)" class="dl">3-10</text>
<text transform="translate(373.98,833.90) rotate(-90)" class="dl">4-11</text>
<text transform="translate(379.06,833.90) rotate(-90)" class="dl">5-12</text>
<text transform="translate(384.14,833.90) rotate(-90)" class="dl">6-13</text>
<text transform="translate(389.22,833.90) rotate(-90)" class="dl">1-14</text>
<text transform="translate(394.30,833.90) rotate(-90)" class="dl">2-15</text>
<text transform="translate(399.38,833.90) rotate(-90)" class="dl">3-16</text>
<text transform="translate(404.46,833.90) rotate(-90)" class="dl">4-17</text>
<text transform="translate(409.54,833.90) rotate(-90)" class="dl">5-18</text>
<text transform="translate(414.62,833.90) rotate(-90)" class="dl">6-19</text>
<text transform="translate(419.70,833.90) rotate(-90)" class="dl">1-20</text>
<text transform="translate(424.78,833.90) rotate(-90)" class="dl">2-21</text>
<text transform="translate(429.86,833.90) rotate(-90)" class="dl">3-22</text>
<text transform="translate(434.94,833.90) rotate(-90)" class="dl">4-23</text>
<text transform="translate(440.02,833.90) rotate(-90)" class="dl">5-24</text>
<text transform="translate(445.10,833.90) rotate(-90)" class="dl">6-25</text>
<text transform="translate(450.18,833.90) rotate(-90)" class="dl">1-26</text>
<text transform="translate(455.26,833.90) rotate(-90)" class="dl">7-27</text>
<text x="8.2" y="19.3" class="pl">A</text>
<text x="7.9" y="295.7" class="pl">B</text>
<text x="8.2" y="584.3" class="pl">C</text>
<text x="49" y="16.4" class="t">Naive</text>
<text x="191.2" y="16.4" class="t">Memory</text>
<text x="177" y="16.6" class="n" text-anchor="end">n = 7568</text>
<text x="319.3" y="16.6" class="n" text-anchor="end">n = 2114</text>
<text x="49" y="296.3" class="t">Naive</text>
<text x="191.2" y="296.3" class="t">Memory</text>
<text x="175.8" y="296.6" class="n" text-anchor="end">n = 1983</text>
<text x="318.6" y="296.6" class="n" text-anchor="end">n = 2170</text>
<text x="49" y="584.2" class="t">Naive</text>
<text x="191" y="573.2" class="t">Memory</text>
<text x="176" y="584.3" class="n" text-anchor="end">n = 2497</text>
<text x="318.7" y="584.3" class="n" text-anchor="end">n = 1378</text>
<text x="456.2" y="584.3" class="n" text-anchor="end">n = 1283</text>
<text x="191.9" y="584.1" class="fas">FAS<tspan class="sup" dy="-3.2">c.3G&gt;T/c.3G&gt;T</tspan></text>
<text x="329.8" y="584.1" class="fas">FAS<tspan class="sup" dy="-3.2">wt/c.3G&gt;T</tspan></text>
<text x="324.4" y="144.7" class="bl">HD</text>
<text x="325.4" y="425.2" class="bl">P1</text>
<text x="463.5" y="713.8" class="bl">P2</text>
<text x="320.2" y="271.6" class="t">D Genes</text>
<text x="320.2" y="553.8" class="t">D Genes</text>
<text x="458.2" y="841.5" class="t">D Genes</text>
<text transform="translate(28.7,141.7) rotate(-90)" class="t" text-anchor="middle">V Genes</text>
<text transform="translate(29.3,421.8) rotate(-90)" class="t" text-anchor="middle">V Genes</text>
<text transform="translate(18.3,698.4) rotate(-90)" class="t" text-anchor="middle">V Genes</text>
<text x="419.5" y="380.9" class="t">Relative frequency</text>
<defs><linearGradient id="cb" x1="0" y1="1" x2="0" y2="0">
<stop offset="0" stop-color="#FFE000"/><stop offset="0.12" stop-color="#FBB040"/><stop offset="0.27" stop-color="#EA9078"/>
<stop offset="0.5" stop-color="#C864C4"/><stop offset="0.75" stop-color="#8C38E4"/><stop offset="1" stop-color="#1A00F5"/></linearGradient></defs>
<rect x="448.7" y="400.1" width="13.8" height="57.9" fill="url(#cb)"/>
<line x1="448.7" x2="451.5" y1="401.50" y2="401.50" stroke="#fff" stroke-width="0.5" stroke-opacity="0.5"/>
<line x1="459.7" x2="462.5" y1="401.50" y2="401.50" stroke="#fff" stroke-width="0.5" stroke-opacity="0.5"/>
<text x="465.1" y="405.20" class="lg">1.00</text>
<line x1="448.7" x2="451.5" y1="415.08" y2="415.08" stroke="#fff" stroke-width="0.5" stroke-opacity="0.5"/>
<line x1="459.7" x2="462.5" y1="415.08" y2="415.08" stroke="#fff" stroke-width="0.5" stroke-opacity="0.5"/>
<text x="465.1" y="418.78" class="lg">0.75</text>
<line x1="448.7" x2="451.5" y1="428.66" y2="428.66" stroke="#fff" stroke-width="0.5" stroke-opacity="0.5"/>
<line x1="459.7" x2="462.5" y1="428.66" y2="428.66" stroke="#fff" stroke-width="0.5" stroke-opacity="0.5"/>
<text x="465.1" y="432.36" class="lg">0.50</text>
<line x1="448.7" x2="451.5" y1="442.24" y2="442.24" stroke="#fff" stroke-width="0.5" stroke-opacity="0.5"/>
<line x1="459.7" x2="462.5" y1="442.24" y2="442.24" stroke="#fff" stroke-width="0.5" stroke-opacity="0.5"/>
<text x="465.1" y="445.94" class="lg">0.25</text>
<line x1="448.7" x2="451.5" y1="455.82" y2="455.82" stroke="#fff" stroke-width="0.5" stroke-opacity="0.5"/>
<line x1="459.7" x2="462.5" y1="455.82" y2="455.82" stroke="#fff" stroke-width="0.5" stroke-opacity="0.5"/>
<text x="465.1" y="459.52" class="lg">0.00</text>
</svg>
</body></html>
